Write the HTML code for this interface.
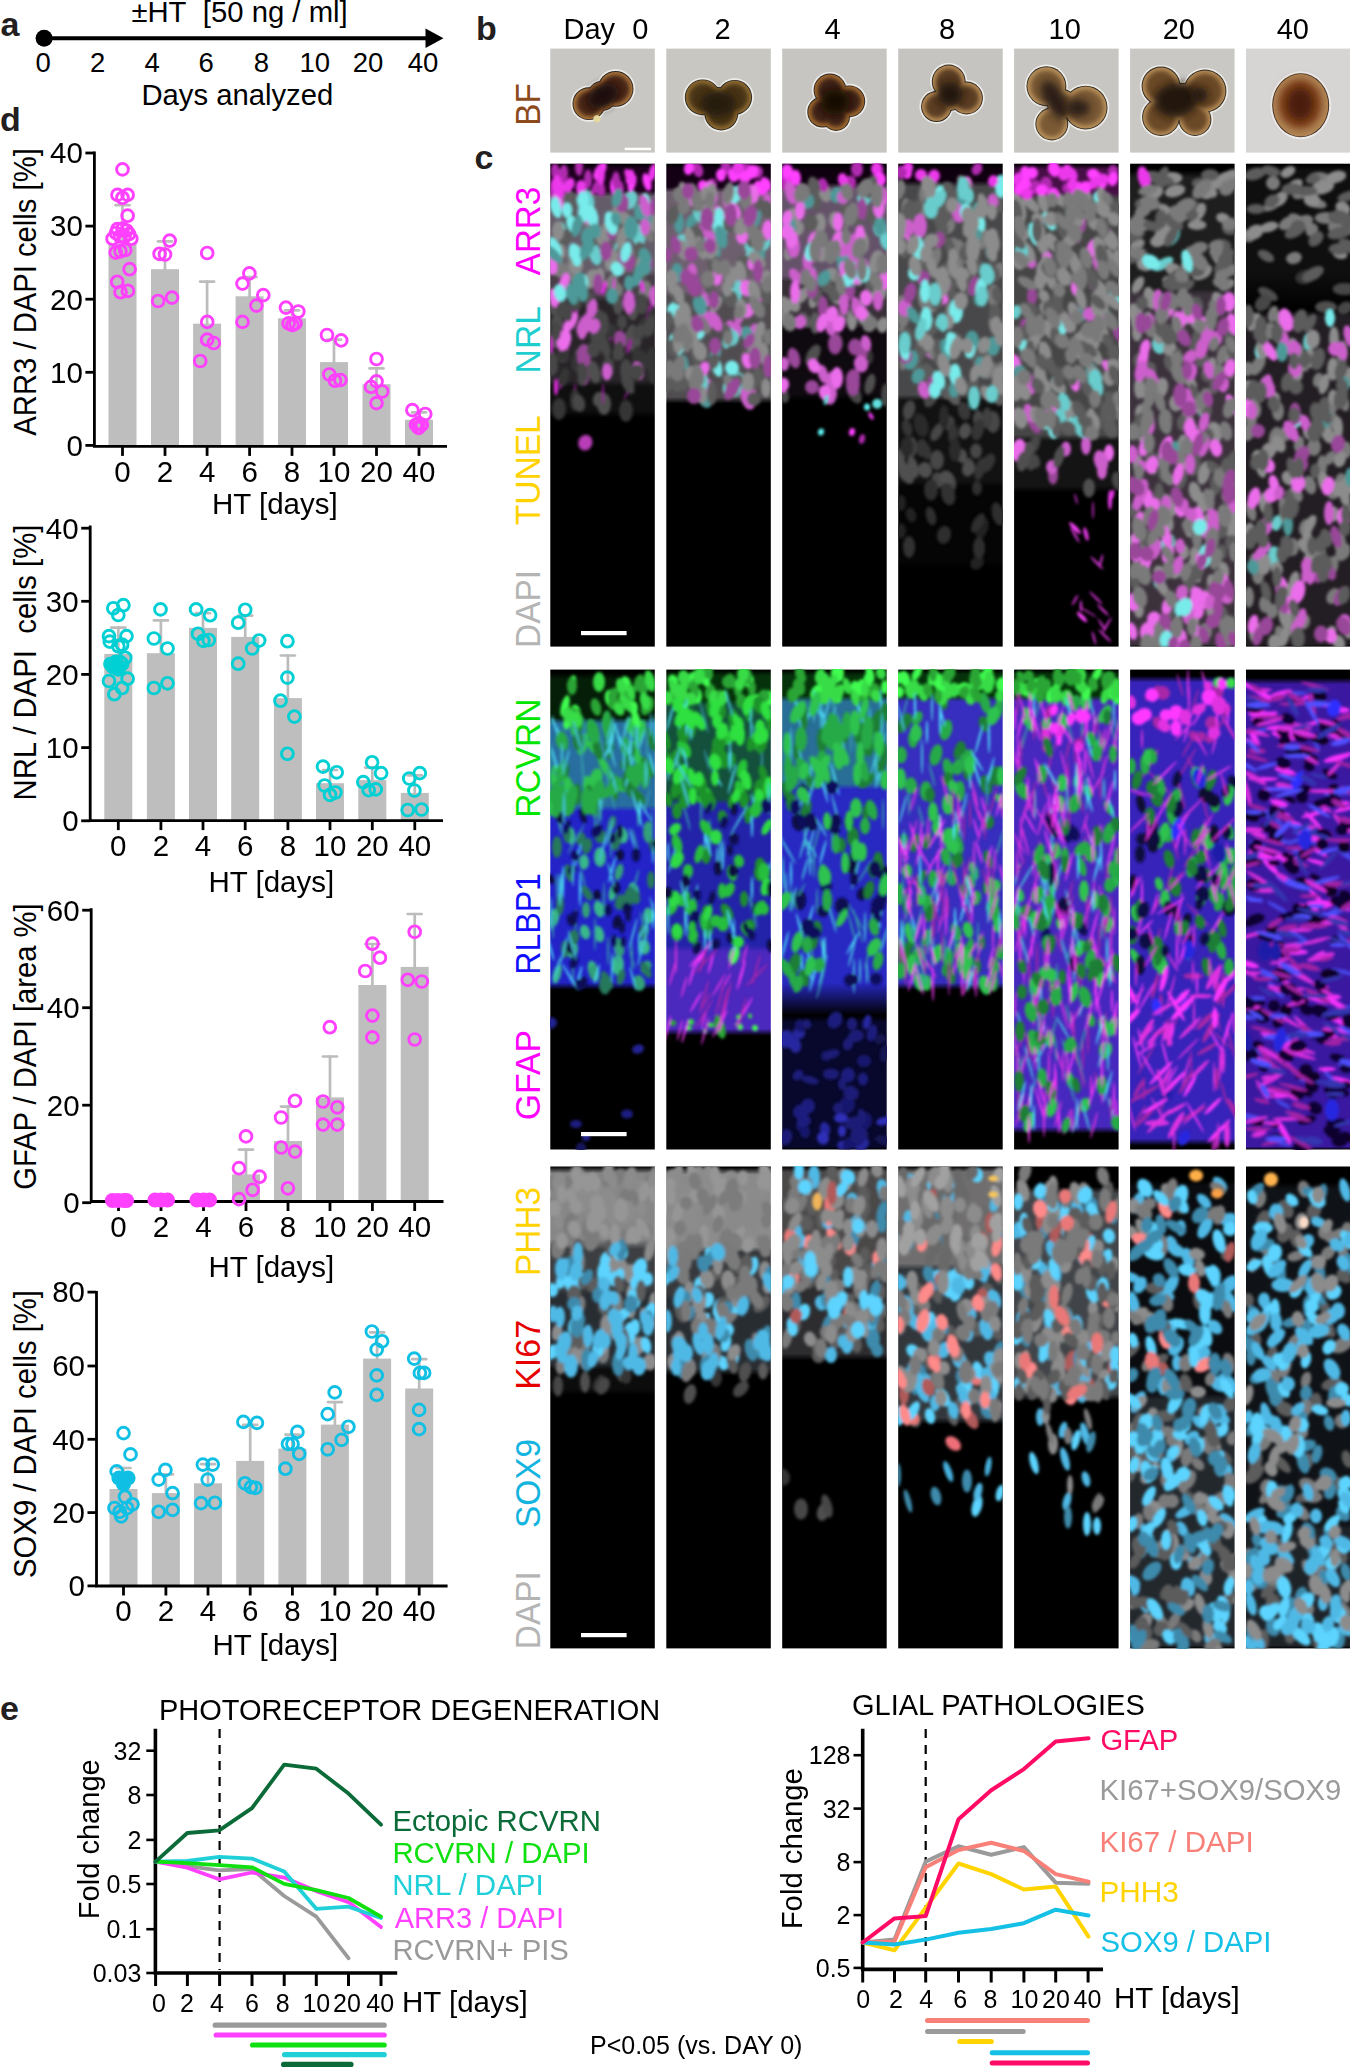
<!DOCTYPE html><html><head><meta charset="utf-8"><style>html,body{margin:0;padding:0;background:#fff;width:1350px;height:2068px;overflow:hidden}svg{display:block}text{font-family:"Liberation Sans",sans-serif}</style></head><body>
<svg width="1350" height="2068" viewBox="0 0 1350 2068" font-family="Liberation Sans, sans-serif">
<rect width="1350" height="2068" fill="#fff"/>
<text x="0.5" y="36.2" font-size="34" fill="#231f20" text-anchor="start" font-weight="bold" >a</text>
<text x="476.0" y="40.0" font-size="34" fill="#231f20" text-anchor="start" font-weight="bold" >b</text>
<text x="474.5" y="169.4" font-size="34" fill="#231f20" text-anchor="start" font-weight="bold" >c</text>
<text x="0.0" y="130.5" font-size="34" fill="#231f20" text-anchor="start" font-weight="bold" >d</text>
<text x="0.0" y="1720.0" font-size="34" fill="#231f20" text-anchor="start" font-weight="bold" >e</text>
<text x="131.4" y="22.2" font-size="29.7" fill="#000" textLength="216.3" lengthAdjust="spacingAndGlyphs">±HT&#160;&#160;[50 ng / ml]</text>
<line x1="44" y1="38.3" x2="428" y2="38.3" stroke="#000" stroke-width="4"/>
<circle cx="44.1" cy="38.2" r="8.5" fill="#000"/>
<polygon points="425.5,28.6 443.5,38.3 425.5,48" fill="#000"/>
<text x="43.2" y="72.4" font-size="27.5" fill="#000" text-anchor="middle" >0</text>
<text x="97.6" y="72.4" font-size="27.5" fill="#000" text-anchor="middle" >2</text>
<text x="152.2" y="72.4" font-size="27.5" fill="#000" text-anchor="middle" >4</text>
<text x="206.2" y="72.4" font-size="27.5" fill="#000" text-anchor="middle" >6</text>
<text x="261.3" y="72.4" font-size="27.5" fill="#000" text-anchor="middle" >8</text>
<text x="314.7" y="72.4" font-size="27.5" fill="#000" text-anchor="middle" >10</text>
<text x="368.0" y="72.4" font-size="27.5" fill="#000" text-anchor="middle" >20</text>
<text x="423.1" y="72.4" font-size="27.5" fill="#000" text-anchor="middle" >40</text>
<text x="141.4" y="104.9" font-size="29.9" fill="#000" textLength="191.9" lengthAdjust="spacingAndGlyphs">Days analyzed</text>
<defs><filter id="bl1" x="-20%" y="-20%" width="140%" height="140%"><feGaussianBlur stdDeviation="1.8"/></filter><filter id="bl2" x="-30%" y="-30%" width="160%" height="160%"><feGaussianBlur stdDeviation="2"/></filter><filter id="bl3" x="-10%" y="-10%" width="120%" height="120%"><feGaussianBlur stdDeviation="4"/></filter><filter id="bl4" x="-50%" y="-50%" width="200%" height="200%"><feGaussianBlur stdDeviation="4"/></filter></defs>
<rect x="550.3" y="48.6" width="104.5" height="104.0" fill="#c8c7c3"/>
<rect x="666.3" y="48.6" width="104.5" height="104.0" fill="#c9c7c2"/>
<rect x="782.2" y="48.6" width="104.5" height="104.0" fill="#c7c5c1"/>
<rect x="898.2" y="48.6" width="104.5" height="104.0" fill="#c6c4c0"/>
<rect x="1014.1" y="48.6" width="104.5" height="104.0" fill="#c8c6c2"/>
<rect x="1130.1" y="48.6" width="104.5" height="104.0" fill="#cac8c4"/>
<rect x="1246.0" y="48.6" width="104.0" height="104.0" fill="#d6d5d4"/>
<circle cx="588.9" cy="103.7" r="18.1" fill="#efeee9"/>
<circle cx="602" cy="96" r="16.6" fill="#efeee9"/>
<circle cx="615.6" cy="88.9" r="19.6" fill="#efeee9"/>
<circle cx="588.9" cy="103.7" r="16.4" fill="#2b2826"/>
<circle cx="602" cy="96" r="14.9" fill="#2b2826"/>
<circle cx="615.6" cy="88.9" r="17.9" fill="#2b2826"/>
<circle cx="588.9" cy="103.7" r="15.5" fill="#a8743c"/>
<circle cx="602" cy="96" r="14" fill="#a8743c"/>
<circle cx="615.6" cy="88.9" r="17" fill="#a8743c"/>
<circle cx="588.9" cy="103.7" r="12.3" fill="#4a2716" filter="url(#bl2)"/>
<circle cx="602" cy="96" r="10.8" fill="#4a2716" filter="url(#bl2)"/>
<circle cx="615.6" cy="88.9" r="13.8" fill="#4a2716" filter="url(#bl2)"/>
<ellipse cx="603" cy="96" rx="17" ry="11" transform="rotate(-30 603 96)" fill="#1c0c08" filter="url(#bl4)"/>
<circle cx="597" cy="118.8" r="3.6" fill="#e6d9a0"/>
<circle cx="702.7" cy="97.3" r="19.6" fill="#efeee9"/>
<circle cx="734.7" cy="97.3" r="19.1" fill="#efeee9"/>
<circle cx="721.3" cy="113.5" r="18.6" fill="#efeee9"/>
<circle cx="718" cy="104" r="18.6" fill="#efeee9"/>
<circle cx="702.7" cy="97.3" r="17.9" fill="#2b2826"/>
<circle cx="734.7" cy="97.3" r="17.4" fill="#2b2826"/>
<circle cx="721.3" cy="113.5" r="16.9" fill="#2b2826"/>
<circle cx="718" cy="104" r="16.9" fill="#2b2826"/>
<circle cx="702.7" cy="97.3" r="17" fill="#8e6a32"/>
<circle cx="734.7" cy="97.3" r="16.5" fill="#8e6a32"/>
<circle cx="721.3" cy="113.5" r="16" fill="#8e6a32"/>
<circle cx="718" cy="104" r="16" fill="#8e6a32"/>
<circle cx="702.7" cy="97.3" r="13.8" fill="#4a3518" filter="url(#bl2)"/>
<circle cx="734.7" cy="97.3" r="13.3" fill="#4a3518" filter="url(#bl2)"/>
<circle cx="721.3" cy="113.5" r="12.8" fill="#4a3518" filter="url(#bl2)"/>
<circle cx="718" cy="104" r="12.8" fill="#4a3518" filter="url(#bl2)"/>
<ellipse cx="718" cy="104" rx="18" ry="13" transform="rotate(0 718 104)" fill="#261a10" filter="url(#bl4)"/>
<circle cx="830" cy="90" r="18.1" fill="#efeee9"/>
<circle cx="849.3" cy="101.3" r="17.6" fill="#efeee9"/>
<circle cx="822.7" cy="112" r="17.1" fill="#efeee9"/>
<circle cx="836" cy="117" r="15.6" fill="#efeee9"/>
<circle cx="836" cy="103" r="17.6" fill="#efeee9"/>
<circle cx="830" cy="90" r="16.4" fill="#2b2826"/>
<circle cx="849.3" cy="101.3" r="15.9" fill="#2b2826"/>
<circle cx="822.7" cy="112" r="15.4" fill="#2b2826"/>
<circle cx="836" cy="117" r="13.9" fill="#2b2826"/>
<circle cx="836" cy="103" r="15.9" fill="#2b2826"/>
<circle cx="830" cy="90" r="15.5" fill="#a06a30"/>
<circle cx="849.3" cy="101.3" r="15" fill="#a06a30"/>
<circle cx="822.7" cy="112" r="14.5" fill="#a06a30"/>
<circle cx="836" cy="117" r="13" fill="#a06a30"/>
<circle cx="836" cy="103" r="15" fill="#a06a30"/>
<circle cx="830" cy="90" r="12.3" fill="#3f2412" filter="url(#bl2)"/>
<circle cx="849.3" cy="101.3" r="11.8" fill="#3f2412" filter="url(#bl2)"/>
<circle cx="822.7" cy="112" r="11.3" fill="#3f2412" filter="url(#bl2)"/>
<circle cx="836" cy="117" r="9.8" fill="#3f2412" filter="url(#bl2)"/>
<circle cx="836" cy="103" r="11.8" fill="#3f2412" filter="url(#bl2)"/>
<ellipse cx="835" cy="102" rx="15" ry="13" transform="rotate(0 835 102)" fill="#150b06" filter="url(#bl4)"/>
<circle cx="948.7" cy="81.5" r="18.6" fill="#efeee9"/>
<circle cx="936.5" cy="106.5" r="17.1" fill="#efeee9"/>
<circle cx="966.5" cy="98" r="18.1" fill="#efeee9"/>
<circle cx="950" cy="96" r="16.6" fill="#efeee9"/>
<circle cx="948.7" cy="81.5" r="16.9" fill="#2b2826"/>
<circle cx="936.5" cy="106.5" r="15.4" fill="#2b2826"/>
<circle cx="966.5" cy="98" r="16.4" fill="#2b2826"/>
<circle cx="950" cy="96" r="14.9" fill="#2b2826"/>
<circle cx="948.7" cy="81.5" r="16" fill="#b68a55"/>
<circle cx="936.5" cy="106.5" r="14.5" fill="#b68a55"/>
<circle cx="966.5" cy="98" r="15.5" fill="#b68a55"/>
<circle cx="950" cy="96" r="14" fill="#b68a55"/>
<circle cx="948.7" cy="81.5" r="12.8" fill="#5a3c22" filter="url(#bl2)"/>
<circle cx="936.5" cy="106.5" r="11.3" fill="#5a3c22" filter="url(#bl2)"/>
<circle cx="966.5" cy="98" r="12.3" fill="#5a3c22" filter="url(#bl2)"/>
<circle cx="950" cy="96" r="10.8" fill="#5a3c22" filter="url(#bl2)"/>
<ellipse cx="950" cy="94" rx="13" ry="12" transform="rotate(0 950 94)" fill="#24170d" filter="url(#bl4)"/>
<circle cx="1046.4" cy="86.2" r="21.6" fill="#efeee9"/>
<circle cx="1085.6" cy="107.6" r="23.6" fill="#efeee9"/>
<circle cx="1051.8" cy="124" r="18.1" fill="#efeee9"/>
<circle cx="1062" cy="104" r="16.6" fill="#efeee9"/>
<circle cx="1046.4" cy="86.2" r="19.9" fill="#2b2826"/>
<circle cx="1085.6" cy="107.6" r="21.9" fill="#2b2826"/>
<circle cx="1051.8" cy="124" r="16.4" fill="#2b2826"/>
<circle cx="1062" cy="104" r="14.9" fill="#2b2826"/>
<circle cx="1046.4" cy="86.2" r="19" fill="#b8905a"/>
<circle cx="1085.6" cy="107.6" r="21" fill="#b8905a"/>
<circle cx="1051.8" cy="124" r="15.5" fill="#b8905a"/>
<circle cx="1062" cy="104" r="14" fill="#b8905a"/>
<circle cx="1046.4" cy="86.2" r="15.8" fill="#7a5a35" filter="url(#bl2)"/>
<circle cx="1085.6" cy="107.6" r="17.8" fill="#7a5a35" filter="url(#bl2)"/>
<circle cx="1051.8" cy="124" r="12.3" fill="#7a5a35" filter="url(#bl2)"/>
<circle cx="1062" cy="104" r="10.8" fill="#7a5a35" filter="url(#bl2)"/>
<ellipse cx="1055" cy="100" rx="10" ry="22" transform="rotate(-30 1055 100)" fill="#2a1d12" filter="url(#bl4)"/>
<ellipse cx="1078" cy="108" rx="12" ry="9" transform="rotate(0 1078 108)" fill="#2a1d12" filter="url(#bl4)"/>
<circle cx="1161" cy="86" r="21.1" fill="#efeee9"/>
<circle cx="1205" cy="91" r="23.1" fill="#efeee9"/>
<circle cx="1161" cy="117" r="20.6" fill="#efeee9"/>
<circle cx="1195" cy="119.5" r="18.1" fill="#efeee9"/>
<circle cx="1182" cy="102" r="20.6" fill="#efeee9"/>
<circle cx="1161" cy="86" r="19.4" fill="#2b2826"/>
<circle cx="1205" cy="91" r="21.4" fill="#2b2826"/>
<circle cx="1161" cy="117" r="18.9" fill="#2b2826"/>
<circle cx="1195" cy="119.5" r="16.4" fill="#2b2826"/>
<circle cx="1182" cy="102" r="18.9" fill="#2b2826"/>
<circle cx="1161" cy="86" r="18.5" fill="#b48a55"/>
<circle cx="1205" cy="91" r="20.5" fill="#b48a55"/>
<circle cx="1161" cy="117" r="18" fill="#b48a55"/>
<circle cx="1195" cy="119.5" r="15.5" fill="#b48a55"/>
<circle cx="1182" cy="102" r="18" fill="#b48a55"/>
<circle cx="1161" cy="86" r="15.3" fill="#6a4a28" filter="url(#bl2)"/>
<circle cx="1205" cy="91" r="17.3" fill="#6a4a28" filter="url(#bl2)"/>
<circle cx="1161" cy="117" r="14.8" fill="#6a4a28" filter="url(#bl2)"/>
<circle cx="1195" cy="119.5" r="12.3" fill="#6a4a28" filter="url(#bl2)"/>
<circle cx="1182" cy="102" r="14.8" fill="#6a4a28" filter="url(#bl2)"/>
<ellipse cx="1176" cy="100" rx="22" ry="17" transform="rotate(-10 1176 100)" fill="#20160e" filter="url(#bl4)"/>
<ellipse cx="1200" cy="95" rx="8" ry="8" transform="rotate(0 1200 95)" fill="#20160e" filter="url(#bl4)"/>
<ellipse cx="1300.7" cy="105.3" rx="30.5" ry="34" fill="#efeeed"/>
<ellipse cx="1300.7" cy="105.3" rx="28.5" ry="32" fill="#3a2a22"/>
<ellipse cx="1300.7" cy="105.3" rx="27.6" ry="31.2" fill="#b3885a"/>
<ellipse cx="1300" cy="104" rx="22" ry="25" fill="#7a3c18" filter="url(#bl4)"/>
<ellipse cx="1300" cy="104" rx="13" ry="16" fill="#4a1a08" filter="url(#bl4)"/>
<rect x="624.7" y="147.7" width="26.4" height="2.5" fill="#fff"/>
<linearGradient id="g00" x1="0" y1="0" x2="0" y2="1"><stop offset="0.000" stop-color="#000000"/><stop offset="0.010" stop-color="#1e001e"/><stop offset="0.056" stop-color="#1e001e"/><stop offset="0.068" stop-color="#645c69"/><stop offset="0.222" stop-color="#645c69"/><stop offset="0.234" stop-color="#483e48"/><stop offset="0.273" stop-color="#483e48"/><stop offset="0.286" stop-color="#282428"/><stop offset="0.449" stop-color="#282428"/><stop offset="0.462" stop-color="#0f0f0f"/><stop offset="0.511" stop-color="#0f0f0f"/><stop offset="0.526" stop-color="#000000"/></linearGradient>
<rect x="550.3" y="163.7" width="104.5" height="482.9" fill="url(#g00)"/>
<g clip-path="url(#c00)" filter="url(#bl1)">
<g fill="#69cdcd"><use href="#p29" x="560" y="229"/><use href="#p40" x="638" y="235"/><use href="#p46" x="627" y="202"/><use href="#p50" x="620" y="248"/><use href="#p39" x="588" y="200"/><use href="#p22" x="595" y="254"/><use href="#p33" x="642" y="270"/><use href="#p63" x="631" y="200"/></g>
<g fill="#5b5b5b"><use href="#p18" x="569" y="217"/><use href="#p30" x="620" y="227"/><use href="#p36" x="596" y="238"/><use href="#p41" x="617" y="260"/><use href="#p44" x="566" y="237"/><use href="#p54" x="622" y="212"/><use href="#p54" x="570" y="218"/><use href="#p42" x="641" y="251"/><use href="#p39" x="571" y="201"/><use href="#p50" x="634" y="261"/><use href="#p72" x="641" y="276"/></g>
<g fill="#ff3fff"><use href="#p0" x="630" y="177"/><use href="#p0" x="569" y="185"/><use href="#p9" x="600" y="171"/><use href="#p13" x="647" y="182"/><use href="#p5" x="632" y="183"/><use href="#p16" x="615" y="186"/></g>
<g fill="#7a7a7a"><use href="#p19" x="647" y="232"/><use href="#p20" x="627" y="258"/><use href="#p22" x="623" y="253"/><use href="#p32" x="575" y="255"/><use href="#p42" x="570" y="272"/><use href="#p60" x="589" y="218"/><use href="#p27" x="559" y="268"/><use href="#p63" x="645" y="290"/><use href="#p25" x="557" y="296"/><use href="#p74" x="612" y="282"/><use href="#p77" x="618" y="290"/></g>
<g fill="#8c8c8c"><use href="#p17" x="622" y="237"/><use href="#p16" x="607" y="230"/><use href="#p22" x="653" y="221"/><use href="#p34" x="576" y="266"/><use href="#p39" x="619" y="264"/><use href="#p48" x="560" y="252"/><use href="#p18" x="618" y="212"/><use href="#p49" x="558" y="231"/><use href="#p55" x="642" y="263"/><use href="#p55" x="611" y="260"/><use href="#p56" x="626" y="220"/><use href="#p61" x="603" y="237"/><use href="#p45" x="596" y="231"/><use href="#p67" x="600" y="277"/><use href="#p69" x="591" y="279"/></g>
<g fill="#505050"><use href="#p45" x="563" y="355"/><use href="#p45" x="557" y="323"/><use href="#p22" x="594" y="372"/><use href="#p50" x="593" y="317"/><use href="#p71" x="630" y="336"/><use href="#p47" x="619" y="353"/><use href="#p22" x="591" y="304"/><use href="#p16" x="618" y="305"/><use href="#p73" x="608" y="368"/><use href="#p67" x="633" y="311"/><use href="#p66" x="580" y="358"/><use href="#p89" x="635" y="342"/><use href="#p22" x="631" y="309"/><use href="#p91" x="583" y="355"/><use href="#p61" x="556" y="339"/><use href="#p42" x="555" y="308"/><use href="#p115" x="604" y="404"/><use href="#p117" x="598" y="399"/></g>
<g fill="#c828c8"><use href="#p100" x="632" y="306"/><use href="#p107" x="551" y="347"/></g>
<g fill="#e52ee5"><use href="#p94" x="604" y="288"/><use href="#p95" x="641" y="368"/><use href="#p104" x="568" y="339"/><use href="#p108" x="614" y="285"/><use href="#p109" x="642" y="286"/><use href="#p112" x="556" y="387"/><use href="#p111" x="577" y="308"/><use href="#p114" x="562" y="381"/></g>
<g fill="#b029b0"><use href="#p1" x="588" y="179"/><use href="#p3" x="553" y="189"/><use href="#p7" x="597" y="186"/><use href="#p8" x="616" y="180"/><use href="#p11" x="561" y="177"/><use href="#p12" x="555" y="171"/><use href="#p8" x="564" y="173"/><use href="#p3" x="579" y="166"/><use href="#p14" x="600" y="188"/><use href="#p15" x="619" y="189"/></g>
<g fill="#961e96"><use href="#p96" x="629" y="346"/><use href="#p97" x="625" y="370"/><use href="#p98" x="567" y="339"/><use href="#p99" x="603" y="394"/><use href="#p101" x="566" y="342"/><use href="#p102" x="573" y="314"/><use href="#p103" x="629" y="390"/><use href="#p105" x="573" y="302"/><use href="#p106" x="608" y="334"/><use href="#p110" x="649" y="313"/><use href="#p111" x="575" y="393"/><use href="#p113" x="579" y="362"/></g>
<g fill="#343434"><use href="#p45" x="611" y="331"/><use href="#p79" x="629" y="380"/><use href="#p73" x="644" y="328"/><use href="#p15" x="576" y="363"/><use href="#p42" x="650" y="363"/><use href="#p84" x="579" y="325"/><use href="#p84" x="589" y="322"/><use href="#p86" x="589" y="320"/><use href="#p26" x="564" y="377"/><use href="#p87" x="653" y="357"/><use href="#p45" x="563" y="354"/><use href="#p88" x="603" y="333"/><use href="#p41" x="654" y="373"/><use href="#p72" x="637" y="357"/><use href="#p90" x="644" y="360"/><use href="#p61" x="654" y="317"/><use href="#p115" x="626" y="411"/><use href="#p72" x="575" y="400"/><use href="#p115" x="559" y="409"/></g>
<g fill="#994799"><use href="#p23" x="625" y="258"/><use href="#p51" x="554" y="255"/><use href="#p53" x="622" y="203"/><use href="#p49" x="606" y="251"/><use href="#p58" x="652" y="208"/><use href="#p63" x="647" y="265"/><use href="#p64" x="630" y="263"/><use href="#p4" x="612" y="232"/><use href="#p75" x="598" y="284"/><use href="#p67" x="584" y="376"/><use href="#p27" x="620" y="340"/><use href="#p56" x="591" y="319"/><use href="#p21" x="584" y="356"/></g>
<g fill="#eb6deb"><use href="#p59" x="589" y="216"/><use href="#p62" x="551" y="265"/><use href="#p66" x="558" y="201"/><use href="#p66" x="554" y="298"/><use href="#p68" x="564" y="284"/><use href="#p20" x="564" y="340"/><use href="#p70" x="638" y="371"/><use href="#p92" x="570" y="323"/></g>
<g fill="#eb37eb"><use href="#p2" x="569" y="185"/><use href="#p4" x="581" y="188"/><use href="#p5" x="653" y="172"/><use href="#p6" x="601" y="174"/><use href="#p10" x="630" y="177"/><use href="#p16" x="557" y="185"/><use href="#p8" x="561" y="190"/></g>
<g fill="#78ebeb"><use href="#p25" x="583" y="200"/><use href="#p31" x="617" y="269"/><use href="#p35" x="556" y="208"/><use href="#p37" x="572" y="224"/><use href="#p38" x="611" y="223"/><use href="#p47" x="567" y="210"/><use href="#p22" x="592" y="216"/><use href="#p4" x="555" y="205"/><use href="#p15" x="645" y="202"/><use href="#p49" x="584" y="212"/><use href="#p11" x="577" y="258"/><use href="#p57" x="555" y="247"/><use href="#p46" x="626" y="252"/><use href="#p62" x="575" y="253"/><use href="#p70" x="560" y="293"/><use href="#p56" x="583" y="281"/></g>
<g fill="#464646"><use href="#p78" x="627" y="380"/><use href="#p34" x="594" y="349"/><use href="#p18" x="562" y="310"/><use href="#p76" x="550" y="364"/><use href="#p80" x="598" y="317"/><use href="#p82" x="637" y="372"/><use href="#p41" x="626" y="370"/><use href="#p83" x="639" y="332"/><use href="#p28" x="605" y="347"/><use href="#p39" x="566" y="311"/><use href="#p14" x="609" y="365"/><use href="#p11" x="582" y="371"/><use href="#p55" x="650" y="326"/><use href="#p49" x="552" y="366"/><use href="#p73" x="642" y="304"/><use href="#p27" x="576" y="302"/><use href="#p51" x="604" y="324"/><use href="#p85" x="618" y="351"/><use href="#p47" x="622" y="322"/><use href="#p16" x="556" y="331"/><use href="#p45" x="596" y="336"/><use href="#p93" x="583" y="377"/><use href="#p116" x="628" y="385"/><use href="#p70" x="579" y="403"/></g>
<g fill="#4e9999"><use href="#p17" x="577" y="226"/><use href="#p21" x="631" y="228"/><use href="#p24" x="553" y="254"/><use href="#p26" x="617" y="198"/><use href="#p27" x="587" y="237"/><use href="#p33" x="616" y="219"/><use href="#p43" x="646" y="218"/><use href="#p45" x="595" y="231"/><use href="#p26" x="585" y="251"/><use href="#p52" x="588" y="247"/><use href="#p42" x="645" y="257"/><use href="#p4" x="639" y="212"/><use href="#p65" x="644" y="268"/><use href="#p39" x="572" y="294"/><use href="#p16" x="583" y="292"/><use href="#p71" x="638" y="275"/><use href="#p4" x="629" y="283"/><use href="#p48" x="612" y="296"/><use href="#p76" x="578" y="284"/></g>
<g fill="#cd5fcd"><use href="#p28" x="645" y="206"/><use href="#p11" x="645" y="227"/><use href="#p73" x="655" y="296"/><use href="#p50" x="594" y="326"/><use href="#p11" x="607" y="372"/><use href="#p81" x="629" y="302"/><use href="#p55" x="585" y="325"/><use href="#p85" x="592" y="309"/><use href="#p67" x="582" y="330"/></g>
</g>
<clipPath id="c00"><rect x="550.3" y="163.7" width="104.5" height="482.9"/></clipPath>
<linearGradient id="g01" x1="0" y1="0" x2="0" y2="1"><stop offset="0.000" stop-color="#000000"/><stop offset="0.010" stop-color="#140014"/><stop offset="0.048" stop-color="#140014"/><stop offset="0.060" stop-color="#6e5f6e"/><stop offset="0.263" stop-color="#6e5f6e"/><stop offset="0.275" stop-color="#504c50"/><stop offset="0.483" stop-color="#504c50"/><stop offset="0.497" stop-color="#000000"/></linearGradient>
<rect x="666.3" y="163.7" width="104.5" height="482.9" fill="url(#g01)"/>
<g clip-path="url(#c01)" filter="url(#bl1)">
<g fill="#cd5fcd"><use href="#p62" x="719" y="215"/><use href="#p90" x="708" y="246"/><use href="#p18" x="710" y="239"/><use href="#p15" x="692" y="272"/><use href="#p35" x="769" y="204"/><use href="#p89" x="693" y="238"/><use href="#p75" x="727" y="198"/><use href="#p41" x="740" y="290"/><use href="#p143" x="704" y="234"/><use href="#p49" x="712" y="196"/><use href="#p35" x="768" y="366"/><use href="#p59" x="729" y="328"/><use href="#p17" x="740" y="314"/><use href="#p155" x="748" y="398"/><use href="#p62" x="705" y="297"/><use href="#p50" x="758" y="297"/><use href="#p43" x="736" y="330"/><use href="#p40" x="705" y="320"/><use href="#p160" x="715" y="321"/><use href="#p91" x="752" y="395"/><use href="#p73" x="755" y="334"/><use href="#p63" x="705" y="387"/></g>
<g fill="#78ebeb"><use href="#p129" x="720" y="228"/><use href="#p63" x="735" y="195"/><use href="#p32" x="753" y="256"/><use href="#p67" x="719" y="217"/><use href="#p140" x="674" y="310"/><use href="#p152" x="676" y="342"/><use href="#p141" x="699" y="328"/><use href="#p90" x="749" y="299"/><use href="#p91" x="717" y="367"/><use href="#p65" x="732" y="368"/><use href="#p117" x="681" y="339"/><use href="#p18" x="678" y="347"/><use href="#p16" x="729" y="295"/></g>
<g fill="#4e9999"><use href="#p42" x="759" y="253"/><use href="#p49" x="677" y="273"/><use href="#p93" x="691" y="223"/><use href="#p45" x="715" y="252"/><use href="#p45" x="721" y="236"/><use href="#p75" x="679" y="223"/><use href="#p76" x="754" y="218"/><use href="#p38" x="721" y="237"/><use href="#p79" x="683" y="367"/><use href="#p148" x="705" y="400"/><use href="#p43" x="747" y="334"/><use href="#p159" x="700" y="305"/><use href="#p47" x="674" y="377"/><use href="#p9" x="715" y="355"/></g>
<g fill="#b029b0"><use href="#p29" x="746" y="170"/><use href="#p121" x="698" y="170"/><use href="#p47" x="712" y="186"/><use href="#p121" x="726" y="167"/><use href="#p126" x="748" y="172"/><use href="#p45" x="748" y="172"/><use href="#p123" x="757" y="172"/></g>
<g fill="#ff3fff"><use href="#p29" x="734" y="175"/><use href="#p118" x="766" y="184"/><use href="#p119" x="760" y="188"/><use href="#p122" x="703" y="186"/><use href="#p123" x="745" y="177"/><use href="#p124" x="752" y="172"/><use href="#p125" x="721" y="175"/><use href="#p127" x="689" y="168"/><use href="#p128" x="764" y="187"/></g>
<g fill="#69cdcd"><use href="#p71" x="767" y="239"/><use href="#p53" x="705" y="248"/><use href="#p132" x="751" y="248"/><use href="#p88" x="698" y="212"/><use href="#p138" x="674" y="290"/><use href="#p72" x="738" y="291"/><use href="#p144" x="683" y="242"/><use href="#p26" x="728" y="386"/><use href="#p17" x="728" y="338"/><use href="#p56" x="740" y="380"/><use href="#p81" x="702" y="382"/><use href="#p157" x="732" y="338"/><use href="#p127" x="736" y="390"/></g>
<g fill="#5b5b5b"><use href="#p89" x="673" y="215"/><use href="#p18" x="729" y="224"/><use href="#p72" x="746" y="266"/><use href="#p49" x="742" y="266"/><use href="#p135" x="743" y="262"/><use href="#p37" x="750" y="239"/><use href="#p4" x="757" y="203"/><use href="#p139" x="696" y="203"/><use href="#p61" x="714" y="264"/><use href="#p145" x="768" y="230"/><use href="#p117" x="709" y="287"/><use href="#p40" x="697" y="236"/><use href="#p129" x="767" y="209"/><use href="#p82" x="696" y="290"/><use href="#p132" x="737" y="215"/><use href="#p133" x="713" y="362"/><use href="#p137" x="731" y="299"/><use href="#p149" x="766" y="295"/><use href="#p149" x="732" y="388"/><use href="#p91" x="727" y="333"/><use href="#p117" x="713" y="295"/><use href="#p14" x="746" y="301"/><use href="#p54" x="755" y="380"/><use href="#p127" x="738" y="381"/><use href="#p11" x="746" y="357"/><use href="#p28" x="686" y="339"/><use href="#p89" x="667" y="321"/><use href="#p25" x="760" y="310"/><use href="#p70" x="673" y="348"/><use href="#p57" x="761" y="377"/><use href="#p79" x="697" y="352"/><use href="#p51" x="712" y="393"/><use href="#p72" x="684" y="380"/><use href="#p43" x="733" y="386"/><use href="#p22" x="676" y="294"/><use href="#p49" x="678" y="335"/><use href="#p149" x="677" y="384"/><use href="#p161" x="754" y="399"/><use href="#p47" x="767" y="297"/><use href="#p63" x="668" y="383"/></g>
<g fill="#eb6deb"><use href="#p49" x="768" y="230"/><use href="#p73" x="709" y="191"/><use href="#p59" x="753" y="262"/><use href="#p87" x="752" y="194"/><use href="#p48" x="742" y="236"/><use href="#p11" x="717" y="277"/><use href="#p82" x="747" y="288"/><use href="#p50" x="694" y="199"/><use href="#p147" x="734" y="211"/><use href="#p56" x="747" y="361"/><use href="#p117" x="704" y="369"/><use href="#p151" x="684" y="326"/><use href="#p124" x="748" y="311"/></g>
<g fill="#eb37eb"><use href="#p120" x="738" y="168"/></g>
<g fill="#8c8c8c"><use href="#p35" x="684" y="192"/><use href="#p131" x="742" y="226"/><use href="#p63" x="712" y="250"/><use href="#p37" x="672" y="286"/><use href="#p53" x="708" y="212"/><use href="#p61" x="671" y="279"/><use href="#p26" x="684" y="198"/><use href="#p133" x="735" y="274"/><use href="#p121" x="727" y="289"/><use href="#p46" x="729" y="195"/><use href="#p84" x="683" y="250"/><use href="#p11" x="712" y="192"/><use href="#p136" x="757" y="260"/><use href="#p49" x="730" y="276"/><use href="#p117" x="705" y="194"/><use href="#p74" x="766" y="278"/><use href="#p146" x="701" y="248"/><use href="#p39" x="754" y="291"/><use href="#p88" x="690" y="238"/><use href="#p35" x="741" y="271"/><use href="#p91" x="679" y="295"/><use href="#p73" x="763" y="353"/><use href="#p62" x="685" y="311"/><use href="#p67" x="766" y="388"/><use href="#p30" x="716" y="304"/><use href="#p144" x="692" y="374"/><use href="#p25" x="692" y="330"/><use href="#p154" x="700" y="351"/><use href="#p76" x="755" y="344"/><use href="#p49" x="741" y="309"/><use href="#p18" x="684" y="329"/><use href="#p49" x="748" y="382"/><use href="#p72" x="679" y="319"/><use href="#p15" x="702" y="395"/><use href="#p152" x="691" y="338"/><use href="#p75" x="678" y="343"/><use href="#p93" x="760" y="330"/><use href="#p153" x="690" y="325"/></g>
<g fill="#7a7a7a"><use href="#p130" x="684" y="206"/><use href="#p43" x="679" y="195"/><use href="#p17" x="728" y="193"/><use href="#p39" x="697" y="201"/><use href="#p11" x="710" y="200"/><use href="#p14" x="717" y="267"/><use href="#p137" x="708" y="279"/><use href="#p18" x="725" y="268"/><use href="#p84" x="753" y="233"/><use href="#p52" x="768" y="284"/><use href="#p77" x="701" y="246"/><use href="#p141" x="758" y="241"/><use href="#p73" x="746" y="199"/><use href="#p47" x="732" y="218"/><use href="#p29" x="691" y="190"/><use href="#p85" x="688" y="343"/><use href="#p26" x="668" y="369"/><use href="#p117" x="739" y="312"/><use href="#p47" x="728" y="338"/><use href="#p143" x="685" y="334"/><use href="#p153" x="757" y="307"/><use href="#p39" x="695" y="385"/><use href="#p69" x="681" y="333"/><use href="#p158" x="730" y="384"/><use href="#p116" x="704" y="325"/><use href="#p63" x="679" y="365"/><use href="#p39" x="698" y="375"/><use href="#p82" x="770" y="337"/><use href="#p144" x="677" y="373"/></g>
<g fill="#994799"><use href="#p53" x="693" y="283"/><use href="#p81" x="731" y="215"/><use href="#p117" x="667" y="255"/><use href="#p134" x="710" y="246"/><use href="#p48" x="686" y="277"/><use href="#p48" x="688" y="191"/><use href="#p140" x="695" y="289"/><use href="#p141" x="707" y="219"/><use href="#p142" x="758" y="271"/><use href="#p23" x="691" y="254"/><use href="#p66" x="676" y="245"/><use href="#p20" x="750" y="216"/><use href="#p53" x="744" y="190"/><use href="#p4" x="696" y="323"/><use href="#p150" x="732" y="389"/><use href="#p156" x="749" y="341"/><use href="#p15" x="714" y="300"/><use href="#p18" x="715" y="346"/><use href="#p82" x="694" y="396"/><use href="#p45" x="698" y="325"/><use href="#p142" x="768" y="366"/><use href="#p41" x="755" y="358"/></g>
</g>
<clipPath id="c01"><rect x="666.3" y="163.7" width="104.5" height="482.9"/></clipPath>
<linearGradient id="g02" x1="0" y1="0" x2="0" y2="1"><stop offset="0.000" stop-color="#000000"/><stop offset="0.012" stop-color="#0f000f"/><stop offset="0.039" stop-color="#0f000f"/><stop offset="0.052" stop-color="#645269"/><stop offset="0.232" stop-color="#645269"/><stop offset="0.244" stop-color="#373037"/><stop offset="0.329" stop-color="#373037"/><stop offset="0.342" stop-color="#0f0a0f"/><stop offset="0.476" stop-color="#0f0a0f"/><stop offset="0.491" stop-color="#000000"/></linearGradient>
<rect x="782.2" y="163.7" width="104.5" height="482.9" fill="url(#g02)"/>
<g clip-path="url(#c02)" filter="url(#bl1)">
<g fill="#8c8c8c"><use href="#p41" x="863" y="243"/><use href="#p81" x="815" y="248"/><use href="#p167" x="854" y="265"/><use href="#p85" x="852" y="259"/><use href="#p152" x="836" y="221"/><use href="#p64" x="789" y="252"/><use href="#p168" x="831" y="275"/><use href="#p45" x="798" y="228"/><use href="#p42" x="825" y="193"/><use href="#p59" x="842" y="228"/><use href="#p67" x="853" y="212"/><use href="#p64" x="823" y="254"/><use href="#p27" x="845" y="249"/><use href="#p61" x="878" y="259"/><use href="#p67" x="874" y="265"/><use href="#p118" x="879" y="204"/><use href="#p31" x="810" y="275"/><use href="#p35" x="794" y="218"/><use href="#p49" x="820" y="223"/><use href="#p31" x="794" y="305"/><use href="#p74" x="883" y="325"/><use href="#p174" x="867" y="297"/><use href="#p176" x="880" y="292"/><use href="#p177" x="803" y="295"/><use href="#p139" x="837" y="296"/><use href="#p45" x="784" y="318"/><use href="#p26" x="814" y="299"/><use href="#p72" x="852" y="320"/><use href="#p118" x="857" y="279"/><use href="#p179" x="865" y="318"/><use href="#p70" x="785" y="305"/></g>
<g fill="#b029b0"><use href="#p120" x="793" y="180"/><use href="#p151" x="878" y="168"/><use href="#p48" x="857" y="169"/><use href="#p56" x="783" y="182"/><use href="#p33" x="823" y="185"/><use href="#p162" x="794" y="176"/><use href="#p50" x="850" y="183"/><use href="#p182" x="862" y="439"/></g>
<g fill="#69cdcd"><use href="#p44" x="849" y="270"/><use href="#p61" x="880" y="228"/><use href="#p42" x="886" y="241"/><use href="#p157" x="864" y="198"/></g>
<g fill="#505050"><use href="#p46" x="870" y="384"/><use href="#p171" x="813" y="355"/><use href="#p72" x="864" y="351"/></g>
<g fill="#eb37eb"><use href="#p125" x="876" y="169"/><use href="#p134" x="789" y="176"/><use href="#p33" x="843" y="180"/><use href="#p184" x="871" y="416"/></g>
<g fill="#ff3fff"><use href="#p29" x="787" y="171"/><use href="#p47" x="796" y="178"/><use href="#p135" x="880" y="179"/><use href="#p186" x="828" y="397"/><use href="#p187" x="852" y="432"/></g>
<g fill="#464646"><use href="#p142" x="886" y="395"/><use href="#p160" x="854" y="393"/><use href="#p33" x="784" y="396"/></g>
<g fill="#61f7f7"><use href="#p183" x="821" y="432"/><use href="#p188" x="867" y="407"/></g>
<g fill="#5b5b5b"><use href="#p88" x="859" y="223"/><use href="#p157" x="811" y="223"/><use href="#p166" x="846" y="209"/><use href="#p170" x="839" y="229"/><use href="#p42" x="815" y="201"/><use href="#p165" x="871" y="187"/><use href="#p19" x="871" y="216"/><use href="#p42" x="814" y="186"/><use href="#p59" x="843" y="316"/><use href="#p11" x="870" y="285"/><use href="#p117" x="817" y="296"/><use href="#p175" x="826" y="284"/><use href="#p18" x="856" y="309"/><use href="#p28" x="823" y="306"/><use href="#p72" x="815" y="323"/><use href="#p163" x="805" y="320"/><use href="#p43" x="819" y="280"/><use href="#p140" x="835" y="294"/></g>
<g fill="#343434"><use href="#p14" x="838" y="341"/><use href="#p37" x="868" y="355"/></g>
<g fill="#994799"><use href="#p59" x="885" y="277"/><use href="#p171" x="805" y="274"/><use href="#p72" x="862" y="209"/><use href="#p51" x="791" y="245"/><use href="#p72" x="823" y="307"/><use href="#p64" x="850" y="292"/><use href="#p81" x="812" y="287"/><use href="#p60" x="835" y="344"/><use href="#p26" x="862" y="354"/><use href="#p180" x="812" y="387"/><use href="#p137" x="855" y="347"/><use href="#p141" x="853" y="384"/><use href="#p181" x="853" y="378"/><use href="#p84" x="794" y="358"/></g>
<g fill="#4e9999"><use href="#p115" x="852" y="276"/><use href="#p82" x="807" y="201"/><use href="#p157" x="837" y="195"/><use href="#p21" x="789" y="228"/><use href="#p49" x="880" y="226"/><use href="#p169" x="844" y="261"/><use href="#p133" x="824" y="278"/><use href="#p11" x="842" y="264"/><use href="#p173" x="808" y="275"/></g>
<g fill="#cd5fcd"><use href="#p163" x="795" y="276"/><use href="#p165" x="809" y="257"/><use href="#p22" x="791" y="193"/><use href="#p22" x="815" y="248"/><use href="#p60" x="862" y="268"/><use href="#p57" x="884" y="195"/><use href="#p41" x="794" y="247"/><use href="#p70" x="853" y="253"/><use href="#p137" x="855" y="242"/><use href="#p142" x="859" y="241"/><use href="#p53" x="810" y="276"/><use href="#p29" x="843" y="197"/><use href="#p52" x="844" y="248"/><use href="#p28" x="857" y="308"/><use href="#p16" x="878" y="301"/><use href="#p72" x="844" y="304"/><use href="#p81" x="831" y="324"/><use href="#p120" x="800" y="322"/><use href="#p26" x="831" y="380"/><use href="#p66" x="823" y="374"/><use href="#p139" x="861" y="364"/><use href="#p141" x="830" y="393"/><use href="#p56" x="866" y="343"/><use href="#p77" x="784" y="364"/></g>
<g fill="#eb6deb"><use href="#p79" x="879" y="206"/><use href="#p59" x="787" y="218"/><use href="#p16" x="800" y="210"/><use href="#p76" x="886" y="278"/><use href="#p67" x="838" y="222"/><use href="#p140" x="787" y="232"/><use href="#p11" x="860" y="234"/><use href="#p65" x="856" y="277"/><use href="#p39" x="846" y="272"/><use href="#p130" x="792" y="240"/><use href="#p89" x="838" y="241"/><use href="#p34" x="815" y="240"/><use href="#p26" x="822" y="323"/><use href="#p134" x="862" y="313"/><use href="#p74" x="832" y="314"/><use href="#p130" x="839" y="324"/><use href="#p142" x="795" y="292"/><use href="#p43" x="866" y="298"/><use href="#p43" x="825" y="393"/><use href="#p41" x="837" y="378"/><use href="#p50" x="783" y="385"/><use href="#p31" x="814" y="366"/></g>
<g fill="#78ebeb"><use href="#p89" x="811" y="251"/><use href="#p53" x="863" y="273"/><use href="#p174" x="849" y="278"/></g>
<g fill="#55d7d7"><use href="#p185" x="826" y="400"/></g>
<g fill="#7a7a7a"><use href="#p60" x="883" y="264"/><use href="#p20" x="859" y="248"/><use href="#p69" x="865" y="188"/><use href="#p47" x="846" y="237"/><use href="#p164" x="803" y="192"/><use href="#p45" x="877" y="191"/><use href="#p84" x="850" y="269"/><use href="#p144" x="821" y="238"/><use href="#p41" x="877" y="197"/><use href="#p149" x="831" y="249"/><use href="#p33" x="799" y="196"/><use href="#p172" x="851" y="215"/><use href="#p74" x="831" y="256"/><use href="#p51" x="862" y="269"/><use href="#p70" x="847" y="192"/><use href="#p67" x="836" y="249"/><use href="#p79" x="815" y="250"/><use href="#p64" x="805" y="277"/><use href="#p152" x="789" y="322"/><use href="#p70" x="810" y="283"/><use href="#p146" x="840" y="284"/><use href="#p178" x="870" y="324"/><use href="#p143" x="876" y="281"/></g>
</g>
<clipPath id="c02"><rect x="782.2" y="163.7" width="104.5" height="482.9"/></clipPath>
<linearGradient id="g03" x1="0" y1="0" x2="0" y2="1"><stop offset="0.000" stop-color="#000000"/><stop offset="0.012" stop-color="#0f000f"/><stop offset="0.035" stop-color="#0f000f"/><stop offset="0.048" stop-color="#48484a"/><stop offset="0.478" stop-color="#48484a"/><stop offset="0.491" stop-color="#121212"/><stop offset="0.656" stop-color="#121212"/><stop offset="0.669" stop-color="#050505"/><stop offset="0.822" stop-color="#050505"/><stop offset="0.837" stop-color="#000000"/></linearGradient>
<rect x="898.2" y="163.7" width="104.5" height="482.9" fill="url(#g03)"/>
<g clip-path="url(#c03)" filter="url(#bl1)">
<g fill="#464646"><use href="#p115" x="993" y="422"/><use href="#p159" x="949" y="482"/><use href="#p45" x="976" y="451"/><use href="#p87" x="937" y="460"/><use href="#p43" x="938" y="480"/><use href="#p9" x="937" y="432"/><use href="#p16" x="912" y="447"/><use href="#p89" x="909" y="410"/><use href="#p44" x="931" y="398"/><use href="#p149" x="969" y="466"/><use href="#p15" x="978" y="419"/></g>
<g fill="#373737"><use href="#p42" x="964" y="411"/></g>
<g fill="#eb6deb"><use href="#p20" x="965" y="187"/><use href="#p52" x="944" y="296"/><use href="#p55" x="921" y="255"/><use href="#p18" x="905" y="235"/><use href="#p200" x="933" y="207"/><use href="#p66" x="927" y="252"/><use href="#p116" x="929" y="350"/></g>
<g fill="#212121"><use href="#p207" x="977" y="563"/><use href="#p55" x="982" y="528"/><use href="#p4" x="901" y="503"/><use href="#p121" x="911" y="515"/><use href="#p47" x="901" y="531"/></g>
<g fill="#7a7a7a"><use href="#p81" x="958" y="260"/><use href="#p11" x="959" y="248"/><use href="#p48" x="928" y="255"/><use href="#p68" x="905" y="359"/><use href="#p54" x="947" y="353"/><use href="#p153" x="965" y="186"/><use href="#p93" x="980" y="368"/><use href="#p180" x="1002" y="340"/><use href="#p48" x="929" y="192"/><use href="#p47" x="952" y="311"/><use href="#p197" x="986" y="372"/><use href="#p137" x="956" y="345"/><use href="#p11" x="984" y="237"/><use href="#p199" x="983" y="242"/><use href="#p81" x="994" y="296"/><use href="#p45" x="953" y="245"/><use href="#p47" x="920" y="219"/><use href="#p35" x="902" y="309"/><use href="#p82" x="991" y="370"/><use href="#p54" x="899" y="190"/><use href="#p27" x="903" y="318"/><use href="#p41" x="920" y="211"/><use href="#p66" x="932" y="303"/><use href="#p49" x="933" y="293"/><use href="#p91" x="903" y="336"/><use href="#p35" x="932" y="350"/><use href="#p82" x="970" y="281"/><use href="#p203" x="1001" y="371"/><use href="#p2" x="918" y="264"/><use href="#p66" x="994" y="325"/><use href="#p26" x="924" y="192"/><use href="#p72" x="906" y="209"/><use href="#p49" x="901" y="305"/><use href="#p74" x="949" y="226"/><use href="#p91" x="965" y="254"/><use href="#p4" x="927" y="310"/><use href="#p73" x="969" y="251"/><use href="#p85" x="905" y="306"/><use href="#p121" x="999" y="398"/><use href="#p85" x="936" y="257"/><use href="#p142" x="950" y="314"/><use href="#p142" x="923" y="297"/><use href="#p45" x="1000" y="270"/></g>
<g fill="#5b5b5b"><use href="#p79" x="945" y="275"/><use href="#p195" x="956" y="339"/><use href="#p117" x="980" y="294"/><use href="#p74" x="937" y="302"/><use href="#p140" x="991" y="251"/><use href="#p164" x="931" y="326"/><use href="#p40" x="911" y="216"/><use href="#p34" x="966" y="253"/><use href="#p143" x="953" y="396"/><use href="#p11" x="994" y="348"/><use href="#p18" x="950" y="287"/><use href="#p142" x="914" y="240"/><use href="#p175" x="920" y="373"/><use href="#p19" x="930" y="373"/><use href="#p177" x="949" y="391"/><use href="#p14" x="952" y="296"/><use href="#p198" x="940" y="349"/><use href="#p82" x="959" y="382"/><use href="#p69" x="922" y="263"/><use href="#p152" x="921" y="348"/><use href="#p20" x="909" y="211"/><use href="#p53" x="985" y="361"/><use href="#p91" x="950" y="247"/><use href="#p65" x="978" y="359"/><use href="#p71" x="921" y="336"/><use href="#p143" x="993" y="272"/><use href="#p74" x="914" y="222"/><use href="#p130" x="942" y="231"/><use href="#p164" x="952" y="197"/><use href="#p14" x="997" y="295"/><use href="#p88" x="997" y="395"/><use href="#p164" x="977" y="348"/><use href="#p52" x="999" y="380"/><use href="#p74" x="977" y="267"/><use href="#p33" x="999" y="372"/><use href="#p27" x="995" y="313"/><use href="#p202" x="998" y="202"/><use href="#p72" x="976" y="233"/><use href="#p53" x="947" y="191"/><use href="#p20" x="982" y="289"/><use href="#p72" x="904" y="248"/><use href="#p167" x="943" y="320"/><use href="#p18" x="917" y="357"/><use href="#p47" x="907" y="335"/><use href="#p137" x="899" y="339"/><use href="#p17" x="970" y="285"/><use href="#p45" x="940" y="359"/><use href="#p147" x="935" y="189"/><use href="#p49" x="941" y="203"/><use href="#p141" x="941" y="219"/><use href="#p45" x="973" y="386"/><use href="#p17" x="967" y="201"/><use href="#p93" x="917" y="208"/><use href="#p25" x="919" y="335"/><use href="#p79" x="947" y="210"/><use href="#p118" x="926" y="342"/></g>
<g fill="#cd5fcd"><use href="#p137" x="905" y="308"/><use href="#p149" x="924" y="390"/><use href="#p115" x="959" y="212"/><use href="#p33" x="993" y="201"/><use href="#p21" x="920" y="226"/><use href="#p18" x="908" y="228"/></g>
<g fill="#505050"><use href="#p205" x="907" y="475"/><use href="#p28" x="913" y="467"/><use href="#p77" x="962" y="456"/><use href="#p74" x="965" y="431"/><use href="#p144" x="925" y="470"/><use href="#p50" x="968" y="469"/><use href="#p65" x="946" y="478"/><use href="#p42" x="899" y="458"/><use href="#p62" x="904" y="471"/></g>
<g fill="#333333"><use href="#p41" x="909" y="547"/><use href="#p40" x="948" y="494"/></g>
<g fill="#4e9999"><use href="#p53" x="993" y="346"/><use href="#p138" x="913" y="315"/><use href="#p86" x="911" y="360"/><use href="#p159" x="982" y="367"/><use href="#p60" x="972" y="341"/><use href="#p4" x="991" y="252"/><use href="#p130" x="980" y="298"/><use href="#p26" x="976" y="211"/><use href="#p47" x="954" y="390"/><use href="#p21" x="975" y="231"/><use href="#p181" x="964" y="197"/><use href="#p83" x="918" y="376"/><use href="#p28" x="946" y="350"/></g>
<g fill="#3f3f3f"><use href="#p45" x="949" y="423"/><use href="#p75" x="987" y="418"/></g>
<g fill="#343434"><use href="#p37" x="907" y="428"/><use href="#p14" x="926" y="451"/><use href="#p68" x="980" y="469"/><use href="#p75" x="953" y="434"/><use href="#p25" x="922" y="448"/><use href="#p55" x="978" y="430"/><use href="#p206" x="988" y="463"/></g>
<g fill="#292929"><use href="#p87" x="907" y="447"/><use href="#p81" x="955" y="450"/><use href="#p51" x="944" y="417"/><use href="#p155" x="921" y="425"/></g>
<g fill="#2d2d2d"><use href="#p38" x="998" y="514"/><use href="#p208" x="978" y="523"/><use href="#p41" x="979" y="548"/><use href="#p181" x="944" y="535"/><use href="#p60" x="931" y="490"/><use href="#p47" x="977" y="488"/><use href="#p66" x="931" y="516"/></g>
<g fill="#994799"><use href="#p74" x="939" y="240"/><use href="#p25" x="945" y="284"/><use href="#p54" x="910" y="293"/><use href="#p140" x="923" y="278"/><use href="#p166" x="906" y="357"/><use href="#p87" x="934" y="385"/><use href="#p85" x="974" y="286"/></g>
<g fill="#ff3fff"><use href="#p77" x="907" y="172"/><use href="#p190" x="902" y="171"/></g>
<g fill="#78ebeb"><use href="#p117" x="970" y="351"/><use href="#p79" x="926" y="319"/><use href="#p35" x="980" y="221"/><use href="#p21" x="956" y="311"/><use href="#p81" x="918" y="248"/><use href="#p45" x="914" y="273"/><use href="#p42" x="939" y="380"/><use href="#p73" x="955" y="374"/><use href="#p71" x="938" y="197"/><use href="#p33" x="950" y="349"/><use href="#p18" x="966" y="212"/><use href="#p48" x="935" y="390"/><use href="#p35" x="904" y="350"/><use href="#p142" x="925" y="291"/><use href="#p42" x="952" y="341"/><use href="#p17" x="981" y="287"/><use href="#p81" x="1001" y="186"/></g>
<g fill="#eb37eb"><use href="#p189" x="921" y="175"/><use href="#p191" x="934" y="176"/><use href="#p192" x="993" y="181"/><use href="#p192" x="908" y="168"/></g>
<g fill="#8c8c8c"><use href="#p84" x="915" y="266"/><use href="#p48" x="999" y="374"/><use href="#p15" x="974" y="223"/><use href="#p53" x="942" y="276"/><use href="#p93" x="975" y="373"/><use href="#p86" x="991" y="238"/><use href="#p196" x="999" y="376"/><use href="#p47" x="949" y="322"/><use href="#p47" x="953" y="256"/><use href="#p48" x="927" y="184"/><use href="#p18" x="928" y="343"/><use href="#p16" x="972" y="239"/><use href="#p38" x="944" y="365"/><use href="#p115" x="993" y="244"/><use href="#p130" x="984" y="345"/><use href="#p88" x="961" y="281"/><use href="#p89" x="913" y="245"/><use href="#p79" x="930" y="190"/><use href="#p56" x="992" y="254"/><use href="#p88" x="983" y="204"/><use href="#p28" x="1000" y="384"/><use href="#p201" x="931" y="241"/><use href="#p61" x="961" y="301"/><use href="#p197" x="962" y="274"/><use href="#p159" x="969" y="217"/><use href="#p117" x="923" y="339"/><use href="#p145" x="969" y="226"/><use href="#p62" x="900" y="222"/><use href="#p145" x="986" y="366"/><use href="#p4" x="992" y="212"/><use href="#p148" x="974" y="243"/><use href="#p28" x="953" y="268"/><use href="#p172" x="1002" y="334"/><use href="#p23" x="981" y="211"/><use href="#p28" x="932" y="267"/><use href="#p138" x="987" y="394"/><use href="#p45" x="952" y="205"/><use href="#p165" x="956" y="348"/><use href="#p18" x="900" y="246"/><use href="#p27" x="996" y="326"/><use href="#p141" x="973" y="250"/><use href="#p43" x="967" y="346"/><use href="#p50" x="899" y="233"/><use href="#p150" x="943" y="288"/><use href="#p63" x="926" y="253"/><use href="#p37" x="972" y="266"/><use href="#p42" x="961" y="386"/></g>
<g fill="#b029b0"><use href="#p193" x="977" y="169"/><use href="#p194" x="901" y="173"/></g>
<g fill="#69cdcd"><use href="#p117" x="941" y="321"/><use href="#p44" x="939" y="199"/><use href="#p25" x="992" y="394"/><use href="#p81" x="935" y="294"/><use href="#p115" x="931" y="208"/><use href="#p68" x="921" y="329"/><use href="#p73" x="982" y="296"/><use href="#p81" x="963" y="188"/><use href="#p41" x="905" y="343"/><use href="#p81" x="974" y="398"/><use href="#p15" x="943" y="323"/><use href="#p204" x="987" y="274"/><use href="#p47" x="969" y="196"/></g>
</g>
<clipPath id="c03"><rect x="898.2" y="163.7" width="104.5" height="482.9"/></clipPath>
<linearGradient id="g04" x1="0" y1="0" x2="0" y2="1"><stop offset="0.000" stop-color="#000000"/><stop offset="0.012" stop-color="#460f46"/><stop offset="0.060" stop-color="#460f46"/><stop offset="0.072" stop-color="#464646"/><stop offset="0.561" stop-color="#464646"/><stop offset="0.574" stop-color="#141414"/><stop offset="0.667" stop-color="#141414"/><stop offset="0.681" stop-color="#000000"/></linearGradient>
<rect x="1014.1" y="163.7" width="104.5" height="482.9" fill="url(#g04)"/>
<g clip-path="url(#c04)" filter="url(#bl1)">
<g fill="#eb6deb"><use href="#p88" x="1074" y="381"/><use href="#p35" x="1071" y="213"/><use href="#p22" x="1079" y="221"/><use href="#p226" x="1109" y="367"/><use href="#p67" x="1053" y="404"/><use href="#p63" x="1093" y="248"/><use href="#p62" x="1015" y="364"/><use href="#p238" x="1067" y="326"/><use href="#p56" x="1076" y="289"/><use href="#p56" x="1047" y="258"/><use href="#p172" x="1018" y="450"/><use href="#p244" x="1019" y="448"/><use href="#p130" x="1018" y="449"/><use href="#p11" x="1109" y="453"/></g>
<g fill="#994799"><use href="#p158" x="1034" y="424"/><use href="#p67" x="1032" y="296"/><use href="#p22" x="1075" y="232"/><use href="#p147" x="1027" y="327"/><use href="#p37" x="1066" y="230"/><use href="#p236" x="1078" y="224"/><use href="#p149" x="1029" y="381"/><use href="#p224" x="1055" y="265"/><use href="#p57" x="1119" y="334"/><use href="#p67" x="1053" y="475"/></g>
<g fill="#4e9999"><use href="#p195" x="1085" y="347"/><use href="#p14" x="1108" y="318"/><use href="#p179" x="1020" y="373"/><use href="#p62" x="1092" y="372"/><use href="#p243" x="1078" y="314"/></g>
<g fill="#78ebeb"><use href="#p31" x="1025" y="347"/><use href="#p75" x="1068" y="423"/><use href="#p149" x="1060" y="328"/><use href="#p227" x="1101" y="198"/><use href="#p149" x="1057" y="384"/><use href="#p11" x="1069" y="206"/><use href="#p134" x="1060" y="254"/><use href="#p146" x="1034" y="234"/><use href="#p159" x="1116" y="294"/><use href="#p4" x="1044" y="270"/><use href="#p93" x="1062" y="326"/><use href="#p158" x="1049" y="221"/><use href="#p56" x="1044" y="422"/><use href="#p49" x="1054" y="429"/></g>
<g fill="#464646"><use href="#p121" x="1035" y="461"/><use href="#p46" x="1035" y="443"/><use href="#p42" x="1118" y="481"/><use href="#p47" x="1031" y="463"/></g>
<g fill="#cd5fcd"><use href="#p118" x="1016" y="416"/><use href="#p42" x="1099" y="263"/><use href="#p158" x="1028" y="385"/><use href="#p167" x="1099" y="312"/><use href="#p4" x="1093" y="282"/><use href="#p66" x="1029" y="413"/><use href="#p180" x="1090" y="314"/><use href="#p66" x="1074" y="312"/><use href="#p143" x="1029" y="259"/><use href="#p149" x="1050" y="417"/><use href="#p4" x="1108" y="236"/><use href="#p29" x="1052" y="467"/><use href="#p47" x="1066" y="449"/><use href="#p11" x="1102" y="471"/><use href="#p204" x="1101" y="461"/><use href="#p16" x="1086" y="445"/></g>
<g fill="#b029b0"><use href="#p211" x="1067" y="188"/><use href="#p162" x="1083" y="190"/><use href="#p212" x="1063" y="172"/><use href="#p120" x="1035" y="187"/><use href="#p121" x="1099" y="179"/><use href="#p215" x="1079" y="192"/><use href="#p77" x="1113" y="172"/><use href="#p45" x="1046" y="184"/><use href="#p50" x="1016" y="193"/><use href="#p247" x="1093" y="510"/><use href="#p254" x="1103" y="626"/><use href="#p256" x="1101" y="624"/><use href="#p257" x="1076" y="499"/><use href="#p261" x="1088" y="612"/></g>
<g fill="#8c8c8c"><use href="#p90" x="1076" y="217"/><use href="#p220" x="1114" y="366"/><use href="#p53" x="1108" y="410"/><use href="#p91" x="1074" y="261"/><use href="#p223" x="1034" y="338"/><use href="#p116" x="1098" y="301"/><use href="#p148" x="1098" y="310"/><use href="#p224" x="1042" y="420"/><use href="#p23" x="1051" y="219"/><use href="#p221" x="1113" y="302"/><use href="#p225" x="1095" y="224"/><use href="#p57" x="1097" y="285"/><use href="#p60" x="1085" y="199"/><use href="#p33" x="1116" y="409"/><use href="#p164" x="1038" y="330"/><use href="#p229" x="1020" y="243"/><use href="#p136" x="1088" y="336"/><use href="#p21" x="1043" y="272"/><use href="#p149" x="1076" y="266"/><use href="#p88" x="1039" y="231"/><use href="#p18" x="1046" y="264"/><use href="#p77" x="1108" y="256"/><use href="#p62" x="1040" y="375"/><use href="#p148" x="1018" y="262"/><use href="#p23" x="1100" y="325"/><use href="#p40" x="1014" y="390"/><use href="#p147" x="1024" y="392"/><use href="#p233" x="1059" y="199"/><use href="#p66" x="1102" y="196"/><use href="#p39" x="1045" y="352"/><use href="#p143" x="1044" y="385"/><use href="#p143" x="1052" y="242"/><use href="#p116" x="1075" y="350"/><use href="#p88" x="1081" y="299"/><use href="#p35" x="1103" y="304"/><use href="#p224" x="1022" y="233"/><use href="#p22" x="1042" y="243"/><use href="#p235" x="1038" y="219"/><use href="#p175" x="1111" y="240"/><use href="#p56" x="1084" y="421"/><use href="#p175" x="1101" y="332"/><use href="#p204" x="1020" y="418"/><use href="#p229" x="1069" y="407"/><use href="#p88" x="1043" y="202"/><use href="#p118" x="1045" y="309"/><use href="#p72" x="1091" y="419"/><use href="#p81" x="1032" y="341"/><use href="#p38" x="1060" y="264"/><use href="#p88" x="1119" y="410"/><use href="#p84" x="1017" y="386"/><use href="#p129" x="1103" y="209"/><use href="#p151" x="1044" y="296"/><use href="#p129" x="1064" y="277"/><use href="#p62" x="1094" y="422"/><use href="#p62" x="1099" y="246"/><use href="#p116" x="1096" y="356"/><use href="#p80" x="1077" y="345"/><use href="#p160" x="1028" y="252"/><use href="#p19" x="1066" y="320"/><use href="#p25" x="1040" y="281"/><use href="#p91" x="1051" y="280"/><use href="#p145" x="1020" y="217"/><use href="#p135" x="1066" y="413"/><use href="#p239" x="1017" y="201"/><use href="#p239" x="1031" y="204"/><use href="#p37" x="1040" y="230"/><use href="#p81" x="1100" y="252"/><use href="#p202" x="1051" y="330"/><use href="#p241" x="1100" y="289"/><use href="#p195" x="1070" y="326"/><use href="#p43" x="1109" y="378"/><use href="#p27" x="1094" y="341"/><use href="#p84" x="1119" y="260"/><use href="#p195" x="1080" y="339"/><use href="#p78" x="1106" y="257"/><use href="#p65" x="1070" y="239"/><use href="#p231" x="1058" y="386"/><use href="#p14" x="1073" y="310"/><use href="#p205" x="1098" y="307"/><use href="#p31" x="1114" y="219"/><use href="#p90" x="1095" y="375"/><use href="#p70" x="1036" y="415"/></g>
<g fill="#69cdcd"><use href="#p115" x="1095" y="380"/><use href="#p220" x="1078" y="424"/><use href="#p127" x="1016" y="312"/><use href="#p224" x="1082" y="431"/><use href="#p37" x="1061" y="417"/><use href="#p40" x="1096" y="386"/><use href="#p42" x="1064" y="402"/><use href="#p34" x="1021" y="252"/></g>
<g fill="#505050"><use href="#p27" x="1089" y="488"/><use href="#p47" x="1029" y="449"/><use href="#p54" x="1023" y="461"/><use href="#p68" x="1059" y="457"/></g>
<g fill="#ff3fff"><use href="#p209" x="1078" y="187"/><use href="#p210" x="1020" y="189"/><use href="#p127" x="1113" y="179"/><use href="#p121" x="1102" y="181"/><use href="#p215" x="1075" y="194"/><use href="#p29" x="1025" y="183"/><use href="#p216" x="1042" y="190"/><use href="#p217" x="1032" y="173"/><use href="#p77" x="1025" y="173"/><use href="#p50" x="1053" y="195"/><use href="#p43" x="1054" y="169"/><use href="#p218" x="1067" y="170"/><use href="#p219" x="1086" y="187"/><use href="#p214" x="1093" y="174"/><use href="#p249" x="1103" y="610"/><use href="#p250" x="1081" y="606"/><use href="#p251" x="1075" y="528"/><use href="#p253" x="1075" y="535"/><use href="#p255" x="1097" y="563"/><use href="#p259" x="1082" y="617"/></g>
<g fill="#eb37eb"><use href="#p162" x="1017" y="179"/><use href="#p118" x="1072" y="174"/><use href="#p213" x="1072" y="184"/><use href="#p29" x="1064" y="174"/><use href="#p192" x="1094" y="183"/><use href="#p214" x="1027" y="194"/><use href="#p214" x="1103" y="179"/><use href="#p245" x="1107" y="625"/><use href="#p246" x="1112" y="495"/><use href="#p248" x="1094" y="638"/><use href="#p252" x="1101" y="561"/><use href="#p255" x="1096" y="598"/><use href="#p109" x="1086" y="534"/><use href="#p255" x="1105" y="636"/><use href="#p258" x="1075" y="600"/><use href="#p260" x="1110" y="500"/></g>
<g fill="#5b5b5b"><use href="#p221" x="1116" y="207"/><use href="#p61" x="1103" y="228"/><use href="#p81" x="1057" y="301"/><use href="#p119" x="1108" y="341"/><use href="#p143" x="1079" y="410"/><use href="#p19" x="1088" y="390"/><use href="#p46" x="1087" y="427"/><use href="#p16" x="1030" y="350"/><use href="#p228" x="1068" y="428"/><use href="#p230" x="1090" y="350"/><use href="#p49" x="1057" y="260"/><use href="#p88" x="1017" y="210"/><use href="#p62" x="1071" y="376"/><use href="#p22" x="1092" y="279"/><use href="#p88" x="1112" y="411"/><use href="#p148" x="1070" y="207"/><use href="#p160" x="1116" y="376"/><use href="#p51" x="1037" y="230"/><use href="#p73" x="1059" y="377"/><use href="#p142" x="1105" y="413"/><use href="#p132" x="1018" y="228"/><use href="#p23" x="1114" y="352"/><use href="#p35" x="1062" y="228"/><use href="#p78" x="1072" y="204"/><use href="#p14" x="1042" y="362"/><use href="#p56" x="1060" y="219"/><use href="#p231" x="1049" y="270"/><use href="#p78" x="1060" y="248"/><use href="#p221" x="1017" y="241"/><use href="#p224" x="1031" y="309"/><use href="#p240" x="1098" y="302"/><use href="#p37" x="1051" y="366"/><use href="#p142" x="1056" y="426"/><use href="#p42" x="1049" y="310"/><use href="#p138" x="1085" y="349"/><use href="#p242" x="1055" y="309"/><use href="#p198" x="1110" y="428"/><use href="#p148" x="1038" y="386"/><use href="#p243" x="1085" y="422"/><use href="#p91" x="1110" y="401"/><use href="#p67" x="1055" y="335"/><use href="#p38" x="1102" y="256"/><use href="#p11" x="1026" y="332"/><use href="#p14" x="1104" y="226"/></g>
<g fill="#7a7a7a"><use href="#p222" x="1088" y="206"/><use href="#p70" x="1099" y="324"/><use href="#p220" x="1062" y="341"/><use href="#p143" x="1111" y="321"/><use href="#p151" x="1107" y="198"/><use href="#p118" x="1031" y="361"/><use href="#p62" x="1050" y="267"/><use href="#p51" x="1082" y="278"/><use href="#p142" x="1040" y="325"/><use href="#p25" x="1071" y="355"/><use href="#p149" x="1032" y="322"/><use href="#p175" x="1065" y="251"/><use href="#p56" x="1118" y="399"/><use href="#p160" x="1053" y="318"/><use href="#p231" x="1081" y="197"/><use href="#p79" x="1096" y="330"/><use href="#p232" x="1028" y="356"/><use href="#p39" x="1063" y="258"/><use href="#p164" x="1047" y="401"/><use href="#p198" x="1042" y="417"/><use href="#p143" x="1080" y="374"/><use href="#p167" x="1092" y="433"/><use href="#p234" x="1027" y="283"/><use href="#p75" x="1051" y="419"/><use href="#p137" x="1088" y="330"/><use href="#p45" x="1052" y="200"/><use href="#p158" x="1054" y="400"/><use href="#p158" x="1114" y="268"/><use href="#p152" x="1075" y="233"/><use href="#p22" x="1020" y="227"/><use href="#p31" x="1069" y="372"/><use href="#p135" x="1090" y="215"/><use href="#p35" x="1102" y="228"/><use href="#p41" x="1017" y="337"/><use href="#p237" x="1021" y="259"/><use href="#p43" x="1032" y="329"/><use href="#p136" x="1114" y="289"/><use href="#p233" x="1063" y="222"/><use href="#p158" x="1077" y="346"/><use href="#p144" x="1024" y="377"/><use href="#p18" x="1071" y="215"/><use href="#p39" x="1086" y="258"/><use href="#p31" x="1059" y="290"/><use href="#p233" x="1076" y="211"/><use href="#p167" x="1086" y="360"/><use href="#p78" x="1026" y="311"/><use href="#p134" x="1077" y="317"/><use href="#p16" x="1073" y="349"/><use href="#p116" x="1078" y="281"/><use href="#p62" x="1103" y="270"/><use href="#p25" x="1095" y="399"/><use href="#p149" x="1041" y="421"/><use href="#p198" x="1071" y="202"/></g>
</g>
<clipPath id="c04"><rect x="1014.1" y="163.7" width="104.5" height="482.9"/></clipPath>
<linearGradient id="g05" x1="0" y1="0" x2="0" y2="1"><stop offset="0.014" stop-color="#000000"/><stop offset="0.029" stop-color="#1e1e1e"/><stop offset="0.259" stop-color="#1e1e1e"/><stop offset="0.271" stop-color="#3c323c"/><stop offset="0.996" stop-color="#3c323c"/><stop offset="1.000" stop-color="#000000"/></linearGradient>
<rect x="1130.1" y="163.7" width="104.5" height="482.9" fill="url(#g05)"/>
<g clip-path="url(#c05)" filter="url(#bl1)">
<g fill="#4e9999"><use href="#p267" x="1169" y="221"/><use href="#p30" x="1174" y="237"/><use href="#p315" x="1202" y="408"/><use href="#p157" x="1176" y="449"/></g>
<g fill="#69cdcd"><use href="#p301" x="1163" y="264"/><use href="#p203" x="1168" y="543"/><use href="#p164" x="1159" y="345"/><use href="#p55" x="1160" y="578"/></g>
<g fill="#8c8c8c"><use href="#p262" x="1223" y="218"/><use href="#p265" x="1223" y="180"/><use href="#p268" x="1218" y="249"/><use href="#p274" x="1148" y="264"/><use href="#p276" x="1155" y="193"/><use href="#p272" x="1218" y="183"/><use href="#p44" x="1199" y="212"/><use href="#p277" x="1227" y="285"/><use href="#p30" x="1138" y="285"/><use href="#p282" x="1197" y="225"/><use href="#p283" x="1205" y="194"/><use href="#p287" x="1163" y="234"/><use href="#p288" x="1164" y="223"/><use href="#p277" x="1137" y="245"/><use href="#p295" x="1172" y="282"/><use href="#p297" x="1175" y="191"/><use href="#p300" x="1222" y="182"/><use href="#p302" x="1231" y="177"/><use href="#p303" x="1145" y="264"/><use href="#p286" x="1188" y="264"/><use href="#p307" x="1173" y="269"/><use href="#p290" x="1209" y="191"/><use href="#p230" x="1166" y="211"/><use href="#p309" x="1143" y="225"/><use href="#p237" x="1220" y="259"/><use href="#p312" x="1202" y="272"/><use href="#p298" x="1208" y="189"/><use href="#p280" x="1158" y="241"/><use href="#p313" x="1172" y="178"/><use href="#p42" x="1196" y="556"/><use href="#p60" x="1148" y="638"/><use href="#p84" x="1195" y="492"/><use href="#p208" x="1190" y="315"/><use href="#p72" x="1139" y="388"/><use href="#p15" x="1174" y="570"/><use href="#p19" x="1190" y="381"/><use href="#p11" x="1183" y="443"/><use href="#p87" x="1136" y="314"/><use href="#p16" x="1138" y="465"/><use href="#p4" x="1139" y="610"/><use href="#p45" x="1204" y="504"/><use href="#p163" x="1186" y="446"/><use href="#p51" x="1176" y="638"/><use href="#p139" x="1170" y="349"/><use href="#p75" x="1233" y="517"/><use href="#p87" x="1232" y="529"/><use href="#p28" x="1150" y="543"/><use href="#p91" x="1196" y="573"/><use href="#p41" x="1151" y="463"/><use href="#p42" x="1167" y="503"/><use href="#p180" x="1139" y="487"/><use href="#p134" x="1144" y="391"/><use href="#p169" x="1193" y="432"/><use href="#p72" x="1202" y="503"/><use href="#p42" x="1217" y="525"/><use href="#p25" x="1141" y="413"/><use href="#p22" x="1150" y="298"/><use href="#p44" x="1171" y="510"/><use href="#p180" x="1160" y="337"/><use href="#p37" x="1182" y="465"/><use href="#p153" x="1196" y="322"/><use href="#p41" x="1153" y="541"/><use href="#p23" x="1195" y="564"/><use href="#p47" x="1175" y="627"/><use href="#p27" x="1190" y="528"/><use href="#p67" x="1199" y="524"/><use href="#p28" x="1168" y="520"/><use href="#p47" x="1184" y="552"/><use href="#p59" x="1229" y="355"/><use href="#p43" x="1166" y="514"/><use href="#p39" x="1137" y="324"/><use href="#p132" x="1160" y="573"/><use href="#p164" x="1192" y="526"/><use href="#p11" x="1148" y="320"/><use href="#p11" x="1137" y="333"/><use href="#p72" x="1228" y="481"/><use href="#p42" x="1188" y="421"/><use href="#p66" x="1142" y="435"/><use href="#p81" x="1223" y="516"/><use href="#p39" x="1146" y="543"/><use href="#p119" x="1151" y="467"/><use href="#p19" x="1162" y="587"/><use href="#p159" x="1215" y="432"/><use href="#p121" x="1187" y="416"/><use href="#p91" x="1133" y="545"/><use href="#p62" x="1213" y="584"/><use href="#p18" x="1176" y="570"/><use href="#p22" x="1218" y="303"/><use href="#p65" x="1226" y="471"/><use href="#p115" x="1213" y="609"/><use href="#p15" x="1133" y="312"/><use href="#p165" x="1204" y="473"/><use href="#p176" x="1161" y="388"/><use href="#p93" x="1211" y="366"/><use href="#p45" x="1144" y="568"/><use href="#p137" x="1176" y="403"/><use href="#p127" x="1208" y="520"/><use href="#p81" x="1193" y="621"/><use href="#p146" x="1231" y="339"/><use href="#p22" x="1199" y="403"/><use href="#p11" x="1219" y="302"/><use href="#p14" x="1224" y="570"/></g>
<g fill="#5b5b5b"><use href="#p263" x="1161" y="181"/><use href="#p264" x="1221" y="244"/><use href="#p269" x="1152" y="226"/><use href="#p27" x="1161" y="219"/><use href="#p271" x="1140" y="253"/><use href="#p272" x="1196" y="271"/><use href="#p273" x="1224" y="265"/><use href="#p272" x="1210" y="175"/><use href="#p208" x="1171" y="237"/><use href="#p279" x="1150" y="177"/><use href="#p268" x="1186" y="286"/><use href="#p285" x="1164" y="180"/><use href="#p289" x="1143" y="204"/><use href="#p290" x="1175" y="224"/><use href="#p291" x="1200" y="183"/><use href="#p292" x="1175" y="214"/><use href="#p296" x="1174" y="286"/><use href="#p294" x="1224" y="247"/><use href="#p298" x="1203" y="189"/><use href="#p304" x="1133" y="256"/><use href="#p265" x="1226" y="257"/><use href="#p305" x="1187" y="213"/><use href="#p306" x="1169" y="282"/><use href="#p170" x="1162" y="176"/><use href="#p268" x="1176" y="275"/><use href="#p308" x="1133" y="235"/><use href="#p310" x="1230" y="228"/><use href="#p288" x="1190" y="209"/><use href="#p51" x="1231" y="368"/><use href="#p29" x="1149" y="500"/><use href="#p15" x="1178" y="359"/><use href="#p59" x="1177" y="356"/><use href="#p130" x="1140" y="421"/><use href="#p84" x="1189" y="582"/><use href="#p138" x="1199" y="435"/><use href="#p15" x="1160" y="328"/><use href="#p56" x="1230" y="349"/><use href="#p88" x="1230" y="468"/><use href="#p172" x="1149" y="373"/><use href="#p176" x="1166" y="422"/><use href="#p89" x="1198" y="337"/><use href="#p130" x="1230" y="596"/><use href="#p47" x="1209" y="436"/><use href="#p90" x="1135" y="513"/><use href="#p56" x="1177" y="319"/><use href="#p46" x="1195" y="466"/><use href="#p40" x="1167" y="334"/><use href="#p157" x="1140" y="360"/><use href="#p140" x="1202" y="360"/><use href="#p49" x="1146" y="538"/><use href="#p127" x="1201" y="449"/><use href="#p73" x="1216" y="484"/><use href="#p46" x="1143" y="427"/><use href="#p48" x="1207" y="374"/><use href="#p55" x="1233" y="461"/><use href="#p144" x="1232" y="543"/><use href="#p17" x="1169" y="612"/><use href="#p129" x="1205" y="440"/><use href="#p49" x="1195" y="349"/><use href="#p18" x="1220" y="530"/><use href="#p25" x="1227" y="466"/><use href="#p4" x="1214" y="386"/><use href="#p14" x="1169" y="363"/><use href="#p55" x="1181" y="479"/><use href="#p37" x="1153" y="525"/><use href="#p9" x="1198" y="342"/><use href="#p48" x="1222" y="614"/><use href="#p77" x="1231" y="622"/><use href="#p240" x="1214" y="468"/><use href="#p28" x="1134" y="580"/><use href="#p89" x="1198" y="571"/><use href="#p177" x="1229" y="499"/><use href="#p120" x="1142" y="303"/><use href="#p60" x="1231" y="340"/><use href="#p4" x="1182" y="423"/><use href="#p88" x="1155" y="514"/><use href="#p165" x="1208" y="596"/><use href="#p47" x="1222" y="552"/><use href="#p62" x="1162" y="460"/><use href="#p77" x="1168" y="540"/><use href="#p80" x="1139" y="428"/><use href="#p70" x="1151" y="459"/><use href="#p48" x="1182" y="335"/><use href="#p117" x="1207" y="412"/><use href="#p11" x="1196" y="535"/><use href="#p35" x="1194" y="394"/><use href="#p70" x="1173" y="334"/><use href="#p16" x="1223" y="528"/><use href="#p27" x="1164" y="473"/><use href="#p129" x="1195" y="451"/><use href="#p160" x="1170" y="305"/><use href="#p149" x="1197" y="305"/><use href="#p142" x="1159" y="494"/><use href="#p130" x="1187" y="571"/><use href="#p45" x="1176" y="567"/></g>
<g fill="#eb37eb"><use href="#p38" x="1144" y="178"/></g>
<g fill="#eb6deb"><use href="#p118" x="1199" y="594"/><use href="#p49" x="1190" y="428"/><use href="#p46" x="1139" y="522"/><use href="#p64" x="1137" y="536"/><use href="#p169" x="1206" y="326"/><use href="#p16" x="1148" y="499"/><use href="#p37" x="1132" y="631"/><use href="#p314" x="1233" y="405"/><use href="#p42" x="1135" y="553"/><use href="#p138" x="1188" y="315"/><use href="#p131" x="1167" y="309"/><use href="#p61" x="1133" y="602"/><use href="#p241" x="1197" y="633"/><use href="#p9" x="1166" y="445"/><use href="#p41" x="1146" y="558"/><use href="#p18" x="1223" y="582"/><use href="#p145" x="1180" y="645"/><use href="#p87" x="1229" y="302"/><use href="#p52" x="1230" y="368"/><use href="#p35" x="1147" y="435"/><use href="#p47" x="1164" y="457"/><use href="#p68" x="1178" y="474"/><use href="#p121" x="1180" y="510"/><use href="#p35" x="1199" y="517"/><use href="#p70" x="1216" y="448"/><use href="#p154" x="1199" y="443"/><use href="#p26" x="1144" y="447"/><use href="#p48" x="1198" y="611"/><use href="#p93" x="1145" y="348"/><use href="#p35" x="1164" y="310"/><use href="#p14" x="1201" y="561"/><use href="#p93" x="1167" y="606"/><use href="#p142" x="1195" y="598"/><use href="#p39" x="1233" y="324"/><use href="#p63" x="1168" y="554"/><use href="#p88" x="1166" y="536"/><use href="#p140" x="1154" y="619"/><use href="#p152" x="1196" y="438"/><use href="#p139" x="1179" y="320"/><use href="#p74" x="1154" y="506"/><use href="#p25" x="1205" y="600"/><use href="#p203" x="1147" y="631"/><use href="#p68" x="1143" y="359"/><use href="#p52" x="1152" y="465"/><use href="#p81" x="1181" y="640"/></g>
<g fill="#cd5fcd"><use href="#p117" x="1224" y="385"/><use href="#p120" x="1227" y="597"/><use href="#p65" x="1208" y="336"/><use href="#p55" x="1185" y="399"/><use href="#p55" x="1202" y="348"/><use href="#p25" x="1132" y="454"/><use href="#p75" x="1190" y="464"/><use href="#p119" x="1213" y="515"/><use href="#p149" x="1164" y="632"/><use href="#p55" x="1155" y="549"/><use href="#p91" x="1233" y="636"/><use href="#p67" x="1150" y="425"/><use href="#p51" x="1158" y="301"/><use href="#p145" x="1142" y="490"/><use href="#p47" x="1180" y="546"/><use href="#p29" x="1183" y="505"/><use href="#p45" x="1191" y="515"/><use href="#p81" x="1213" y="526"/><use href="#p138" x="1152" y="377"/><use href="#p52" x="1191" y="372"/><use href="#p73" x="1188" y="614"/><use href="#p82" x="1207" y="531"/><use href="#p55" x="1141" y="371"/><use href="#p48" x="1182" y="593"/><use href="#p33" x="1217" y="338"/><use href="#p37" x="1209" y="370"/><use href="#p59" x="1210" y="602"/><use href="#p11" x="1166" y="504"/><use href="#p67" x="1150" y="323"/><use href="#p207" x="1190" y="357"/><use href="#p35" x="1191" y="405"/><use href="#p26" x="1204" y="422"/><use href="#p14" x="1149" y="417"/><use href="#p26" x="1178" y="565"/><use href="#p64" x="1138" y="502"/><use href="#p127" x="1141" y="467"/><use href="#p77" x="1233" y="506"/><use href="#p17" x="1204" y="446"/></g>
<g fill="#7a7a7a"><use href="#p266" x="1178" y="214"/><use href="#p232" x="1193" y="254"/><use href="#p270" x="1199" y="248"/><use href="#p275" x="1227" y="188"/><use href="#p273" x="1202" y="189"/><use href="#p278" x="1199" y="261"/><use href="#p280" x="1230" y="224"/><use href="#p281" x="1233" y="270"/><use href="#p225" x="1182" y="276"/><use href="#p284" x="1150" y="203"/><use href="#p286" x="1231" y="185"/><use href="#p293" x="1148" y="190"/><use href="#p294" x="1216" y="245"/><use href="#p44" x="1137" y="221"/><use href="#p299" x="1185" y="206"/><use href="#p266" x="1135" y="227"/><use href="#p263" x="1137" y="253"/><use href="#p276" x="1143" y="211"/><use href="#p300" x="1222" y="283"/><use href="#p293" x="1224" y="274"/><use href="#p177" x="1217" y="251"/><use href="#p52" x="1135" y="570"/><use href="#p159" x="1144" y="575"/><use href="#p155" x="1139" y="529"/><use href="#p52" x="1231" y="634"/><use href="#p72" x="1149" y="391"/><use href="#p145" x="1160" y="639"/><use href="#p115" x="1225" y="516"/><use href="#p15" x="1192" y="627"/><use href="#p29" x="1228" y="640"/><use href="#p135" x="1148" y="420"/><use href="#p93" x="1145" y="428"/><use href="#p202" x="1179" y="374"/><use href="#p81" x="1177" y="627"/><use href="#p49" x="1219" y="374"/><use href="#p45" x="1177" y="359"/><use href="#p119" x="1185" y="300"/><use href="#p61" x="1205" y="632"/><use href="#p2" x="1202" y="439"/><use href="#p66" x="1177" y="325"/><use href="#p16" x="1234" y="552"/><use href="#p117" x="1214" y="344"/><use href="#p26" x="1186" y="572"/><use href="#p78" x="1168" y="554"/><use href="#p89" x="1149" y="516"/><use href="#p78" x="1232" y="345"/><use href="#p118" x="1229" y="622"/><use href="#p204" x="1140" y="597"/><use href="#p49" x="1196" y="645"/><use href="#p79" x="1213" y="539"/><use href="#p81" x="1211" y="319"/><use href="#p63" x="1229" y="409"/><use href="#p9" x="1154" y="536"/><use href="#p22" x="1165" y="423"/><use href="#p38" x="1149" y="326"/><use href="#p62" x="1226" y="431"/><use href="#p70" x="1171" y="599"/><use href="#p42" x="1220" y="478"/><use href="#p164" x="1171" y="301"/><use href="#p35" x="1160" y="402"/><use href="#p63" x="1218" y="578"/><use href="#p89" x="1160" y="629"/><use href="#p48" x="1201" y="402"/><use href="#p45" x="1164" y="464"/><use href="#p134" x="1188" y="526"/><use href="#p77" x="1210" y="496"/><use href="#p142" x="1197" y="538"/><use href="#p154" x="1164" y="515"/><use href="#p74" x="1165" y="417"/><use href="#p181" x="1162" y="315"/><use href="#p49" x="1149" y="443"/><use href="#p197" x="1179" y="457"/><use href="#p48" x="1206" y="396"/><use href="#p25" x="1168" y="570"/><use href="#p138" x="1167" y="477"/><use href="#p88" x="1209" y="499"/><use href="#p89" x="1182" y="298"/><use href="#p137" x="1133" y="432"/><use href="#p165" x="1147" y="420"/><use href="#p39" x="1233" y="628"/><use href="#p157" x="1231" y="406"/><use href="#p49" x="1157" y="647"/><use href="#p4" x="1139" y="472"/><use href="#p70" x="1152" y="386"/><use href="#p29" x="1200" y="326"/><use href="#p137" x="1187" y="447"/><use href="#p66" x="1214" y="309"/><use href="#p85" x="1222" y="355"/><use href="#p171" x="1229" y="491"/><use href="#p141" x="1147" y="645"/><use href="#p37" x="1160" y="529"/><use href="#p54" x="1163" y="517"/><use href="#p81" x="1188" y="305"/><use href="#p27" x="1164" y="303"/><use href="#p66" x="1224" y="628"/><use href="#p55" x="1216" y="559"/><use href="#p208" x="1148" y="403"/><use href="#p142" x="1210" y="542"/></g>
<g fill="#78ebeb"><use href="#p28" x="1187" y="261"/><use href="#p311" x="1151" y="262"/><use href="#p64" x="1180" y="608"/><use href="#p81" x="1205" y="556"/><use href="#p203" x="1185" y="607"/><use href="#p157" x="1200" y="527"/><use href="#p130" x="1166" y="639"/></g>
<g fill="#994799"><use href="#p71" x="1198" y="444"/><use href="#p63" x="1223" y="327"/><use href="#p80" x="1133" y="485"/><use href="#p66" x="1229" y="589"/><use href="#p165" x="1229" y="481"/><use href="#p67" x="1187" y="370"/><use href="#p129" x="1137" y="487"/><use href="#p16" x="1221" y="306"/><use href="#p65" x="1147" y="554"/><use href="#p117" x="1202" y="561"/><use href="#p14" x="1204" y="635"/><use href="#p127" x="1173" y="643"/><use href="#p47" x="1147" y="323"/><use href="#p244" x="1213" y="621"/><use href="#p43" x="1165" y="621"/><use href="#p70" x="1172" y="456"/><use href="#p139" x="1135" y="551"/><use href="#p47" x="1214" y="589"/><use href="#p73" x="1141" y="323"/><use href="#p56" x="1208" y="399"/><use href="#p85" x="1210" y="548"/><use href="#p85" x="1166" y="301"/><use href="#p73" x="1167" y="451"/><use href="#p21" x="1180" y="395"/><use href="#p197" x="1159" y="577"/><use href="#p17" x="1153" y="520"/><use href="#p21" x="1229" y="492"/><use href="#p14" x="1197" y="312"/><use href="#p170" x="1219" y="381"/><use href="#p147" x="1184" y="338"/><use href="#p75" x="1218" y="608"/><use href="#p84" x="1177" y="497"/><use href="#p157" x="1189" y="409"/><use href="#p121" x="1233" y="639"/><use href="#p179" x="1218" y="591"/><use href="#p146" x="1221" y="644"/><use href="#p74" x="1184" y="647"/></g>
</g>
<clipPath id="c05"><rect x="1130.1" y="163.7" width="104.5" height="482.9"/></clipPath>
<linearGradient id="g06" x1="0" y1="0" x2="0" y2="1"><stop offset="0.000" stop-color="#000000"/><stop offset="0.014" stop-color="#0f0f0f"/><stop offset="0.222" stop-color="#0f0f0f"/><stop offset="0.302" stop-color="#000000"/><stop offset="0.317" stop-color="#231e23"/><stop offset="0.996" stop-color="#231e23"/><stop offset="1.000" stop-color="#000000"/></linearGradient>
<rect x="1246.0" y="163.7" width="104.0" height="482.9" fill="url(#g06)"/>
<g clip-path="url(#c06)" filter="url(#bl1)">
<g fill="#505050"><use href="#p340" x="1268" y="294"/><use href="#p341" x="1326" y="307"/></g>
<g fill="#69cdcd"><use href="#p41" x="1274" y="557"/><use href="#p66" x="1283" y="341"/><use href="#p27" x="1309" y="342"/><use href="#p59" x="1277" y="523"/></g>
<g fill="#7a7a7a"><use href="#p166" x="1312" y="230"/><use href="#p317" x="1288" y="223"/><use href="#p312" x="1303" y="223"/><use href="#p320" x="1346" y="230"/><use href="#p323" x="1273" y="183"/><use href="#p324" x="1272" y="205"/><use href="#p263" x="1247" y="236"/><use href="#p325" x="1326" y="218"/><use href="#p328" x="1335" y="226"/><use href="#p280" x="1294" y="258"/><use href="#p325" x="1319" y="178"/><use href="#p234" x="1298" y="220"/><use href="#p296" x="1300" y="194"/><use href="#p337" x="1316" y="203"/><use href="#p18" x="1346" y="450"/><use href="#p206" x="1280" y="639"/><use href="#p42" x="1310" y="485"/><use href="#p160" x="1334" y="421"/><use href="#p61" x="1297" y="352"/><use href="#p15" x="1254" y="562"/><use href="#p93" x="1277" y="641"/><use href="#p80" x="1286" y="506"/><use href="#p53" x="1333" y="490"/><use href="#p44" x="1291" y="380"/><use href="#p27" x="1258" y="575"/><use href="#p200" x="1343" y="552"/><use href="#p75" x="1333" y="403"/><use href="#p72" x="1322" y="466"/><use href="#p81" x="1253" y="402"/><use href="#p130" x="1327" y="426"/><use href="#p60" x="1293" y="617"/><use href="#p75" x="1249" y="597"/><use href="#p35" x="1251" y="511"/><use href="#p39" x="1303" y="361"/><use href="#p73" x="1340" y="543"/><use href="#p159" x="1254" y="408"/><use href="#p145" x="1332" y="567"/><use href="#p181" x="1306" y="528"/><use href="#p4" x="1291" y="628"/><use href="#p140" x="1282" y="588"/><use href="#p45" x="1272" y="611"/><use href="#p34" x="1270" y="331"/><use href="#p81" x="1342" y="352"/><use href="#p25" x="1265" y="604"/><use href="#p2" x="1330" y="458"/><use href="#p14" x="1280" y="634"/><use href="#p117" x="1305" y="622"/><use href="#p199" x="1247" y="369"/><use href="#p171" x="1258" y="365"/><use href="#p59" x="1299" y="444"/><use href="#p54" x="1275" y="437"/><use href="#p198" x="1281" y="337"/><use href="#p81" x="1251" y="418"/><use href="#p145" x="1247" y="391"/><use href="#p25" x="1293" y="547"/><use href="#p68" x="1263" y="387"/><use href="#p117" x="1318" y="380"/><use href="#p81" x="1285" y="512"/><use href="#p133" x="1333" y="596"/><use href="#p25" x="1341" y="482"/><use href="#p87" x="1319" y="551"/><use href="#p45" x="1285" y="434"/><use href="#p64" x="1273" y="314"/><use href="#p49" x="1278" y="411"/><use href="#p45" x="1281" y="319"/><use href="#p66" x="1344" y="402"/><use href="#p91" x="1298" y="469"/><use href="#p61" x="1314" y="447"/><use href="#p91" x="1322" y="420"/><use href="#p157" x="1247" y="433"/><use href="#p64" x="1342" y="376"/><use href="#p147" x="1296" y="494"/></g>
<g fill="#464646"><use href="#p338" x="1263" y="303"/><use href="#p309" x="1347" y="289"/><use href="#p313" x="1343" y="289"/><use href="#p318" x="1345" y="308"/></g>
<g fill="#78ebeb"><use href="#p15" x="1330" y="318"/><use href="#p59" x="1297" y="420"/><use href="#p93" x="1260" y="349"/></g>
<g fill="#8c8c8c"><use href="#p283" x="1340" y="254"/><use href="#p319" x="1269" y="227"/><use href="#p321" x="1323" y="187"/><use href="#p322" x="1343" y="208"/><use href="#p281" x="1288" y="172"/><use href="#p327" x="1280" y="199"/><use href="#p297" x="1336" y="177"/><use href="#p303" x="1312" y="200"/><use href="#p334" x="1255" y="232"/><use href="#p277" x="1295" y="185"/><use href="#p46" x="1284" y="637"/><use href="#p47" x="1334" y="514"/><use href="#p81" x="1333" y="369"/><use href="#p163" x="1304" y="546"/><use href="#p16" x="1310" y="358"/><use href="#p37" x="1345" y="498"/><use href="#p32" x="1349" y="483"/><use href="#p39" x="1324" y="482"/><use href="#p179" x="1259" y="458"/><use href="#p64" x="1323" y="409"/><use href="#p244" x="1253" y="535"/><use href="#p127" x="1348" y="489"/><use href="#p31" x="1288" y="478"/><use href="#p145" x="1266" y="454"/><use href="#p278" x="1251" y="390"/><use href="#p147" x="1279" y="444"/><use href="#p83" x="1310" y="558"/><use href="#p9" x="1310" y="524"/><use href="#p52" x="1274" y="401"/><use href="#p41" x="1255" y="632"/><use href="#p130" x="1340" y="459"/><use href="#p81" x="1261" y="531"/><use href="#p117" x="1331" y="633"/><use href="#p115" x="1264" y="564"/><use href="#p53" x="1313" y="339"/><use href="#p91" x="1261" y="468"/><use href="#p52" x="1300" y="364"/><use href="#p87" x="1349" y="377"/><use href="#p15" x="1303" y="454"/><use href="#p142" x="1338" y="428"/><use href="#p144" x="1265" y="388"/><use href="#p82" x="1339" y="489"/><use href="#p54" x="1248" y="533"/><use href="#p9" x="1254" y="322"/><use href="#p70" x="1288" y="592"/><use href="#p43" x="1339" y="643"/><use href="#p196" x="1271" y="451"/><use href="#p49" x="1349" y="629"/><use href="#p46" x="1324" y="384"/><use href="#p134" x="1277" y="569"/><use href="#p18" x="1274" y="643"/><use href="#p85" x="1294" y="581"/><use href="#p142" x="1334" y="338"/><use href="#p47" x="1333" y="397"/><use href="#p50" x="1288" y="611"/><use href="#p77" x="1307" y="537"/><use href="#p77" x="1347" y="510"/><use href="#p38" x="1285" y="618"/><use href="#p41" x="1265" y="503"/><use href="#p149" x="1250" y="318"/><use href="#p27" x="1285" y="598"/><use href="#p11" x="1298" y="373"/><use href="#p139" x="1310" y="432"/><use href="#p66" x="1294" y="347"/><use href="#p147" x="1328" y="435"/><use href="#p60" x="1263" y="348"/></g>
<g fill="#eb6deb"><use href="#p155" x="1286" y="320"/><use href="#p26" x="1253" y="624"/><use href="#p63" x="1328" y="486"/><use href="#p55" x="1254" y="498"/><use href="#p18" x="1289" y="605"/><use href="#p23" x="1271" y="495"/><use href="#p45" x="1331" y="636"/><use href="#p60" x="1344" y="517"/><use href="#p76" x="1298" y="592"/><use href="#p66" x="1274" y="484"/><use href="#p135" x="1269" y="466"/><use href="#p181" x="1247" y="408"/><use href="#p53" x="1298" y="483"/><use href="#p57" x="1270" y="351"/><use href="#p27" x="1281" y="586"/></g>
<g fill="#343434"><use href="#p339" x="1305" y="277"/></g>
<g fill="#cd5fcd"><use href="#p56" x="1284" y="339"/><use href="#p118" x="1297" y="466"/><use href="#p17" x="1312" y="574"/><use href="#p71" x="1307" y="571"/><use href="#p51" x="1329" y="513"/><use href="#p127" x="1279" y="493"/><use href="#p66" x="1342" y="351"/><use href="#p53" x="1295" y="368"/><use href="#p17" x="1301" y="619"/><use href="#p174" x="1265" y="385"/><use href="#p197" x="1335" y="349"/><use href="#p342" x="1297" y="626"/><use href="#p160" x="1291" y="431"/><use href="#p181" x="1265" y="527"/><use href="#p18" x="1307" y="566"/><use href="#p37" x="1270" y="388"/><use href="#p51" x="1268" y="386"/><use href="#p137" x="1294" y="349"/><use href="#p14" x="1305" y="423"/><use href="#p343" x="1262" y="551"/><use href="#p88" x="1349" y="336"/><use href="#p11" x="1252" y="411"/><use href="#p135" x="1345" y="621"/></g>
<g fill="#994799"><use href="#p181" x="1338" y="444"/><use href="#p28" x="1336" y="537"/><use href="#p169" x="1344" y="626"/><use href="#p58" x="1341" y="596"/><use href="#p203" x="1266" y="626"/><use href="#p137" x="1321" y="634"/><use href="#p37" x="1283" y="605"/><use href="#p161" x="1258" y="431"/><use href="#p28" x="1281" y="598"/><use href="#p200" x="1302" y="455"/><use href="#p85" x="1258" y="636"/><use href="#p127" x="1303" y="465"/><use href="#p47" x="1326" y="563"/><use href="#p121" x="1331" y="573"/><use href="#p81" x="1295" y="414"/><use href="#p9" x="1321" y="574"/></g>
<g fill="#4e9999"><use href="#p67" x="1350" y="477"/><use href="#p130" x="1344" y="385"/><use href="#p134" x="1253" y="567"/><use href="#p49" x="1282" y="352"/><use href="#p203" x="1325" y="419"/><use href="#p72" x="1288" y="525"/></g>
<g fill="#5b5b5b"><use href="#p313" x="1292" y="189"/><use href="#p316" x="1348" y="246"/><use href="#p282" x="1256" y="209"/><use href="#p274" x="1255" y="174"/><use href="#p269" x="1271" y="171"/><use href="#p318" x="1272" y="201"/><use href="#p326" x="1266" y="256"/><use href="#p329" x="1338" y="217"/><use href="#p294" x="1313" y="179"/><use href="#p327" x="1316" y="239"/><use href="#p330" x="1313" y="274"/><use href="#p305" x="1349" y="221"/><use href="#p331" x="1306" y="191"/><use href="#p332" x="1349" y="196"/><use href="#p333" x="1339" y="233"/><use href="#p313" x="1339" y="249"/><use href="#p335" x="1295" y="231"/><use href="#p336" x="1298" y="227"/><use href="#p33" x="1327" y="417"/><use href="#p115" x="1260" y="392"/><use href="#p26" x="1316" y="564"/><use href="#p52" x="1251" y="392"/><use href="#p41" x="1263" y="460"/><use href="#p47" x="1315" y="471"/><use href="#p145" x="1323" y="408"/><use href="#p75" x="1299" y="468"/><use href="#p172" x="1318" y="359"/><use href="#p172" x="1341" y="398"/><use href="#p27" x="1323" y="573"/><use href="#p93" x="1252" y="388"/><use href="#p139" x="1249" y="541"/><use href="#p11" x="1294" y="361"/><use href="#p115" x="1298" y="638"/><use href="#p48" x="1345" y="528"/><use href="#p54" x="1341" y="370"/><use href="#p154" x="1325" y="563"/><use href="#p9" x="1310" y="323"/><use href="#p37" x="1294" y="608"/><use href="#p48" x="1263" y="540"/><use href="#p25" x="1282" y="554"/><use href="#p93" x="1286" y="510"/><use href="#p67" x="1312" y="546"/><use href="#p49" x="1277" y="333"/><use href="#p61" x="1314" y="433"/><use href="#p49" x="1261" y="326"/><use href="#p148" x="1314" y="433"/><use href="#p45" x="1294" y="415"/><use href="#p72" x="1268" y="513"/><use href="#p89" x="1287" y="382"/><use href="#p27" x="1261" y="529"/><use href="#p16" x="1346" y="514"/><use href="#p42" x="1326" y="538"/><use href="#p74" x="1305" y="360"/><use href="#p45" x="1286" y="543"/><use href="#p227" x="1255" y="535"/><use href="#p204" x="1317" y="413"/><use href="#p147" x="1318" y="426"/><use href="#p134" x="1342" y="386"/><use href="#p63" x="1344" y="595"/><use href="#p149" x="1274" y="404"/><use href="#p74" x="1256" y="462"/><use href="#p25" x="1321" y="544"/><use href="#p76" x="1300" y="321"/><use href="#p145" x="1281" y="597"/><use href="#p20" x="1292" y="509"/><use href="#p23" x="1296" y="387"/><use href="#p91" x="1266" y="591"/><use href="#p35" x="1290" y="500"/><use href="#p73" x="1288" y="547"/><use href="#p75" x="1277" y="577"/><use href="#p88" x="1292" y="468"/><use href="#p205" x="1260" y="336"/><use href="#p81" x="1248" y="316"/></g>
</g>
<clipPath id="c06"><rect x="1246.0" y="163.7" width="104.0" height="482.9"/></clipPath>
<linearGradient id="g10" x1="0" y1="0" x2="0" y2="1"><stop offset="0.006" stop-color="#000000"/><stop offset="0.021" stop-color="#051e08"/><stop offset="0.100" stop-color="#051e08"/><stop offset="0.113" stop-color="#286ea0"/><stop offset="0.283" stop-color="#286ea0"/><stop offset="0.296" stop-color="#2323c8"/><stop offset="0.652" stop-color="#2323c8"/><stop offset="0.667" stop-color="#000000"/></linearGradient>
<rect x="550.3" y="669.6" width="104.5" height="479.9" fill="url(#g10)"/>
<g clip-path="url(#c10)" filter="url(#bl1)">
<g fill="#2ec350"><use href="#p351" x="642" y="768"/><use href="#p68" x="641" y="769"/><use href="#p352" x="616" y="782"/><use href="#p353" x="552" y="803"/><use href="#p360" x="605" y="767"/><use href="#p62" x="634" y="751"/><use href="#p22" x="589" y="787"/><use href="#p355" x="574" y="723"/><use href="#p89" x="596" y="778"/><use href="#p364" x="640" y="733"/><use href="#p51" x="555" y="777"/><use href="#p366" x="569" y="788"/><use href="#p240" x="595" y="748"/><use href="#p68" x="583" y="744"/><use href="#p91" x="631" y="727"/><use href="#p26" x="588" y="802"/><use href="#p371" x="607" y="723"/></g>
<g fill="#39b88a"><use href="#p49" x="600" y="857"/><use href="#p121" x="585" y="932"/><use href="#p66" x="593" y="970"/><use href="#p25" x="572" y="949"/><use href="#p37" x="634" y="891"/><use href="#p14" x="599" y="934"/><use href="#p344" x="557" y="974"/><use href="#p149" x="622" y="835"/><use href="#p85" x="554" y="918"/><use href="#p8" x="571" y="836"/><use href="#p14" x="599" y="909"/><use href="#p5" x="613" y="892"/><use href="#p73" x="618" y="965"/><use href="#p47" x="584" y="862"/><use href="#p11" x="648" y="916"/><use href="#p134" x="644" y="947"/></g>
<g fill="#3ffc50"><use href="#p42" x="611" y="699"/><use href="#p344" x="568" y="720"/><use href="#p73" x="575" y="715"/><use href="#p345" x="565" y="706"/><use href="#p346" x="634" y="708"/><use href="#p56" x="626" y="684"/><use href="#p347" x="631" y="707"/><use href="#p348" x="572" y="683"/><use href="#p349" x="636" y="719"/></g>
<g fill="#1e7f34"><use href="#p88" x="598" y="749"/><use href="#p170" x="627" y="760"/><use href="#p354" x="614" y="788"/><use href="#p357" x="577" y="794"/><use href="#p239" x="637" y="796"/><use href="#p357" x="589" y="795"/><use href="#p361" x="651" y="739"/><use href="#p26" x="579" y="724"/><use href="#p363" x="600" y="796"/><use href="#p367" x="610" y="724"/><use href="#p26" x="630" y="752"/><use href="#p15" x="578" y="741"/><use href="#p368" x="627" y="777"/><use href="#p369" x="609" y="745"/><use href="#p19" x="648" y="767"/><use href="#p28" x="630" y="787"/><use href="#p16" x="564" y="769"/></g>
<g fill="#32a078"><use href="#p162" x="646" y="967"/><use href="#p72" x="648" y="832"/><use href="#p66" x="619" y="947"/><use href="#p407" x="619" y="872"/><use href="#p12" x="586" y="910"/><use href="#p43" x="639" y="983"/><use href="#p37" x="594" y="973"/></g>
<g fill="#29a534"><use href="#p117" x="613" y="695"/><use href="#p6" x="578" y="720"/><use href="#p77" x="613" y="703"/><use href="#p59" x="644" y="687"/><use href="#p15" x="572" y="686"/><use href="#p84" x="574" y="717"/><use href="#p47" x="621" y="704"/><use href="#p93" x="639" y="683"/><use href="#p64" x="646" y="707"/><use href="#p37" x="596" y="707"/><use href="#p91" x="624" y="696"/><use href="#p52" x="648" y="705"/><use href="#p14" x="571" y="715"/></g>
<g fill="#161661"><use href="#p440" x="581" y="1148"/></g>
<g fill="#25785a"><use href="#p59" x="644" y="931"/><use href="#p6" x="560" y="904"/><use href="#p89" x="630" y="896"/><use href="#p121" x="635" y="897"/><use href="#p405" x="565" y="949"/><use href="#p121" x="654" y="846"/><use href="#p10" x="646" y="970"/><use href="#p0" x="612" y="823"/><use href="#p26" x="616" y="841"/><use href="#p405" x="567" y="834"/><use href="#p350" x="607" y="980"/><use href="#p72" x="557" y="847"/><use href="#p70" x="595" y="809"/><use href="#p27" x="605" y="985"/><use href="#p406" x="587" y="893"/><use href="#p77" x="581" y="839"/><use href="#p59" x="587" y="846"/><use href="#p134" x="600" y="836"/><use href="#p47" x="574" y="937"/><use href="#p13" x="569" y="873"/><use href="#p348" x="621" y="977"/><use href="#p59" x="620" y="902"/><use href="#p405" x="651" y="880"/></g>
<g fill="#3496a8"><use href="#p372" x="584" y="733"/><use href="#p377" x="637" y="740"/><use href="#p378" x="583" y="773"/><use href="#p380" x="582" y="756"/><use href="#p372" x="608" y="780"/><use href="#p382" x="647" y="744"/><use href="#p380" x="601" y="806"/><use href="#p389" x="560" y="782"/><use href="#p374" x="602" y="746"/><use href="#p390" x="608" y="729"/><use href="#p384" x="647" y="801"/><use href="#p393" x="601" y="806"/><use href="#p395" x="631" y="767"/><use href="#p398" x="551" y="754"/><use href="#p402" x="612" y="798"/><use href="#p374" x="627" y="737"/><use href="#p372" x="608" y="951"/><use href="#p377" x="615" y="950"/><use href="#p409" x="595" y="934"/><use href="#p410" x="583" y="878"/><use href="#p383" x="562" y="884"/><use href="#p388" x="635" y="839"/><use href="#p380" x="604" y="899"/><use href="#p380" x="573" y="968"/><use href="#p409" x="652" y="825"/><use href="#p378" x="561" y="822"/><use href="#p386" x="600" y="815"/><use href="#p372" x="611" y="844"/><use href="#p398" x="638" y="814"/><use href="#p414" x="576" y="839"/><use href="#p413" x="632" y="959"/><use href="#p417" x="608" y="829"/><use href="#p378" x="553" y="927"/><use href="#p372" x="632" y="956"/><use href="#p375" x="557" y="886"/><use href="#p379" x="644" y="928"/><use href="#p105" x="636" y="880"/><use href="#p378" x="595" y="819"/><use href="#p104" x="576" y="920"/><use href="#p413" x="559" y="824"/></g>
<g fill="#222295"><use href="#p436" x="638" y="1049"/><use href="#p437" x="586" y="1137"/><use href="#p210" x="551" y="1023"/></g>
<g fill="#50e5ff"><use href="#p376" x="611" y="744"/><use href="#p379" x="556" y="764"/><use href="#p385" x="600" y="795"/><use href="#p386" x="611" y="739"/><use href="#p387" x="619" y="739"/><use href="#p391" x="629" y="773"/><use href="#p394" x="652" y="764"/><use href="#p396" x="567" y="800"/><use href="#p400" x="557" y="729"/><use href="#p104" x="630" y="752"/><use href="#p384" x="612" y="870"/><use href="#p390" x="563" y="882"/><use href="#p390" x="560" y="890"/><use href="#p375" x="640" y="812"/><use href="#p395" x="578" y="855"/><use href="#p376" x="597" y="974"/><use href="#p389" x="570" y="977"/><use href="#p395" x="579" y="977"/><use href="#p388" x="551" y="950"/><use href="#p380" x="580" y="889"/><use href="#p398" x="653" y="916"/></g>
<g fill="#07073c"><use href="#p422" x="597" y="895"/><use href="#p423" x="620" y="832"/><use href="#p426" x="560" y="818"/><use href="#p427" x="620" y="855"/><use href="#p430" x="654" y="847"/><use href="#p431" x="583" y="816"/><use href="#p432" x="570" y="948"/><use href="#p433" x="616" y="888"/><use href="#p434" x="551" y="879"/><use href="#p435" x="617" y="922"/></g>
<g fill="#37dc46"><use href="#p151" x="619" y="709"/><use href="#p88" x="650" y="681"/><use href="#p56" x="621" y="686"/><use href="#p49" x="599" y="682"/><use href="#p148" x="569" y="716"/><use href="#p13" x="631" y="692"/><use href="#p347" x="626" y="703"/><use href="#p56" x="577" y="719"/><use href="#p37" x="645" y="701"/></g>
<g fill="#28aa46"><use href="#p350" x="564" y="808"/><use href="#p355" x="607" y="725"/><use href="#p356" x="571" y="798"/><use href="#p358" x="612" y="788"/><use href="#p359" x="645" y="775"/><use href="#p49" x="560" y="794"/><use href="#p67" x="561" y="773"/><use href="#p85" x="615" y="786"/><use href="#p15" x="631" y="774"/><use href="#p62" x="562" y="741"/><use href="#p145" x="598" y="791"/><use href="#p71" x="555" y="792"/><use href="#p362" x="638" y="774"/><use href="#p357" x="625" y="747"/><use href="#p365" x="593" y="731"/><use href="#p17" x="557" y="807"/><use href="#p67" x="570" y="805"/><use href="#p51" x="636" y="776"/><use href="#p370" x="591" y="802"/><use href="#p356" x="592" y="802"/><use href="#p359" x="586" y="801"/></g>
<g fill="#0a0a50"><use href="#p420" x="583" y="983"/><use href="#p346" x="636" y="855"/><use href="#p128" x="572" y="920"/><use href="#p425" x="622" y="927"/><use href="#p215" x="627" y="908"/><use href="#p428" x="572" y="870"/><use href="#p429" x="612" y="838"/><use href="#p423" x="628" y="915"/></g>
<g fill="#1e1e82"><use href="#p438" x="576" y="1124"/><use href="#p439" x="627" y="1114"/></g>
<g fill="#0b0b5c"><use href="#p419" x="608" y="910"/><use href="#p182" x="575" y="915"/><use href="#p421" x="567" y="827"/><use href="#p424" x="623" y="942"/><use href="#p426" x="579" y="985"/><use href="#p429" x="575" y="856"/><use href="#p162" x="597" y="831"/><use href="#p425" x="614" y="941"/><use href="#p0" x="574" y="962"/></g>
<g fill="#46c8e1"><use href="#p373" x="562" y="756"/><use href="#p374" x="635" y="803"/><use href="#p375" x="637" y="737"/><use href="#p381" x="555" y="726"/><use href="#p383" x="624" y="760"/><use href="#p384" x="566" y="762"/><use href="#p374" x="612" y="754"/><use href="#p382" x="655" y="730"/><use href="#p104" x="651" y="725"/><use href="#p388" x="614" y="782"/><use href="#p385" x="564" y="808"/><use href="#p392" x="610" y="731"/><use href="#p376" x="642" y="739"/><use href="#p397" x="608" y="750"/><use href="#p399" x="626" y="727"/><use href="#p383" x="631" y="741"/><use href="#p401" x="577" y="735"/><use href="#p403" x="626" y="748"/><use href="#p404" x="646" y="773"/><use href="#p386" x="642" y="949"/><use href="#p111" x="653" y="854"/><use href="#p104" x="639" y="944"/><use href="#p408" x="646" y="812"/><use href="#p392" x="564" y="950"/><use href="#p402" x="611" y="875"/><use href="#p380" x="551" y="914"/><use href="#p411" x="639" y="815"/><use href="#p412" x="633" y="934"/><use href="#p393" x="557" y="969"/><use href="#p413" x="632" y="838"/><use href="#p392" x="603" y="848"/><use href="#p415" x="610" y="832"/><use href="#p387" x="654" y="912"/><use href="#p382" x="612" y="968"/><use href="#p416" x="633" y="979"/><use href="#p418" x="572" y="945"/><use href="#p103" x="643" y="931"/><use href="#p398" x="573" y="873"/><use href="#p104" x="647" y="924"/></g>
</g>
<clipPath id="c10"><rect x="550.3" y="669.6" width="104.5" height="479.9"/></clipPath>
<linearGradient id="g11" x1="0" y1="0" x2="0" y2="1"><stop offset="0.000" stop-color="#000000"/><stop offset="0.013" stop-color="#05320a"/><stop offset="0.063" stop-color="#05320a"/><stop offset="0.075" stop-color="#14503c"/><stop offset="0.269" stop-color="#14503c"/><stop offset="0.281" stop-color="#2323aa"/><stop offset="0.575" stop-color="#2323aa"/><stop offset="0.588" stop-color="#4b28be"/><stop offset="0.748" stop-color="#4b28be"/><stop offset="0.763" stop-color="#000000"/></linearGradient>
<rect x="666.3" y="669.6" width="104.5" height="479.9" fill="url(#g11)"/>
<g clip-path="url(#c11)" filter="url(#bl1)">
<g fill="#3496a8"><use href="#p381" x="707" y="760"/><use href="#p387" x="713" y="708"/><use href="#p402" x="755" y="735"/><use href="#p379" x="704" y="717"/><use href="#p380" x="762" y="763"/><use href="#p373" x="685" y="914"/><use href="#p99" x="694" y="939"/><use href="#p396" x="763" y="881"/><use href="#p383" x="701" y="810"/><use href="#p382" x="710" y="834"/><use href="#p394" x="753" y="909"/><use href="#p379" x="753" y="912"/><use href="#p457" x="709" y="838"/><use href="#p458" x="686" y="814"/></g>
<g fill="#3ffc50"><use href="#p4" x="697" y="696"/><use href="#p33" x="749" y="680"/><use href="#p47" x="699" y="677"/><use href="#p47" x="708" y="673"/><use href="#p406" x="705" y="680"/><use href="#p128" x="673" y="681"/><use href="#p43" x="757" y="702"/><use href="#p134" x="769" y="698"/><use href="#p47" x="685" y="701"/><use href="#p14" x="749" y="681"/><use href="#p45" x="694" y="679"/><use href="#p26" x="734" y="955"/><use href="#p478" x="740" y="1027"/><use href="#p475" x="755" y="1028"/><use href="#p481" x="705" y="1031"/></g>
<g fill="#29a534"><use href="#p59" x="710" y="692"/><use href="#p78" x="675" y="697"/><use href="#p12" x="738" y="689"/><use href="#p433" x="684" y="677"/><use href="#p93" x="694" y="694"/><use href="#p18" x="746" y="676"/><use href="#p121" x="731" y="681"/><use href="#p441" x="752" y="688"/><use href="#p126" x="728" y="682"/><use href="#p47" x="741" y="701"/><use href="#p123" x="764" y="696"/><use href="#p348" x="694" y="685"/><use href="#p119" x="685" y="682"/><use href="#p122" x="708" y="673"/><use href="#p12" x="685" y="697"/><use href="#p443" x="720" y="696"/><use href="#p146" x="720" y="1027"/><use href="#p476" x="737" y="1024"/><use href="#p482" x="673" y="1023"/></g>
<g fill="#e132e1"><use href="#p465" x="719" y="985"/><use href="#p376" x="704" y="1019"/><use href="#p376" x="745" y="954"/><use href="#p471" x="680" y="1030"/><use href="#p397" x="726" y="982"/><use href="#p390" x="676" y="957"/><use href="#p415" x="705" y="1031"/><use href="#p393" x="742" y="973"/><use href="#p415" x="673" y="972"/><use href="#p105" x="684" y="987"/><use href="#p474" x="720" y="1024"/><use href="#p386" x="733" y="953"/></g>
<g fill="#28c337"><use href="#p88" x="740" y="791"/><use href="#p49" x="707" y="798"/><use href="#p405" x="740" y="726"/><use href="#p446" x="736" y="734"/><use href="#p29" x="728" y="738"/><use href="#p25" x="713" y="709"/><use href="#p445" x="734" y="728"/><use href="#p1" x="749" y="712"/><use href="#p93" x="684" y="784"/><use href="#p143" x="684" y="749"/><use href="#p4" x="685" y="730"/><use href="#p449" x="703" y="795"/><use href="#p85" x="742" y="769"/><use href="#p121" x="759" y="745"/></g>
<g fill="#1e9229"><use href="#p117" x="717" y="743"/><use href="#p15" x="676" y="758"/><use href="#p75" x="667" y="762"/><use href="#p444" x="746" y="709"/><use href="#p56" x="771" y="724"/><use href="#p50" x="712" y="706"/><use href="#p15" x="687" y="717"/><use href="#p445" x="668" y="800"/><use href="#p93" x="690" y="718"/><use href="#p350" x="687" y="725"/><use href="#p11" x="716" y="753"/><use href="#p3" x="710" y="801"/><use href="#p52" x="720" y="713"/><use href="#p447" x="721" y="746"/><use href="#p405" x="747" y="781"/><use href="#p0" x="732" y="801"/><use href="#p85" x="752" y="742"/><use href="#p18" x="765" y="793"/><use href="#p52" x="685" y="800"/><use href="#p66" x="706" y="801"/><use href="#p15" x="733" y="718"/><use href="#p3" x="692" y="728"/><use href="#p448" x="666" y="740"/><use href="#p407" x="690" y="718"/><use href="#p12" x="761" y="739"/><use href="#p26" x="676" y="789"/><use href="#p4" x="731" y="760"/><use href="#p25" x="701" y="785"/><use href="#p11" x="687" y="793"/><use href="#p442" x="763" y="773"/><use href="#p93" x="759" y="787"/><use href="#p62" x="723" y="759"/><use href="#p8" x="703" y="793"/><use href="#p55" x="685" y="785"/><use href="#p70" x="759" y="705"/><use href="#p11" x="744" y="800"/><use href="#p70" x="683" y="734"/><use href="#p48" x="759" y="704"/><use href="#p85" x="762" y="744"/><use href="#p25" x="718" y="757"/><use href="#p47" x="717" y="752"/></g>
<g fill="#37dc46"><use href="#p123" x="691" y="699"/><use href="#p48" x="699" y="676"/><use href="#p43" x="684" y="678"/><use href="#p12" x="684" y="685"/><use href="#p47" x="678" y="691"/><use href="#p45" x="743" y="674"/><use href="#p59" x="723" y="698"/><use href="#p121" x="682" y="693"/><use href="#p12" x="700" y="673"/><use href="#p0" x="713" y="697"/><use href="#p135" x="667" y="698"/><use href="#p442" x="673" y="687"/><use href="#p125" x="740" y="684"/><use href="#p475" x="691" y="1022"/><use href="#p477" x="739" y="1017"/><use href="#p479" x="711" y="1025"/><use href="#p480" x="750" y="1016"/><use href="#p483" x="689" y="1028"/></g>
<g fill="#1e8e2d"><use href="#p405" x="766" y="885"/><use href="#p405" x="748" y="815"/><use href="#p426" x="706" y="922"/><use href="#p12" x="706" y="913"/><use href="#p93" x="708" y="930"/><use href="#p15" x="706" y="855"/><use href="#p56" x="723" y="818"/><use href="#p12" x="744" y="899"/><use href="#p121" x="759" y="874"/><use href="#p47" x="760" y="865"/><use href="#p52" x="749" y="928"/><use href="#p435" x="712" y="804"/><use href="#p11" x="677" y="811"/><use href="#p138" x="727" y="912"/><use href="#p433" x="697" y="947"/></g>
<g fill="#50e5ff"><use href="#p396" x="687" y="725"/><use href="#p391" x="683" y="714"/><use href="#p404" x="691" y="726"/><use href="#p378" x="668" y="769"/><use href="#p413" x="685" y="758"/><use href="#p393" x="670" y="718"/><use href="#p451" x="717" y="778"/><use href="#p452" x="732" y="779"/><use href="#p385" x="730" y="757"/><use href="#p452" x="694" y="899"/><use href="#p111" x="668" y="852"/><use href="#p390" x="734" y="935"/><use href="#p396" x="710" y="940"/><use href="#p375" x="705" y="837"/><use href="#p390" x="686" y="920"/><use href="#p373" x="705" y="937"/><use href="#p402" x="708" y="844"/><use href="#p388" x="754" y="804"/><use href="#p383" x="752" y="888"/><use href="#p398" x="752" y="824"/><use href="#p456" x="767" y="877"/><use href="#p404" x="723" y="855"/><use href="#p416" x="730" y="921"/></g>
<g fill="#0a0a50"><use href="#p420" x="697" y="948"/><use href="#p455" x="734" y="839"/><use href="#p424" x="730" y="850"/><use href="#p420" x="756" y="908"/><use href="#p433" x="693" y="924"/><use href="#p445" x="686" y="895"/><use href="#p462" x="716" y="944"/><use href="#p421" x="712" y="898"/></g>
<g fill="#2ee03f"><use href="#p0" x="736" y="796"/><use href="#p10" x="738" y="722"/><use href="#p158" x="699" y="721"/><use href="#p12" x="715" y="778"/><use href="#p47" x="717" y="721"/><use href="#p37" x="689" y="717"/><use href="#p149" x="715" y="762"/><use href="#p4" x="759" y="797"/><use href="#p26" x="715" y="708"/><use href="#p14" x="690" y="721"/><use href="#p46" x="748" y="705"/><use href="#p47" x="760" y="727"/><use href="#p35" x="746" y="780"/><use href="#p47" x="699" y="779"/><use href="#p130" x="722" y="731"/><use href="#p349" x="692" y="777"/><use href="#p58" x="682" y="717"/><use href="#p405" x="693" y="796"/><use href="#p75" x="769" y="787"/><use href="#p72" x="740" y="735"/><use href="#p14" x="669" y="766"/><use href="#p47" x="764" y="735"/><use href="#p66" x="766" y="711"/><use href="#p52" x="736" y="732"/><use href="#p58" x="680" y="774"/><use href="#p45" x="678" y="705"/><use href="#p45" x="759" y="737"/></g>
<g fill="#28be3c"><use href="#p12" x="722" y="891"/><use href="#p52" x="756" y="809"/><use href="#p128" x="739" y="861"/><use href="#p342" x="684" y="899"/><use href="#p25" x="677" y="932"/><use href="#p454" x="699" y="854"/><use href="#p74" x="691" y="907"/><use href="#p128" x="746" y="928"/><use href="#p156" x="729" y="890"/><use href="#p433" x="692" y="928"/><use href="#p77" x="688" y="871"/><use href="#p45" x="723" y="924"/><use href="#p27" x="764" y="872"/><use href="#p219" x="716" y="921"/><use href="#p127" x="693" y="936"/><use href="#p91" x="677" y="844"/><use href="#p342" x="760" y="908"/><use href="#p138" x="706" y="828"/><use href="#p1" x="704" y="921"/><use href="#p455" x="764" y="909"/><use href="#p56" x="732" y="873"/><use href="#p306" x="671" y="909"/></g>
<g fill="#46c8e1"><use href="#p450" x="685" y="792"/><use href="#p409" x="769" y="798"/><use href="#p403" x="683" y="773"/><use href="#p382" x="751" y="723"/><use href="#p374" x="729" y="703"/><use href="#p105" x="677" y="758"/><use href="#p385" x="668" y="919"/><use href="#p401" x="684" y="895"/><use href="#p399" x="687" y="888"/><use href="#p384" x="672" y="860"/><use href="#p459" x="739" y="820"/><use href="#p398" x="717" y="860"/><use href="#p372" x="720" y="853"/></g>
<g fill="#ff39ff"><use href="#p466" x="698" y="958"/><use href="#p391" x="741" y="975"/><use href="#p465" x="704" y="953"/><use href="#p105" x="711" y="963"/><use href="#p469" x="700" y="958"/><use href="#p386" x="723" y="1016"/><use href="#p399" x="685" y="1031"/><use href="#p472" x="696" y="1002"/><use href="#p399" x="692" y="974"/><use href="#p392" x="667" y="1030"/><use href="#p459" x="744" y="1012"/></g>
<g fill="#2eda45"><use href="#p45" x="716" y="837"/><use href="#p453" x="675" y="829"/><use href="#p348" x="708" y="913"/><use href="#p267" x="677" y="860"/><use href="#p194" x="738" y="942"/><use href="#p449" x="767" y="827"/><use href="#p93" x="766" y="887"/><use href="#p130" x="674" y="899"/><use href="#p33" x="677" y="931"/></g>
<g fill="#07073c"><use href="#p12" x="771" y="889"/><use href="#p441" x="718" y="868"/><use href="#p425" x="734" y="809"/><use href="#p461" x="771" y="946"/><use href="#p125" x="733" y="871"/><use href="#p433" x="686" y="881"/><use href="#p455" x="668" y="893"/><use href="#p463" x="746" y="928"/><use href="#p463" x="730" y="938"/></g>
<g fill="#0b0b5c"><use href="#p122" x="695" y="916"/><use href="#p460" x="709" y="808"/><use href="#p121" x="766" y="806"/><use href="#p419" x="697" y="895"/><use href="#p420" x="724" y="822"/><use href="#p464" x="751" y="934"/></g>
<g fill="#a825a8"><use href="#p467" x="757" y="975"/><use href="#p468" x="720" y="999"/><use href="#p386" x="727" y="998"/><use href="#p468" x="704" y="997"/><use href="#p415" x="703" y="960"/><use href="#p412" x="756" y="970"/><use href="#p470" x="706" y="1001"/><use href="#p459" x="704" y="1014"/><use href="#p456" x="742" y="1013"/><use href="#p473" x="705" y="962"/><use href="#p386" x="724" y="1004"/></g>
</g>
<clipPath id="c11"><rect x="666.3" y="669.6" width="104.5" height="479.9"/></clipPath>
<linearGradient id="g12" x1="0" y1="0" x2="0" y2="1"><stop offset="0.000" stop-color="#000000"/><stop offset="0.013" stop-color="#05320a"/><stop offset="0.054" stop-color="#05320a"/><stop offset="0.067" stop-color="#286e96"/><stop offset="0.238" stop-color="#286e96"/><stop offset="0.250" stop-color="#2828c3"/><stop offset="0.652" stop-color="#2828c3"/><stop offset="0.721" stop-color="#000000"/><stop offset="0.736" stop-color="#08082d"/><stop offset="0.994" stop-color="#08082d"/><stop offset="1.000" stop-color="#000000"/></linearGradient>
<rect x="782.2" y="669.6" width="104.5" height="479.9" fill="url(#g12)"/>
<g clip-path="url(#c12)" filter="url(#bl1)">
<g fill="#2828a0"><use href="#p506" x="842" y="1145"/><use href="#p512" x="792" y="1043"/><use href="#p43" x="795" y="1045"/><use href="#p33" x="825" y="1129"/><use href="#p523" x="799" y="1033"/><use href="#p0" x="867" y="1022"/><use href="#p524" x="861" y="1143"/><use href="#p514" x="786" y="1039"/></g>
<g fill="#121252"><use href="#p93" x="885" y="1053"/><use href="#p521" x="883" y="1140"/><use href="#p436" x="880" y="1039"/></g>
<g fill="#19196e"><use href="#p510" x="826" y="1056"/><use href="#p511" x="864" y="1061"/><use href="#p513" x="847" y="1105"/><use href="#p514" x="864" y="1121"/><use href="#p455" x="805" y="1132"/><use href="#p213" x="848" y="1144"/><use href="#p192" x="801" y="1125"/><use href="#p522" x="853" y="1144"/><use href="#p128" x="800" y="1026"/><use href="#p134" x="858" y="1138"/></g>
<g fill="#07073c"><use href="#p77" x="802" y="942"/><use href="#p191" x="852" y="867"/><use href="#p14" x="876" y="914"/><use href="#p445" x="788" y="797"/><use href="#p49" x="800" y="900"/><use href="#p26" x="805" y="820"/><use href="#p18" x="884" y="874"/><use href="#p87" x="799" y="821"/><use href="#p213" x="862" y="894"/></g>
<g fill="#3496a8"><use href="#p414" x="813" y="701"/><use href="#p374" x="832" y="702"/><use href="#p398" x="855" y="735"/><use href="#p388" x="840" y="723"/><use href="#p378" x="851" y="741"/><use href="#p383" x="806" y="775"/><use href="#p380" x="785" y="772"/><use href="#p104" x="837" y="755"/><use href="#p395" x="874" y="744"/><use href="#p386" x="842" y="747"/><use href="#p392" x="881" y="886"/><use href="#p416" x="793" y="898"/><use href="#p378" x="832" y="840"/><use href="#p104" x="877" y="915"/><use href="#p418" x="799" y="971"/><use href="#p401" x="852" y="928"/><use href="#p499" x="824" y="884"/><use href="#p502" x="865" y="871"/><use href="#p99" x="792" y="902"/><use href="#p381" x="823" y="949"/><use href="#p389" x="856" y="917"/><use href="#p384" x="817" y="837"/><use href="#p504" x="798" y="896"/><use href="#p386" x="821" y="982"/><use href="#p458" x="858" y="926"/><use href="#p417" x="868" y="956"/><use href="#p380" x="814" y="861"/><use href="#p375" x="817" y="901"/><use href="#p104" x="812" y="955"/><use href="#p456" x="883" y="899"/><use href="#p383" x="805" y="836"/><use href="#p385" x="883" y="814"/></g>
<g fill="#1e1e78"><use href="#p218" x="838" y="1108"/><use href="#p74" x="786" y="1137"/><use href="#p445" x="862" y="1116"/><use href="#p125" x="852" y="1024"/><use href="#p508" x="832" y="1054"/><use href="#p509" x="856" y="1036"/><use href="#p515" x="831" y="1074"/><use href="#p516" x="807" y="1024"/><use href="#p517" x="810" y="1080"/><use href="#p419" x="842" y="1084"/><use href="#p519" x="854" y="1123"/><use href="#p525" x="851" y="1093"/><use href="#p213" x="848" y="1044"/><use href="#p528" x="859" y="1135"/></g>
<g fill="#50e5ff"><use href="#p409" x="881" y="706"/><use href="#p417" x="879" y="775"/><use href="#p100" x="800" y="737"/><use href="#p412" x="811" y="707"/><use href="#p382" x="823" y="740"/><use href="#p377" x="816" y="702"/><use href="#p499" x="858" y="706"/><use href="#p394" x="800" y="722"/><use href="#p377" x="824" y="719"/><use href="#p379" x="835" y="779"/><use href="#p390" x="838" y="740"/><use href="#p396" x="796" y="700"/><use href="#p393" x="823" y="852"/><use href="#p377" x="800" y="927"/><use href="#p386" x="814" y="975"/><use href="#p398" x="802" y="966"/><use href="#p416" x="809" y="969"/><use href="#p399" x="880" y="917"/><use href="#p413" x="878" y="918"/><use href="#p387" x="809" y="957"/><use href="#p465" x="853" y="943"/><use href="#p398" x="791" y="874"/><use href="#p417" x="810" y="918"/><use href="#p104" x="823" y="949"/><use href="#p418" x="824" y="788"/><use href="#p410" x="797" y="805"/><use href="#p415" x="785" y="945"/></g>
<g fill="#29a534"><use href="#p56" x="824" y="688"/><use href="#p11" x="862" y="693"/><use href="#p484" x="802" y="679"/><use href="#p45" x="793" y="695"/><use href="#p74" x="874" y="691"/><use href="#p15" x="837" y="673"/><use href="#p419" x="865" y="698"/><use href="#p70" x="799" y="687"/><use href="#p77" x="826" y="690"/><use href="#p33" x="800" y="673"/></g>
<g fill="#1e7f34"><use href="#p486" x="878" y="721"/><use href="#p364" x="799" y="746"/><use href="#p66" x="886" y="712"/><use href="#p165" x="877" y="722"/><use href="#p489" x="844" y="735"/><use href="#p39" x="881" y="749"/><use href="#p68" x="860" y="733"/><use href="#p363" x="804" y="717"/><use href="#p73" x="868" y="746"/><use href="#p165" x="881" y="761"/><use href="#p288" x="867" y="780"/><use href="#p354" x="822" y="740"/><use href="#p497" x="810" y="781"/><use href="#p344" x="867" y="810"/><use href="#p449" x="878" y="869"/><use href="#p26" x="869" y="890"/><use href="#p49" x="853" y="837"/><use href="#p89" x="795" y="963"/><use href="#p72" x="813" y="939"/><use href="#p11" x="817" y="929"/><use href="#p47" x="841" y="845"/><use href="#p47" x="792" y="973"/><use href="#p75" x="878" y="862"/><use href="#p67" x="791" y="802"/><use href="#p37" x="804" y="978"/><use href="#p13" x="786" y="790"/><use href="#p445" x="872" y="871"/><use href="#p17" x="806" y="810"/></g>
<g fill="#1c1c7e"><use href="#p125" x="863" y="1079"/><use href="#p140" x="848" y="1075"/><use href="#p505" x="804" y="1121"/><use href="#p518" x="798" y="1075"/><use href="#p64" x="872" y="1033"/><use href="#p526" x="801" y="1112"/><use href="#p527" x="835" y="1020"/><use href="#p23" x="808" y="1106"/></g>
<g fill="#3ffc50"><use href="#p464" x="868" y="680"/><use href="#p149" x="836" y="695"/><use href="#p56" x="836" y="675"/><use href="#p121" x="856" y="688"/><use href="#p346" x="885" y="687"/><use href="#p8" x="840" y="673"/><use href="#p156" x="816" y="692"/><use href="#p433" x="859" y="689"/><use href="#p4" x="862" y="687"/><use href="#p213" x="824" y="692"/><use href="#p13" x="870" y="674"/><use href="#p485" x="823" y="680"/></g>
<g fill="#46c8e1"><use href="#p409" x="814" y="706"/><use href="#p391" x="826" y="713"/><use href="#p412" x="832" y="721"/><use href="#p372" x="821" y="714"/><use href="#p398" x="870" y="721"/><use href="#p111" x="811" y="768"/><use href="#p379" x="841" y="736"/><use href="#p402" x="864" y="724"/><use href="#p390" x="882" y="728"/><use href="#p452" x="882" y="747"/><use href="#p412" x="875" y="759"/><use href="#p379" x="802" y="761"/><use href="#p373" x="876" y="767"/><use href="#p380" x="791" y="745"/><use href="#p450" x="832" y="917"/><use href="#p457" x="854" y="976"/><use href="#p501" x="812" y="849"/><use href="#p412" x="823" y="970"/><use href="#p403" x="787" y="849"/><use href="#p409" x="783" y="873"/><use href="#p404" x="825" y="951"/><use href="#p387" x="808" y="848"/><use href="#p412" x="811" y="841"/><use href="#p395" x="805" y="869"/><use href="#p382" x="865" y="927"/><use href="#p503" x="821" y="827"/><use href="#p386" x="856" y="873"/><use href="#p396" x="872" y="924"/><use href="#p386" x="804" y="842"/><use href="#p390" x="786" y="888"/><use href="#p393" x="793" y="899"/><use href="#p384" x="884" y="940"/><use href="#p469" x="800" y="805"/><use href="#p415" x="852" y="953"/><use href="#p375" x="860" y="971"/><use href="#p415" x="811" y="792"/><use href="#p379" x="836" y="811"/><use href="#p396" x="867" y="973"/><use href="#p375" x="810" y="863"/></g>
<g fill="#0b0b5c"><use href="#p47" x="795" y="807"/><use href="#p137" x="808" y="927"/><use href="#p16" x="882" y="897"/><use href="#p189" x="876" y="979"/><use href="#p56" x="802" y="822"/><use href="#p3" x="877" y="915"/><use href="#p120" x="832" y="787"/><use href="#p123" x="826" y="886"/><use href="#p505" x="814" y="933"/><use href="#p82" x="878" y="905"/></g>
<g fill="#0a0a50"><use href="#p118" x="834" y="828"/><use href="#p505" x="851" y="980"/><use href="#p455" x="800" y="901"/><use href="#p4" x="849" y="822"/><use href="#p194" x="823" y="911"/><use href="#p124" x="855" y="856"/><use href="#p48" x="875" y="869"/><use href="#p137" x="842" y="906"/><use href="#p4" x="803" y="792"/><use href="#p346" x="854" y="879"/><use href="#p11" x="836" y="822"/><use href="#p42" x="811" y="822"/></g>
<g fill="#37dc46"><use href="#p50" x="826" y="683"/><use href="#p348" x="833" y="682"/><use href="#p128" x="876" y="696"/><use href="#p8" x="865" y="689"/><use href="#p59" x="839" y="692"/><use href="#p464" x="833" y="694"/><use href="#p442" x="855" y="698"/><use href="#p59" x="820" y="676"/><use href="#p127" x="827" y="692"/><use href="#p433" x="835" y="697"/><use href="#p45" x="824" y="697"/><use href="#p442" x="847" y="686"/><use href="#p128" x="881" y="673"/></g>
<g fill="#28aa46"><use href="#p22" x="834" y="724"/><use href="#p28" x="829" y="739"/><use href="#p79" x="801" y="739"/><use href="#p490" x="792" y="779"/><use href="#p359" x="847" y="725"/><use href="#p370" x="863" y="769"/><use href="#p349" x="878" y="741"/><use href="#p492" x="867" y="736"/><use href="#p492" x="822" y="764"/><use href="#p355" x="788" y="768"/><use href="#p22" x="835" y="741"/><use href="#p67" x="868" y="725"/><use href="#p489" x="827" y="731"/><use href="#p13" x="838" y="745"/><use href="#p75" x="840" y="734"/><use href="#p158" x="803" y="767"/><use href="#p349" x="793" y="980"/><use href="#p26" x="878" y="961"/><use href="#p57" x="786" y="968"/><use href="#p11" x="807" y="945"/><use href="#p35" x="872" y="810"/><use href="#p50" x="819" y="965"/><use href="#p37" x="874" y="927"/><use href="#p93" x="798" y="984"/><use href="#p11" x="865" y="826"/><use href="#p3" x="836" y="844"/><use href="#p72" x="827" y="900"/></g>
<g fill="#2e2eb8"><use href="#p507" x="841" y="1118"/><use href="#p520" x="884" y="1121"/><use href="#p419" x="842" y="1131"/><use href="#p126" x="823" y="1138"/></g>
<g fill="#2ec350"><use href="#p354" x="855" y="723"/><use href="#p487" x="857" y="774"/><use href="#p488" x="860" y="754"/><use href="#p93" x="804" y="771"/><use href="#p71" x="820" y="777"/><use href="#p371" x="879" y="744"/><use href="#p16" x="885" y="780"/><use href="#p345" x="864" y="709"/><use href="#p491" x="798" y="712"/><use href="#p493" x="823" y="766"/><use href="#p488" x="787" y="744"/><use href="#p494" x="815" y="704"/><use href="#p495" x="841" y="754"/><use href="#p361" x="825" y="771"/><use href="#p496" x="817" y="767"/><use href="#p498" x="839" y="757"/><use href="#p405" x="827" y="821"/><use href="#p500" x="842" y="918"/><use href="#p206" x="784" y="901"/><use href="#p148" x="803" y="795"/><use href="#p55" x="885" y="885"/><use href="#p357" x="849" y="821"/><use href="#p49" x="856" y="808"/><use href="#p17" x="797" y="942"/><use href="#p67" x="862" y="852"/><use href="#p72" x="856" y="850"/><use href="#p6" x="845" y="863"/><use href="#p72" x="823" y="875"/><use href="#p85" x="810" y="966"/><use href="#p44" x="874" y="947"/><use href="#p42" x="825" y="875"/></g>
</g>
<clipPath id="c12"><rect x="782.2" y="669.6" width="104.5" height="479.9"/></clipPath>
<linearGradient id="g13" x1="0" y1="0" x2="0" y2="1"><stop offset="0.000" stop-color="#000000"/><stop offset="0.010" stop-color="#05320a"/><stop offset="0.054" stop-color="#05320a"/><stop offset="0.067" stop-color="#372dbe"/><stop offset="0.652" stop-color="#372dbe"/><stop offset="0.667" stop-color="#000000"/></linearGradient>
<rect x="898.2" y="669.6" width="104.5" height="479.9" fill="url(#g13)"/>
<g clip-path="url(#c13)" filter="url(#bl1)">
<g fill="#28aa46"><use href="#p4" x="910" y="786"/><use href="#p37" x="946" y="857"/><use href="#p75" x="960" y="791"/><use href="#p56" x="912" y="785"/><use href="#p497" x="959" y="844"/><use href="#p3" x="968" y="760"/><use href="#p1" x="994" y="982"/><use href="#p45" x="1001" y="952"/><use href="#p56" x="951" y="878"/><use href="#p12" x="904" y="841"/><use href="#p41" x="899" y="894"/><use href="#p91" x="948" y="768"/><use href="#p117" x="976" y="898"/><use href="#p15" x="995" y="913"/><use href="#p74" x="958" y="767"/><use href="#p72" x="948" y="958"/><use href="#p18" x="900" y="971"/><use href="#p56" x="991" y="909"/><use href="#p0" x="937" y="822"/><use href="#p66" x="956" y="932"/><use href="#p89" x="899" y="947"/><use href="#p15" x="933" y="879"/><use href="#p16" x="931" y="909"/><use href="#p121" x="970" y="882"/><use href="#p344" x="969" y="759"/><use href="#p55" x="936" y="755"/><use href="#p441" x="981" y="942"/><use href="#p15" x="913" y="739"/><use href="#p49" x="926" y="791"/><use href="#p2" x="917" y="718"/><use href="#p345" x="969" y="949"/><use href="#p18" x="901" y="755"/><use href="#p16" x="994" y="967"/><use href="#p88" x="985" y="703"/><use href="#p54" x="946" y="730"/><use href="#p75" x="928" y="905"/><use href="#p17" x="998" y="710"/><use href="#p127" x="965" y="756"/><use href="#p93" x="927" y="938"/><use href="#p66" x="963" y="969"/><use href="#p117" x="947" y="969"/><use href="#p27" x="918" y="956"/></g>
<g fill="#3ffc50"><use href="#p64" x="933" y="677"/><use href="#p162" x="975" y="677"/><use href="#p14" x="905" y="679"/><use href="#p455" x="955" y="689"/><use href="#p213" x="940" y="692"/><use href="#p455" x="899" y="692"/><use href="#p48" x="1002" y="685"/><use href="#p455" x="942" y="685"/><use href="#p77" x="988" y="672"/><use href="#p43" x="979" y="682"/><use href="#p529" x="917" y="673"/><use href="#p207" x="963" y="689"/><use href="#p4" x="938" y="681"/><use href="#p59" x="984" y="678"/><use href="#p194" x="898" y="678"/></g>
<g fill="#1e7f34"><use href="#p407" x="927" y="841"/><use href="#p407" x="958" y="751"/><use href="#p17" x="902" y="953"/><use href="#p49" x="996" y="776"/><use href="#p449" x="921" y="878"/><use href="#p13" x="988" y="859"/><use href="#p461" x="981" y="942"/><use href="#p74" x="957" y="860"/><use href="#p346" x="944" y="703"/><use href="#p454" x="915" y="843"/><use href="#p37" x="899" y="777"/><use href="#p442" x="941" y="878"/><use href="#p121" x="964" y="892"/><use href="#p93" x="930" y="913"/><use href="#p8" x="977" y="966"/><use href="#p11" x="968" y="772"/><use href="#p56" x="984" y="724"/><use href="#p35" x="950" y="974"/><use href="#p47" x="930" y="795"/><use href="#p77" x="948" y="779"/><use href="#p435" x="911" y="943"/><use href="#p58" x="904" y="723"/><use href="#p75" x="907" y="957"/><use href="#p77" x="961" y="748"/><use href="#p77" x="989" y="822"/><use href="#p62" x="986" y="785"/><use href="#p64" x="988" y="886"/><use href="#p16" x="907" y="904"/></g>
<g fill="#46c8e1"><use href="#p417" x="964" y="806"/><use href="#p372" x="933" y="952"/><use href="#p379" x="967" y="970"/><use href="#p390" x="903" y="936"/><use href="#p392" x="903" y="809"/><use href="#p409" x="901" y="936"/><use href="#p385" x="988" y="908"/><use href="#p374" x="958" y="824"/><use href="#p452" x="935" y="887"/><use href="#p380" x="922" y="757"/><use href="#p99" x="966" y="979"/><use href="#p418" x="901" y="718"/><use href="#p456" x="953" y="936"/><use href="#p396" x="931" y="936"/><use href="#p387" x="967" y="898"/><use href="#p99" x="970" y="779"/><use href="#p390" x="904" y="846"/><use href="#p373" x="960" y="958"/><use href="#p382" x="932" y="706"/><use href="#p376" x="986" y="821"/></g>
<g fill="#2ec350"><use href="#p16" x="968" y="960"/><use href="#p13" x="974" y="871"/><use href="#p346" x="968" y="975"/><use href="#p3" x="1001" y="776"/><use href="#p267" x="994" y="888"/><use href="#p1" x="962" y="964"/><use href="#p18" x="991" y="886"/><use href="#p41" x="960" y="953"/><use href="#p530" x="1002" y="801"/><use href="#p72" x="901" y="779"/><use href="#p121" x="937" y="829"/><use href="#p8" x="898" y="778"/><use href="#p12" x="927" y="983"/><use href="#p25" x="916" y="733"/><use href="#p56" x="950" y="844"/><use href="#p130" x="948" y="836"/><use href="#p47" x="954" y="847"/><use href="#p73" x="948" y="804"/><use href="#p35" x="910" y="933"/><use href="#p77" x="907" y="871"/><use href="#p75" x="912" y="965"/><use href="#p72" x="921" y="895"/><use href="#p62" x="985" y="985"/><use href="#p33" x="953" y="787"/><use href="#p4" x="994" y="900"/><use href="#p42" x="920" y="982"/><use href="#p0" x="955" y="831"/><use href="#p14" x="968" y="930"/><use href="#p47" x="998" y="925"/><use href="#p63" x="993" y="716"/><use href="#p27" x="970" y="765"/><use href="#p441" x="1002" y="801"/><use href="#p16" x="933" y="812"/><use href="#p85" x="937" y="954"/></g>
<g fill="#37dc46"><use href="#p48" x="970" y="691"/><use href="#p12" x="949" y="691"/><use href="#p0" x="925" y="692"/><use href="#p47" x="954" y="690"/><use href="#p56" x="915" y="687"/><use href="#p56" x="990" y="679"/><use href="#p50" x="942" y="698"/><use href="#p64" x="946" y="679"/><use href="#p33" x="970" y="698"/><use href="#p455" x="1000" y="696"/><use href="#p43" x="911" y="691"/><use href="#p14" x="923" y="693"/><use href="#p18" x="988" y="685"/></g>
<g fill="#50e5ff"><use href="#p404" x="920" y="870"/><use href="#p378" x="937" y="900"/><use href="#p396" x="940" y="825"/><use href="#p395" x="963" y="911"/><use href="#p382" x="1000" y="927"/><use href="#p458" x="968" y="884"/><use href="#p404" x="940" y="720"/><use href="#p531" x="977" y="761"/><use href="#p383" x="955" y="919"/><use href="#p373" x="915" y="706"/><use href="#p402" x="977" y="774"/><use href="#p415" x="971" y="978"/><use href="#p377" x="913" y="922"/><use href="#p381" x="942" y="716"/><use href="#p456" x="990" y="773"/><use href="#p104" x="954" y="829"/><use href="#p383" x="927" y="732"/><use href="#p392" x="979" y="739"/><use href="#p382" x="989" y="738"/></g>
<g fill="#e132e1"><use href="#p385" x="1001" y="937"/><use href="#p390" x="976" y="981"/><use href="#p471" x="937" y="907"/><use href="#p375" x="928" y="831"/><use href="#p468" x="942" y="888"/><use href="#p418" x="945" y="790"/><use href="#p400" x="930" y="967"/><use href="#p412" x="913" y="835"/><use href="#p383" x="993" y="937"/><use href="#p387" x="976" y="806"/><use href="#p374" x="975" y="794"/><use href="#p398" x="1002" y="805"/><use href="#p393" x="993" y="982"/><use href="#p390" x="900" y="858"/><use href="#p372" x="958" y="808"/><use href="#p383" x="995" y="860"/><use href="#p410" x="1002" y="971"/><use href="#p395" x="914" y="799"/><use href="#p383" x="946" y="899"/><use href="#p416" x="982" y="821"/><use href="#p409" x="974" y="857"/><use href="#p377" x="903" y="853"/><use href="#p474" x="976" y="945"/><use href="#p399" x="941" y="921"/><use href="#p398" x="960" y="819"/><use href="#p468" x="994" y="904"/><use href="#p384" x="908" y="905"/><use href="#p384" x="981" y="829"/><use href="#p401" x="921" y="958"/><use href="#p376" x="979" y="952"/><use href="#p105" x="964" y="897"/></g>
<g fill="#ff39ff"><use href="#p378" x="921" y="834"/><use href="#p399" x="989" y="857"/><use href="#p396" x="907" y="851"/><use href="#p395" x="999" y="805"/><use href="#p456" x="957" y="959"/><use href="#p392" x="912" y="977"/><use href="#p391" x="990" y="973"/><use href="#p409" x="941" y="832"/><use href="#p457" x="988" y="885"/><use href="#p458" x="903" y="954"/><use href="#p385" x="962" y="952"/><use href="#p413" x="976" y="828"/><use href="#p385" x="910" y="896"/><use href="#p532" x="935" y="859"/><use href="#p372" x="962" y="982"/><use href="#p413" x="933" y="956"/><use href="#p382" x="972" y="908"/><use href="#p381" x="984" y="807"/><use href="#p416" x="913" y="834"/><use href="#p379" x="919" y="979"/><use href="#p399" x="952" y="936"/><use href="#p387" x="908" y="879"/><use href="#p392" x="919" y="928"/><use href="#p383" x="924" y="929"/><use href="#p450" x="908" y="904"/><use href="#p411" x="962" y="899"/><use href="#p415" x="967" y="982"/><use href="#p456" x="920" y="849"/><use href="#p459" x="937" y="834"/><use href="#p394" x="979" y="852"/><use href="#p533" x="923" y="856"/><use href="#p380" x="933" y="984"/><use href="#p531" x="917" y="887"/><use href="#p413" x="1002" y="874"/><use href="#p392" x="940" y="879"/><use href="#p535" x="902" y="847"/><use href="#p382" x="946" y="921"/><use href="#p377" x="972" y="889"/><use href="#p395" x="991" y="957"/><use href="#p404" x="938" y="864"/></g>
<g fill="#a825a8"><use href="#p457" x="949" y="978"/><use href="#p104" x="948" y="907"/><use href="#p404" x="989" y="872"/><use href="#p378" x="906" y="974"/><use href="#p380" x="942" y="946"/><use href="#p383" x="974" y="979"/><use href="#p409" x="993" y="882"/><use href="#p412" x="993" y="802"/><use href="#p404" x="964" y="826"/><use href="#p401" x="935" y="910"/><use href="#p411" x="986" y="881"/><use href="#p111" x="900" y="954"/><use href="#p373" x="932" y="933"/><use href="#p382" x="985" y="825"/><use href="#p382" x="964" y="877"/><use href="#p410" x="968" y="914"/><use href="#p409" x="917" y="891"/><use href="#p418" x="956" y="876"/><use href="#p404" x="970" y="814"/><use href="#p415" x="967" y="870"/><use href="#p386" x="996" y="953"/><use href="#p382" x="942" y="887"/><use href="#p409" x="953" y="809"/><use href="#p404" x="987" y="797"/><use href="#p534" x="909" y="887"/><use href="#p404" x="978" y="948"/><use href="#p375" x="943" y="909"/><use href="#p380" x="925" y="959"/><use href="#p385" x="953" y="804"/><use href="#p396" x="956" y="956"/><use href="#p404" x="934" y="924"/></g>
<g fill="#29a534"><use href="#p346" x="938" y="696"/><use href="#p121" x="928" y="690"/><use href="#p77" x="977" y="682"/><use href="#p163" x="976" y="695"/><use href="#p64" x="975" y="674"/><use href="#p133" x="949" y="674"/><use href="#p213" x="964" y="692"/><use href="#p12" x="933" y="674"/></g>
<g fill="#3496a8"><use href="#p372" x="950" y="871"/><use href="#p393" x="905" y="708"/><use href="#p409" x="978" y="938"/><use href="#p373" x="903" y="890"/><use href="#p458" x="913" y="936"/><use href="#p381" x="921" y="816"/><use href="#p394" x="932" y="775"/><use href="#p412" x="918" y="923"/><use href="#p401" x="923" y="971"/><use href="#p378" x="975" y="874"/><use href="#p398" x="955" y="939"/><use href="#p99" x="922" y="889"/><use href="#p379" x="919" y="974"/><use href="#p409" x="987" y="789"/><use href="#p372" x="906" y="907"/><use href="#p378" x="928" y="943"/><use href="#p383" x="945" y="949"/><use href="#p399" x="1000" y="842"/><use href="#p398" x="909" y="802"/><use href="#p374" x="924" y="955"/></g>
</g>
<clipPath id="c13"><rect x="898.2" y="669.6" width="104.5" height="479.9"/></clipPath>
<linearGradient id="g14" x1="0" y1="0" x2="0" y2="1"><stop offset="0.000" stop-color="#000000"/><stop offset="0.010" stop-color="#05320a"/><stop offset="0.054" stop-color="#05320a"/><stop offset="0.067" stop-color="#4628be"/><stop offset="0.952" stop-color="#4628be"/><stop offset="0.967" stop-color="#000000"/></linearGradient>
<rect x="1014.1" y="669.6" width="104.5" height="479.9" fill="url(#g14)"/>
<g clip-path="url(#c14)" filter="url(#bl1)">
<g fill="#2ec350"><use href="#p70" x="1034" y="1046"/><use href="#p4" x="1056" y="851"/><use href="#p357" x="1118" y="858"/><use href="#p46" x="1015" y="914"/><use href="#p11" x="1050" y="1039"/><use href="#p15" x="1062" y="783"/><use href="#p130" x="1106" y="1050"/><use href="#p447" x="1074" y="992"/><use href="#p405" x="1103" y="1051"/><use href="#p158" x="1029" y="722"/><use href="#p208" x="1098" y="747"/><use href="#p346" x="1043" y="974"/><use href="#p72" x="1084" y="891"/><use href="#p127" x="1115" y="881"/><use href="#p67" x="1035" y="920"/><use href="#p405" x="1026" y="716"/><use href="#p18" x="1086" y="702"/><use href="#p497" x="1070" y="1080"/><use href="#p9" x="1105" y="714"/><use href="#p445" x="1088" y="792"/><use href="#p47" x="1045" y="875"/><use href="#p46" x="1113" y="1026"/><use href="#p1" x="1095" y="900"/><use href="#p46" x="1052" y="1107"/><use href="#p75" x="1062" y="723"/><use href="#p117" x="1046" y="724"/><use href="#p345" x="1054" y="885"/><use href="#p195" x="1055" y="989"/><use href="#p344" x="1078" y="778"/><use href="#p118" x="1026" y="913"/><use href="#p117" x="1085" y="1105"/><use href="#p91" x="1104" y="1026"/><use href="#p441" x="1060" y="922"/><use href="#p64" x="1080" y="948"/><use href="#p445" x="1110" y="974"/><use href="#p15" x="1051" y="903"/><use href="#p11" x="1047" y="862"/><use href="#p0" x="1046" y="970"/><use href="#p135" x="1051" y="975"/><use href="#p72" x="1034" y="987"/><use href="#p46" x="1029" y="1122"/><use href="#p405" x="1061" y="804"/><use href="#p11" x="1108" y="924"/><use href="#p1" x="1100" y="978"/><use href="#p461" x="1020" y="895"/></g>
<g fill="#46c8e1"><use href="#p380" x="1039" y="1065"/><use href="#p372" x="1035" y="804"/><use href="#p387" x="1024" y="948"/><use href="#p396" x="1104" y="789"/><use href="#p382" x="1074" y="967"/><use href="#p450" x="1076" y="934"/><use href="#p457" x="1073" y="940"/><use href="#p395" x="1017" y="875"/><use href="#p416" x="1031" y="925"/><use href="#p391" x="1061" y="866"/><use href="#p541" x="1063" y="1028"/><use href="#p452" x="1054" y="802"/><use href="#p380" x="1087" y="793"/><use href="#p540" x="1026" y="877"/><use href="#p373" x="1054" y="890"/><use href="#p375" x="1094" y="849"/><use href="#p409" x="1052" y="837"/><use href="#p465" x="1041" y="1053"/><use href="#p398" x="1041" y="994"/><use href="#p380" x="1048" y="876"/><use href="#p457" x="1067" y="795"/><use href="#p393" x="1052" y="914"/><use href="#p372" x="1108" y="1057"/><use href="#p468" x="1077" y="1116"/><use href="#p377" x="1069" y="903"/><use href="#p377" x="1086" y="1117"/><use href="#p104" x="1107" y="907"/><use href="#p387" x="1094" y="850"/><use href="#p381" x="1020" y="1022"/><use href="#p499" x="1029" y="1063"/><use href="#p383" x="1039" y="1025"/><use href="#p456" x="1031" y="1095"/><use href="#p409" x="1114" y="711"/><use href="#p381" x="1111" y="1108"/><use href="#p404" x="1042" y="874"/><use href="#p377" x="1065" y="952"/><use href="#p373" x="1018" y="903"/><use href="#p105" x="1082" y="1006"/><use href="#p383" x="1044" y="1021"/><use href="#p411" x="1093" y="712"/><use href="#p105" x="1101" y="1057"/></g>
<g fill="#07073c"><use href="#p488" x="1051" y="874"/><use href="#p165" x="1062" y="909"/><use href="#p13" x="1054" y="829"/><use href="#p15" x="1074" y="963"/></g>
<g fill="#3ffc50"><use href="#p536" x="1058" y="684"/><use href="#p537" x="1110" y="692"/><use href="#p125" x="1118" y="698"/><use href="#p64" x="1051" y="695"/><use href="#p127" x="1086" y="693"/><use href="#p433" x="1037" y="684"/><use href="#p529" x="1097" y="674"/><use href="#p348" x="1105" y="696"/><use href="#p126" x="1026" y="690"/><use href="#p419" x="1116" y="697"/></g>
<g fill="#3496a8"><use href="#p458" x="1113" y="732"/><use href="#p99" x="1048" y="877"/><use href="#p398" x="1102" y="926"/><use href="#p381" x="1072" y="1091"/><use href="#p396" x="1034" y="805"/><use href="#p401" x="1069" y="727"/><use href="#p471" x="1054" y="1028"/><use href="#p468" x="1040" y="701"/><use href="#p395" x="1070" y="950"/><use href="#p373" x="1057" y="977"/><use href="#p456" x="1024" y="739"/><use href="#p452" x="1083" y="1038"/><use href="#p376" x="1059" y="824"/><use href="#p416" x="1069" y="1016"/><use href="#p416" x="1065" y="1050"/><use href="#p458" x="1080" y="1066"/><use href="#p396" x="1056" y="1050"/><use href="#p99" x="1041" y="1019"/><use href="#p384" x="1020" y="1068"/><use href="#p393" x="1107" y="1041"/><use href="#p410" x="1069" y="803"/><use href="#p393" x="1082" y="791"/><use href="#p382" x="1099" y="747"/><use href="#p380" x="1082" y="730"/><use href="#p377" x="1017" y="1053"/><use href="#p378" x="1117" y="730"/><use href="#p398" x="1032" y="999"/></g>
<g fill="#0b0b5c"><use href="#p148" x="1073" y="833"/><use href="#p142" x="1046" y="938"/><use href="#p72" x="1068" y="832"/></g>
<g fill="#0a0a50"><use href="#p28" x="1051" y="823"/><use href="#p138" x="1081" y="927"/></g>
<g fill="#a825a8"><use href="#p380" x="1040" y="1023"/><use href="#p398" x="1107" y="877"/><use href="#p410" x="1022" y="1104"/><use href="#p386" x="1023" y="927"/><use href="#p504" x="1053" y="733"/><use href="#p417" x="1081" y="742"/><use href="#p377" x="1098" y="1085"/><use href="#p390" x="1018" y="1100"/><use href="#p104" x="1111" y="1108"/><use href="#p411" x="1044" y="785"/><use href="#p457" x="1029" y="968"/><use href="#p411" x="1054" y="786"/><use href="#p388" x="1082" y="1077"/><use href="#p373" x="1021" y="750"/><use href="#p404" x="1083" y="1055"/><use href="#p398" x="1081" y="975"/><use href="#p392" x="1049" y="766"/><use href="#p470" x="1020" y="867"/><use href="#p390" x="1101" y="746"/><use href="#p399" x="1070" y="892"/><use href="#p399" x="1108" y="919"/><use href="#p111" x="1097" y="724"/><use href="#p412" x="1047" y="1008"/><use href="#p375" x="1085" y="848"/><use href="#p409" x="1087" y="912"/><use href="#p398" x="1105" y="924"/><use href="#p396" x="1034" y="730"/><use href="#p418" x="1047" y="1091"/><use href="#p398" x="1053" y="1005"/><use href="#p393" x="1058" y="738"/><use href="#p395" x="1053" y="991"/><use href="#p401" x="1080" y="799"/><use href="#p380" x="1069" y="813"/><use href="#p381" x="1053" y="822"/><use href="#p471" x="1055" y="851"/><use href="#p411" x="1074" y="1052"/><use href="#p384" x="1070" y="907"/><use href="#p375" x="1028" y="1046"/><use href="#p456" x="1029" y="1103"/><use href="#p393" x="1078" y="1114"/><use href="#p383" x="1100" y="788"/><use href="#p385" x="1034" y="797"/><use href="#p383" x="1047" y="901"/><use href="#p398" x="1017" y="703"/><use href="#p382" x="1088" y="1039"/><use href="#p376" x="1104" y="1022"/><use href="#p395" x="1068" y="749"/><use href="#p542" x="1016" y="1051"/><use href="#p383" x="1042" y="732"/><use href="#p409" x="1099" y="940"/><use href="#p450" x="1095" y="957"/><use href="#p382" x="1078" y="971"/><use href="#p413" x="1034" y="720"/><use href="#p394" x="1042" y="851"/><use href="#p418" x="1029" y="1047"/><use href="#p457" x="1037" y="960"/><use href="#p381" x="1036" y="1004"/><use href="#p111" x="1111" y="905"/><use href="#p375" x="1079" y="769"/><use href="#p413" x="1059" y="943"/><use href="#p385" x="1119" y="865"/><use href="#p416" x="1051" y="990"/><use href="#p404" x="1118" y="858"/><use href="#p457" x="1068" y="776"/><use href="#p398" x="1075" y="751"/><use href="#p380" x="1074" y="1036"/><use href="#p127" x="1079" y="745"/><use href="#p435" x="1049" y="712"/><use href="#p462" x="1046" y="747"/></g>
<g fill="#37dc46"><use href="#p126" x="1116" y="693"/><use href="#p420" x="1105" y="695"/><use href="#p346" x="1117" y="685"/><use href="#p127" x="1034" y="691"/><use href="#p125" x="1114" y="685"/><use href="#p48" x="1056" y="695"/><use href="#p18" x="1067" y="698"/><use href="#p56" x="1081" y="674"/><use href="#p128" x="1021" y="688"/><use href="#p31" x="1081" y="686"/><use href="#p346" x="1031" y="694"/></g>
<g fill="#e132e1"><use href="#p105" x="1030" y="801"/><use href="#p376" x="1056" y="803"/><use href="#p385" x="1035" y="1054"/><use href="#p380" x="1044" y="1120"/><use href="#p450" x="1025" y="840"/><use href="#p384" x="1045" y="1039"/><use href="#p391" x="1066" y="925"/><use href="#p382" x="1094" y="727"/><use href="#p103" x="1041" y="1009"/><use href="#p404" x="1021" y="831"/><use href="#p404" x="1056" y="875"/><use href="#p418" x="1090" y="765"/><use href="#p380" x="1034" y="1010"/><use href="#p99" x="1094" y="955"/><use href="#p398" x="1034" y="864"/><use href="#p378" x="1018" y="928"/><use href="#p378" x="1078" y="764"/><use href="#p380" x="1111" y="963"/><use href="#p390" x="1111" y="942"/><use href="#p375" x="1095" y="982"/><use href="#p540" x="1075" y="1017"/><use href="#p541" x="1019" y="843"/><use href="#p375" x="1117" y="1112"/><use href="#p412" x="1108" y="736"/><use href="#p418" x="1064" y="1013"/><use href="#p415" x="1088" y="910"/><use href="#p376" x="1085" y="823"/><use href="#p381" x="1088" y="833"/><use href="#p377" x="1016" y="762"/><use href="#p378" x="1051" y="1041"/><use href="#p105" x="1104" y="766"/><use href="#p382" x="1017" y="865"/><use href="#p402" x="1105" y="1033"/><use href="#p377" x="1051" y="852"/><use href="#p374" x="1110" y="969"/><use href="#p395" x="1018" y="941"/><use href="#p384" x="1103" y="740"/><use href="#p385" x="1102" y="1088"/><use href="#p386" x="1020" y="1110"/><use href="#p399" x="1037" y="877"/><use href="#p409" x="1116" y="1021"/><use href="#p409" x="1067" y="1060"/><use href="#p417" x="1058" y="1114"/><use href="#p373" x="1106" y="909"/><use href="#p398" x="1114" y="752"/><use href="#p382" x="1053" y="809"/><use href="#p413" x="1020" y="766"/><use href="#p99" x="1022" y="922"/><use href="#p456" x="1025" y="811"/><use href="#p111" x="1116" y="751"/><use href="#p374" x="1059" y="805"/><use href="#p413" x="1059" y="1059"/><use href="#p499" x="1065" y="768"/><use href="#p392" x="1105" y="916"/><use href="#p372" x="1094" y="893"/><use href="#p373" x="1103" y="1042"/><use href="#p384" x="1067" y="1122"/><use href="#p372" x="1114" y="921"/><use href="#p376" x="1033" y="891"/><use href="#p105" x="1029" y="1100"/><use href="#p465" x="1098" y="782"/><use href="#p382" x="1045" y="1105"/><use href="#p452" x="1118" y="731"/><use href="#p383" x="1032" y="947"/><use href="#p386" x="1042" y="819"/><use href="#p393" x="1023" y="1067"/><use href="#p378" x="1024" y="972"/><use href="#p383" x="1094" y="961"/><use href="#p396" x="1091" y="1086"/><use href="#p543" x="1108" y="969"/><use href="#p417" x="1094" y="1125"/><use href="#p410" x="1020" y="852"/><use href="#p401" x="1022" y="706"/><use href="#p104" x="1017" y="1066"/><use href="#p394" x="1019" y="1076"/><use href="#p384" x="1057" y="986"/><use href="#p104" x="1072" y="1022"/><use href="#p104" x="1045" y="960"/><use href="#p543" x="1044" y="822"/><use href="#p390" x="1056" y="1087"/><use href="#p458" x="1015" y="1043"/><use href="#p383" x="1072" y="1120"/><use href="#p375" x="1015" y="1005"/><use href="#p380" x="1049" y="1068"/><use href="#p378" x="1038" y="774"/><use href="#p387" x="1103" y="900"/><use href="#p373" x="1101" y="837"/><use href="#p382" x="1063" y="1066"/><use href="#p374" x="1031" y="807"/><use href="#p424" x="1073" y="702"/><use href="#p433" x="1046" y="734"/><use href="#p0" x="1060" y="732"/><use href="#p218" x="1079" y="747"/></g>
<g fill="#28aa46"><use href="#p134" x="1117" y="1123"/><use href="#p55" x="1109" y="833"/><use href="#p41" x="1046" y="917"/><use href="#p461" x="1091" y="1020"/><use href="#p90" x="1022" y="790"/><use href="#p348" x="1066" y="1125"/><use href="#p64" x="1075" y="703"/><use href="#p90" x="1035" y="1039"/><use href="#p67" x="1042" y="774"/><use href="#p327" x="1082" y="849"/><use href="#p405" x="1113" y="754"/><use href="#p35" x="1014" y="920"/><use href="#p3" x="1065" y="857"/><use href="#p117" x="1069" y="1045"/><use href="#p25" x="1056" y="997"/><use href="#p52" x="1038" y="895"/><use href="#p64" x="1097" y="753"/><use href="#p497" x="1082" y="867"/><use href="#p89" x="1075" y="803"/><use href="#p16" x="1102" y="1085"/><use href="#p11" x="1113" y="869"/><use href="#p15" x="1118" y="872"/><use href="#p85" x="1090" y="959"/><use href="#p18" x="1091" y="854"/><use href="#p14" x="1072" y="1045"/><use href="#p39" x="1085" y="997"/><use href="#p539" x="1109" y="808"/><use href="#p16" x="1042" y="1078"/><use href="#p46" x="1039" y="854"/><use href="#p84" x="1031" y="1012"/><use href="#p121" x="1091" y="739"/><use href="#p11" x="1075" y="920"/><use href="#p18" x="1048" y="944"/><use href="#p1" x="1106" y="908"/><use href="#p50" x="1110" y="885"/><use href="#p149" x="1043" y="868"/><use href="#p130" x="1049" y="903"/></g>
<g fill="#50e5ff"><use href="#p544" x="1051" y="775"/><use href="#p374" x="1089" y="799"/><use href="#p396" x="1115" y="780"/><use href="#p382" x="1034" y="710"/><use href="#p394" x="1089" y="746"/><use href="#p385" x="1077" y="1114"/><use href="#p373" x="1078" y="866"/><use href="#p375" x="1031" y="1097"/><use href="#p391" x="1108" y="1086"/><use href="#p385" x="1110" y="971"/><use href="#p452" x="1022" y="1096"/><use href="#p382" x="1045" y="884"/><use href="#p377" x="1112" y="811"/><use href="#p375" x="1034" y="1118"/><use href="#p452" x="1100" y="1030"/><use href="#p417" x="1097" y="868"/><use href="#p409" x="1076" y="780"/><use href="#p416" x="1045" y="909"/><use href="#p385" x="1101" y="856"/><use href="#p374" x="1069" y="710"/><use href="#p383" x="1093" y="901"/><use href="#p375" x="1107" y="950"/></g>
<g fill="#1e7f34"><use href="#p121" x="1116" y="824"/><use href="#p72" x="1019" y="1081"/><use href="#p454" x="1092" y="972"/><use href="#p118" x="1040" y="1038"/><use href="#p75" x="1097" y="836"/><use href="#p46" x="1050" y="945"/><use href="#p441" x="1062" y="977"/><use href="#p25" x="1041" y="922"/><use href="#p48" x="1043" y="1007"/><use href="#p66" x="1094" y="969"/><use href="#p56" x="1081" y="971"/><use href="#p78" x="1038" y="980"/><use href="#p35" x="1044" y="870"/><use href="#p75" x="1020" y="1031"/><use href="#p8" x="1065" y="827"/><use href="#p448" x="1048" y="747"/><use href="#p170" x="1020" y="776"/><use href="#p66" x="1051" y="1090"/><use href="#p64" x="1024" y="1113"/><use href="#p77" x="1027" y="911"/><use href="#p12" x="1107" y="717"/><use href="#p47" x="1022" y="992"/><use href="#p529" x="1088" y="945"/><use href="#p537" x="1076" y="1085"/><use href="#p407" x="1079" y="921"/><use href="#p48" x="1098" y="966"/><use href="#p537" x="1022" y="966"/><use href="#p66" x="1117" y="963"/><use href="#p67" x="1103" y="903"/><use href="#p405" x="1065" y="864"/></g>
<g fill="#ff39ff"><use href="#p411" x="1044" y="713"/><use href="#p104" x="1025" y="926"/><use href="#p456" x="1111" y="851"/><use href="#p413" x="1097" y="1000"/><use href="#p391" x="1056" y="813"/><use href="#p383" x="1036" y="894"/><use href="#p378" x="1028" y="789"/><use href="#p402" x="1038" y="770"/><use href="#p390" x="1102" y="1071"/><use href="#p379" x="1040" y="1104"/><use href="#p392" x="1089" y="1016"/><use href="#p375" x="1018" y="752"/><use href="#p384" x="1027" y="911"/><use href="#p452" x="1109" y="796"/><use href="#p396" x="1020" y="952"/><use href="#p393" x="1052" y="1088"/><use href="#p412" x="1015" y="901"/><use href="#p390" x="1087" y="716"/><use href="#p503" x="1067" y="734"/><use href="#p378" x="1075" y="962"/><use href="#p372" x="1029" y="1129"/><use href="#p388" x="1058" y="912"/><use href="#p394" x="1041" y="1091"/><use href="#p386" x="1102" y="986"/><use href="#p104" x="1072" y="948"/><use href="#p468" x="1071" y="1064"/><use href="#p391" x="1059" y="722"/><use href="#p386" x="1094" y="927"/><use href="#p402" x="1058" y="830"/><use href="#p398" x="1085" y="762"/><use href="#p373" x="1064" y="814"/><use href="#p378" x="1033" y="721"/><use href="#p417" x="1055" y="795"/><use href="#p409" x="1048" y="954"/><use href="#p382" x="1096" y="997"/><use href="#p385" x="1061" y="924"/><use href="#p387" x="1102" y="1021"/><use href="#p402" x="1048" y="842"/><use href="#p402" x="1095" y="946"/><use href="#p541" x="1030" y="823"/><use href="#p392" x="1020" y="727"/><use href="#p111" x="1064" y="920"/><use href="#p104" x="1059" y="1122"/><use href="#p378" x="1049" y="805"/><use href="#p382" x="1030" y="707"/><use href="#p388" x="1071" y="703"/><use href="#p383" x="1015" y="719"/><use href="#p105" x="1042" y="1031"/><use href="#p409" x="1081" y="777"/><use href="#p399" x="1115" y="1012"/><use href="#p393" x="1037" y="917"/><use href="#p452" x="1032" y="945"/><use href="#p410" x="1091" y="786"/><use href="#p104" x="1112" y="1001"/><use href="#p392" x="1093" y="1091"/><use href="#p409" x="1114" y="1099"/><use href="#p372" x="1070" y="991"/><use href="#p392" x="1069" y="867"/><use href="#p404" x="1056" y="808"/><use href="#p409" x="1093" y="847"/><use href="#p380" x="1079" y="787"/><use href="#p380" x="1086" y="722"/><use href="#p377" x="1061" y="834"/><use href="#p373" x="1073" y="918"/><use href="#p391" x="1109" y="965"/><use href="#p404" x="1055" y="1077"/><use href="#p415" x="1039" y="991"/><use href="#p416" x="1079" y="757"/><use href="#p382" x="1069" y="978"/><use href="#p450" x="1036" y="725"/><use href="#p424" x="1059" y="740"/><use href="#p216" x="1085" y="717"/><use href="#p484" x="1054" y="710"/><use href="#p420" x="1071" y="719"/><use href="#p29" x="1081" y="716"/><use href="#p440" x="1054" y="728"/></g>
<g fill="#29a534"><use href="#p59" x="1041" y="683"/><use href="#p77" x="1040" y="696"/><use href="#p121" x="1093" y="684"/><use href="#p43" x="1070" y="678"/><use href="#p47" x="1071" y="672"/><use href="#p8" x="1016" y="687"/><use href="#p29" x="1059" y="679"/><use href="#p117" x="1046" y="686"/><use href="#p538" x="1021" y="677"/><use href="#p120" x="1109" y="678"/><use href="#p127" x="1031" y="686"/><use href="#p346" x="1078" y="678"/><use href="#p407" x="1057" y="674"/><use href="#p15" x="1106" y="681"/><use href="#p122" x="1029" y="676"/></g>
</g>
<clipPath id="c14"><rect x="1014.1" y="669.6" width="104.5" height="479.9"/></clipPath>
<linearGradient id="g15" x1="0" y1="0" x2="0" y2="1"><stop offset="0.013" stop-color="#000000"/><stop offset="0.027" stop-color="#3723b9"/><stop offset="0.977" stop-color="#3723b9"/><stop offset="0.992" stop-color="#000000"/></linearGradient>
<rect x="1130.1" y="669.6" width="104.5" height="479.9" fill="url(#g15)"/>
<g clip-path="url(#c15)" filter="url(#bl1)">
<g fill="#a825a8"><use href="#p547" x="1194" y="736"/><use href="#p550" x="1213" y="727"/><use href="#p323" x="1212" y="723"/><use href="#p555" x="1159" y="691"/><use href="#p548" x="1200" y="737"/><use href="#p558" x="1158" y="723"/><use href="#p564" x="1163" y="693"/><use href="#p281" x="1152" y="695"/><use href="#p565" x="1210" y="739"/><use href="#p568" x="1225" y="709"/><use href="#p569" x="1218" y="691"/><use href="#p456" x="1170" y="877"/><use href="#p576" x="1194" y="769"/><use href="#p382" x="1207" y="846"/><use href="#p416" x="1224" y="1093"/><use href="#p472" x="1140" y="1115"/><use href="#p399" x="1178" y="1014"/><use href="#p450" x="1231" y="1043"/><use href="#p451" x="1159" y="946"/><use href="#p387" x="1205" y="808"/><use href="#p396" x="1191" y="1061"/><use href="#p412" x="1164" y="1099"/><use href="#p414" x="1188" y="762"/><use href="#p377" x="1217" y="1018"/><use href="#p582" x="1177" y="878"/><use href="#p459" x="1146" y="1060"/><use href="#p465" x="1190" y="857"/><use href="#p389" x="1227" y="726"/><use href="#p584" x="1222" y="1040"/><use href="#p386" x="1194" y="705"/><use href="#p504" x="1158" y="903"/><use href="#p586" x="1159" y="782"/><use href="#p587" x="1198" y="915"/><use href="#p378" x="1144" y="1089"/><use href="#p105" x="1158" y="938"/><use href="#p542" x="1222" y="722"/><use href="#p414" x="1151" y="763"/><use href="#p103" x="1187" y="748"/><use href="#p401" x="1175" y="846"/><use href="#p499" x="1181" y="792"/><use href="#p394" x="1180" y="685"/><use href="#p591" x="1161" y="1005"/><use href="#p592" x="1232" y="989"/><use href="#p596" x="1155" y="986"/><use href="#p599" x="1186" y="1082"/><use href="#p601" x="1211" y="1028"/><use href="#p602" x="1139" y="1088"/><use href="#p605" x="1147" y="1115"/><use href="#p606" x="1216" y="1140"/><use href="#p607" x="1193" y="976"/><use href="#p609" x="1223" y="990"/><use href="#p610" x="1163" y="1030"/><use href="#p612" x="1144" y="1094"/><use href="#p613" x="1205" y="1021"/><use href="#p597" x="1234" y="1110"/><use href="#p627" x="1193" y="1114"/><use href="#p630" x="1218" y="993"/><use href="#p631" x="1168" y="1033"/><use href="#p632" x="1207" y="1049"/><use href="#p591" x="1217" y="1079"/></g>
<g fill="#28aa46"><use href="#p17" x="1192" y="867"/><use href="#p91" x="1172" y="816"/><use href="#p75" x="1214" y="893"/><use href="#p3" x="1178" y="926"/><use href="#p88" x="1160" y="786"/><use href="#p50" x="1168" y="835"/><use href="#p64" x="1225" y="882"/><use href="#p1" x="1234" y="874"/><use href="#p75" x="1204" y="835"/><use href="#p15" x="1229" y="967"/><use href="#p8" x="1176" y="830"/><use href="#p5" x="1201" y="775"/><use href="#p91" x="1221" y="950"/><use href="#p407" x="1161" y="840"/><use href="#p56" x="1152" y="756"/><use href="#p26" x="1219" y="902"/><use href="#p49" x="1233" y="892"/><use href="#p442" x="1135" y="914"/><use href="#p445" x="1156" y="963"/><use href="#p4" x="1131" y="766"/><use href="#p18" x="1228" y="856"/><use href="#p75" x="1145" y="764"/><use href="#p85" x="1220" y="876"/><use href="#p117" x="1176" y="796"/><use href="#p11" x="1215" y="804"/></g>
<g fill="#2ec350"><use href="#p29" x="1160" y="953"/><use href="#p67" x="1201" y="897"/><use href="#p537" x="1230" y="832"/><use href="#p127" x="1188" y="953"/><use href="#p445" x="1224" y="869"/><use href="#p12" x="1147" y="757"/><use href="#p45" x="1208" y="842"/><use href="#p85" x="1164" y="832"/><use href="#p149" x="1197" y="775"/><use href="#p570" x="1136" y="958"/><use href="#p461" x="1159" y="884"/><use href="#p43" x="1137" y="912"/><use href="#p18" x="1162" y="966"/><use href="#p17" x="1229" y="795"/><use href="#p67" x="1165" y="899"/><use href="#p8" x="1232" y="856"/></g>
<g fill="#2e2eff"><use href="#p14" x="1157" y="1007"/><use href="#p145" x="1178" y="829"/></g>
<g fill="#1e1ea8"><use href="#p154" x="1219" y="853"/><use href="#p165" x="1167" y="1091"/></g>
<g fill="#07072d"><use href="#p135" x="1214" y="801"/><use href="#p349" x="1141" y="804"/><use href="#p16" x="1140" y="965"/><use href="#p220" x="1206" y="795"/><use href="#p82" x="1229" y="908"/><use href="#p435" x="1187" y="920"/><use href="#p27" x="1153" y="843"/><use href="#p8" x="1133" y="883"/><use href="#p67" x="1214" y="834"/><use href="#p119" x="1199" y="875"/></g>
<g fill="#0a0a3c"><use href="#p93" x="1178" y="809"/><use href="#p407" x="1200" y="902"/><use href="#p77" x="1227" y="832"/><use href="#p47" x="1168" y="908"/><use href="#p189" x="1142" y="839"/><use href="#p223" x="1234" y="782"/><use href="#p420" x="1226" y="791"/><use href="#p11" x="1189" y="942"/><use href="#p15" x="1140" y="854"/><use href="#p13" x="1176" y="913"/><use href="#p407" x="1177" y="779"/><use href="#p169" x="1153" y="837"/><use href="#p49" x="1152" y="827"/></g>
<g fill="#1e7f34"><use href="#p497" x="1222" y="928"/><use href="#p15" x="1150" y="816"/><use href="#p12" x="1212" y="945"/><use href="#p117" x="1184" y="928"/><use href="#p56" x="1158" y="944"/><use href="#p75" x="1196" y="839"/><use href="#p66" x="1169" y="859"/><use href="#p59" x="1154" y="950"/><use href="#p344" x="1211" y="938"/><use href="#p66" x="1207" y="967"/><use href="#p14" x="1197" y="780"/><use href="#p14" x="1192" y="867"/><use href="#p46" x="1211" y="780"/><use href="#p62" x="1175" y="887"/><use href="#p117" x="1206" y="876"/><use href="#p85" x="1137" y="780"/><use href="#p27" x="1132" y="935"/><use href="#p117" x="1230" y="904"/><use href="#p120" x="1152" y="787"/><use href="#p407" x="1159" y="958"/><use href="#p120" x="1201" y="857"/><use href="#p72" x="1140" y="910"/><use href="#p43" x="1157" y="799"/><use href="#p121" x="1200" y="922"/><use href="#p45" x="1215" y="939"/><use href="#p67" x="1171" y="804"/><use href="#p435" x="1200" y="778"/></g>
<g fill="#37dc46"><use href="#p440" x="1231" y="683"/><use href="#p545" x="1219" y="682"/></g>
<g fill="#2828e1"><use href="#p86" x="1188" y="950"/><use href="#p156" x="1184" y="1138"/><use href="#p62" x="1199" y="778"/><use href="#p91" x="1184" y="1002"/></g>
<g fill="#ff39ff"><use href="#p548" x="1176" y="715"/><use href="#p549" x="1222" y="684"/><use href="#p551" x="1166" y="715"/><use href="#p552" x="1176" y="728"/><use href="#p557" x="1144" y="715"/><use href="#p559" x="1152" y="695"/><use href="#p561" x="1208" y="698"/><use href="#p546" x="1176" y="711"/><use href="#p563" x="1209" y="697"/><use href="#p336" x="1139" y="718"/><use href="#p416" x="1141" y="1040"/><use href="#p542" x="1147" y="996"/><use href="#p105" x="1155" y="904"/><use href="#p414" x="1163" y="808"/><use href="#p572" x="1145" y="1036"/><use href="#p543" x="1217" y="1043"/><use href="#p401" x="1165" y="1054"/><use href="#p573" x="1147" y="1049"/><use href="#p392" x="1229" y="1026"/><use href="#p574" x="1219" y="773"/><use href="#p575" x="1165" y="773"/><use href="#p104" x="1228" y="714"/><use href="#p502" x="1217" y="923"/><use href="#p577" x="1171" y="906"/><use href="#p576" x="1148" y="1065"/><use href="#p380" x="1177" y="951"/><use href="#p412" x="1179" y="909"/><use href="#p404" x="1142" y="894"/><use href="#p504" x="1200" y="713"/><use href="#p450" x="1137" y="1052"/><use href="#p579" x="1156" y="1034"/><use href="#p473" x="1208" y="876"/><use href="#p384" x="1226" y="1033"/><use href="#p413" x="1229" y="853"/><use href="#p395" x="1139" y="928"/><use href="#p581" x="1195" y="1117"/><use href="#p376" x="1182" y="955"/><use href="#p391" x="1139" y="998"/><use href="#p383" x="1197" y="983"/><use href="#p472" x="1185" y="819"/><use href="#p376" x="1135" y="887"/><use href="#p412" x="1188" y="727"/><use href="#p394" x="1214" y="891"/><use href="#p458" x="1206" y="687"/><use href="#p415" x="1168" y="926"/><use href="#p100" x="1178" y="841"/><use href="#p585" x="1146" y="927"/><use href="#p465" x="1171" y="1077"/><use href="#p404" x="1217" y="717"/><use href="#p588" x="1201" y="838"/><use href="#p589" x="1161" y="1073"/><use href="#p593" x="1176" y="1006"/><use href="#p592" x="1219" y="1131"/><use href="#p597" x="1130" y="992"/><use href="#p598" x="1155" y="1106"/><use href="#p594" x="1175" y="1082"/><use href="#p603" x="1190" y="1086"/><use href="#p614" x="1213" y="1106"/><use href="#p617" x="1131" y="1018"/><use href="#p618" x="1182" y="997"/><use href="#p620" x="1221" y="989"/><use href="#p623" x="1215" y="1018"/><use href="#p625" x="1234" y="974"/><use href="#p626" x="1183" y="1008"/><use href="#p110" x="1171" y="1035"/><use href="#p633" x="1164" y="979"/></g>
<g fill="#0b0b45"><use href="#p130" x="1143" y="910"/><use href="#p82" x="1146" y="941"/><use href="#p191" x="1132" y="934"/><use href="#p37" x="1203" y="874"/><use href="#p65" x="1203" y="894"/><use href="#p128" x="1216" y="880"/><use href="#p213" x="1205" y="939"/><use href="#p419" x="1165" y="951"/></g>
<g fill="#e132e1"><use href="#p546" x="1214" y="733"/><use href="#p553" x="1208" y="686"/><use href="#p554" x="1131" y="702"/><use href="#p556" x="1185" y="717"/><use href="#p560" x="1164" y="726"/><use href="#p562" x="1219" y="704"/><use href="#p566" x="1219" y="708"/><use href="#p567" x="1199" y="709"/><use href="#p373" x="1218" y="1136"/><use href="#p392" x="1218" y="882"/><use href="#p383" x="1194" y="936"/><use href="#p375" x="1136" y="974"/><use href="#p533" x="1159" y="1111"/><use href="#p100" x="1199" y="844"/><use href="#p373" x="1185" y="842"/><use href="#p571" x="1194" y="1114"/><use href="#p388" x="1151" y="935"/><use href="#p499" x="1206" y="852"/><use href="#p402" x="1224" y="785"/><use href="#p385" x="1180" y="928"/><use href="#p396" x="1234" y="1023"/><use href="#p382" x="1189" y="701"/><use href="#p572" x="1139" y="823"/><use href="#p111" x="1142" y="739"/><use href="#p535" x="1184" y="835"/><use href="#p104" x="1210" y="968"/><use href="#p540" x="1152" y="829"/><use href="#p471" x="1200" y="774"/><use href="#p376" x="1219" y="975"/><use href="#p456" x="1171" y="991"/><use href="#p578" x="1140" y="793"/><use href="#p389" x="1230" y="729"/><use href="#p404" x="1188" y="684"/><use href="#p379" x="1131" y="1115"/><use href="#p469" x="1151" y="956"/><use href="#p382" x="1220" y="1065"/><use href="#p385" x="1214" y="1077"/><use href="#p393" x="1215" y="742"/><use href="#p473" x="1223" y="830"/><use href="#p451" x="1173" y="963"/><use href="#p580" x="1188" y="1049"/><use href="#p466" x="1184" y="731"/><use href="#p534" x="1206" y="826"/><use href="#p99" x="1148" y="828"/><use href="#p459" x="1230" y="879"/><use href="#p383" x="1193" y="972"/><use href="#p390" x="1174" y="1139"/><use href="#p404" x="1194" y="1015"/><use href="#p415" x="1186" y="1071"/><use href="#p583" x="1187" y="936"/><use href="#p571" x="1192" y="809"/><use href="#p542" x="1134" y="889"/><use href="#p396" x="1205" y="830"/><use href="#p400" x="1201" y="745"/><use href="#p466" x="1176" y="882"/><use href="#p458" x="1232" y="892"/><use href="#p104" x="1222" y="1056"/><use href="#p572" x="1135" y="998"/><use href="#p590" x="1168" y="1034"/><use href="#p594" x="1159" y="1121"/><use href="#p595" x="1167" y="1076"/><use href="#p596" x="1217" y="977"/><use href="#p600" x="1223" y="1060"/><use href="#p604" x="1157" y="1123"/><use href="#p608" x="1176" y="1109"/><use href="#p611" x="1201" y="996"/><use href="#p615" x="1161" y="1083"/><use href="#p602" x="1153" y="1040"/><use href="#p616" x="1200" y="1069"/><use href="#p619" x="1168" y="1031"/><use href="#p621" x="1176" y="1125"/><use href="#p621" x="1146" y="1032"/><use href="#p622" x="1227" y="1134"/><use href="#p624" x="1213" y="978"/><use href="#p628" x="1190" y="1028"/><use href="#p629" x="1163" y="1009"/></g>
</g>
<clipPath id="c15"><rect x="1130.1" y="669.6" width="104.5" height="479.9"/></clipPath>
<linearGradient id="g16" x1="0" y1="0" x2="0" y2="1"><stop offset="0.017" stop-color="#000000"/><stop offset="0.031" stop-color="#3a19a0"/><stop offset="0.994" stop-color="#3a19a0"/><stop offset="1.000" stop-color="#000000"/></linearGradient>
<rect x="1246.0" y="669.6" width="104.0" height="479.9" fill="url(#g16)"/>
<g clip-path="url(#c16)" filter="url(#bl1)">
<g fill="#4646eb"><use href="#p650" x="1283" y="1104"/><use href="#p717" x="1277" y="907"/><use href="#p724" x="1259" y="731"/><use href="#p744" x="1348" y="856"/><use href="#p745" x="1346" y="1063"/><use href="#p746" x="1330" y="1077"/><use href="#p738" x="1332" y="796"/><use href="#p645" x="1265" y="815"/><use href="#p747" x="1269" y="850"/><use href="#p734" x="1259" y="1051"/><use href="#p723" x="1253" y="899"/><use href="#p742" x="1341" y="1031"/><use href="#p663" x="1344" y="972"/><use href="#p636" x="1283" y="841"/><use href="#p691" x="1257" y="998"/><use href="#p696" x="1345" y="1122"/><use href="#p698" x="1302" y="849"/><use href="#p742" x="1293" y="693"/><use href="#p685" x="1260" y="860"/><use href="#p666" x="1254" y="1118"/><use href="#p680" x="1342" y="909"/><use href="#p649" x="1296" y="1052"/><use href="#p754" x="1309" y="1080"/><use href="#p684" x="1286" y="947"/><use href="#p755" x="1246" y="1017"/><use href="#p757" x="1276" y="990"/><use href="#p644" x="1273" y="810"/><use href="#p685" x="1281" y="1143"/><use href="#p745" x="1303" y="1031"/><use href="#p733" x="1276" y="819"/><use href="#p636" x="1289" y="1041"/><use href="#p760" x="1301" y="1023"/><use href="#p645" x="1296" y="1115"/><use href="#p678" x="1296" y="944"/><use href="#p761" x="1314" y="741"/><use href="#p762" x="1345" y="1009"/><use href="#p744" x="1285" y="881"/><use href="#p747" x="1298" y="936"/><use href="#p660" x="1270" y="975"/><use href="#p764" x="1276" y="936"/><use href="#p647" x="1342" y="793"/><use href="#p767" x="1256" y="847"/><use href="#p739" x="1305" y="838"/><use href="#p644" x="1298" y="840"/></g>
<g fill="#f733fc"><use href="#p635" x="1340" y="905"/><use href="#p638" x="1282" y="856"/><use href="#p640" x="1277" y="1096"/><use href="#p643" x="1337" y="1020"/><use href="#p649" x="1311" y="724"/><use href="#p650" x="1343" y="733"/><use href="#p653" x="1345" y="809"/><use href="#p655" x="1312" y="696"/><use href="#p660" x="1314" y="838"/><use href="#p611" x="1323" y="705"/><use href="#p661" x="1268" y="1035"/><use href="#p665" x="1281" y="728"/><use href="#p666" x="1318" y="999"/><use href="#p667" x="1279" y="803"/><use href="#p661" x="1294" y="823"/><use href="#p668" x="1261" y="714"/><use href="#p646" x="1337" y="1004"/><use href="#p672" x="1342" y="756"/><use href="#p675" x="1315" y="830"/><use href="#p678" x="1314" y="814"/><use href="#p680" x="1337" y="758"/><use href="#p645" x="1343" y="1080"/><use href="#p682" x="1321" y="986"/><use href="#p656" x="1263" y="694"/><use href="#p673" x="1341" y="710"/><use href="#p686" x="1261" y="855"/><use href="#p645" x="1326" y="1012"/><use href="#p645" x="1308" y="907"/><use href="#p636" x="1317" y="862"/><use href="#p655" x="1281" y="693"/><use href="#p688" x="1320" y="903"/><use href="#p702" x="1318" y="955"/><use href="#p703" x="1284" y="1132"/><use href="#p704" x="1284" y="736"/><use href="#p691" x="1292" y="859"/><use href="#p707" x="1334" y="733"/><use href="#p691" x="1327" y="1069"/><use href="#p710" x="1281" y="813"/><use href="#p598" x="1335" y="902"/><use href="#p664" x="1344" y="1031"/><use href="#p652" x="1319" y="852"/><use href="#p715" x="1330" y="997"/><use href="#p629" x="1287" y="1045"/><use href="#p693" x="1324" y="834"/><use href="#p713" x="1343" y="803"/><use href="#p707" x="1285" y="771"/><use href="#p708" x="1248" y="964"/><use href="#p682" x="1330" y="1035"/><use href="#p728" x="1250" y="687"/><use href="#p680" x="1264" y="716"/><use href="#p671" x="1263" y="779"/><use href="#p729" x="1271" y="867"/><use href="#p730" x="1254" y="737"/><use href="#p727" x="1287" y="983"/><use href="#p733" x="1316" y="896"/><use href="#p734" x="1291" y="732"/><use href="#p691" x="1272" y="789"/><use href="#p736" x="1313" y="820"/><use href="#p637" x="1281" y="789"/><use href="#p740" x="1296" y="1051"/><use href="#p668" x="1295" y="952"/><use href="#p646" x="1287" y="861"/></g>
<g fill="#0b0321"><use href="#p776" x="1277" y="812"/><use href="#p779" x="1348" y="1137"/><use href="#p700" x="1344" y="1013"/><use href="#p775" x="1272" y="930"/><use href="#p782" x="1311" y="760"/><use href="#p788" x="1276" y="836"/><use href="#p280" x="1312" y="1078"/><use href="#p769" x="1255" y="1011"/><use href="#p794" x="1334" y="790"/><use href="#p796" x="1326" y="922"/><use href="#p794" x="1286" y="1010"/><use href="#p781" x="1287" y="1052"/><use href="#p799" x="1300" y="1002"/><use href="#p801" x="1300" y="1075"/><use href="#p779" x="1323" y="724"/><use href="#p782" x="1328" y="1033"/><use href="#p807" x="1273" y="1124"/><use href="#p801" x="1342" y="922"/><use href="#p808" x="1332" y="1133"/><use href="#p775" x="1306" y="751"/><use href="#p810" x="1332" y="1123"/><use href="#p282" x="1330" y="974"/><use href="#p812" x="1295" y="1093"/><use href="#p225" x="1330" y="890"/><use href="#p775" x="1344" y="847"/><use href="#p784" x="1251" y="817"/><use href="#p817" x="1319" y="739"/><use href="#p781" x="1270" y="851"/><use href="#p824" x="1253" y="862"/><use href="#p322" x="1319" y="695"/><use href="#p225" x="1313" y="918"/><use href="#p789" x="1326" y="730"/></g>
<g fill="#0f052d"><use href="#p667" x="1258" y="813"/><use href="#p773" x="1251" y="922"/><use href="#p775" x="1302" y="797"/><use href="#p303" x="1301" y="735"/><use href="#p291" x="1332" y="1130"/><use href="#p780" x="1301" y="1147"/><use href="#p775" x="1304" y="854"/><use href="#p778" x="1346" y="896"/><use href="#p785" x="1277" y="812"/><use href="#p786" x="1292" y="703"/><use href="#p775" x="1285" y="740"/><use href="#p791" x="1306" y="1070"/><use href="#p792" x="1291" y="864"/><use href="#p793" x="1302" y="884"/><use href="#p795" x="1263" y="1067"/><use href="#p243" x="1300" y="911"/><use href="#p797" x="1256" y="846"/><use href="#p224" x="1292" y="867"/><use href="#p791" x="1264" y="795"/><use href="#p692" x="1288" y="798"/><use href="#p802" x="1342" y="904"/><use href="#p559" x="1312" y="1086"/><use href="#p803" x="1333" y="727"/><use href="#p804" x="1274" y="863"/><use href="#p805" x="1288" y="856"/><use href="#p806" x="1340" y="1140"/><use href="#p309" x="1263" y="1017"/><use href="#p808" x="1279" y="945"/><use href="#p722" x="1305" y="1092"/><use href="#p813" x="1258" y="1122"/><use href="#p269" x="1323" y="834"/><use href="#p816" x="1258" y="1045"/><use href="#p262" x="1259" y="722"/><use href="#p809" x="1308" y="849"/><use href="#p820" x="1283" y="732"/><use href="#p779" x="1330" y="774"/><use href="#p813" x="1332" y="1016"/><use href="#p771" x="1322" y="844"/><use href="#p822" x="1324" y="991"/><use href="#p809" x="1299" y="1094"/><use href="#p823" x="1307" y="1120"/><use href="#p825" x="1316" y="878"/><use href="#p785" x="1269" y="828"/></g>
<g fill="#2e2eff"><use href="#p208" x="1297" y="781"/><use href="#p34" x="1334" y="708"/></g>
<g fill="#d72ddc"><use href="#p634" x="1303" y="1025"/><use href="#p637" x="1331" y="1029"/><use href="#p642" x="1281" y="990"/><use href="#p646" x="1316" y="886"/><use href="#p648" x="1339" y="923"/><use href="#p651" x="1295" y="1071"/><use href="#p652" x="1284" y="1048"/><use href="#p657" x="1296" y="1003"/><use href="#p658" x="1316" y="941"/><use href="#p659" x="1286" y="728"/><use href="#p662" x="1304" y="1056"/><use href="#p652" x="1290" y="1096"/><use href="#p636" x="1338" y="738"/><use href="#p664" x="1268" y="850"/><use href="#p669" x="1335" y="768"/><use href="#p670" x="1272" y="1079"/><use href="#p679" x="1293" y="989"/><use href="#p681" x="1262" y="1090"/><use href="#p649" x="1280" y="961"/><use href="#p672" x="1255" y="1120"/><use href="#p662" x="1249" y="741"/><use href="#p676" x="1255" y="1058"/><use href="#p647" x="1301" y="930"/><use href="#p684" x="1308" y="758"/><use href="#p684" x="1289" y="1021"/><use href="#p685" x="1306" y="1051"/><use href="#p634" x="1349" y="829"/><use href="#p687" x="1270" y="722"/><use href="#p639" x="1323" y="990"/><use href="#p604" x="1248" y="1007"/><use href="#p690" x="1321" y="957"/><use href="#p691" x="1252" y="973"/><use href="#p693" x="1269" y="1078"/><use href="#p694" x="1262" y="690"/><use href="#p695" x="1247" y="792"/><use href="#p698" x="1308" y="829"/><use href="#p645" x="1301" y="726"/><use href="#p696" x="1271" y="1123"/><use href="#p708" x="1288" y="967"/><use href="#p640" x="1286" y="1119"/><use href="#p709" x="1259" y="1134"/><use href="#p711" x="1300" y="1055"/><use href="#p712" x="1330" y="922"/><use href="#p672" x="1252" y="935"/><use href="#p716" x="1343" y="824"/><use href="#p717" x="1267" y="885"/><use href="#p719" x="1259" y="835"/><use href="#p720" x="1301" y="976"/><use href="#p636" x="1326" y="722"/><use href="#p721" x="1255" y="778"/><use href="#p642" x="1303" y="733"/><use href="#p639" x="1273" y="1066"/><use href="#p725" x="1338" y="920"/><use href="#p726" x="1266" y="890"/><use href="#p731" x="1252" y="830"/><use href="#p700" x="1284" y="786"/><use href="#p732" x="1271" y="1054"/><use href="#p714" x="1258" y="733"/><use href="#p735" x="1258" y="878"/><use href="#p738" x="1284" y="878"/><use href="#p663" x="1272" y="1091"/><use href="#p652" x="1249" y="973"/><use href="#p659" x="1293" y="946"/><use href="#p741" x="1323" y="807"/><use href="#p742" x="1322" y="791"/></g>
<g fill="#110533"><use href="#p262" x="1307" y="1010"/><use href="#p769" x="1349" y="824"/><use href="#p770" x="1307" y="909"/><use href="#p771" x="1274" y="1006"/><use href="#p772" x="1339" y="1123"/><use href="#p774" x="1287" y="916"/><use href="#p777" x="1331" y="1089"/><use href="#p300" x="1320" y="1011"/><use href="#p291" x="1338" y="901"/><use href="#p778" x="1288" y="719"/><use href="#p772" x="1267" y="936"/><use href="#p781" x="1341" y="1092"/><use href="#p783" x="1268" y="937"/><use href="#p771" x="1297" y="997"/><use href="#p784" x="1338" y="1058"/><use href="#p787" x="1294" y="751"/><use href="#p789" x="1305" y="789"/><use href="#p289" x="1298" y="1046"/><use href="#p790" x="1274" y="812"/><use href="#p774" x="1275" y="1138"/><use href="#p798" x="1251" y="1055"/><use href="#p800" x="1255" y="707"/><use href="#p791" x="1333" y="1093"/><use href="#p307" x="1254" y="885"/><use href="#p271" x="1283" y="763"/><use href="#p809" x="1278" y="1022"/><use href="#p799" x="1256" y="919"/><use href="#p771" x="1322" y="1038"/><use href="#p811" x="1338" y="941"/><use href="#p225" x="1315" y="1108"/><use href="#p814" x="1320" y="803"/><use href="#p272" x="1288" y="989"/><use href="#p815" x="1286" y="1057"/><use href="#p792" x="1281" y="953"/><use href="#p818" x="1342" y="830"/><use href="#p818" x="1346" y="1068"/><use href="#p819" x="1341" y="733"/><use href="#p820" x="1320" y="985"/><use href="#p310" x="1350" y="1021"/><use href="#p821" x="1346" y="1085"/><use href="#p800" x="1332" y="801"/><use href="#p826" x="1281" y="975"/><use href="#p827" x="1309" y="767"/><use href="#p828" x="1314" y="1036"/><use href="#p242" x="1247" y="1003"/><use href="#p829" x="1260" y="1003"/></g>
<g fill="#a121a5"><use href="#p636" x="1257" y="807"/><use href="#p639" x="1302" y="1077"/><use href="#p635" x="1295" y="990"/><use href="#p641" x="1348" y="906"/><use href="#p644" x="1274" y="1142"/><use href="#p645" x="1300" y="1118"/><use href="#p647" x="1296" y="848"/><use href="#p654" x="1266" y="1092"/><use href="#p656" x="1296" y="698"/><use href="#p640" x="1270" y="717"/><use href="#p661" x="1301" y="864"/><use href="#p660" x="1310" y="967"/><use href="#p663" x="1347" y="765"/><use href="#p665" x="1313" y="926"/><use href="#p611" x="1288" y="746"/><use href="#p671" x="1344" y="1039"/><use href="#p673" x="1257" y="751"/><use href="#p674" x="1268" y="1059"/><use href="#p676" x="1264" y="1030"/><use href="#p650" x="1275" y="825"/><use href="#p677" x="1290" y="950"/><use href="#p656" x="1347" y="734"/><use href="#p660" x="1284" y="817"/><use href="#p683" x="1312" y="706"/><use href="#p679" x="1347" y="941"/><use href="#p639" x="1301" y="1143"/><use href="#p682" x="1262" y="1101"/><use href="#p688" x="1337" y="884"/><use href="#p689" x="1293" y="1087"/><use href="#p679" x="1292" y="704"/><use href="#p673" x="1333" y="1043"/><use href="#p611" x="1259" y="885"/><use href="#p692" x="1307" y="1030"/><use href="#p696" x="1302" y="966"/><use href="#p697" x="1349" y="716"/><use href="#p640" x="1258" y="1129"/><use href="#p699" x="1309" y="852"/><use href="#p700" x="1346" y="820"/><use href="#p701" x="1292" y="961"/><use href="#p651" x="1286" y="819"/><use href="#p663" x="1273" y="842"/><use href="#p705" x="1326" y="959"/><use href="#p694" x="1263" y="979"/><use href="#p706" x="1340" y="840"/><use href="#p689" x="1315" y="686"/><use href="#p655" x="1250" y="865"/><use href="#p647" x="1272" y="945"/><use href="#p636" x="1295" y="1114"/><use href="#p713" x="1348" y="791"/><use href="#p714" x="1280" y="1090"/><use href="#p662" x="1256" y="758"/><use href="#p718" x="1278" y="698"/><use href="#p667" x="1301" y="1106"/><use href="#p641" x="1275" y="923"/><use href="#p650" x="1348" y="791"/><use href="#p722" x="1339" y="804"/><use href="#p723" x="1282" y="975"/><use href="#p724" x="1246" y="732"/><use href="#p727" x="1256" y="688"/><use href="#p638" x="1249" y="1076"/><use href="#p712" x="1287" y="928"/><use href="#p720" x="1318" y="996"/><use href="#p737" x="1310" y="896"/><use href="#p739" x="1287" y="1066"/><use href="#p714" x="1260" y="699"/><use href="#p735" x="1273" y="1016"/><use href="#p664" x="1306" y="748"/></g>
<g fill="#5050ff"><use href="#p694" x="1329" y="914"/><use href="#p725" x="1349" y="1063"/><use href="#p665" x="1277" y="1037"/><use href="#p708" x="1261" y="1063"/><use href="#p696" x="1254" y="812"/><use href="#p646" x="1290" y="969"/><use href="#p687" x="1289" y="793"/><use href="#p749" x="1312" y="713"/><use href="#p644" x="1327" y="880"/><use href="#p747" x="1349" y="1032"/><use href="#p673" x="1292" y="747"/><use href="#p659" x="1302" y="917"/><use href="#p649" x="1328" y="851"/><use href="#p643" x="1294" y="884"/><use href="#p654" x="1269" y="974"/><use href="#p604" x="1258" y="705"/><use href="#p654" x="1248" y="766"/><use href="#p713" x="1255" y="900"/><use href="#p698" x="1341" y="742"/><use href="#p674" x="1348" y="944"/><use href="#p679" x="1297" y="756"/><use href="#p691" x="1278" y="1016"/><use href="#p759" x="1265" y="1091"/><use href="#p706" x="1279" y="789"/><use href="#p763" x="1301" y="828"/><use href="#p731" x="1276" y="1139"/><use href="#p685" x="1287" y="777"/><use href="#p696" x="1338" y="945"/><use href="#p766" x="1283" y="829"/><use href="#p698" x="1343" y="790"/><use href="#p686" x="1299" y="886"/><use href="#p649" x="1267" y="766"/><use href="#p684" x="1319" y="811"/><use href="#p676" x="1269" y="935"/><use href="#p696" x="1316" y="906"/><use href="#p668" x="1318" y="704"/><use href="#p768" x="1253" y="746"/><use href="#p650" x="1256" y="1015"/><use href="#p668" x="1311" y="1034"/></g>
<g fill="#1e1ea8"><use href="#p87" x="1265" y="951"/><use href="#p28" x="1246" y="1040"/><use href="#p16" x="1276" y="952"/></g>
<g fill="#3434b0"><use href="#p647" x="1296" y="919"/><use href="#p743" x="1331" y="1027"/><use href="#p676" x="1248" y="698"/><use href="#p650" x="1348" y="1038"/><use href="#p690" x="1347" y="1011"/><use href="#p704" x="1308" y="1141"/><use href="#p708" x="1338" y="922"/><use href="#p652" x="1267" y="992"/><use href="#p608" x="1302" y="828"/><use href="#p748" x="1277" y="891"/><use href="#p750" x="1309" y="836"/><use href="#p636" x="1321" y="836"/><use href="#p705" x="1347" y="883"/><use href="#p677" x="1262" y="886"/><use href="#p679" x="1327" y="1082"/><use href="#p731" x="1317" y="690"/><use href="#p667" x="1277" y="1071"/><use href="#p751" x="1301" y="864"/><use href="#p653" x="1332" y="979"/><use href="#p752" x="1293" y="707"/><use href="#p725" x="1285" y="934"/><use href="#p753" x="1251" y="856"/><use href="#p682" x="1319" y="776"/><use href="#p680" x="1335" y="1012"/><use href="#p756" x="1329" y="860"/><use href="#p706" x="1315" y="996"/><use href="#p670" x="1329" y="731"/><use href="#p723" x="1339" y="941"/><use href="#p758" x="1297" y="1035"/><use href="#p731" x="1335" y="1085"/><use href="#p643" x="1308" y="780"/><use href="#p664" x="1311" y="912"/><use href="#p724" x="1302" y="727"/><use href="#p637" x="1335" y="1094"/><use href="#p765" x="1315" y="1140"/><use href="#p667" x="1346" y="933"/><use href="#p614" x="1271" y="819"/><use href="#p657" x="1343" y="1124"/></g>
<g fill="#2828e1"><use href="#p115" x="1332" y="1110"/><use href="#p165" x="1280" y="1040"/><use href="#p87" x="1305" y="840"/></g>
</g>
<clipPath id="c16"><rect x="1246.0" y="669.6" width="104.0" height="479.9"/></clipPath>
<linearGradient id="g20" x1="0" y1="0" x2="0" y2="1"><stop offset="0.000" stop-color="#000000"/><stop offset="0.015" stop-color="#878787"/><stop offset="0.151" stop-color="#878787"/><stop offset="0.172" stop-color="#3c3e41"/><stop offset="0.253" stop-color="#3c3e41"/><stop offset="0.266" stop-color="#282d32"/><stop offset="0.409" stop-color="#282d32"/><stop offset="0.421" stop-color="#0c0c0c"/><stop offset="0.461" stop-color="#0c0c0c"/><stop offset="0.475" stop-color="#000000"/></linearGradient>
<rect x="550.3" y="1166.5" width="104.5" height="481.9" fill="url(#g20)"/>
<g clip-path="url(#c20)" filter="url(#bl1)">
<g fill="#505050"><use href="#p75" x="585" y="1382"/><use href="#p29" x="623" y="1375"/></g>
<g fill="#7a7a7a"><use href="#p47" x="575" y="1252"/><use href="#p52" x="633" y="1276"/><use href="#p72" x="580" y="1262"/><use href="#p86" x="558" y="1249"/><use href="#p156" x="618" y="1325"/><use href="#p54" x="562" y="1364"/><use href="#p79" x="617" y="1304"/><use href="#p152" x="616" y="1332"/><use href="#p172" x="583" y="1350"/><use href="#p67" x="574" y="1348"/><use href="#p18" x="603" y="1355"/><use href="#p54" x="579" y="1306"/><use href="#p82" x="650" y="1322"/><use href="#p170" x="572" y="1351"/></g>
<g fill="#343434"><use href="#p62" x="625" y="1374"/><use href="#p177" x="599" y="1383"/></g>
<g fill="#7b7b7b"><use href="#p151" x="626" y="1236"/><use href="#p118" x="651" y="1180"/><use href="#p137" x="632" y="1199"/><use href="#p44" x="618" y="1178"/><use href="#p91" x="593" y="1188"/><use href="#p89" x="571" y="1222"/><use href="#p172" x="592" y="1240"/><use href="#p27" x="625" y="1198"/><use href="#p72" x="587" y="1230"/><use href="#p145" x="567" y="1187"/><use href="#p67" x="568" y="1226"/><use href="#p43" x="552" y="1183"/><use href="#p45" x="551" y="1205"/><use href="#p48" x="646" y="1231"/><use href="#p83" x="625" y="1207"/><use href="#p121" x="605" y="1179"/><use href="#p16" x="570" y="1237"/><use href="#p127" x="573" y="1182"/></g>
<g fill="#8c8c8c"><use href="#p4" x="631" y="1212"/><use href="#p85" x="655" y="1174"/><use href="#p88" x="612" y="1179"/><use href="#p45" x="574" y="1191"/><use href="#p53" x="575" y="1197"/><use href="#p17" x="608" y="1171"/><use href="#p172" x="627" y="1212"/><use href="#p79" x="610" y="1202"/><use href="#p61" x="577" y="1174"/><use href="#p141" x="584" y="1201"/><use href="#p4" x="640" y="1187"/><use href="#p45" x="654" y="1180"/><use href="#p27" x="610" y="1212"/><use href="#p47" x="641" y="1209"/><use href="#p67" x="576" y="1229"/><use href="#p54" x="615" y="1213"/><use href="#p4" x="559" y="1221"/><use href="#p145" x="630" y="1178"/><use href="#p55" x="594" y="1198"/><use href="#p87" x="559" y="1183"/><use href="#p65" x="605" y="1196"/><use href="#p45" x="622" y="1267"/><use href="#p75" x="617" y="1268"/><use href="#p15" x="613" y="1263"/><use href="#p87" x="631" y="1274"/><use href="#p68" x="650" y="1250"/><use href="#p52" x="575" y="1267"/><use href="#p25" x="586" y="1362"/><use href="#p64" x="557" y="1332"/><use href="#p27" x="577" y="1355"/><use href="#p35" x="645" y="1318"/><use href="#p163" x="603" y="1346"/><use href="#p137" x="650" y="1362"/><use href="#p81" x="606" y="1326"/><use href="#p75" x="631" y="1295"/><use href="#p203" x="638" y="1346"/><use href="#p67" x="631" y="1309"/><use href="#p16" x="654" y="1302"/></g>
<g fill="#5cd4ff"><use href="#p86" x="640" y="1268"/><use href="#p135" x="552" y="1290"/><use href="#p141" x="604" y="1273"/><use href="#p93" x="619" y="1277"/><use href="#p117" x="575" y="1271"/><use href="#p47" x="614" y="1279"/><use href="#p59" x="561" y="1281"/><use href="#p267" x="637" y="1281"/><use href="#p64" x="605" y="1260"/><use href="#p29" x="647" y="1279"/><use href="#p51" x="569" y="1279"/><use href="#p244" x="621" y="1253"/><use href="#p17" x="578" y="1282"/><use href="#p54" x="650" y="1313"/><use href="#p32" x="576" y="1324"/><use href="#p54" x="578" y="1335"/><use href="#p62" x="634" y="1299"/><use href="#p4" x="635" y="1327"/><use href="#p830" x="623" y="1315"/><use href="#p83" x="552" y="1352"/><use href="#p41" x="630" y="1333"/><use href="#p48" x="598" y="1349"/><use href="#p14" x="646" y="1345"/></g>
<g fill="#464646"><use href="#p267" x="603" y="1386"/><use href="#p75" x="558" y="1386"/></g>
<g fill="#5b5b5b"><use href="#p25" x="611" y="1248"/><use href="#p127" x="583" y="1282"/><use href="#p11" x="578" y="1247"/><use href="#p72" x="641" y="1291"/><use href="#p14" x="619" y="1284"/><use href="#p65" x="593" y="1285"/><use href="#p61" x="574" y="1294"/><use href="#p142" x="579" y="1338"/><use href="#p46" x="574" y="1338"/><use href="#p27" x="604" y="1306"/><use href="#p28" x="624" y="1337"/></g>
<g fill="#3c8aac"><use href="#p342" x="587" y="1277"/><use href="#p46" x="569" y="1266"/><use href="#p119" x="622" y="1247"/><use href="#p72" x="621" y="1250"/><use href="#p130" x="579" y="1321"/><use href="#p79" x="618" y="1364"/><use href="#p61" x="631" y="1304"/><use href="#p60" x="577" y="1327"/><use href="#p180" x="574" y="1304"/><use href="#p41" x="648" y="1321"/><use href="#p81" x="587" y="1360"/><use href="#p157" x="599" y="1295"/></g>
<g fill="#969696"><use href="#p4" x="592" y="1220"/><use href="#p48" x="562" y="1241"/><use href="#p130" x="579" y="1183"/><use href="#p93" x="637" y="1235"/><use href="#p117" x="596" y="1184"/><use href="#p137" x="593" y="1224"/><use href="#p70" x="595" y="1219"/><use href="#p46" x="644" y="1192"/><use href="#p121" x="604" y="1231"/><use href="#p30" x="590" y="1181"/><use href="#p77" x="576" y="1175"/><use href="#p121" x="571" y="1196"/><use href="#p60" x="597" y="1205"/><use href="#p11" x="654" y="1194"/><use href="#p142" x="615" y="1235"/><use href="#p134" x="576" y="1207"/><use href="#p93" x="631" y="1235"/><use href="#p19" x="643" y="1228"/><use href="#p66" x="587" y="1183"/><use href="#p82" x="554" y="1208"/><use href="#p21" x="621" y="1210"/><use href="#p87" x="599" y="1213"/><use href="#p15" x="562" y="1194"/><use href="#p149" x="574" y="1229"/></g>
<g fill="#50b9e6"><use href="#p2" x="615" y="1249"/><use href="#p134" x="604" y="1284"/><use href="#p89" x="576" y="1271"/><use href="#p41" x="561" y="1269"/><use href="#p142" x="578" y="1254"/><use href="#p68" x="563" y="1269"/><use href="#p141" x="571" y="1366"/><use href="#p79" x="617" y="1328"/><use href="#p14" x="645" y="1319"/><use href="#p142" x="633" y="1354"/><use href="#p121" x="614" y="1298"/><use href="#p85" x="621" y="1350"/><use href="#p166" x="617" y="1319"/><use href="#p50" x="577" y="1313"/><use href="#p11" x="553" y="1314"/><use href="#p53" x="639" y="1366"/><use href="#p76" x="564" y="1343"/><use href="#p75" x="560" y="1317"/><use href="#p142" x="588" y="1336"/><use href="#p54" x="606" y="1300"/><use href="#p54" x="599" y="1339"/><use href="#p18" x="621" y="1341"/><use href="#p93" x="593" y="1359"/><use href="#p84" x="561" y="1353"/><use href="#p48" x="605" y="1341"/><use href="#p154" x="615" y="1318"/><use href="#p135" x="629" y="1363"/><use href="#p41" x="648" y="1325"/></g>
</g>
<clipPath id="c20"><rect x="550.3" y="1166.5" width="104.5" height="481.9"/></clipPath>
<linearGradient id="g21" x1="0" y1="0" x2="0" y2="1"><stop offset="0.002" stop-color="#000000"/><stop offset="0.017" stop-color="#8a8a8a"/><stop offset="0.166" stop-color="#8a8a8a"/><stop offset="0.178" stop-color="#37393c"/><stop offset="0.264" stop-color="#37393c"/><stop offset="0.276" stop-color="#282d32"/><stop offset="0.419" stop-color="#282d32"/><stop offset="0.434" stop-color="#000000"/></linearGradient>
<rect x="666.3" y="1166.5" width="104.5" height="481.9" fill="url(#g21)"/>
<g clip-path="url(#c21)" filter="url(#bl1)">
<g fill="#5cd4ff"><use href="#p68" x="667" y="1275"/><use href="#p26" x="753" y="1266"/><use href="#p37" x="710" y="1256"/><use href="#p18" x="700" y="1285"/><use href="#p93" x="726" y="1343"/><use href="#p288" x="702" y="1321"/><use href="#p44" x="732" y="1312"/><use href="#p54" x="719" y="1308"/><use href="#p121" x="723" y="1363"/><use href="#p22" x="720" y="1315"/><use href="#p74" x="708" y="1300"/><use href="#p68" x="734" y="1358"/><use href="#p140" x="727" y="1330"/></g>
<g fill="#5b5b5b"><use href="#p37" x="727" y="1286"/><use href="#p139" x="740" y="1267"/><use href="#p15" x="753" y="1288"/><use href="#p124" x="715" y="1274"/><use href="#p115" x="699" y="1296"/><use href="#p155" x="739" y="1288"/><use href="#p49" x="747" y="1264"/><use href="#p342" x="670" y="1266"/><use href="#p265" x="762" y="1304"/><use href="#p52" x="722" y="1305"/><use href="#p31" x="752" y="1346"/><use href="#p88" x="732" y="1363"/><use href="#p39" x="681" y="1312"/><use href="#p11" x="763" y="1371"/><use href="#p28" x="676" y="1346"/><use href="#p72" x="765" y="1348"/></g>
<g fill="#505050"><use href="#p89" x="745" y="1372"/><use href="#p89" x="690" y="1394"/></g>
<g fill="#8c8c8c"><use href="#p22" x="693" y="1205"/><use href="#p93" x="707" y="1173"/><use href="#p115" x="696" y="1187"/><use href="#p203" x="730" y="1180"/><use href="#p34" x="704" y="1186"/><use href="#p146" x="670" y="1246"/><use href="#p27" x="763" y="1228"/><use href="#p138" x="753" y="1238"/><use href="#p52" x="671" y="1178"/><use href="#p91" x="693" y="1176"/><use href="#p241" x="706" y="1237"/><use href="#p54" x="684" y="1220"/><use href="#p22" x="692" y="1219"/><use href="#p51" x="670" y="1224"/><use href="#p144" x="699" y="1192"/><use href="#p41" x="673" y="1186"/><use href="#p33" x="711" y="1192"/><use href="#p11" x="700" y="1192"/><use href="#p154" x="771" y="1238"/><use href="#p53" x="717" y="1233"/><use href="#p60" x="666" y="1190"/><use href="#p64" x="678" y="1173"/><use href="#p45" x="762" y="1193"/><use href="#p56" x="750" y="1194"/><use href="#p72" x="699" y="1176"/><use href="#p62" x="711" y="1236"/><use href="#p137" x="685" y="1209"/><use href="#p72" x="718" y="1264"/><use href="#p29" x="716" y="1259"/><use href="#p142" x="689" y="1292"/><use href="#p154" x="707" y="1279"/><use href="#p798" x="750" y="1283"/><use href="#p87" x="728" y="1280"/><use href="#p25" x="671" y="1256"/><use href="#p49" x="765" y="1271"/><use href="#p67" x="740" y="1293"/><use href="#p89" x="769" y="1284"/><use href="#p49" x="679" y="1341"/><use href="#p119" x="736" y="1301"/><use href="#p180" x="725" y="1309"/><use href="#p149" x="713" y="1329"/><use href="#p142" x="706" y="1362"/><use href="#p21" x="701" y="1322"/><use href="#p133" x="734" y="1352"/><use href="#p84" x="680" y="1359"/><use href="#p27" x="690" y="1368"/><use href="#p203" x="699" y="1304"/><use href="#p18" x="673" y="1362"/></g>
<g fill="#3c8aac"><use href="#p72" x="769" y="1277"/><use href="#p149" x="703" y="1264"/><use href="#p208" x="709" y="1259"/><use href="#p139" x="673" y="1271"/><use href="#p4" x="708" y="1331"/><use href="#p203" x="707" y="1364"/><use href="#p45" x="685" y="1298"/><use href="#p89" x="763" y="1350"/><use href="#p85" x="766" y="1335"/><use href="#p22" x="751" y="1350"/><use href="#p74" x="689" y="1313"/><use href="#p165" x="684" y="1367"/><use href="#p140" x="723" y="1335"/><use href="#p166" x="727" y="1308"/><use href="#p158" x="764" y="1339"/></g>
<g fill="#969696"><use href="#p27" x="667" y="1248"/><use href="#p17" x="678" y="1212"/><use href="#p205" x="718" y="1210"/><use href="#p121" x="741" y="1197"/><use href="#p63" x="669" y="1187"/><use href="#p74" x="748" y="1245"/><use href="#p16" x="715" y="1175"/><use href="#p14" x="692" y="1172"/><use href="#p55" x="720" y="1187"/><use href="#p18" x="770" y="1183"/><use href="#p22" x="718" y="1213"/><use href="#p42" x="765" y="1172"/><use href="#p4" x="671" y="1197"/><use href="#p45" x="696" y="1195"/><use href="#p48" x="670" y="1236"/><use href="#p48" x="686" y="1202"/><use href="#p45" x="763" y="1182"/><use href="#p92" x="738" y="1237"/><use href="#p47" x="743" y="1178"/><use href="#p75" x="704" y="1235"/></g>
<g fill="#7b7b7b"><use href="#p49" x="725" y="1243"/><use href="#p152" x="735" y="1242"/><use href="#p70" x="692" y="1243"/><use href="#p142" x="733" y="1189"/><use href="#p91" x="732" y="1248"/><use href="#p77" x="766" y="1221"/><use href="#p19" x="764" y="1246"/><use href="#p55" x="725" y="1239"/><use href="#p196" x="710" y="1205"/><use href="#p65" x="683" y="1249"/><use href="#p93" x="718" y="1224"/><use href="#p79" x="694" y="1248"/><use href="#p342" x="724" y="1198"/><use href="#p81" x="765" y="1246"/><use href="#p56" x="767" y="1209"/><use href="#p72" x="730" y="1191"/><use href="#p29" x="686" y="1203"/><use href="#p42" x="703" y="1197"/><use href="#p45" x="680" y="1228"/><use href="#p70" x="695" y="1181"/><use href="#p16" x="698" y="1243"/><use href="#p176" x="736" y="1201"/></g>
<g fill="#464646"><use href="#p831" x="741" y="1389"/></g>
<g fill="#7a7a7a"><use href="#p156" x="726" y="1255"/><use href="#p155" x="682" y="1273"/><use href="#p159" x="733" y="1260"/><use href="#p81" x="745" y="1277"/><use href="#p50" x="678" y="1262"/><use href="#p81" x="686" y="1260"/><use href="#p63" x="751" y="1287"/><use href="#p88" x="729" y="1252"/><use href="#p11" x="731" y="1293"/><use href="#p141" x="741" y="1293"/><use href="#p72" x="686" y="1311"/><use href="#p145" x="688" y="1371"/><use href="#p81" x="715" y="1355"/><use href="#p90" x="756" y="1299"/><use href="#p29" x="711" y="1331"/><use href="#p197" x="710" y="1325"/><use href="#p70" x="723" y="1311"/><use href="#p324" x="728" y="1319"/><use href="#p154" x="698" y="1328"/><use href="#p91" x="757" y="1342"/></g>
<g fill="#343434"><use href="#p25" x="716" y="1378"/></g>
<g fill="#50b9e6"><use href="#p75" x="673" y="1256"/><use href="#p56" x="697" y="1295"/><use href="#p177" x="673" y="1274"/><use href="#p164" x="718" y="1252"/><use href="#p160" x="770" y="1283"/><use href="#p11" x="714" y="1361"/><use href="#p72" x="683" y="1350"/><use href="#p28" x="698" y="1344"/><use href="#p130" x="759" y="1342"/><use href="#p141" x="763" y="1341"/><use href="#p89" x="743" y="1306"/><use href="#p142" x="667" y="1321"/><use href="#p176" x="708" y="1370"/><use href="#p11" x="703" y="1331"/><use href="#p152" x="766" y="1352"/><use href="#p17" x="679" y="1297"/><use href="#p71" x="721" y="1328"/><use href="#p41" x="708" y="1344"/><use href="#p25" x="687" y="1353"/><use href="#p52" x="679" y="1352"/><use href="#p164" x="679" y="1345"/><use href="#p15" x="676" y="1367"/></g>
</g>
<clipPath id="c21"><rect x="666.3" y="1166.5" width="104.5" height="481.9"/></clipPath>
<linearGradient id="g22" x1="0" y1="0" x2="0" y2="1"><stop offset="0.000" stop-color="#000000"/><stop offset="0.012" stop-color="#4b4848"/><stop offset="0.222" stop-color="#4b4848"/><stop offset="0.234" stop-color="#2d2d30"/><stop offset="0.388" stop-color="#2d2d30"/><stop offset="0.403" stop-color="#000000"/></linearGradient>
<rect x="782.2" y="1166.5" width="104.5" height="481.9" fill="url(#g22)"/>
<g clip-path="url(#c22)" filter="url(#bl1)">
<g fill="#5b5b5b"><use href="#p158" x="862" y="1221"/><use href="#p45" x="823" y="1273"/><use href="#p18" x="832" y="1173"/><use href="#p75" x="834" y="1189"/><use href="#p73" x="822" y="1219"/><use href="#p142" x="867" y="1274"/><use href="#p41" x="878" y="1271"/><use href="#p70" x="864" y="1194"/><use href="#p29" x="855" y="1276"/><use href="#p91" x="884" y="1266"/><use href="#p20" x="863" y="1210"/><use href="#p85" x="874" y="1270"/><use href="#p64" x="862" y="1182"/><use href="#p180" x="785" y="1205"/><use href="#p179" x="806" y="1223"/><use href="#p4" x="865" y="1255"/><use href="#p47" x="834" y="1276"/><use href="#p86" x="833" y="1231"/><use href="#p15" x="808" y="1260"/><use href="#p45" x="830" y="1260"/><use href="#p88" x="835" y="1221"/><use href="#p75" x="833" y="1186"/><use href="#p49" x="812" y="1206"/><use href="#p52" x="868" y="1272"/><use href="#p342" x="803" y="1224"/><use href="#p27" x="849" y="1323"/><use href="#p55" x="811" y="1278"/><use href="#p169" x="877" y="1323"/><use href="#p56" x="836" y="1340"/><use href="#p4" x="857" y="1345"/><use href="#p140" x="882" y="1311"/><use href="#p157" x="819" y="1355"/><use href="#p73" x="795" y="1324"/><use href="#p45" x="846" y="1338"/><use href="#p115" x="835" y="1338"/><use href="#p17" x="846" y="1331"/><use href="#p25" x="818" y="1347"/><use href="#p15" x="881" y="1292"/><use href="#p166" x="849" y="1300"/></g>
<g fill="#50b9e6"><use href="#p4" x="883" y="1192"/><use href="#p84" x="796" y="1232"/><use href="#p28" x="804" y="1262"/><use href="#p30" x="854" y="1223"/><use href="#p62" x="883" y="1189"/><use href="#p31" x="860" y="1227"/><use href="#p75" x="877" y="1266"/><use href="#p45" x="852" y="1200"/><use href="#p79" x="814" y="1177"/><use href="#p18" x="828" y="1221"/><use href="#p50" x="851" y="1244"/><use href="#p50" x="800" y="1241"/><use href="#p33" x="843" y="1342"/><use href="#p49" x="847" y="1344"/><use href="#p68" x="785" y="1290"/><use href="#p85" x="826" y="1300"/><use href="#p135" x="847" y="1321"/><use href="#p134" x="821" y="1303"/><use href="#p59" x="872" y="1324"/><use href="#p48" x="831" y="1355"/><use href="#p81" x="838" y="1301"/></g>
<g fill="#3c8aac"><use href="#p68" x="882" y="1212"/><use href="#p41" x="809" y="1272"/><use href="#p25" x="854" y="1236"/><use href="#p15" x="882" y="1224"/><use href="#p48" x="882" y="1264"/><use href="#p15" x="796" y="1301"/><use href="#p165" x="828" y="1326"/><use href="#p135" x="877" y="1350"/><use href="#p137" x="824" y="1282"/><use href="#p73" x="873" y="1316"/><use href="#p26" x="875" y="1290"/><use href="#p14" x="826" y="1301"/><use href="#p60" x="873" y="1339"/></g>
<g fill="#eb7878"><use href="#p79" x="830" y="1204"/><use href="#p25" x="790" y="1237"/><use href="#p91" x="849" y="1316"/></g>
<g fill="#505050"><use href="#p52" x="823" y="1512"/></g>
<g fill="#ff8a8a"><use href="#p75" x="809" y="1245"/><use href="#p56" x="828" y="1218"/><use href="#p45" x="850" y="1248"/><use href="#p314" x="834" y="1239"/><use href="#p88" x="878" y="1262"/><use href="#p63" x="793" y="1280"/></g>
<g fill="#464646"><use href="#p146" x="827" y="1506"/><use href="#p60" x="801" y="1509"/></g>
<g fill="#7a7a7a"><use href="#p62" x="794" y="1250"/><use href="#p48" x="851" y="1205"/><use href="#p9" x="877" y="1269"/><use href="#p127" x="818" y="1246"/><use href="#p124" x="799" y="1206"/><use href="#p55" x="794" y="1195"/><use href="#p85" x="786" y="1270"/><use href="#p50" x="806" y="1255"/><use href="#p41" x="811" y="1261"/><use href="#p16" x="808" y="1187"/><use href="#p72" x="885" y="1272"/><use href="#p137" x="827" y="1244"/><use href="#p27" x="806" y="1275"/><use href="#p45" x="885" y="1193"/><use href="#p177" x="801" y="1203"/><use href="#p31" x="784" y="1276"/><use href="#p163" x="857" y="1260"/><use href="#p4" x="784" y="1274"/><use href="#p527" x="797" y="1180"/><use href="#p54" x="834" y="1244"/><use href="#p17" x="787" y="1338"/><use href="#p134" x="826" y="1333"/><use href="#p52" x="836" y="1323"/><use href="#p37" x="870" y="1313"/><use href="#p154" x="786" y="1302"/><use href="#p832" x="853" y="1309"/><use href="#p26" x="870" y="1309"/><use href="#p29" x="840" y="1320"/><use href="#p88" x="861" y="1282"/><use href="#p833" x="803" y="1285"/><use href="#p79" x="859" y="1287"/><use href="#p16" x="830" y="1300"/><use href="#p180" x="838" y="1286"/><use href="#p27" x="821" y="1348"/><use href="#p121" x="863" y="1286"/><use href="#p49" x="850" y="1319"/></g>
<g fill="#8c8c8c"><use href="#p73" x="820" y="1257"/><use href="#p18" x="848" y="1243"/><use href="#p157" x="794" y="1242"/><use href="#p170" x="795" y="1222"/><use href="#p165" x="824" y="1189"/><use href="#p22" x="845" y="1179"/><use href="#p54" x="859" y="1206"/><use href="#p241" x="836" y="1220"/><use href="#p134" x="877" y="1170"/><use href="#p11" x="848" y="1227"/><use href="#p70" x="826" y="1268"/><use href="#p117" x="826" y="1216"/><use href="#p26" x="863" y="1177"/><use href="#p34" x="792" y="1206"/><use href="#p75" x="816" y="1240"/><use href="#p68" x="828" y="1254"/><use href="#p178" x="837" y="1201"/><use href="#p14" x="787" y="1256"/><use href="#p124" x="796" y="1268"/><use href="#p164" x="814" y="1247"/><use href="#p17" x="823" y="1190"/><use href="#p137" x="854" y="1275"/><use href="#p84" x="859" y="1227"/><use href="#p48" x="787" y="1248"/><use href="#p81" x="882" y="1249"/><use href="#p59" x="839" y="1217"/><use href="#p25" x="872" y="1229"/><use href="#p89" x="791" y="1285"/><use href="#p53" x="831" y="1290"/><use href="#p50" x="861" y="1277"/><use href="#p163" x="850" y="1309"/><use href="#p27" x="831" y="1334"/><use href="#p70" x="859" y="1281"/><use href="#p48" x="852" y="1334"/><use href="#p157" x="862" y="1317"/><use href="#p134" x="810" y="1339"/><use href="#p88" x="863" y="1327"/><use href="#p93" x="821" y="1282"/></g>
<g fill="#5cd4ff"><use href="#p156" x="842" y="1189"/><use href="#p16" x="799" y="1170"/><use href="#p25" x="810" y="1260"/><use href="#p82" x="811" y="1269"/><use href="#p220" x="848" y="1177"/><use href="#p45" x="858" y="1226"/><use href="#p23" x="805" y="1187"/><use href="#p59" x="842" y="1299"/><use href="#p120" x="788" y="1282"/><use href="#p137" x="858" y="1330"/><use href="#p115" x="834" y="1308"/><use href="#p87" x="876" y="1306"/><use href="#p75" x="848" y="1277"/><use href="#p66" x="792" y="1327"/><use href="#p130" x="804" y="1312"/><use href="#p16" x="864" y="1300"/><use href="#p28" x="873" y="1305"/></g>
<g fill="#343434"><use href="#p139" x="783" y="1477"/></g>
<g fill="#b05a5a"><use href="#p51" x="832" y="1193"/><use href="#p50" x="796" y="1316"/></g>
</g>
<clipPath id="c22"><rect x="782.2" y="1166.5" width="104.5" height="481.9"/></clipPath>
<linearGradient id="g23" x1="0" y1="0" x2="0" y2="1"><stop offset="0.000" stop-color="#000000"/><stop offset="0.012" stop-color="#706e6e"/><stop offset="0.201" stop-color="#706e6e"/><stop offset="0.214" stop-color="#32373c"/><stop offset="0.521" stop-color="#32373c"/><stop offset="0.535" stop-color="#000000"/></linearGradient>
<rect x="898.2" y="1166.5" width="104.5" height="481.9" fill="url(#g23)"/>
<g clip-path="url(#c23)" filter="url(#bl1)">
<g fill="#5b5b5b"><use href="#p157" x="998" y="1380"/><use href="#p197" x="930" y="1389"/><use href="#p142" x="995" y="1411"/><use href="#p41" x="1000" y="1274"/><use href="#p37" x="937" y="1295"/><use href="#p129" x="942" y="1398"/><use href="#p22" x="928" y="1359"/><use href="#p37" x="953" y="1417"/><use href="#p169" x="913" y="1418"/><use href="#p65" x="977" y="1329"/><use href="#p181" x="962" y="1273"/><use href="#p132" x="996" y="1404"/><use href="#p43" x="931" y="1381"/><use href="#p85" x="917" y="1293"/><use href="#p835" x="915" y="1309"/><use href="#p49" x="938" y="1393"/><use href="#p119" x="997" y="1333"/><use href="#p35" x="952" y="1335"/><use href="#p25" x="961" y="1405"/><use href="#p160" x="999" y="1368"/><use href="#p197" x="987" y="1290"/></g>
<g fill="#3c8aac"><use href="#p161" x="932" y="1217"/><use href="#p4" x="941" y="1237"/><use href="#p204" x="907" y="1239"/><use href="#p120" x="998" y="1234"/><use href="#p133" x="899" y="1306"/><use href="#p165" x="999" y="1353"/><use href="#p45" x="917" y="1323"/><use href="#p87" x="984" y="1398"/><use href="#p152" x="967" y="1379"/><use href="#p70" x="929" y="1274"/><use href="#p39" x="958" y="1357"/><use href="#p37" x="961" y="1378"/><use href="#p152" x="954" y="1291"/><use href="#p42" x="918" y="1376"/><use href="#p47" x="954" y="1280"/><use href="#p55" x="964" y="1387"/><use href="#p38" x="921" y="1374"/><use href="#p64" x="907" y="1315"/><use href="#p55" x="936" y="1280"/><use href="#p42" x="908" y="1377"/><use href="#p117" x="948" y="1280"/><use href="#p148" x="987" y="1411"/><use href="#p16" x="915" y="1385"/><use href="#p148" x="942" y="1327"/><use href="#p837" x="898" y="1475"/><use href="#p66" x="936" y="1496"/><use href="#p838" x="908" y="1501"/><use href="#p142" x="967" y="1481"/></g>
<g fill="#eb7878"><use href="#p41" x="978" y="1252"/><use href="#p134" x="976" y="1378"/><use href="#p48" x="935" y="1362"/><use href="#p33" x="996" y="1270"/><use href="#p195" x="913" y="1418"/><use href="#p91" x="912" y="1379"/></g>
<g fill="#5cd4ff"><use href="#p48" x="951" y="1186"/><use href="#p157" x="934" y="1184"/><use href="#p45" x="977" y="1175"/><use href="#p59" x="899" y="1235"/><use href="#p208" x="913" y="1411"/><use href="#p43" x="966" y="1387"/><use href="#p33" x="904" y="1308"/><use href="#p162" x="956" y="1295"/><use href="#p834" x="942" y="1279"/><use href="#p151" x="939" y="1330"/><use href="#p67" x="990" y="1323"/><use href="#p16" x="899" y="1416"/><use href="#p67" x="931" y="1321"/><use href="#p164" x="956" y="1285"/><use href="#p20" x="954" y="1279"/><use href="#p147" x="951" y="1279"/><use href="#p72" x="994" y="1387"/><use href="#p70" x="968" y="1281"/><use href="#p836" x="913" y="1351"/><use href="#p121" x="963" y="1363"/><use href="#p14" x="967" y="1398"/><use href="#p232" x="949" y="1290"/><use href="#p143" x="943" y="1397"/><use href="#p37" x="978" y="1370"/><use href="#p56" x="930" y="1416"/><use href="#p407" x="1000" y="1493"/><use href="#p17" x="977" y="1506"/></g>
<g fill="#50b9e6"><use href="#p93" x="995" y="1203"/><use href="#p41" x="948" y="1198"/><use href="#p51" x="908" y="1222"/><use href="#p203" x="909" y="1183"/><use href="#p91" x="908" y="1305"/><use href="#p159" x="994" y="1300"/><use href="#p179" x="899" y="1282"/><use href="#p164" x="958" y="1286"/><use href="#p154" x="959" y="1359"/><use href="#p119" x="982" y="1275"/><use href="#p144" x="918" y="1382"/><use href="#p80" x="969" y="1313"/><use href="#p57" x="912" y="1320"/><use href="#p197" x="987" y="1374"/><use href="#p91" x="963" y="1395"/><use href="#p79" x="990" y="1399"/><use href="#p198" x="992" y="1361"/><use href="#p62" x="927" y="1332"/><use href="#p138" x="923" y="1394"/><use href="#p74" x="925" y="1382"/><use href="#p160" x="916" y="1377"/><use href="#p142" x="936" y="1329"/><use href="#p41" x="985" y="1268"/><use href="#p4" x="935" y="1403"/><use href="#p22" x="986" y="1329"/><use href="#p37" x="953" y="1410"/><use href="#p35" x="913" y="1372"/><use href="#p78" x="962" y="1392"/><use href="#p70" x="967" y="1333"/><use href="#p130" x="944" y="1350"/><use href="#p454" x="978" y="1492"/></g>
<g fill="#696969"><use href="#p50" x="938" y="1230"/><use href="#p75" x="903" y="1177"/><use href="#p165" x="926" y="1220"/><use href="#p81" x="944" y="1265"/><use href="#p67" x="958" y="1179"/><use href="#p137" x="936" y="1246"/><use href="#p140" x="960" y="1190"/><use href="#p82" x="950" y="1250"/><use href="#p61" x="961" y="1266"/><use href="#p56" x="928" y="1230"/><use href="#p140" x="993" y="1230"/><use href="#p134" x="948" y="1219"/><use href="#p34" x="937" y="1194"/><use href="#p25" x="952" y="1212"/><use href="#p74" x="949" y="1224"/><use href="#p67" x="963" y="1244"/><use href="#p71" x="931" y="1256"/><use href="#p22" x="948" y="1238"/><use href="#p73" x="933" y="1226"/><use href="#p14" x="931" y="1208"/><use href="#p75" x="947" y="1213"/><use href="#p124" x="972" y="1173"/><use href="#p84" x="936" y="1192"/><use href="#p93" x="964" y="1199"/><use href="#p124" x="984" y="1213"/><use href="#p158" x="928" y="1237"/><use href="#p75" x="948" y="1188"/><use href="#p49" x="901" y="1228"/><use href="#p137" x="970" y="1252"/></g>
<g fill="#b05a5a"><use href="#p151" x="983" y="1238"/><use href="#p16" x="990" y="1223"/><use href="#p46" x="931" y="1199"/><use href="#p241" x="971" y="1419"/><use href="#p70" x="941" y="1281"/><use href="#p70" x="928" y="1387"/><use href="#p25" x="982" y="1297"/><use href="#p72" x="904" y="1394"/></g>
<g fill="#8c8c8c"><use href="#p75" x="948" y="1182"/><use href="#p139" x="942" y="1176"/><use href="#p52" x="976" y="1215"/><use href="#p26" x="972" y="1212"/><use href="#p45" x="960" y="1205"/><use href="#p137" x="972" y="1249"/><use href="#p89" x="934" y="1176"/><use href="#p81" x="911" y="1188"/><use href="#p117" x="975" y="1232"/><use href="#p28" x="927" y="1207"/><use href="#p31" x="980" y="1248"/><use href="#p35" x="973" y="1261"/><use href="#p66" x="901" y="1189"/><use href="#p63" x="947" y="1225"/><use href="#p28" x="963" y="1263"/><use href="#p29" x="937" y="1231"/><use href="#p203" x="933" y="1236"/><use href="#p63" x="959" y="1249"/><use href="#p54" x="939" y="1176"/><use href="#p79" x="917" y="1217"/><use href="#p45" x="914" y="1188"/><use href="#p67" x="913" y="1198"/><use href="#p141" x="947" y="1208"/><use href="#p74" x="901" y="1243"/><use href="#p163" x="987" y="1304"/><use href="#p135" x="944" y="1368"/><use href="#p23" x="920" y="1355"/><use href="#p79" x="943" y="1282"/><use href="#p121" x="906" y="1305"/><use href="#p41" x="986" y="1386"/><use href="#p27" x="934" y="1347"/><use href="#p73" x="912" y="1281"/><use href="#p66" x="915" y="1296"/><use href="#p23" x="966" y="1306"/><use href="#p76" x="910" y="1381"/><use href="#p48" x="941" y="1398"/><use href="#p19" x="997" y="1373"/><use href="#p149" x="995" y="1323"/><use href="#p85" x="997" y="1411"/><use href="#p121" x="940" y="1333"/><use href="#p139" x="900" y="1374"/><use href="#p115" x="1000" y="1359"/><use href="#p29" x="970" y="1374"/></g>
<g fill="#7a7a7a"><use href="#p135" x="969" y="1273"/><use href="#p137" x="992" y="1309"/><use href="#p43" x="899" y="1327"/><use href="#p35" x="901" y="1300"/><use href="#p39" x="995" y="1409"/><use href="#p31" x="924" y="1305"/><use href="#p121" x="971" y="1268"/><use href="#p21" x="966" y="1372"/><use href="#p244" x="999" y="1369"/><use href="#p179" x="963" y="1333"/><use href="#p61" x="904" y="1318"/><use href="#p238" x="976" y="1273"/><use href="#p135" x="938" y="1335"/><use href="#p14" x="964" y="1374"/><use href="#p91" x="985" y="1313"/><use href="#p35" x="962" y="1312"/><use href="#p73" x="915" y="1365"/><use href="#p82" x="957" y="1354"/><use href="#p48" x="974" y="1396"/><use href="#p84" x="938" y="1380"/><use href="#p63" x="969" y="1324"/></g>
<g fill="#ff8a8a"><use href="#p127" x="922" y="1245"/><use href="#p17" x="997" y="1246"/><use href="#p165" x="923" y="1321"/><use href="#p11" x="985" y="1400"/><use href="#p22" x="953" y="1346"/><use href="#p88" x="905" y="1415"/><use href="#p160" x="899" y="1378"/><use href="#p11" x="899" y="1325"/><use href="#p171" x="926" y="1293"/><use href="#p78" x="934" y="1364"/><use href="#p15" x="966" y="1410"/><use href="#p149" x="978" y="1303"/><use href="#p37" x="996" y="1272"/><use href="#p43" x="942" y="1322"/></g>
<g fill="#a1a1a1"><use href="#p149" x="997" y="1226"/><use href="#p47" x="983" y="1242"/><use href="#p4" x="957" y="1232"/><use href="#p37" x="955" y="1245"/><use href="#p142" x="945" y="1171"/><use href="#p67" x="915" y="1210"/><use href="#p88" x="996" y="1196"/><use href="#p153" x="931" y="1201"/><use href="#p18" x="920" y="1237"/><use href="#p41" x="909" y="1232"/><use href="#p127" x="908" y="1229"/><use href="#p34" x="978" y="1241"/><use href="#p74" x="999" y="1175"/><use href="#p22" x="899" y="1186"/><use href="#p196" x="918" y="1177"/><use href="#p267" x="996" y="1221"/><use href="#p90" x="982" y="1259"/><use href="#p25" x="908" y="1239"/><use href="#p134" x="976" y="1264"/><use href="#p89" x="956" y="1236"/><use href="#p64" x="997" y="1234"/><use href="#p18" x="904" y="1247"/><use href="#p83" x="941" y="1182"/></g>
</g>
<clipPath id="c23"><rect x="898.2" y="1166.5" width="104.5" height="481.9"/></clipPath>
<linearGradient id="g24" x1="0" y1="0" x2="0" y2="1"><stop offset="0.042" stop-color="#000000"/><stop offset="0.056" stop-color="#414448"/><stop offset="0.471" stop-color="#414448"/><stop offset="0.486" stop-color="#000000"/></linearGradient>
<rect x="1014.1" y="1166.5" width="104.5" height="481.9" fill="url(#g24)"/>
<g clip-path="url(#c24)" filter="url(#bl1)">
<g fill="#b05a5a"><use href="#p84" x="1042" y="1224"/><use href="#p17" x="1055" y="1234"/><use href="#p223" x="1081" y="1395"/><use href="#p11" x="1089" y="1385"/><use href="#p174" x="1086" y="1241"/><use href="#p17" x="1113" y="1366"/><use href="#p55" x="1071" y="1361"/></g>
<g fill="#50b9e6"><use href="#p93" x="1056" y="1278"/><use href="#p68" x="1086" y="1376"/><use href="#p138" x="1043" y="1269"/><use href="#p27" x="1022" y="1319"/><use href="#p78" x="1056" y="1387"/><use href="#p135" x="1014" y="1232"/><use href="#p41" x="1077" y="1326"/><use href="#p34" x="1079" y="1379"/><use href="#p145" x="1023" y="1317"/><use href="#p176" x="1087" y="1351"/><use href="#p14" x="1019" y="1230"/><use href="#p89" x="1104" y="1384"/><use href="#p18" x="1050" y="1322"/><use href="#p84" x="1076" y="1245"/><use href="#p180" x="1055" y="1216"/><use href="#p77" x="1082" y="1396"/><use href="#p205" x="1066" y="1314"/><use href="#p70" x="1077" y="1209"/><use href="#p37" x="1051" y="1249"/><use href="#p537" x="1086" y="1479"/><use href="#p407" x="1063" y="1430"/><use href="#p361" x="1065" y="1459"/><use href="#p361" x="1085" y="1434"/><use href="#p454" x="1067" y="1501"/><use href="#p405" x="1040" y="1417"/></g>
<g fill="#3c8aac"><use href="#p68" x="1079" y="1355"/><use href="#p80" x="1027" y="1291"/><use href="#p53" x="1091" y="1206"/><use href="#p67" x="1046" y="1299"/><use href="#p152" x="1015" y="1273"/><use href="#p40" x="1083" y="1255"/><use href="#p31" x="1061" y="1266"/><use href="#p91" x="1105" y="1200"/><use href="#p35" x="1025" y="1337"/><use href="#p59" x="1027" y="1324"/><use href="#p208" x="1044" y="1232"/><use href="#p25" x="1113" y="1215"/><use href="#p84" x="1092" y="1291"/><use href="#p63" x="1078" y="1336"/><use href="#p202" x="1046" y="1350"/><use href="#p4" x="1064" y="1209"/><use href="#p26" x="1045" y="1195"/><use href="#p23" x="1064" y="1212"/><use href="#p487" x="1068" y="1517"/><use href="#p345" x="1091" y="1442"/></g>
<g fill="#8c8c8c"><use href="#p75" x="1053" y="1186"/><use href="#p38" x="1023" y="1190"/><use href="#p64" x="1049" y="1188"/><use href="#p20" x="1107" y="1351"/><use href="#p60" x="1058" y="1369"/><use href="#p26" x="1049" y="1304"/><use href="#p41" x="1026" y="1272"/><use href="#p62" x="1085" y="1192"/><use href="#p130" x="1113" y="1265"/><use href="#p165" x="1049" y="1222"/><use href="#p82" x="1084" y="1388"/><use href="#p60" x="1058" y="1371"/><use href="#p53" x="1078" y="1245"/><use href="#p45" x="1098" y="1247"/><use href="#p50" x="1064" y="1335"/><use href="#p241" x="1102" y="1338"/><use href="#p34" x="1083" y="1338"/><use href="#p74" x="1025" y="1273"/><use href="#p68" x="1037" y="1321"/><use href="#p18" x="1030" y="1290"/><use href="#p63" x="1053" y="1313"/><use href="#p157" x="1090" y="1393"/><use href="#p204" x="1062" y="1249"/><use href="#p16" x="1060" y="1362"/><use href="#p67" x="1055" y="1348"/><use href="#p72" x="1058" y="1360"/><use href="#p15" x="1117" y="1303"/><use href="#p73" x="1096" y="1252"/><use href="#p82" x="1031" y="1380"/><use href="#p171" x="1053" y="1291"/><use href="#p68" x="1024" y="1361"/><use href="#p86" x="1048" y="1279"/><use href="#p130" x="1066" y="1265"/><use href="#p75" x="1081" y="1340"/><use href="#p11" x="1093" y="1309"/><use href="#p11" x="1099" y="1359"/><use href="#p22" x="1076" y="1193"/><use href="#p204" x="1040" y="1382"/><use href="#p72" x="1089" y="1248"/><use href="#p129" x="1049" y="1336"/><use href="#p70" x="1051" y="1394"/><use href="#p81" x="1028" y="1382"/><use href="#p74" x="1104" y="1377"/><use href="#p154" x="1021" y="1362"/><use href="#p90" x="1053" y="1209"/><use href="#p142" x="1094" y="1326"/><use href="#p314" x="1083" y="1367"/><use href="#p149" x="1067" y="1232"/><use href="#p65" x="1107" y="1353"/><use href="#p48" x="1015" y="1266"/><use href="#p47" x="1056" y="1340"/><use href="#p75" x="1053" y="1444"/><use href="#p1" x="1046" y="1415"/><use href="#p841" x="1070" y="1485"/></g>
<g fill="#5cd4ff"><use href="#p204" x="1016" y="1280"/><use href="#p72" x="1096" y="1353"/><use href="#p41" x="1035" y="1259"/><use href="#p88" x="1054" y="1269"/><use href="#p11" x="1018" y="1202"/><use href="#p74" x="1040" y="1191"/><use href="#p45" x="1019" y="1384"/><use href="#p38" x="1093" y="1214"/><use href="#p163" x="1087" y="1242"/><use href="#p62" x="1085" y="1357"/><use href="#p164" x="1015" y="1336"/><use href="#p48" x="1111" y="1382"/><use href="#p527" x="1085" y="1195"/><use href="#p134" x="1109" y="1236"/><use href="#p57" x="1117" y="1370"/><use href="#p163" x="1092" y="1295"/><use href="#p37" x="1049" y="1318"/><use href="#p92" x="1088" y="1246"/><use href="#p25" x="1103" y="1286"/><use href="#p45" x="1053" y="1204"/><use href="#p16" x="1065" y="1214"/><use href="#p142" x="1024" y="1224"/><use href="#p64" x="1107" y="1257"/><use href="#p17" x="1044" y="1352"/><use href="#p25" x="1116" y="1355"/><use href="#p157" x="1069" y="1232"/><use href="#p405" x="1097" y="1526"/><use href="#p488" x="1087" y="1524"/><use href="#p447" x="1076" y="1440"/><use href="#p842" x="1034" y="1463"/></g>
<g fill="#ff8a8a"><use href="#p155" x="1086" y="1258"/><use href="#p164" x="1070" y="1396"/><use href="#p164" x="1040" y="1209"/><use href="#p73" x="1068" y="1330"/><use href="#p120" x="1107" y="1300"/><use href="#p145" x="1083" y="1249"/><use href="#p74" x="1031" y="1370"/></g>
<g fill="#5b5b5b"><use href="#p171" x="1038" y="1311"/><use href="#p16" x="1111" y="1270"/><use href="#p72" x="1102" y="1265"/><use href="#p85" x="1091" y="1359"/><use href="#p14" x="1027" y="1225"/><use href="#p4" x="1087" y="1267"/><use href="#p18" x="1091" y="1283"/><use href="#p72" x="1102" y="1293"/><use href="#p52" x="1035" y="1283"/><use href="#p82" x="1075" y="1215"/><use href="#p243" x="1071" y="1340"/><use href="#p51" x="1037" y="1288"/><use href="#p23" x="1037" y="1390"/><use href="#p54" x="1098" y="1323"/><use href="#p21" x="1038" y="1381"/><use href="#p29" x="1096" y="1221"/><use href="#p117" x="1114" y="1376"/><use href="#p145" x="1034" y="1389"/><use href="#p50" x="1064" y="1386"/><use href="#p55" x="1107" y="1192"/><use href="#p42" x="1075" y="1249"/><use href="#p161" x="1058" y="1325"/><use href="#p134" x="1039" y="1292"/><use href="#p133" x="1054" y="1377"/><use href="#p52" x="1024" y="1319"/><use href="#p15" x="1019" y="1392"/><use href="#p142" x="1081" y="1241"/><use href="#p89" x="1029" y="1260"/><use href="#p20" x="1037" y="1293"/><use href="#p84" x="1112" y="1299"/><use href="#p27" x="1069" y="1234"/><use href="#p152" x="1016" y="1330"/><use href="#p67" x="1066" y="1391"/><use href="#p145" x="1084" y="1222"/><use href="#p177" x="1046" y="1394"/><use href="#p92" x="1089" y="1225"/><use href="#p28" x="1104" y="1389"/><use href="#p14" x="1022" y="1376"/><use href="#p447" x="1097" y="1503"/><use href="#p3" x="1047" y="1405"/></g>
<g fill="#7a7a7a"><use href="#p42" x="1103" y="1176"/><use href="#p54" x="1025" y="1172"/><use href="#p142" x="1098" y="1391"/><use href="#p45" x="1053" y="1221"/><use href="#p81" x="1093" y="1329"/><use href="#p38" x="1065" y="1315"/><use href="#p64" x="1080" y="1276"/><use href="#p121" x="1081" y="1241"/><use href="#p11" x="1039" y="1239"/><use href="#p51" x="1075" y="1379"/><use href="#p137" x="1096" y="1222"/><use href="#p81" x="1105" y="1200"/><use href="#p139" x="1073" y="1241"/><use href="#p79" x="1061" y="1250"/><use href="#p140" x="1033" y="1238"/><use href="#p143" x="1034" y="1250"/><use href="#p166" x="1104" y="1337"/><use href="#p172" x="1035" y="1253"/><use href="#p45" x="1075" y="1326"/><use href="#p204" x="1059" y="1255"/><use href="#p34" x="1073" y="1227"/><use href="#p68" x="1067" y="1294"/><use href="#p241" x="1037" y="1386"/><use href="#p180" x="1041" y="1340"/><use href="#p26" x="1067" y="1199"/><use href="#p23" x="1075" y="1373"/><use href="#p77" x="1116" y="1338"/><use href="#p47" x="1077" y="1328"/><use href="#p18" x="1026" y="1245"/><use href="#p41" x="1097" y="1364"/><use href="#p176" x="1070" y="1253"/><use href="#p41" x="1109" y="1318"/><use href="#p29" x="1069" y="1379"/><use href="#p166" x="1094" y="1319"/><use href="#p93" x="1023" y="1306"/><use href="#p75" x="1053" y="1199"/><use href="#p71" x="1051" y="1194"/><use href="#p72" x="1086" y="1277"/><use href="#p130" x="1027" y="1327"/><use href="#p137" x="1083" y="1352"/><use href="#p142" x="1017" y="1264"/><use href="#p11" x="1076" y="1231"/><use href="#p143" x="1090" y="1392"/><use href="#p27" x="1097" y="1259"/><use href="#p75" x="1044" y="1389"/><use href="#p76" x="1119" y="1208"/><use href="#p201" x="1082" y="1236"/><use href="#p29" x="1113" y="1299"/><use href="#p16" x="1028" y="1334"/><use href="#p75" x="1053" y="1351"/><use href="#p8" x="1068" y="1436"/><use href="#p840" x="1088" y="1419"/><use href="#p342" x="1098" y="1503"/><use href="#p683" x="1050" y="1434"/></g>
<g fill="#eb7878"><use href="#p241" x="1062" y="1316"/><use href="#p73" x="1097" y="1343"/><use href="#p68" x="1111" y="1212"/><use href="#p140" x="1067" y="1223"/><use href="#p51" x="1054" y="1297"/><use href="#p839" x="1077" y="1392"/><use href="#p29" x="1065" y="1196"/><use href="#p25" x="1025" y="1361"/></g>
</g>
<clipPath id="c24"><rect x="1014.1" y="1166.5" width="104.5" height="481.9"/></clipPath>
<linearGradient id="g25" x1="0" y1="0" x2="0" y2="1"><stop offset="0.027" stop-color="#000000"/><stop offset="0.042" stop-color="#0a0c0f"/><stop offset="0.471" stop-color="#0a0c0f"/><stop offset="0.484" stop-color="#23282d"/><stop offset="0.994" stop-color="#23282d"/><stop offset="1.000" stop-color="#000000"/></linearGradient>
<rect x="1130.1" y="1166.5" width="104.5" height="481.9" fill="url(#g25)"/>
<g clip-path="url(#c25)" filter="url(#bl1)">
<g fill="#50b9e6"><use href="#p230" x="1220" y="1184"/><use href="#p844" x="1228" y="1383"/><use href="#p803" x="1202" y="1353"/><use href="#p176" x="1165" y="1385"/><use href="#p69" x="1176" y="1346"/><use href="#p846" x="1230" y="1284"/><use href="#p153" x="1230" y="1301"/><use href="#p73" x="1215" y="1277"/><use href="#p55" x="1138" y="1203"/><use href="#p230" x="1204" y="1201"/><use href="#p119" x="1172" y="1243"/><use href="#p222" x="1219" y="1384"/><use href="#p84" x="1188" y="1258"/><use href="#p38" x="1133" y="1303"/><use href="#p30" x="1227" y="1303"/><use href="#p4" x="1177" y="1363"/><use href="#p851" x="1146" y="1235"/><use href="#p150" x="1171" y="1285"/><use href="#p853" x="1228" y="1219"/><use href="#p800" x="1165" y="1297"/><use href="#p138" x="1194" y="1355"/><use href="#p267" x="1140" y="1285"/><use href="#p4" x="1181" y="1228"/><use href="#p236" x="1215" y="1327"/><use href="#p171" x="1205" y="1228"/><use href="#p23" x="1170" y="1327"/><use href="#p856" x="1154" y="1243"/><use href="#p285" x="1130" y="1277"/><use href="#p74" x="1230" y="1225"/><use href="#p858" x="1176" y="1250"/><use href="#p843" x="1150" y="1245"/><use href="#p11" x="1215" y="1417"/><use href="#p56" x="1145" y="1605"/><use href="#p154" x="1188" y="1587"/><use href="#p27" x="1220" y="1467"/><use href="#p31" x="1154" y="1456"/><use href="#p74" x="1172" y="1454"/><use href="#p290" x="1132" y="1582"/><use href="#p314" x="1147" y="1534"/><use href="#p150" x="1138" y="1402"/><use href="#p132" x="1226" y="1469"/><use href="#p864" x="1192" y="1438"/><use href="#p866" x="1204" y="1538"/><use href="#p238" x="1199" y="1422"/><use href="#p163" x="1182" y="1529"/><use href="#p30" x="1220" y="1529"/><use href="#p117" x="1142" y="1551"/><use href="#p834" x="1228" y="1522"/><use href="#p173" x="1214" y="1434"/><use href="#p869" x="1220" y="1417"/><use href="#p221" x="1136" y="1641"/><use href="#p330" x="1177" y="1635"/><use href="#p169" x="1212" y="1640"/><use href="#p833" x="1204" y="1555"/><use href="#p177" x="1179" y="1595"/><use href="#p871" x="1186" y="1511"/><use href="#p263" x="1219" y="1410"/><use href="#p238" x="1194" y="1563"/><use href="#p47" x="1135" y="1588"/></g>
<g fill="#8c8c8c"><use href="#p307" x="1197" y="1254"/><use href="#p65" x="1133" y="1206"/><use href="#p89" x="1168" y="1384"/><use href="#p780" x="1198" y="1392"/><use href="#p205" x="1168" y="1192"/><use href="#p836" x="1131" y="1232"/><use href="#p37" x="1200" y="1268"/><use href="#p852" x="1140" y="1316"/><use href="#p132" x="1151" y="1319"/><use href="#p158" x="1142" y="1228"/><use href="#p132" x="1207" y="1444"/><use href="#p859" x="1151" y="1465"/><use href="#p61" x="1228" y="1530"/><use href="#p59" x="1225" y="1610"/><use href="#p88" x="1200" y="1604"/><use href="#p154" x="1212" y="1506"/><use href="#p276" x="1186" y="1605"/><use href="#p851" x="1228" y="1529"/><use href="#p223" x="1140" y="1440"/><use href="#p73" x="1181" y="1599"/><use href="#p18" x="1153" y="1416"/><use href="#p162" x="1198" y="1498"/><use href="#p850" x="1216" y="1520"/><use href="#p862" x="1179" y="1554"/><use href="#p860" x="1140" y="1403"/><use href="#p43" x="1148" y="1423"/><use href="#p238" x="1216" y="1647"/><use href="#p858" x="1155" y="1507"/><use href="#p15" x="1233" y="1577"/><use href="#p244" x="1138" y="1464"/><use href="#p45" x="1198" y="1446"/><use href="#p28" x="1216" y="1447"/><use href="#p85" x="1178" y="1449"/><use href="#p133" x="1147" y="1476"/><use href="#p149" x="1206" y="1577"/><use href="#p863" x="1200" y="1499"/><use href="#p66" x="1137" y="1463"/><use href="#p88" x="1133" y="1445"/><use href="#p69" x="1144" y="1623"/><use href="#p264" x="1230" y="1599"/><use href="#p286" x="1195" y="1563"/><use href="#p91" x="1208" y="1629"/><use href="#p175" x="1171" y="1539"/></g>
<g fill="#7a7a7a"><use href="#p127" x="1210" y="1379"/><use href="#p66" x="1227" y="1309"/><use href="#p845" x="1149" y="1204"/><use href="#p84" x="1229" y="1363"/><use href="#p340" x="1134" y="1317"/><use href="#p326" x="1218" y="1188"/><use href="#p265" x="1150" y="1363"/><use href="#p70" x="1167" y="1303"/><use href="#p849" x="1144" y="1212"/><use href="#p89" x="1219" y="1215"/><use href="#p81" x="1162" y="1246"/><use href="#p165" x="1171" y="1190"/><use href="#p306" x="1213" y="1213"/><use href="#p181" x="1186" y="1363"/><use href="#p149" x="1150" y="1325"/><use href="#p2" x="1178" y="1388"/><use href="#p158" x="1162" y="1622"/><use href="#p788" x="1172" y="1501"/><use href="#p151" x="1196" y="1636"/><use href="#p32" x="1174" y="1436"/><use href="#p9" x="1174" y="1621"/><use href="#p277" x="1164" y="1432"/><use href="#p89" x="1187" y="1457"/><use href="#p861" x="1131" y="1602"/><use href="#p567" x="1183" y="1550"/><use href="#p65" x="1221" y="1613"/><use href="#p324" x="1213" y="1644"/><use href="#p59" x="1205" y="1549"/><use href="#p862" x="1146" y="1436"/><use href="#p26" x="1160" y="1549"/><use href="#p88" x="1206" y="1563"/><use href="#p274" x="1208" y="1410"/><use href="#p865" x="1149" y="1646"/><use href="#p25" x="1158" y="1427"/><use href="#p799" x="1177" y="1480"/><use href="#p35" x="1142" y="1439"/><use href="#p295" x="1198" y="1509"/><use href="#p265" x="1232" y="1482"/><use href="#p72" x="1172" y="1600"/><use href="#p124" x="1233" y="1438"/><use href="#p118" x="1158" y="1451"/><use href="#p149" x="1149" y="1513"/><use href="#p223" x="1198" y="1464"/><use href="#p138" x="1206" y="1446"/><use href="#p224" x="1227" y="1566"/><use href="#p32" x="1188" y="1480"/><use href="#p168" x="1233" y="1561"/><use href="#p91" x="1182" y="1484"/><use href="#p847" x="1178" y="1603"/><use href="#p197" x="1165" y="1501"/><use href="#p59" x="1138" y="1521"/><use href="#p302" x="1221" y="1499"/><use href="#p152" x="1173" y="1597"/><use href="#p34" x="1134" y="1437"/><use href="#p849" x="1135" y="1431"/><use href="#p46" x="1166" y="1476"/><use href="#p91" x="1230" y="1482"/></g>
<g fill="#ff8a8a"><use href="#p143" x="1165" y="1209"/><use href="#p62" x="1165" y="1339"/><use href="#p847" x="1204" y="1365"/><use href="#p263" x="1140" y="1239"/></g>
<g fill="#5b5b5b"><use href="#p15" x="1166" y="1329"/><use href="#p288" x="1132" y="1350"/><use href="#p117" x="1226" y="1253"/><use href="#p268" x="1160" y="1360"/><use href="#p117" x="1213" y="1362"/><use href="#p42" x="1186" y="1383"/><use href="#p73" x="1199" y="1299"/><use href="#p800" x="1155" y="1288"/><use href="#p135" x="1181" y="1207"/><use href="#p140" x="1165" y="1553"/><use href="#p299" x="1233" y="1563"/><use href="#p41" x="1130" y="1471"/><use href="#p831" x="1132" y="1442"/><use href="#p22" x="1147" y="1459"/><use href="#p836" x="1157" y="1614"/><use href="#p86" x="1141" y="1626"/><use href="#p177" x="1202" y="1536"/><use href="#p313" x="1165" y="1416"/><use href="#p221" x="1185" y="1630"/><use href="#p119" x="1173" y="1527"/><use href="#p201" x="1161" y="1629"/><use href="#p202" x="1144" y="1629"/><use href="#p4" x="1223" y="1618"/><use href="#p280" x="1220" y="1527"/><use href="#p25" x="1131" y="1449"/><use href="#p275" x="1231" y="1404"/><use href="#p145" x="1138" y="1424"/><use href="#p241" x="1225" y="1555"/><use href="#p314" x="1132" y="1440"/><use href="#p121" x="1189" y="1498"/><use href="#p867" x="1221" y="1457"/><use href="#p868" x="1148" y="1604"/><use href="#p208" x="1228" y="1601"/><use href="#p342" x="1166" y="1592"/><use href="#p39" x="1215" y="1541"/><use href="#p322" x="1135" y="1602"/><use href="#p230" x="1149" y="1445"/><use href="#p342" x="1135" y="1561"/><use href="#p204" x="1139" y="1547"/><use href="#p204" x="1213" y="1437"/><use href="#p115" x="1173" y="1599"/><use href="#p142" x="1169" y="1543"/><use href="#p62" x="1210" y="1429"/><use href="#p158" x="1180" y="1595"/><use href="#p18" x="1169" y="1594"/><use href="#p864" x="1182" y="1597"/><use href="#p55" x="1146" y="1435"/></g>
<g fill="#5cd4ff"><use href="#p843" x="1161" y="1198"/><use href="#p301" x="1200" y="1343"/><use href="#p564" x="1230" y="1229"/><use href="#p57" x="1227" y="1388"/><use href="#p121" x="1133" y="1340"/><use href="#p79" x="1205" y="1313"/><use href="#p121" x="1214" y="1272"/><use href="#p38" x="1219" y="1241"/><use href="#p242" x="1187" y="1270"/><use href="#p39" x="1206" y="1336"/><use href="#p835" x="1205" y="1298"/><use href="#p28" x="1151" y="1347"/><use href="#p169" x="1145" y="1188"/><use href="#p286" x="1156" y="1247"/><use href="#p57" x="1212" y="1276"/><use href="#p119" x="1183" y="1206"/><use href="#p85" x="1209" y="1302"/><use href="#p22" x="1155" y="1233"/><use href="#p172" x="1181" y="1196"/><use href="#p855" x="1154" y="1254"/><use href="#p75" x="1194" y="1357"/><use href="#p337" x="1181" y="1324"/><use href="#p860" x="1217" y="1458"/><use href="#p240" x="1216" y="1503"/><use href="#p88" x="1228" y="1496"/><use href="#p843" x="1133" y="1401"/><use href="#p158" x="1204" y="1546"/><use href="#p59" x="1153" y="1473"/><use href="#p778" x="1216" y="1608"/><use href="#p2" x="1149" y="1529"/><use href="#p59" x="1134" y="1465"/><use href="#p199" x="1183" y="1474"/><use href="#p119" x="1230" y="1493"/><use href="#p59" x="1132" y="1524"/><use href="#p283" x="1180" y="1435"/><use href="#p168" x="1133" y="1439"/><use href="#p68" x="1205" y="1415"/><use href="#p16" x="1225" y="1613"/><use href="#p16" x="1166" y="1540"/><use href="#p25" x="1176" y="1561"/><use href="#p38" x="1167" y="1469"/><use href="#p63" x="1141" y="1445"/><use href="#p18" x="1185" y="1424"/><use href="#p153" x="1155" y="1609"/><use href="#p235" x="1215" y="1615"/><use href="#p208" x="1159" y="1518"/><use href="#p208" x="1149" y="1496"/><use href="#p26" x="1229" y="1586"/><use href="#p132" x="1169" y="1637"/><use href="#p2" x="1223" y="1430"/><use href="#p119" x="1223" y="1603"/><use href="#p14" x="1151" y="1453"/><use href="#p14" x="1202" y="1518"/><use href="#p162" x="1174" y="1452"/><use href="#p34" x="1146" y="1422"/><use href="#p141" x="1157" y="1440"/><use href="#p22" x="1147" y="1472"/><use href="#p171" x="1175" y="1403"/><use href="#p89" x="1198" y="1447"/><use href="#p36" x="1173" y="1482"/><use href="#p224" x="1220" y="1627"/></g>
<g fill="#b05a5a"><use href="#p46" x="1230" y="1252"/><use href="#p857" x="1162" y="1369"/></g>
<g fill="#eb7878"><use href="#p49" x="1194" y="1283"/><use href="#p152" x="1152" y="1361"/></g>
<g fill="#3c8aac"><use href="#p48" x="1152" y="1385"/><use href="#p171" x="1196" y="1336"/><use href="#p241" x="1171" y="1268"/><use href="#p74" x="1147" y="1225"/><use href="#p270" x="1158" y="1300"/><use href="#p195" x="1159" y="1280"/><use href="#p172" x="1159" y="1320"/><use href="#p124" x="1132" y="1375"/><use href="#p134" x="1161" y="1323"/><use href="#p847" x="1154" y="1237"/><use href="#p177" x="1219" y="1291"/><use href="#p330" x="1143" y="1247"/><use href="#p91" x="1161" y="1224"/><use href="#p63" x="1151" y="1324"/><use href="#p848" x="1172" y="1338"/><use href="#p42" x="1226" y="1368"/><use href="#p850" x="1176" y="1227"/><use href="#p240" x="1192" y="1327"/><use href="#p81" x="1215" y="1364"/><use href="#p165" x="1219" y="1299"/><use href="#p854" x="1175" y="1394"/><use href="#p338" x="1200" y="1215"/><use href="#p160" x="1172" y="1379"/><use href="#p133" x="1175" y="1204"/><use href="#p36" x="1137" y="1252"/><use href="#p172" x="1154" y="1378"/><use href="#p320" x="1151" y="1474"/><use href="#p55" x="1183" y="1647"/><use href="#p221" x="1200" y="1583"/><use href="#p19" x="1189" y="1504"/><use href="#p287" x="1152" y="1571"/><use href="#p88" x="1134" y="1635"/><use href="#p171" x="1139" y="1640"/><use href="#p863" x="1199" y="1537"/><use href="#p42" x="1143" y="1432"/><use href="#p78" x="1210" y="1535"/><use href="#p39" x="1152" y="1547"/><use href="#p74" x="1217" y="1531"/><use href="#p223" x="1153" y="1452"/><use href="#p49" x="1208" y="1614"/><use href="#p269" x="1222" y="1606"/><use href="#p68" x="1187" y="1419"/><use href="#p62" x="1195" y="1447"/><use href="#p176" x="1189" y="1408"/><use href="#p39" x="1190" y="1543"/><use href="#p134" x="1144" y="1539"/><use href="#p50" x="1160" y="1447"/><use href="#p4" x="1178" y="1636"/><use href="#p338" x="1145" y="1438"/><use href="#p870" x="1215" y="1458"/><use href="#p130" x="1208" y="1567"/><use href="#p872" x="1176" y="1609"/><use href="#p85" x="1179" y="1554"/><use href="#p269" x="1211" y="1535"/><use href="#p872" x="1223" y="1637"/><use href="#p63" x="1221" y="1466"/><use href="#p29" x="1179" y="1425"/><use href="#p205" x="1215" y="1411"/><use href="#p14" x="1157" y="1423"/></g>
</g>
<clipPath id="c25"><rect x="1130.1" y="1166.5" width="104.5" height="481.9"/></clipPath>
<linearGradient id="g26" x1="0" y1="0" x2="0" y2="1"><stop offset="0.033" stop-color="#000000"/><stop offset="0.048" stop-color="#0f1216"/><stop offset="0.741" stop-color="#0f1216"/><stop offset="0.753" stop-color="#1e2328"/><stop offset="0.994" stop-color="#1e2328"/><stop offset="1.000" stop-color="#000000"/></linearGradient>
<rect x="1246.0" y="1166.5" width="104.0" height="481.9" fill="url(#g26)"/>
<g clip-path="url(#c26)" filter="url(#bl1)">
<g fill="#5b5b5b"><use href="#p64" x="1272" y="1354"/><use href="#p78" x="1284" y="1499"/><use href="#p135" x="1248" y="1300"/><use href="#p76" x="1263" y="1222"/><use href="#p146" x="1256" y="1433"/><use href="#p22" x="1256" y="1455"/><use href="#p25" x="1260" y="1197"/><use href="#p273" x="1254" y="1474"/><use href="#p178" x="1314" y="1211"/><use href="#p237" x="1269" y="1265"/><use href="#p169" x="1286" y="1209"/><use href="#p33" x="1325" y="1308"/><use href="#p274" x="1332" y="1384"/><use href="#p163" x="1319" y="1264"/><use href="#p72" x="1254" y="1467"/><use href="#p882" x="1285" y="1409"/><use href="#p236" x="1344" y="1276"/><use href="#p154" x="1297" y="1239"/><use href="#p780" x="1316" y="1261"/><use href="#p885" x="1306" y="1497"/><use href="#p834" x="1340" y="1485"/><use href="#p233" x="1282" y="1464"/><use href="#p69" x="1285" y="1233"/><use href="#p4" x="1308" y="1461"/><use href="#p14" x="1256" y="1339"/><use href="#p138" x="1329" y="1329"/><use href="#p37" x="1324" y="1286"/><use href="#p197" x="1331" y="1293"/><use href="#p853" x="1303" y="1411"/><use href="#p146" x="1278" y="1393"/><use href="#p27" x="1316" y="1402"/><use href="#p73" x="1259" y="1432"/><use href="#p37" x="1347" y="1459"/><use href="#p124" x="1256" y="1576"/><use href="#p288" x="1269" y="1590"/><use href="#p25" x="1333" y="1549"/><use href="#p787" x="1339" y="1557"/><use href="#p89" x="1291" y="1634"/><use href="#p171" x="1270" y="1537"/><use href="#p855" x="1326" y="1631"/><use href="#p75" x="1318" y="1641"/><use href="#p164" x="1273" y="1602"/><use href="#p72" x="1264" y="1640"/><use href="#p893" x="1326" y="1567"/><use href="#p240" x="1279" y="1545"/></g>
<g fill="#7a7a7a"><use href="#p64" x="1306" y="1380"/><use href="#p846" x="1263" y="1443"/><use href="#p72" x="1314" y="1295"/><use href="#p343" x="1268" y="1495"/><use href="#p145" x="1285" y="1367"/><use href="#p799" x="1296" y="1256"/><use href="#p800" x="1313" y="1497"/><use href="#p286" x="1328" y="1253"/><use href="#p11" x="1283" y="1368"/><use href="#p877" x="1309" y="1486"/><use href="#p43" x="1302" y="1431"/><use href="#p849" x="1283" y="1443"/><use href="#p879" x="1322" y="1330"/><use href="#p136" x="1301" y="1512"/><use href="#p299" x="1342" y="1345"/><use href="#p43" x="1348" y="1230"/><use href="#p175" x="1264" y="1245"/><use href="#p62" x="1284" y="1362"/><use href="#p117" x="1253" y="1265"/><use href="#p871" x="1336" y="1235"/><use href="#p798" x="1342" y="1421"/><use href="#p168" x="1325" y="1232"/><use href="#p72" x="1343" y="1251"/><use href="#p52" x="1260" y="1199"/><use href="#p856" x="1317" y="1263"/><use href="#p89" x="1305" y="1408"/><use href="#p42" x="1274" y="1376"/><use href="#p76" x="1294" y="1346"/><use href="#p157" x="1267" y="1487"/><use href="#p137" x="1286" y="1494"/><use href="#p149" x="1304" y="1189"/><use href="#p888" x="1279" y="1573"/><use href="#p74" x="1308" y="1610"/><use href="#p119" x="1345" y="1621"/><use href="#p328" x="1316" y="1568"/><use href="#p138" x="1308" y="1568"/><use href="#p839" x="1260" y="1575"/><use href="#p79" x="1322" y="1580"/><use href="#p4" x="1248" y="1556"/><use href="#p177" x="1254" y="1584"/><use href="#p79" x="1310" y="1540"/><use href="#p221" x="1344" y="1609"/><use href="#p157" x="1273" y="1578"/></g>
<g fill="#3c8aac"><use href="#p64" x="1287" y="1512"/><use href="#p41" x="1334" y="1397"/><use href="#p50" x="1306" y="1283"/><use href="#p873" x="1283" y="1513"/><use href="#p267" x="1301" y="1420"/><use href="#p50" x="1306" y="1393"/><use href="#p26" x="1322" y="1193"/><use href="#p27" x="1275" y="1397"/><use href="#p90" x="1255" y="1315"/><use href="#p26" x="1317" y="1454"/><use href="#p130" x="1330" y="1491"/><use href="#p293" x="1292" y="1322"/><use href="#p288" x="1256" y="1191"/><use href="#p276" x="1258" y="1377"/><use href="#p35" x="1320" y="1272"/><use href="#p27" x="1309" y="1308"/><use href="#p88" x="1277" y="1392"/><use href="#p811" x="1310" y="1192"/><use href="#p181" x="1310" y="1303"/><use href="#p115" x="1281" y="1496"/><use href="#p883" x="1328" y="1475"/><use href="#p877" x="1246" y="1343"/><use href="#p233" x="1317" y="1296"/><use href="#p38" x="1303" y="1462"/><use href="#p16" x="1251" y="1356"/><use href="#p886" x="1305" y="1446"/><use href="#p56" x="1329" y="1423"/><use href="#p93" x="1289" y="1493"/><use href="#p333" x="1263" y="1245"/><use href="#p28" x="1350" y="1264"/><use href="#p156" x="1251" y="1429"/><use href="#p70" x="1277" y="1215"/><use href="#p38" x="1272" y="1389"/><use href="#p142" x="1281" y="1274"/><use href="#p236" x="1343" y="1514"/><use href="#p56" x="1307" y="1327"/><use href="#p63" x="1301" y="1596"/><use href="#p206" x="1331" y="1527"/><use href="#p172" x="1289" y="1608"/><use href="#p152" x="1273" y="1627"/><use href="#p236" x="1336" y="1634"/><use href="#p37" x="1346" y="1572"/><use href="#p121" x="1324" y="1577"/><use href="#p64" x="1280" y="1562"/><use href="#p144" x="1315" y="1552"/><use href="#p21" x="1253" y="1572"/><use href="#p862" x="1343" y="1619"/><use href="#p33" x="1257" y="1540"/><use href="#p117" x="1266" y="1553"/><use href="#p60" x="1338" y="1639"/><use href="#p891" x="1261" y="1582"/><use href="#p45" x="1336" y="1602"/><use href="#p22" x="1252" y="1634"/><use href="#p18" x="1284" y="1558"/><use href="#p154" x="1308" y="1532"/><use href="#p830" x="1251" y="1555"/></g>
<g fill="#5cd4ff"><use href="#p133" x="1296" y="1290"/><use href="#p161" x="1302" y="1425"/><use href="#p17" x="1255" y="1423"/><use href="#p239" x="1314" y="1319"/><use href="#p264" x="1348" y="1483"/><use href="#p118" x="1262" y="1520"/><use href="#p266" x="1346" y="1496"/><use href="#p322" x="1348" y="1400"/><use href="#p181" x="1275" y="1253"/><use href="#p163" x="1284" y="1390"/><use href="#p875" x="1342" y="1389"/><use href="#p119" x="1344" y="1506"/><use href="#p266" x="1317" y="1199"/><use href="#p59" x="1265" y="1317"/><use href="#p830" x="1332" y="1523"/><use href="#p118" x="1266" y="1305"/><use href="#p83" x="1329" y="1347"/><use href="#p881" x="1280" y="1360"/><use href="#p41" x="1315" y="1292"/><use href="#p180" x="1312" y="1306"/><use href="#p121" x="1252" y="1197"/><use href="#p28" x="1268" y="1266"/><use href="#p230" x="1305" y="1250"/><use href="#p567" x="1290" y="1518"/><use href="#p93" x="1257" y="1438"/><use href="#p854" x="1263" y="1228"/><use href="#p785" x="1320" y="1410"/><use href="#p158" x="1347" y="1240"/><use href="#p142" x="1275" y="1310"/><use href="#p313" x="1261" y="1431"/><use href="#p201" x="1334" y="1292"/><use href="#p196" x="1263" y="1419"/><use href="#p124" x="1345" y="1483"/><use href="#p130" x="1285" y="1434"/><use href="#p53" x="1283" y="1361"/><use href="#p223" x="1292" y="1200"/><use href="#p141" x="1298" y="1446"/><use href="#p64" x="1306" y="1360"/><use href="#p27" x="1272" y="1490"/><use href="#p163" x="1287" y="1433"/><use href="#p277" x="1254" y="1265"/><use href="#p298" x="1280" y="1623"/><use href="#p890" x="1271" y="1612"/><use href="#p861" x="1344" y="1546"/><use href="#p229" x="1301" y="1636"/><use href="#p195" x="1308" y="1620"/><use href="#p275" x="1333" y="1562"/><use href="#p40" x="1284" y="1587"/><use href="#p204" x="1319" y="1633"/><use href="#p846" x="1306" y="1601"/><use href="#p137" x="1339" y="1615"/><use href="#p46" x="1284" y="1607"/><use href="#p68" x="1287" y="1532"/><use href="#p176" x="1332" y="1637"/><use href="#p171" x="1323" y="1552"/><use href="#p894" x="1266" y="1612"/><use href="#p150" x="1325" y="1644"/></g>
<g fill="#50b9e6"><use href="#p239" x="1274" y="1422"/><use href="#p322" x="1337" y="1245"/><use href="#p37" x="1308" y="1492"/><use href="#p36" x="1276" y="1338"/><use href="#p93" x="1301" y="1346"/><use href="#p147" x="1344" y="1332"/><use href="#p137" x="1276" y="1212"/><use href="#p874" x="1304" y="1336"/><use href="#p132" x="1343" y="1263"/><use href="#p120" x="1308" y="1241"/><use href="#p876" x="1319" y="1331"/><use href="#p871" x="1254" y="1515"/><use href="#p202" x="1332" y="1369"/><use href="#p59" x="1349" y="1239"/><use href="#p231" x="1348" y="1500"/><use href="#p11" x="1346" y="1418"/><use href="#p878" x="1255" y="1326"/><use href="#p137" x="1338" y="1311"/><use href="#p55" x="1254" y="1453"/><use href="#p146" x="1266" y="1414"/><use href="#p27" x="1276" y="1322"/><use href="#p880" x="1262" y="1375"/><use href="#p240" x="1269" y="1363"/><use href="#p116" x="1258" y="1351"/><use href="#p283" x="1318" y="1222"/><use href="#p134" x="1297" y="1510"/><use href="#p45" x="1316" y="1516"/><use href="#p306" x="1298" y="1409"/><use href="#p884" x="1283" y="1285"/><use href="#p23" x="1288" y="1384"/><use href="#p146" x="1345" y="1190"/><use href="#p171" x="1262" y="1322"/><use href="#p866" x="1259" y="1239"/><use href="#p36" x="1277" y="1269"/><use href="#p338" x="1332" y="1316"/><use href="#p286" x="1253" y="1316"/><use href="#p887" x="1314" y="1284"/><use href="#p41" x="1276" y="1427"/><use href="#p20" x="1289" y="1353"/><use href="#p2" x="1247" y="1417"/><use href="#p873" x="1306" y="1340"/><use href="#p170" x="1305" y="1269"/><use href="#p45" x="1264" y="1300"/><use href="#p74" x="1328" y="1624"/><use href="#p69" x="1312" y="1565"/><use href="#p146" x="1251" y="1604"/><use href="#p527" x="1296" y="1615"/><use href="#p19" x="1250" y="1646"/><use href="#p889" x="1290" y="1626"/><use href="#p4" x="1323" y="1603"/><use href="#p297" x="1266" y="1527"/><use href="#p52" x="1336" y="1611"/><use href="#p70" x="1264" y="1557"/><use href="#p43" x="1258" y="1577"/><use href="#p93" x="1335" y="1603"/><use href="#p276" x="1297" y="1615"/><use href="#p143" x="1333" y="1578"/><use href="#p836" x="1326" y="1542"/><use href="#p868" x="1344" y="1543"/><use href="#p290" x="1276" y="1528"/><use href="#p118" x="1259" y="1643"/><use href="#p134" x="1248" y="1587"/><use href="#p179" x="1308" y="1626"/><use href="#p57" x="1318" y="1556"/><use href="#p24" x="1285" y="1555"/><use href="#p892" x="1348" y="1629"/><use href="#p143" x="1257" y="1564"/><use href="#p848" x="1269" y="1546"/></g>
<g fill="#8c8c8c"><use href="#p130" x="1301" y="1221"/><use href="#p68" x="1274" y="1457"/><use href="#p343" x="1298" y="1284"/><use href="#p43" x="1298" y="1319"/><use href="#p46" x="1248" y="1395"/><use href="#p306" x="1321" y="1483"/><use href="#p316" x="1276" y="1504"/><use href="#p118" x="1301" y="1242"/><use href="#p84" x="1280" y="1223"/><use href="#p159" x="1318" y="1283"/><use href="#p769" x="1336" y="1403"/><use href="#p29" x="1303" y="1351"/><use href="#p301" x="1284" y="1447"/><use href="#p130" x="1295" y="1424"/><use href="#p868" x="1273" y="1436"/><use href="#p265" x="1258" y="1322"/><use href="#p18" x="1318" y="1195"/><use href="#p55" x="1293" y="1444"/><use href="#p323" x="1319" y="1262"/><use href="#p132" x="1271" y="1469"/><use href="#p281" x="1278" y="1493"/><use href="#p275" x="1324" y="1483"/><use href="#p527" x="1331" y="1283"/><use href="#p277" x="1323" y="1318"/><use href="#p2" x="1327" y="1226"/><use href="#p66" x="1255" y="1526"/><use href="#p15" x="1335" y="1558"/><use href="#p286" x="1348" y="1587"/><use href="#p857" x="1304" y="1533"/><use href="#p338" x="1271" y="1574"/><use href="#p882" x="1284" y="1565"/><use href="#p179" x="1347" y="1623"/><use href="#p62" x="1325" y="1594"/><use href="#p160" x="1254" y="1630"/><use href="#p29" x="1271" y="1537"/><use href="#p147" x="1301" y="1606"/><use href="#p159" x="1316" y="1585"/><use href="#p322" x="1307" y="1542"/><use href="#p46" x="1278" y="1570"/><use href="#p48" x="1246" y="1571"/><use href="#p37" x="1345" y="1594"/><use href="#p166" x="1335" y="1532"/><use href="#p319" x="1287" y="1547"/></g>
</g>
<clipPath id="c26"><rect x="1246.0" y="1166.5" width="104.0" height="481.9"/></clipPath>
<ellipse cx="585.3" cy="442.7" rx="7" ry="8" transform="rotate(20 585.3 442.7)" fill="#b93cb9" filter="url(#bl1)"/>
<ellipse cx="877.2" cy="403.7" rx="5" ry="5" transform="rotate(0 877.2 403.7)" fill="#64e1e1" filter="url(#bl1)"/>
<ellipse cx="953.2" cy="1443.5" rx="6" ry="9" transform="rotate(-50 953.2 1443.5)" fill="#f06e78" filter="url(#bl1)"/>
<ellipse cx="948.2" cy="1471.5" rx="3.5" ry="11" transform="rotate(-20 948.2 1471.5)" fill="#46b4e1" filter="url(#bl1)"/>
<ellipse cx="988.2" cy="1466.5" rx="3" ry="10" transform="rotate(10 988.2 1466.5)" fill="#46b4e1" filter="url(#bl1)"/>
<ellipse cx="1196.1" cy="1175.5" rx="7" ry="6" transform="rotate(0 1196.1 1175.5)" fill="#ffaf46" filter="url(#bl1)"/>
<ellipse cx="1217.1" cy="1193.5" rx="6" ry="5" transform="rotate(0 1217.1 1193.5)" fill="#faa046" filter="url(#bl1)"/>
<ellipse cx="1271.0" cy="1179.5" rx="7" ry="7" transform="rotate(0 1271.0 1179.5)" fill="#ffb450" filter="url(#bl1)"/>
<ellipse cx="1304.0" cy="1222.5" rx="5" ry="6" transform="rotate(0 1304.0 1222.5)" fill="#fadcc8" filter="url(#bl1)"/>
<ellipse cx="817.2" cy="1201.5" rx="5" ry="9" transform="rotate(0 817.2 1201.5)" fill="#f0b45a" filter="url(#bl1)"/>
<ellipse cx="993.2" cy="1178.5" rx="5" ry="3" transform="rotate(0 993.2 1178.5)" fill="#fac85a" filter="url(#bl1)"/>
<ellipse cx="993.2" cy="1194.5" rx="5" ry="3" transform="rotate(0 993.2 1194.5)" fill="#fac85a" filter="url(#bl1)"/>
<defs><ellipse id="p0" rx="4" ry="7.5" transform="rotate(15)"/><ellipse id="p1" rx="4" ry="9.5" transform="rotate(0)"/><ellipse id="p2" rx="5" ry="7.5" transform="rotate(30)"/><ellipse id="p3" rx="4" ry="10" transform="rotate(0)"/><ellipse id="p4" rx="5" ry="8" transform="rotate(0)"/><ellipse id="p5" rx="4" ry="9" transform="rotate(15)"/><ellipse id="p6" rx="4" ry="11" transform="rotate(0)"/><ellipse id="p7" rx="4" ry="10.5" transform="rotate(30)"/><ellipse id="p8" rx="4" ry="8.5" transform="rotate(0)"/><ellipse id="p9" rx="5" ry="10" transform="rotate(30)"/><ellipse id="p10" rx="4" ry="9" transform="rotate(150)"/><ellipse id="p11" rx="5" ry="8.5" transform="rotate(0)"/><ellipse id="p12" rx="4" ry="8" transform="rotate(0)"/><ellipse id="p13" rx="4" ry="9" transform="rotate(165)"/><ellipse id="p14" rx="5" ry="8.5" transform="rotate(165)"/><ellipse id="p15" rx="5" ry="9" transform="rotate(0)"/><ellipse id="p16" rx="5" ry="10" transform="rotate(0)"/><ellipse id="p17" rx="5" ry="11" transform="rotate(15)"/><ellipse id="p18" rx="6" ry="8.5" transform="rotate(0)"/><ellipse id="p19" rx="5" ry="11.5" transform="rotate(150)"/><ellipse id="p20" rx="7" ry="11" transform="rotate(15)"/><ellipse id="p21" rx="7" ry="12" transform="rotate(0)"/><ellipse id="p22" rx="6" ry="11.5" transform="rotate(165)"/><ellipse id="p23" rx="7" ry="7.5" transform="rotate(0)"/><ellipse id="p24" rx="5" ry="12" transform="rotate(135)"/><ellipse id="p25" rx="6" ry="9" transform="rotate(0)"/><ellipse id="p26" rx="5" ry="9.5" transform="rotate(15)"/><ellipse id="p27" rx="6" ry="9.5" transform="rotate(0)"/><ellipse id="p28" rx="5" ry="11.5" transform="rotate(165)"/><ellipse id="p29" rx="6" ry="7" transform="rotate(0)"/><ellipse id="p30" rx="5" ry="9.5" transform="rotate(30)"/><ellipse id="p31" rx="6" ry="7.5" transform="rotate(150)"/><ellipse id="p32" rx="7" ry="11" transform="rotate(30)"/><ellipse id="p33" rx="5" ry="7" transform="rotate(165)"/><ellipse id="p34" rx="7" ry="8.5" transform="rotate(15)"/><ellipse id="p35" rx="5" ry="10.5" transform="rotate(165)"/><ellipse id="p36" rx="6" ry="11.5" transform="rotate(45)"/><ellipse id="p37" rx="5" ry="9" transform="rotate(165)"/><ellipse id="p38" rx="6" ry="12" transform="rotate(165)"/><ellipse id="p39" rx="6" ry="11" transform="rotate(165)"/><ellipse id="p40" rx="7" ry="11.5" transform="rotate(165)"/><ellipse id="p41" rx="6" ry="11" transform="rotate(0)"/><ellipse id="p42" rx="6" ry="9.5" transform="rotate(165)"/><ellipse id="p43" rx="6" ry="8" transform="rotate(165)"/><ellipse id="p44" rx="6" ry="10" transform="rotate(30)"/><ellipse id="p45" rx="6" ry="7.5" transform="rotate(0)"/><ellipse id="p46" rx="5" ry="10.5" transform="rotate(15)"/><ellipse id="p47" rx="5" ry="7.5" transform="rotate(0)"/><ellipse id="p48" rx="6" ry="8" transform="rotate(0)"/><ellipse id="p49" rx="6" ry="10" transform="rotate(0)"/><ellipse id="p50" rx="6" ry="7.5" transform="rotate(15)"/><ellipse id="p51" rx="5" ry="12" transform="rotate(0)"/><ellipse id="p52" rx="6" ry="9" transform="rotate(15)"/><ellipse id="p53" rx="7" ry="9.5" transform="rotate(0)"/><ellipse id="p54" rx="6" ry="10.5" transform="rotate(15)"/><ellipse id="p55" rx="6" ry="11" transform="rotate(15)"/><ellipse id="p56" rx="5" ry="8" transform="rotate(165)"/><ellipse id="p57" rx="5" ry="11" transform="rotate(150)"/><ellipse id="p58" rx="6" ry="11" transform="rotate(30)"/><ellipse id="p59" rx="5" ry="8" transform="rotate(15)"/><ellipse id="p60" rx="7" ry="10.5" transform="rotate(0)"/><ellipse id="p61" rx="7" ry="9" transform="rotate(0)"/><ellipse id="p62" rx="6" ry="10" transform="rotate(165)"/><ellipse id="p63" rx="6" ry="9.5" transform="rotate(15)"/><ellipse id="p64" rx="5" ry="8.5" transform="rotate(15)"/><ellipse id="p65" rx="7" ry="7.5" transform="rotate(165)"/><ellipse id="p66" rx="5" ry="9.5" transform="rotate(165)"/><ellipse id="p67" rx="5" ry="9.5" transform="rotate(0)"/><ellipse id="p68" rx="5" ry="11.5" transform="rotate(15)"/><ellipse id="p69" rx="7" ry="10.5" transform="rotate(30)"/><ellipse id="p70" rx="6" ry="9" transform="rotate(165)"/><ellipse id="p71" rx="5" ry="12" transform="rotate(15)"/><ellipse id="p72" rx="5" ry="11" transform="rotate(0)"/><ellipse id="p73" rx="6" ry="10.5" transform="rotate(0)"/><ellipse id="p74" rx="6" ry="8" transform="rotate(15)"/><ellipse id="p75" rx="5" ry="10.5" transform="rotate(0)"/><ellipse id="p76" rx="7" ry="12" transform="rotate(15)"/><ellipse id="p77" rx="5" ry="7" transform="rotate(0)"/><ellipse id="p78" rx="5" ry="9" transform="rotate(150)"/><ellipse id="p79" rx="6" ry="12" transform="rotate(0)"/><ellipse id="p80" rx="7" ry="9" transform="rotate(150)"/><ellipse id="p81" rx="6" ry="11.5" transform="rotate(0)"/><ellipse id="p82" rx="7" ry="8" transform="rotate(0)"/><ellipse id="p83" rx="6" ry="8" transform="rotate(30)"/><ellipse id="p84" rx="6" ry="10.5" transform="rotate(165)"/><ellipse id="p85" rx="5" ry="10" transform="rotate(15)"/><ellipse id="p86" rx="7" ry="10" transform="rotate(15)"/><ellipse id="p87" rx="7" ry="10" transform="rotate(0)"/><ellipse id="p88" rx="5" ry="11" transform="rotate(165)"/><ellipse id="p89" rx="6" ry="10" transform="rotate(15)"/><ellipse id="p90" rx="6" ry="10.5" transform="rotate(150)"/><ellipse id="p91" rx="5" ry="10" transform="rotate(165)"/><ellipse id="p92" rx="5" ry="12" transform="rotate(30)"/><ellipse id="p93" rx="5" ry="9" transform="rotate(15)"/><ellipse id="p94" rx="2" ry="7.5" transform="rotate(15)"/><ellipse id="p95" rx="2" ry="12" transform="rotate(0)"/><ellipse id="p96" rx="2" ry="8" transform="rotate(15)"/><ellipse id="p97" rx="1" ry="6.5" transform="rotate(15)"/><ellipse id="p98" rx="1" ry="7.5" transform="rotate(150)"/><ellipse id="p99" rx="1" ry="10.5" transform="rotate(0)"/><ellipse id="p100" rx="1" ry="10" transform="rotate(15)"/><ellipse id="p101" rx="1" ry="9.5" transform="rotate(0)"/><ellipse id="p102" rx="1" ry="8" transform="rotate(165)"/><ellipse id="p103" rx="1" ry="11" transform="rotate(30)"/><ellipse id="p104" rx="1" ry="11.5" transform="rotate(0)"/><ellipse id="p105" rx="1" ry="11.5" transform="rotate(15)"/><ellipse id="p106" rx="2" ry="8" transform="rotate(150)"/><ellipse id="p107" rx="2" ry="11" transform="rotate(0)"/><ellipse id="p108" rx="1" ry="7.5" transform="rotate(0)"/><ellipse id="p109" rx="2" ry="7" transform="rotate(165)"/><ellipse id="p110" rx="2" ry="11" transform="rotate(15)"/><ellipse id="p111" rx="1" ry="10" transform="rotate(0)"/><ellipse id="p112" rx="2" ry="8.5" transform="rotate(0)"/><ellipse id="p113" rx="1" ry="7" transform="rotate(150)"/><ellipse id="p114" rx="1" ry="9" transform="rotate(15)"/><ellipse id="p115" rx="7" ry="11" transform="rotate(0)"/><ellipse id="p116" rx="5" ry="10" transform="rotate(150)"/><ellipse id="p117" rx="5" ry="7.5" transform="rotate(15)"/><ellipse id="p118" rx="5" ry="7.5" transform="rotate(150)"/><ellipse id="p119" rx="5" ry="8" transform="rotate(150)"/><ellipse id="p120" rx="6" ry="7" transform="rotate(15)"/><ellipse id="p121" rx="5" ry="7.5" transform="rotate(165)"/><ellipse id="p122" rx="5" ry="6" transform="rotate(165)"/><ellipse id="p123" rx="6" ry="6.5" transform="rotate(0)"/><ellipse id="p124" rx="6" ry="7.5" transform="rotate(30)"/><ellipse id="p125" rx="5" ry="6.5" transform="rotate(0)"/><ellipse id="p126" rx="6" ry="6.5" transform="rotate(165)"/><ellipse id="p127" rx="5" ry="7" transform="rotate(15)"/><ellipse id="p128" rx="5" ry="6.5" transform="rotate(165)"/><ellipse id="p129" rx="7" ry="9.5" transform="rotate(150)"/><ellipse id="p130" rx="6" ry="8.5" transform="rotate(15)"/><ellipse id="p131" rx="7" ry="10" transform="rotate(30)"/><ellipse id="p132" rx="6" ry="8" transform="rotate(150)"/><ellipse id="p133" rx="6" ry="8.5" transform="rotate(30)"/><ellipse id="p134" rx="6" ry="7.5" transform="rotate(165)"/><ellipse id="p135" rx="6" ry="7" transform="rotate(165)"/><ellipse id="p136" rx="6" ry="10.5" transform="rotate(135)"/><ellipse id="p137" rx="7" ry="8.5" transform="rotate(0)"/><ellipse id="p138" rx="5" ry="9.5" transform="rotate(150)"/><ellipse id="p139" rx="7" ry="8.5" transform="rotate(165)"/><ellipse id="p140" rx="7" ry="7.5" transform="rotate(15)"/><ellipse id="p141" rx="7" ry="11.5" transform="rotate(0)"/><ellipse id="p142" rx="5" ry="11.5" transform="rotate(0)"/><ellipse id="p143" rx="6" ry="10" transform="rotate(150)"/><ellipse id="p144" rx="7" ry="8" transform="rotate(165)"/><ellipse id="p145" rx="6" ry="11.5" transform="rotate(15)"/><ellipse id="p146" rx="5" ry="12" transform="rotate(165)"/><ellipse id="p147" rx="6" ry="9" transform="rotate(150)"/><ellipse id="p148" rx="6" ry="8.5" transform="rotate(150)"/><ellipse id="p149" rx="6" ry="8.5" transform="rotate(165)"/><ellipse id="p150" rx="6" ry="12" transform="rotate(30)"/><ellipse id="p151" rx="5" ry="7" transform="rotate(150)"/><ellipse id="p152" rx="7" ry="9.5" transform="rotate(165)"/><ellipse id="p153" rx="6" ry="12" transform="rotate(150)"/><ellipse id="p154" rx="7" ry="10" transform="rotate(165)"/><ellipse id="p155" rx="7" ry="12" transform="rotate(165)"/><ellipse id="p156" rx="5" ry="8" transform="rotate(30)"/><ellipse id="p157" rx="7" ry="8" transform="rotate(15)"/><ellipse id="p158" rx="5" ry="10.5" transform="rotate(150)"/><ellipse id="p159" rx="7" ry="10.5" transform="rotate(165)"/><ellipse id="p160" rx="6" ry="11.5" transform="rotate(150)"/><ellipse id="p161" rx="7" ry="7" transform="rotate(15)"/><ellipse id="p162" rx="5" ry="7" transform="rotate(30)"/><ellipse id="p163" rx="5" ry="8.5" transform="rotate(150)"/><ellipse id="p164" rx="7" ry="9" transform="rotate(165)"/><ellipse id="p165" rx="6" ry="12" transform="rotate(15)"/><ellipse id="p166" rx="6" ry="7" transform="rotate(30)"/><ellipse id="p167" rx="7" ry="7.5" transform="rotate(150)"/><ellipse id="p168" rx="7" ry="7.5" transform="rotate(30)"/><ellipse id="p169" rx="7" ry="10" transform="rotate(150)"/><ellipse id="p170" rx="5" ry="10.5" transform="rotate(30)"/><ellipse id="p171" rx="6" ry="11.5" transform="rotate(30)"/><ellipse id="p172" rx="7" ry="11.5" transform="rotate(15)"/><ellipse id="p173" rx="6" ry="10" transform="rotate(45)"/><ellipse id="p174" rx="6" ry="9.5" transform="rotate(30)"/><ellipse id="p175" rx="7" ry="11" transform="rotate(150)"/><ellipse id="p176" rx="7" ry="10.5" transform="rotate(15)"/><ellipse id="p177" rx="5" ry="9" transform="rotate(30)"/><ellipse id="p178" rx="7" ry="8.5" transform="rotate(30)"/><ellipse id="p179" rx="7" ry="8.5" transform="rotate(150)"/><ellipse id="p180" rx="7" ry="7" transform="rotate(0)"/><ellipse id="p181" rx="7" ry="9" transform="rotate(15)"/><ellipse id="p182" rx="3" ry="5" transform="rotate(15)"/><ellipse id="p183" rx="3" ry="3.5" transform="rotate(15)"/><ellipse id="p184" rx="2" ry="4" transform="rotate(150)"/><ellipse id="p185" rx="2" ry="5" transform="rotate(15)"/><ellipse id="p186" rx="3" ry="5" transform="rotate(0)"/><ellipse id="p187" rx="3" ry="4" transform="rotate(15)"/><ellipse id="p188" rx="3" ry="3.5" transform="rotate(0)"/><ellipse id="p189" rx="6" ry="6" transform="rotate(0)"/><ellipse id="p190" rx="6" ry="5" transform="rotate(0)"/><ellipse id="p191" rx="6" ry="6.5" transform="rotate(15)"/><ellipse id="p192" rx="5" ry="6" transform="rotate(15)"/><ellipse id="p193" rx="5" ry="6.5" transform="rotate(30)"/><ellipse id="p194" rx="6" ry="6" transform="rotate(165)"/><ellipse id="p195" rx="6" ry="7" transform="rotate(150)"/><ellipse id="p196" rx="5" ry="11.5" transform="rotate(30)"/><ellipse id="p197" rx="7" ry="7" transform="rotate(165)"/><ellipse id="p198" rx="7" ry="10.5" transform="rotate(150)"/><ellipse id="p199" rx="7" ry="7.5" transform="rotate(45)"/><ellipse id="p200" rx="7" ry="9.5" transform="rotate(30)"/><ellipse id="p201" rx="7" ry="8" transform="rotate(45)"/><ellipse id="p202" rx="7" ry="11.5" transform="rotate(150)"/><ellipse id="p203" rx="7" ry="9.5" transform="rotate(15)"/><ellipse id="p204" rx="7" ry="11" transform="rotate(165)"/><ellipse id="p205" rx="6" ry="9.5" transform="rotate(150)"/><ellipse id="p206" rx="6" ry="10.5" transform="rotate(30)"/><ellipse id="p207" rx="6" ry="7.5" transform="rotate(45)"/><ellipse id="p208" rx="5" ry="11" transform="rotate(30)"/><ellipse id="p209" rx="6" ry="5.5" transform="rotate(15)"/><ellipse id="p210" rx="6" ry="5.5" transform="rotate(150)"/><ellipse id="p211" rx="5" ry="5" transform="rotate(15)"/><ellipse id="p212" rx="5" ry="5.5" transform="rotate(135)"/><ellipse id="p213" rx="5" ry="6.5" transform="rotate(15)"/><ellipse id="p214" rx="6" ry="5.5" transform="rotate(0)"/><ellipse id="p215" rx="5" ry="5.5" transform="rotate(165)"/><ellipse id="p216" rx="6" ry="5.5" transform="rotate(165)"/><ellipse id="p217" rx="6" ry="6" transform="rotate(30)"/><ellipse id="p218" rx="5" ry="5.5" transform="rotate(15)"/><ellipse id="p219" rx="6" ry="6" transform="rotate(15)"/><ellipse id="p220" rx="7" ry="8" transform="rotate(150)"/><ellipse id="p221" rx="5" ry="10.5" transform="rotate(135)"/><ellipse id="p222" rx="7" ry="10.5" transform="rotate(120)"/><ellipse id="p223" rx="5" ry="7.5" transform="rotate(135)"/><ellipse id="p224" rx="6" ry="8" transform="rotate(135)"/><ellipse id="p225" rx="6" ry="7.5" transform="rotate(120)"/><ellipse id="p226" rx="5" ry="8.5" transform="rotate(135)"/><ellipse id="p227" rx="7" ry="8.5" transform="rotate(135)"/><ellipse id="p228" rx="7" ry="8.5" transform="rotate(120)"/><ellipse id="p229" rx="6" ry="12" transform="rotate(135)"/><ellipse id="p230" rx="5" ry="9" transform="rotate(135)"/><ellipse id="p231" rx="6" ry="9.5" transform="rotate(135)"/><ellipse id="p232" rx="7" ry="9" transform="rotate(135)"/><ellipse id="p233" rx="5" ry="11.5" transform="rotate(135)"/><ellipse id="p234" rx="5" ry="10.5" transform="rotate(120)"/><ellipse id="p235" rx="6" ry="7" transform="rotate(135)"/><ellipse id="p236" rx="6" ry="8.5" transform="rotate(135)"/><ellipse id="p237" rx="6" ry="10" transform="rotate(135)"/><ellipse id="p238" rx="5" ry="8" transform="rotate(135)"/><ellipse id="p239" rx="5" ry="11" transform="rotate(135)"/><ellipse id="p240" rx="5" ry="9.5" transform="rotate(135)"/><ellipse id="p241" rx="6" ry="11" transform="rotate(150)"/><ellipse id="p242" rx="6" ry="9" transform="rotate(105)"/><ellipse id="p243" rx="6" ry="9" transform="rotate(135)"/><ellipse id="p244" rx="7" ry="8" transform="rotate(30)"/><ellipse id="p245" rx="1" ry="9" transform="rotate(30)"/><ellipse id="p246" rx="2" ry="5.5" transform="rotate(15)"/><ellipse id="p247" rx="1" ry="9" transform="rotate(0)"/><ellipse id="p248" rx="1" ry="7" transform="rotate(165)"/><ellipse id="p249" rx="1" ry="8" transform="rotate(135)"/><ellipse id="p250" rx="1" ry="6" transform="rotate(0)"/><ellipse id="p251" rx="2" ry="8" transform="rotate(135)"/><ellipse id="p252" rx="1" ry="7" transform="rotate(15)"/><ellipse id="p253" rx="1" ry="9" transform="rotate(150)"/><ellipse id="p254" rx="1" ry="5" transform="rotate(150)"/><ellipse id="p255" rx="1" ry="9" transform="rotate(135)"/><ellipse id="p256" rx="1" ry="6.5" transform="rotate(150)"/><ellipse id="p257" rx="1" ry="5.5" transform="rotate(165)"/><ellipse id="p258" rx="1" ry="6" transform="rotate(30)"/><ellipse id="p259" rx="2" ry="7" transform="rotate(135)"/><ellipse id="p260" rx="2" ry="10" transform="rotate(0)"/><ellipse id="p261" rx="1" ry="10" transform="rotate(120)"/><ellipse id="p262" rx="5" ry="7" transform="rotate(105)"/><ellipse id="p263" rx="6" ry="8.5" transform="rotate(105)"/><ellipse id="p264" rx="5" ry="9" transform="rotate(90)"/><ellipse id="p265" rx="6" ry="10.5" transform="rotate(45)"/><ellipse id="p266" rx="7" ry="10" transform="rotate(135)"/><ellipse id="p267" rx="6" ry="9" transform="rotate(30)"/><ellipse id="p268" rx="5" ry="9.5" transform="rotate(60)"/><ellipse id="p269" rx="5" ry="9.5" transform="rotate(105)"/><ellipse id="p270" rx="6" ry="9" transform="rotate(75)"/><ellipse id="p271" rx="6" ry="7.5" transform="rotate(105)"/><ellipse id="p272" rx="6" ry="9" transform="rotate(90)"/><ellipse id="p273" rx="7" ry="12" transform="rotate(45)"/><ellipse id="p274" rx="6" ry="11" transform="rotate(75)"/><ellipse id="p275" rx="7" ry="8.5" transform="rotate(45)"/><ellipse id="p276" rx="6" ry="9" transform="rotate(60)"/><ellipse id="p277" rx="5" ry="8.5" transform="rotate(60)"/><ellipse id="p278" rx="7" ry="11.5" transform="rotate(135)"/><ellipse id="p279" rx="6" ry="10" transform="rotate(75)"/><ellipse id="p280" rx="6" ry="8" transform="rotate(75)"/><ellipse id="p281" rx="5" ry="8" transform="rotate(60)"/><ellipse id="p282" rx="5" ry="9.5" transform="rotate(90)"/><ellipse id="p283" rx="5" ry="7.5" transform="rotate(105)"/><ellipse id="p284" rx="7" ry="10.5" transform="rotate(105)"/><ellipse id="p285" rx="5" ry="10.5" transform="rotate(105)"/><ellipse id="p286" rx="6" ry="8" transform="rotate(45)"/><ellipse id="p287" rx="7" ry="11.5" transform="rotate(45)"/><ellipse id="p288" rx="5" ry="10.5" transform="rotate(45)"/><ellipse id="p289" rx="6" ry="8.5" transform="rotate(90)"/><ellipse id="p290" rx="6" ry="9" transform="rotate(120)"/><ellipse id="p291" rx="5" ry="8.5" transform="rotate(90)"/><ellipse id="p292" rx="5" ry="10.5" transform="rotate(60)"/><ellipse id="p293" rx="5" ry="10" transform="rotate(75)"/><ellipse id="p294" rx="5" ry="7.5" transform="rotate(75)"/><ellipse id="p295" rx="6" ry="10" transform="rotate(105)"/><ellipse id="p296" rx="5" ry="8" transform="rotate(75)"/><ellipse id="p297" rx="6" ry="10.5" transform="rotate(75)"/><ellipse id="p298" rx="5" ry="8.5" transform="rotate(45)"/><ellipse id="p299" rx="7" ry="11.5" transform="rotate(60)"/><ellipse id="p300" rx="6" ry="9.5" transform="rotate(105)"/><ellipse id="p301" rx="5" ry="11.5" transform="rotate(60)"/><ellipse id="p302" rx="7" ry="10" transform="rotate(60)"/><ellipse id="p303" rx="7" ry="8.5" transform="rotate(105)"/><ellipse id="p304" rx="7" ry="9.5" transform="rotate(60)"/><ellipse id="p305" rx="7" ry="11.5" transform="rotate(105)"/><ellipse id="p306" rx="5" ry="8" transform="rotate(45)"/><ellipse id="p307" rx="6" ry="8" transform="rotate(105)"/><ellipse id="p308" rx="7" ry="12" transform="rotate(75)"/><ellipse id="p309" rx="6" ry="7.5" transform="rotate(90)"/><ellipse id="p310" rx="7" ry="8" transform="rotate(90)"/><ellipse id="p311" rx="7" ry="9.5" transform="rotate(120)"/><ellipse id="p312" rx="7" ry="11" transform="rotate(60)"/><ellipse id="p313" rx="6" ry="10.5" transform="rotate(90)"/><ellipse id="p314" rx="5" ry="12" transform="rotate(150)"/><ellipse id="p315" rx="7" ry="12" transform="rotate(150)"/><ellipse id="p316" rx="6" ry="10.5" transform="rotate(120)"/><ellipse id="p317" rx="6" ry="10" transform="rotate(60)"/><ellipse id="p318" rx="6" ry="8" transform="rotate(60)"/><ellipse id="p319" rx="5" ry="9.5" transform="rotate(75)"/><ellipse id="p320" rx="6" ry="8.5" transform="rotate(60)"/><ellipse id="p321" rx="7" ry="11.5" transform="rotate(75)"/><ellipse id="p322" rx="6" ry="8" transform="rotate(120)"/><ellipse id="p323" rx="7" ry="7" transform="rotate(75)"/><ellipse id="p324" rx="5" ry="10" transform="rotate(60)"/><ellipse id="p325" rx="6" ry="11.5" transform="rotate(90)"/><ellipse id="p326" rx="5" ry="9" transform="rotate(120)"/><ellipse id="p327" rx="6" ry="9" transform="rotate(45)"/><ellipse id="p328" rx="6" ry="7.5" transform="rotate(60)"/><ellipse id="p329" rx="7" ry="10" transform="rotate(90)"/><ellipse id="p330" rx="6" ry="12" transform="rotate(60)"/><ellipse id="p331" rx="5" ry="11.5" transform="rotate(90)"/><ellipse id="p332" rx="5" ry="12" transform="rotate(75)"/><ellipse id="p333" rx="6" ry="12" transform="rotate(75)"/><ellipse id="p334" rx="7" ry="9" transform="rotate(60)"/><ellipse id="p335" rx="6" ry="11.5" transform="rotate(60)"/><ellipse id="p336" rx="7" ry="7.5" transform="rotate(75)"/><ellipse id="p337" rx="5" ry="11" transform="rotate(105)"/><ellipse id="p338" rx="7" ry="9.5" transform="rotate(45)"/><ellipse id="p339" rx="7" ry="10" transform="rotate(75)"/><ellipse id="p340" rx="5" ry="11" transform="rotate(120)"/><ellipse id="p341" rx="6" ry="11" transform="rotate(90)"/><ellipse id="p342" rx="5" ry="8.5" transform="rotate(30)"/><ellipse id="p343" rx="5" ry="11.5" transform="rotate(45)"/><ellipse id="p344" rx="4" ry="10" transform="rotate(15)"/><ellipse id="p345" rx="4" ry="11" transform="rotate(15)"/><ellipse id="p346" rx="4" ry="7" transform="rotate(0)"/><ellipse id="p347" rx="4" ry="10.5" transform="rotate(150)"/><ellipse id="p348" rx="4" ry="8" transform="rotate(15)"/><ellipse id="p349" rx="4" ry="9.5" transform="rotate(165)"/><ellipse id="p350" rx="4" ry="10" transform="rotate(150)"/><ellipse id="p351" rx="6" ry="13" transform="rotate(165)"/><ellipse id="p352" rx="5" ry="13" transform="rotate(135)"/><ellipse id="p353" rx="6" ry="13" transform="rotate(0)"/><ellipse id="p354" rx="5" ry="13" transform="rotate(0)"/><ellipse id="p355" rx="4" ry="13.5" transform="rotate(0)"/><ellipse id="p356" rx="6" ry="13" transform="rotate(15)"/><ellipse id="p357" rx="4" ry="10.5" transform="rotate(0)"/><ellipse id="p358" rx="5" ry="13.5" transform="rotate(45)"/><ellipse id="p359" rx="5" ry="13.5" transform="rotate(0)"/><ellipse id="p360" rx="4" ry="13" transform="rotate(150)"/><ellipse id="p361" rx="4" ry="12" transform="rotate(165)"/><ellipse id="p362" rx="4" ry="13" transform="rotate(15)"/><ellipse id="p363" rx="4" ry="13" transform="rotate(0)"/><ellipse id="p364" rx="5" ry="13.5" transform="rotate(15)"/><ellipse id="p365" rx="6" ry="12.5" transform="rotate(165)"/><ellipse id="p366" rx="5" ry="12.5" transform="rotate(165)"/><ellipse id="p367" rx="4" ry="12.5" transform="rotate(165)"/><ellipse id="p368" rx="4" ry="13.5" transform="rotate(15)"/><ellipse id="p369" rx="5" ry="14" transform="rotate(0)"/><ellipse id="p370" rx="5" ry="13" transform="rotate(165)"/><ellipse id="p371" rx="5" ry="12.5" transform="rotate(0)"/><ellipse id="p372" rx="1" ry="14.5" transform="rotate(0)"/><ellipse id="p373" rx="1" ry="14" transform="rotate(0)"/><ellipse id="p374" rx="1" ry="14" transform="rotate(165)"/><ellipse id="p375" rx="1" ry="13" transform="rotate(0)"/><ellipse id="p376" rx="1" ry="10.5" transform="rotate(15)"/><ellipse id="p377" rx="1" ry="14.5" transform="rotate(165)"/><ellipse id="p378" rx="1" ry="12.5" transform="rotate(0)"/><ellipse id="p379" rx="1" ry="17" transform="rotate(165)"/><ellipse id="p380" rx="1" ry="17.5" transform="rotate(0)"/><ellipse id="p381" rx="1" ry="11" transform="rotate(165)"/><ellipse id="p382" rx="1" ry="15.5" transform="rotate(0)"/><ellipse id="p383" rx="1" ry="12" transform="rotate(0)"/><ellipse id="p384" rx="1" ry="13.5" transform="rotate(15)"/><ellipse id="p385" rx="1" ry="16" transform="rotate(0)"/><ellipse id="p386" rx="1" ry="17.5" transform="rotate(15)"/><ellipse id="p387" rx="1" ry="16" transform="rotate(165)"/><ellipse id="p388" rx="1" ry="11.5" transform="rotate(165)"/><ellipse id="p389" rx="1" ry="15.5" transform="rotate(150)"/><ellipse id="p390" rx="1" ry="16.5" transform="rotate(0)"/><ellipse id="p391" rx="1" ry="16" transform="rotate(15)"/><ellipse id="p392" rx="1" ry="15" transform="rotate(15)"/><ellipse id="p393" rx="1" ry="13" transform="rotate(15)"/><ellipse id="p394" rx="1" ry="12" transform="rotate(165)"/><ellipse id="p395" rx="1" ry="12" transform="rotate(15)"/><ellipse id="p396" rx="1" ry="11" transform="rotate(0)"/><ellipse id="p397" rx="1" ry="10.5" transform="rotate(30)"/><ellipse id="p398" rx="1" ry="13.5" transform="rotate(0)"/><ellipse id="p399" rx="1" ry="12.5" transform="rotate(15)"/><ellipse id="p400" rx="1" ry="13" transform="rotate(150)"/><ellipse id="p401" rx="1" ry="15" transform="rotate(165)"/><ellipse id="p402" rx="1" ry="13" transform="rotate(165)"/><ellipse id="p403" rx="1" ry="17.5" transform="rotate(150)"/><ellipse id="p404" rx="1" ry="15" transform="rotate(0)"/><ellipse id="p405" rx="4" ry="9" transform="rotate(0)"/><ellipse id="p406" rx="4" ry="8.5" transform="rotate(150)"/><ellipse id="p407" rx="4" ry="8.5" transform="rotate(15)"/><ellipse id="p408" rx="1" ry="11" transform="rotate(150)"/><ellipse id="p409" rx="1" ry="17" transform="rotate(0)"/><ellipse id="p410" rx="1" ry="10" transform="rotate(165)"/><ellipse id="p411" rx="1" ry="13.5" transform="rotate(165)"/><ellipse id="p412" rx="1" ry="16.5" transform="rotate(15)"/><ellipse id="p413" rx="1" ry="10.5" transform="rotate(165)"/><ellipse id="p414" rx="1" ry="17" transform="rotate(30)"/><ellipse id="p415" rx="1" ry="14.5" transform="rotate(15)"/><ellipse id="p416" rx="1" ry="12.5" transform="rotate(165)"/><ellipse id="p417" rx="1" ry="14" transform="rotate(15)"/><ellipse id="p418" rx="1" ry="15.5" transform="rotate(165)"/><ellipse id="p419" rx="4" ry="6" transform="rotate(0)"/><ellipse id="p420" rx="4" ry="6.5" transform="rotate(15)"/><ellipse id="p421" rx="3" ry="7.5" transform="rotate(15)"/><ellipse id="p422" rx="4" ry="5" transform="rotate(0)"/><ellipse id="p423" rx="3" ry="7" transform="rotate(0)"/><ellipse id="p424" rx="3" ry="5.5" transform="rotate(0)"/><ellipse id="p425" rx="3" ry="6.5" transform="rotate(0)"/><ellipse id="p426" rx="4" ry="6" transform="rotate(165)"/><ellipse id="p427" rx="4" ry="5.5" transform="rotate(0)"/><ellipse id="p428" rx="4" ry="5" transform="rotate(30)"/><ellipse id="p429" rx="4" ry="5.5" transform="rotate(165)"/><ellipse id="p430" rx="3" ry="6.5" transform="rotate(15)"/><ellipse id="p431" rx="3" ry="8" transform="rotate(165)"/><ellipse id="p432" rx="4" ry="7.5" transform="rotate(150)"/><ellipse id="p433" rx="4" ry="6.5" transform="rotate(0)"/><ellipse id="p434" rx="3" ry="5.5" transform="rotate(150)"/><ellipse id="p435" rx="4" ry="7" transform="rotate(15)"/><ellipse id="p436" rx="6" ry="4.5" transform="rotate(165)"/><ellipse id="p437" rx="4" ry="4" transform="rotate(0)"/><ellipse id="p438" rx="6" ry="4" transform="rotate(0)"/><ellipse id="p439" rx="6" ry="4.5" transform="rotate(0)"/><ellipse id="p440" rx="5" ry="5.5" transform="rotate(0)"/><ellipse id="p441" rx="4" ry="7.5" transform="rotate(0)"/><ellipse id="p442" rx="4" ry="8.5" transform="rotate(165)"/><ellipse id="p443" rx="5" ry="6.5" transform="rotate(150)"/><ellipse id="p444" rx="4" ry="11" transform="rotate(165)"/><ellipse id="p445" rx="4" ry="7.5" transform="rotate(165)"/><ellipse id="p446" rx="4" ry="7" transform="rotate(30)"/><ellipse id="p447" rx="4" ry="10.5" transform="rotate(15)"/><ellipse id="p448" rx="4" ry="10.5" transform="rotate(165)"/><ellipse id="p449" rx="4" ry="9" transform="rotate(30)"/><ellipse id="p450" rx="1" ry="16.5" transform="rotate(165)"/><ellipse id="p451" rx="1" ry="10.5" transform="rotate(150)"/><ellipse id="p452" rx="1" ry="15.5" transform="rotate(15)"/><ellipse id="p453" rx="5" ry="7" transform="rotate(45)"/><ellipse id="p454" rx="4" ry="9.5" transform="rotate(15)"/><ellipse id="p455" rx="5" ry="6" transform="rotate(0)"/><ellipse id="p456" rx="1" ry="17" transform="rotate(15)"/><ellipse id="p457" rx="1" ry="18" transform="rotate(0)"/><ellipse id="p458" rx="1" ry="17.5" transform="rotate(165)"/><ellipse id="p459" rx="1" ry="17.5" transform="rotate(30)"/><ellipse id="p460" rx="3" ry="6" transform="rotate(30)"/><ellipse id="p461" rx="4" ry="7" transform="rotate(165)"/><ellipse id="p462" rx="4" ry="5.5" transform="rotate(15)"/><ellipse id="p463" rx="3" ry="6" transform="rotate(165)"/><ellipse id="p464" rx="4" ry="6.5" transform="rotate(165)"/><ellipse id="p465" rx="1" ry="13.5" transform="rotate(30)"/><ellipse id="p466" rx="1" ry="13" transform="rotate(45)"/><ellipse id="p467" rx="1" ry="16" transform="rotate(45)"/><ellipse id="p468" rx="1" ry="18" transform="rotate(15)"/><ellipse id="p469" rx="1" ry="12.5" transform="rotate(30)"/><ellipse id="p470" rx="1" ry="10" transform="rotate(30)"/><ellipse id="p471" rx="1" ry="11" transform="rotate(15)"/><ellipse id="p472" rx="1" ry="12" transform="rotate(30)"/><ellipse id="p473" rx="1" ry="17.5" transform="rotate(45)"/><ellipse id="p474" rx="1" ry="16" transform="rotate(30)"/><ellipse id="p475" rx="3" ry="3" transform="rotate(165)"/><ellipse id="p476" rx="2" ry="2" transform="rotate(15)"/><ellipse id="p477" rx="3" ry="2.5" transform="rotate(15)"/><ellipse id="p478" rx="3" ry="3" transform="rotate(30)"/><ellipse id="p479" rx="3" ry="2.5" transform="rotate(0)"/><ellipse id="p480" rx="2" ry="2.5" transform="rotate(165)"/><ellipse id="p481" rx="2" ry="2.5" transform="rotate(0)"/><ellipse id="p482" rx="3" ry="3" transform="rotate(0)"/><ellipse id="p483" rx="3" ry="2.5" transform="rotate(165)"/><ellipse id="p484" rx="4" ry="6" transform="rotate(15)"/><ellipse id="p485" rx="4" ry="7.5" transform="rotate(30)"/><ellipse id="p486" rx="6" ry="13" transform="rotate(30)"/><ellipse id="p487" rx="4" ry="11.5" transform="rotate(0)"/><ellipse id="p488" rx="4" ry="12" transform="rotate(0)"/><ellipse id="p489" rx="5" ry="12.5" transform="rotate(15)"/><ellipse id="p490" rx="6" ry="13.5" transform="rotate(15)"/><ellipse id="p491" rx="6" ry="12.5" transform="rotate(30)"/><ellipse id="p492" rx="6" ry="13.5" transform="rotate(0)"/><ellipse id="p493" rx="5" ry="13" transform="rotate(30)"/><ellipse id="p494" rx="5" ry="13" transform="rotate(15)"/><ellipse id="p495" rx="6" ry="13" transform="rotate(150)"/><ellipse id="p496" rx="5" ry="12.5" transform="rotate(150)"/><ellipse id="p497" rx="4" ry="10" transform="rotate(165)"/><ellipse id="p498" rx="6" ry="12.5" transform="rotate(0)"/><ellipse id="p499" rx="1" ry="18" transform="rotate(165)"/><ellipse id="p500" rx="4" ry="10" transform="rotate(30)"/><ellipse id="p501" rx="1" ry="10" transform="rotate(150)"/><ellipse id="p502" rx="1" ry="13" transform="rotate(30)"/><ellipse id="p503" rx="1" ry="12" transform="rotate(150)"/><ellipse id="p504" rx="1" ry="15" transform="rotate(30)"/><ellipse id="p505" rx="7" ry="6" transform="rotate(165)"/><ellipse id="p506" rx="5" ry="4.5" transform="rotate(150)"/><ellipse id="p507" rx="7" ry="5" transform="rotate(0)"/><ellipse id="p508" rx="8" ry="4.5" transform="rotate(165)"/><ellipse id="p509" rx="8" ry="6" transform="rotate(165)"/><ellipse id="p510" rx="5" ry="5" transform="rotate(30)"/><ellipse id="p511" rx="7" ry="6" transform="rotate(0)"/><ellipse id="p512" rx="7" ry="5" transform="rotate(165)"/><ellipse id="p513" rx="8" ry="8.5" transform="rotate(15)"/><ellipse id="p514" rx="8" ry="9" transform="rotate(15)"/><ellipse id="p515" rx="8" ry="5.5" transform="rotate(0)"/><ellipse id="p516" rx="4" ry="5" transform="rotate(150)"/><ellipse id="p517" rx="9" ry="4" transform="rotate(15)"/><ellipse id="p518" rx="6" ry="4.5" transform="rotate(135)"/><ellipse id="p519" rx="9" ry="6.5" transform="rotate(165)"/><ellipse id="p520" rx="8" ry="4" transform="rotate(165)"/><ellipse id="p521" rx="8" ry="4.5" transform="rotate(15)"/><ellipse id="p522" rx="5" ry="4" transform="rotate(165)"/><ellipse id="p523" rx="6" ry="6" transform="rotate(150)"/><ellipse id="p524" rx="8" ry="7.5" transform="rotate(150)"/><ellipse id="p525" rx="8" ry="7" transform="rotate(30)"/><ellipse id="p526" rx="8" ry="7.5" transform="rotate(0)"/><ellipse id="p527" rx="7" ry="9" transform="rotate(30)"/><ellipse id="p528" rx="9" ry="8" transform="rotate(165)"/><ellipse id="p529" rx="4" ry="8" transform="rotate(30)"/><ellipse id="p530" rx="4" ry="8.5" transform="rotate(135)"/><ellipse id="p531" rx="1" ry="12.5" transform="rotate(150)"/><ellipse id="p532" rx="1" ry="18" transform="rotate(30)"/><ellipse id="p533" rx="1" ry="16" transform="rotate(150)"/><ellipse id="p534" rx="1" ry="14.5" transform="rotate(30)"/><ellipse id="p535" rx="1" ry="14" transform="rotate(150)"/><ellipse id="p536" rx="4" ry="6.5" transform="rotate(30)"/><ellipse id="p537" rx="4" ry="8" transform="rotate(165)"/><ellipse id="p538" rx="4" ry="6.5" transform="rotate(150)"/><ellipse id="p539" rx="4" ry="8" transform="rotate(150)"/><ellipse id="p540" rx="1" ry="14" transform="rotate(30)"/><ellipse id="p541" rx="1" ry="13.5" transform="rotate(150)"/><ellipse id="p542" rx="1" ry="16.5" transform="rotate(30)"/><ellipse id="p543" rx="1" ry="16.5" transform="rotate(150)"/><ellipse id="p544" rx="1" ry="14.5" transform="rotate(150)"/><ellipse id="p545" rx="6" ry="5" transform="rotate(165)"/><ellipse id="p546" rx="6" ry="6.5" transform="rotate(75)"/><ellipse id="p547" rx="6" ry="4.5" transform="rotate(45)"/><ellipse id="p548" rx="5" ry="6.5" transform="rotate(60)"/><ellipse id="p549" rx="6" ry="4.5" transform="rotate(75)"/><ellipse id="p550" rx="8" ry="4.5" transform="rotate(75)"/><ellipse id="p551" rx="6" ry="6.5" transform="rotate(90)"/><ellipse id="p552" rx="8" ry="5.5" transform="rotate(90)"/><ellipse id="p553" rx="5" ry="4.5" transform="rotate(90)"/><ellipse id="p554" rx="7" ry="5" transform="rotate(75)"/><ellipse id="p555" rx="6" ry="5" transform="rotate(45)"/><ellipse id="p556" rx="8" ry="6" transform="rotate(90)"/><ellipse id="p557" rx="7" ry="8" transform="rotate(75)"/><ellipse id="p558" rx="7" ry="5" transform="rotate(60)"/><ellipse id="p559" rx="7" ry="6.5" transform="rotate(60)"/><ellipse id="p560" rx="7" ry="5.5" transform="rotate(45)"/><ellipse id="p561" rx="8" ry="5" transform="rotate(60)"/><ellipse id="p562" rx="8" ry="7.5" transform="rotate(45)"/><ellipse id="p563" rx="8" ry="7.5" transform="rotate(90)"/><ellipse id="p564" rx="7" ry="7" transform="rotate(90)"/><ellipse id="p565" rx="4" ry="5" transform="rotate(60)"/><ellipse id="p566" rx="7" ry="6.5" transform="rotate(75)"/><ellipse id="p567" rx="5" ry="7.5" transform="rotate(60)"/><ellipse id="p568" rx="6" ry="6" transform="rotate(45)"/><ellipse id="p569" rx="7" ry="5.5" transform="rotate(75)"/><ellipse id="p570" rx="4" ry="11" transform="rotate(150)"/><ellipse id="p571" rx="1" ry="16.5" transform="rotate(45)"/><ellipse id="p572" rx="1" ry="14.5" transform="rotate(45)"/><ellipse id="p573" rx="1" ry="11.5" transform="rotate(60)"/><ellipse id="p574" rx="1" ry="15" transform="rotate(60)"/><ellipse id="p575" rx="1" ry="17" transform="rotate(45)"/><ellipse id="p576" rx="1" ry="15" transform="rotate(150)"/><ellipse id="p577" rx="1" ry="16.5" transform="rotate(60)"/><ellipse id="p578" rx="1" ry="14.5" transform="rotate(105)"/><ellipse id="p579" rx="1" ry="15" transform="rotate(45)"/><ellipse id="p580" rx="1" ry="15.5" transform="rotate(45)"/><ellipse id="p581" rx="1" ry="18" transform="rotate(150)"/><ellipse id="p582" rx="1" ry="11" transform="rotate(45)"/><ellipse id="p583" rx="1" ry="11.5" transform="rotate(30)"/><ellipse id="p584" rx="1" ry="12" transform="rotate(135)"/><ellipse id="p585" rx="1" ry="10.5" transform="rotate(45)"/><ellipse id="p586" rx="1" ry="17" transform="rotate(135)"/><ellipse id="p587" rx="1" ry="16.5" transform="rotate(135)"/><ellipse id="p588" rx="1" ry="13.5" transform="rotate(45)"/><ellipse id="p589" rx="2" ry="16.5" transform="rotate(45)"/><ellipse id="p590" rx="3" ry="12.5" transform="rotate(165)"/><ellipse id="p591" rx="2" ry="11.5" transform="rotate(0)"/><ellipse id="p592" rx="2" ry="16" transform="rotate(45)"/><ellipse id="p593" rx="2" ry="17.5" transform="rotate(150)"/><ellipse id="p594" rx="2" ry="17" transform="rotate(45)"/><ellipse id="p595" rx="2" ry="10" transform="rotate(30)"/><ellipse id="p596" rx="2" ry="13.5" transform="rotate(15)"/><ellipse id="p597" rx="3" ry="13.5" transform="rotate(150)"/><ellipse id="p598" rx="2" ry="14.5" transform="rotate(60)"/><ellipse id="p599" rx="2" ry="14" transform="rotate(30)"/><ellipse id="p600" rx="2" ry="13.5" transform="rotate(0)"/><ellipse id="p601" rx="3" ry="17" transform="rotate(30)"/><ellipse id="p602" rx="2" ry="11" transform="rotate(30)"/><ellipse id="p603" rx="2" ry="12.5" transform="rotate(30)"/><ellipse id="p604" rx="3" ry="12.5" transform="rotate(90)"/><ellipse id="p605" rx="2" ry="17.5" transform="rotate(45)"/><ellipse id="p606" rx="3" ry="11.5" transform="rotate(15)"/><ellipse id="p607" rx="3" ry="10" transform="rotate(90)"/><ellipse id="p608" rx="2" ry="11.5" transform="rotate(60)"/><ellipse id="p609" rx="2" ry="18" transform="rotate(0)"/><ellipse id="p610" rx="3" ry="12" transform="rotate(60)"/><ellipse id="p611" rx="2" ry="12" transform="rotate(90)"/><ellipse id="p612" rx="2" ry="17.5" transform="rotate(60)"/><ellipse id="p613" rx="3" ry="12" transform="rotate(45)"/><ellipse id="p614" rx="2" ry="12" transform="rotate(45)"/><ellipse id="p615" rx="2" ry="14.5" transform="rotate(165)"/><ellipse id="p616" rx="2" ry="13" transform="rotate(45)"/><ellipse id="p617" rx="3" ry="12.5" transform="rotate(45)"/><ellipse id="p618" rx="3" ry="10.5" transform="rotate(45)"/><ellipse id="p619" rx="3" ry="11" transform="rotate(30)"/><ellipse id="p620" rx="3" ry="14.5" transform="rotate(30)"/><ellipse id="p621" rx="3" ry="15.5" transform="rotate(30)"/><ellipse id="p622" rx="3" ry="13.5" transform="rotate(0)"/><ellipse id="p623" rx="3" ry="10.5" transform="rotate(0)"/><ellipse id="p624" rx="3" ry="13.5" transform="rotate(30)"/><ellipse id="p625" rx="2" ry="11.5" transform="rotate(45)"/><ellipse id="p626" rx="3" ry="17.5" transform="rotate(45)"/><ellipse id="p627" rx="2" ry="15.5" transform="rotate(60)"/><ellipse id="p628" rx="2" ry="15.5" transform="rotate(45)"/><ellipse id="p629" rx="2" ry="12.5" transform="rotate(60)"/><ellipse id="p630" rx="3" ry="11.5" transform="rotate(0)"/><ellipse id="p631" rx="2" ry="14.5" transform="rotate(0)"/><ellipse id="p632" rx="2" ry="12" transform="rotate(60)"/><ellipse id="p633" rx="3" ry="13.5" transform="rotate(15)"/><ellipse id="p634" rx="2" ry="12.5" transform="rotate(135)"/><ellipse id="p635" rx="2" ry="12.5" transform="rotate(120)"/><ellipse id="p636" rx="2" ry="10.5" transform="rotate(105)"/><ellipse id="p637" rx="2" ry="9.5" transform="rotate(90)"/><ellipse id="p638" rx="2" ry="10" transform="rotate(75)"/><ellipse id="p639" rx="2" ry="13.5" transform="rotate(120)"/><ellipse id="p640" rx="2" ry="13.5" transform="rotate(90)"/><ellipse id="p641" rx="3" ry="8.5" transform="rotate(60)"/><ellipse id="p642" rx="3" ry="14" transform="rotate(105)"/><ellipse id="p643" rx="3" ry="9.5" transform="rotate(120)"/><ellipse id="p644" rx="2" ry="13.5" transform="rotate(75)"/><ellipse id="p645" rx="2" ry="11.5" transform="rotate(105)"/><ellipse id="p646" rx="3" ry="12.5" transform="rotate(120)"/><ellipse id="p647" rx="2" ry="11.5" transform="rotate(90)"/><ellipse id="p648" rx="3" ry="13.5" transform="rotate(135)"/><ellipse id="p649" rx="2" ry="11" transform="rotate(75)"/><ellipse id="p650" rx="2" ry="9" transform="rotate(120)"/><ellipse id="p651" rx="2" ry="13" transform="rotate(135)"/><ellipse id="p652" rx="2" ry="9.5" transform="rotate(120)"/><ellipse id="p653" rx="2" ry="12" transform="rotate(75)"/><ellipse id="p654" rx="2" ry="11" transform="rotate(120)"/><ellipse id="p655" rx="2" ry="11.5" transform="rotate(75)"/><ellipse id="p656" rx="3" ry="12" transform="rotate(120)"/><ellipse id="p657" rx="2" ry="9.5" transform="rotate(75)"/><ellipse id="p658" rx="2" ry="15" transform="rotate(75)"/><ellipse id="p659" rx="3" ry="9.5" transform="rotate(90)"/><ellipse id="p660" rx="3" ry="10.5" transform="rotate(105)"/><ellipse id="p661" rx="2" ry="8" transform="rotate(105)"/><ellipse id="p662" rx="2" ry="12.5" transform="rotate(105)"/><ellipse id="p663" rx="2" ry="13" transform="rotate(105)"/><ellipse id="p664" rx="2" ry="14.5" transform="rotate(105)"/><ellipse id="p665" rx="3" ry="14.5" transform="rotate(90)"/><ellipse id="p666" rx="3" ry="14.5" transform="rotate(105)"/><ellipse id="p667" rx="3" ry="9.5" transform="rotate(105)"/><ellipse id="p668" rx="3" ry="13" transform="rotate(90)"/><ellipse id="p669" rx="2" ry="10.5" transform="rotate(45)"/><ellipse id="p670" rx="3" ry="14.5" transform="rotate(60)"/><ellipse id="p671" rx="2" ry="15" transform="rotate(90)"/><ellipse id="p672" rx="2" ry="14" transform="rotate(75)"/><ellipse id="p673" rx="3" ry="9" transform="rotate(90)"/><ellipse id="p674" rx="2" ry="14" transform="rotate(135)"/><ellipse id="p675" rx="3" ry="8.5" transform="rotate(90)"/><ellipse id="p676" rx="2" ry="14" transform="rotate(105)"/><ellipse id="p677" rx="3" ry="10.5" transform="rotate(90)"/><ellipse id="p678" rx="2" ry="13" transform="rotate(75)"/><ellipse id="p679" rx="2" ry="13" transform="rotate(90)"/><ellipse id="p680" rx="3" ry="14" transform="rotate(75)"/><ellipse id="p681" rx="2" ry="12" transform="rotate(150)"/><ellipse id="p682" rx="2" ry="8.5" transform="rotate(105)"/><ellipse id="p683" rx="3" ry="11.5" transform="rotate(165)"/><ellipse id="p684" rx="2" ry="13" transform="rotate(120)"/><ellipse id="p685" rx="2" ry="10" transform="rotate(105)"/><ellipse id="p686" rx="3" ry="13.5" transform="rotate(105)"/><ellipse id="p687" rx="2" ry="14.5" transform="rotate(75)"/><ellipse id="p688" rx="3" ry="14" transform="rotate(90)"/><ellipse id="p689" rx="2" ry="15" transform="rotate(105)"/><ellipse id="p690" rx="3" ry="14.5" transform="rotate(75)"/><ellipse id="p691" rx="2" ry="9" transform="rotate(90)"/><ellipse id="p692" rx="3" ry="9" transform="rotate(120)"/><ellipse id="p693" rx="3" ry="8" transform="rotate(90)"/><ellipse id="p694" rx="2" ry="10" transform="rotate(90)"/><ellipse id="p695" rx="3" ry="14" transform="rotate(165)"/><ellipse id="p696" rx="2" ry="8.5" transform="rotate(90)"/><ellipse id="p697" rx="3" ry="13" transform="rotate(75)"/><ellipse id="p698" rx="3" ry="10.5" transform="rotate(75)"/><ellipse id="p699" rx="2" ry="10" transform="rotate(60)"/><ellipse id="p700" rx="3" ry="9" transform="rotate(105)"/><ellipse id="p701" rx="2" ry="14.5" transform="rotate(135)"/><ellipse id="p702" rx="2" ry="8" transform="rotate(60)"/><ellipse id="p703" rx="3" ry="14" transform="rotate(150)"/><ellipse id="p704" rx="3" ry="13" transform="rotate(105)"/><ellipse id="p705" rx="2" ry="8" transform="rotate(75)"/><ellipse id="p706" rx="2" ry="14" transform="rotate(90)"/><ellipse id="p707" rx="3" ry="11" transform="rotate(105)"/><ellipse id="p708" rx="3" ry="11.5" transform="rotate(105)"/><ellipse id="p709" rx="3" ry="8" transform="rotate(75)"/><ellipse id="p710" rx="2" ry="9.5" transform="rotate(105)"/><ellipse id="p711" rx="2" ry="13.5" transform="rotate(105)"/><ellipse id="p712" rx="3" ry="11" transform="rotate(75)"/><ellipse id="p713" rx="2" ry="8" transform="rotate(90)"/><ellipse id="p714" rx="2" ry="12" transform="rotate(105)"/><ellipse id="p715" rx="3" ry="11.5" transform="rotate(90)"/><ellipse id="p716" rx="3" ry="14" transform="rotate(135)"/><ellipse id="p717" rx="2" ry="11.5" transform="rotate(120)"/><ellipse id="p718" rx="3" ry="8.5" transform="rotate(75)"/><ellipse id="p719" rx="3" ry="8" transform="rotate(105)"/><ellipse id="p720" rx="3" ry="14.5" transform="rotate(120)"/><ellipse id="p721" rx="3" ry="13" transform="rotate(120)"/><ellipse id="p722" rx="3" ry="8.5" transform="rotate(120)"/><ellipse id="p723" rx="2" ry="11" transform="rotate(105)"/><ellipse id="p724" rx="2" ry="10.5" transform="rotate(75)"/><ellipse id="p725" rx="3" ry="10" transform="rotate(105)"/><ellipse id="p726" rx="3" ry="13.5" transform="rotate(90)"/><ellipse id="p727" rx="2" ry="8" transform="rotate(120)"/><ellipse id="p728" rx="2" ry="15" transform="rotate(120)"/><ellipse id="p729" rx="3" ry="10.5" transform="rotate(135)"/><ellipse id="p730" rx="3" ry="10" transform="rotate(150)"/><ellipse id="p731" rx="3" ry="11" transform="rotate(90)"/><ellipse id="p732" rx="3" ry="15" transform="rotate(120)"/><ellipse id="p733" rx="2" ry="10.5" transform="rotate(135)"/><ellipse id="p734" rx="2" ry="8.5" transform="rotate(135)"/><ellipse id="p735" rx="2" ry="14" transform="rotate(120)"/><ellipse id="p736" rx="2" ry="12" transform="rotate(135)"/><ellipse id="p737" rx="2" ry="10.5" transform="rotate(90)"/><ellipse id="p738" rx="3" ry="10" transform="rotate(120)"/><ellipse id="p739" rx="2" ry="14.5" transform="rotate(120)"/><ellipse id="p740" rx="2" ry="12.5" transform="rotate(90)"/><ellipse id="p741" rx="2" ry="10.5" transform="rotate(120)"/><ellipse id="p742" rx="2" ry="14.5" transform="rotate(90)"/><ellipse id="p743" rx="2" ry="10" transform="rotate(120)"/><ellipse id="p744" rx="3" ry="10.5" transform="rotate(120)"/><ellipse id="p745" rx="2" ry="8.5" transform="rotate(75)"/><ellipse id="p746" rx="2" ry="10" transform="rotate(135)"/><ellipse id="p747" rx="2" ry="12" transform="rotate(120)"/><ellipse id="p748" rx="3" ry="15" transform="rotate(135)"/><ellipse id="p749" rx="2" ry="14" transform="rotate(150)"/><ellipse id="p750" rx="3" ry="13" transform="rotate(45)"/><ellipse id="p751" rx="2" ry="13" transform="rotate(150)"/><ellipse id="p752" rx="3" ry="10.5" transform="rotate(150)"/><ellipse id="p753" rx="3" ry="9" transform="rotate(75)"/><ellipse id="p754" rx="2" ry="11" transform="rotate(90)"/><ellipse id="p755" rx="3" ry="15" transform="rotate(90)"/><ellipse id="p756" rx="2" ry="14" transform="rotate(45)"/><ellipse id="p757" rx="3" ry="11" transform="rotate(135)"/><ellipse id="p758" rx="3" ry="12" transform="rotate(90)"/><ellipse id="p759" rx="3" ry="8" transform="rotate(150)"/><ellipse id="p760" rx="2" ry="11" transform="rotate(135)"/><ellipse id="p761" rx="2" ry="11.5" transform="rotate(150)"/><ellipse id="p762" rx="3" ry="12.5" transform="rotate(75)"/><ellipse id="p763" rx="3" ry="12" transform="rotate(105)"/><ellipse id="p764" rx="3" ry="9" transform="rotate(135)"/><ellipse id="p765" rx="3" ry="8.5" transform="rotate(105)"/><ellipse id="p766" rx="3" ry="11.5" transform="rotate(45)"/><ellipse id="p767" rx="2" ry="9" transform="rotate(135)"/><ellipse id="p768" rx="2" ry="9.5" transform="rotate(135)"/><ellipse id="p769" rx="5" ry="10" transform="rotate(90)"/><ellipse id="p770" rx="5" ry="5" transform="rotate(90)"/><ellipse id="p771" rx="6" ry="6" transform="rotate(120)"/><ellipse id="p772" rx="4" ry="9.5" transform="rotate(90)"/><ellipse id="p773" rx="4" ry="8" transform="rotate(75)"/><ellipse id="p774" rx="4" ry="9" transform="rotate(75)"/><ellipse id="p775" rx="6" ry="6" transform="rotate(105)"/><ellipse id="p776" rx="3" ry="7.5" transform="rotate(105)"/><ellipse id="p777" rx="6" ry="7" transform="rotate(75)"/><ellipse id="p778" rx="5" ry="7.5" transform="rotate(120)"/><ellipse id="p779" rx="4" ry="8" transform="rotate(120)"/><ellipse id="p780" rx="6" ry="8" transform="rotate(90)"/><ellipse id="p781" rx="4" ry="9" transform="rotate(105)"/><ellipse id="p782" rx="5" ry="7" transform="rotate(90)"/><ellipse id="p783" rx="5" ry="5.5" transform="rotate(105)"/><ellipse id="p784" rx="4" ry="8.5" transform="rotate(105)"/><ellipse id="p785" rx="5" ry="8.5" transform="rotate(105)"/><ellipse id="p786" rx="4" ry="6.5" transform="rotate(90)"/><ellipse id="p787" rx="7" ry="9" transform="rotate(105)"/><ellipse id="p788" rx="7" ry="7" transform="rotate(120)"/><ellipse id="p789" rx="4" ry="6" transform="rotate(90)"/><ellipse id="p790" rx="7" ry="5.5" transform="rotate(90)"/><ellipse id="p791" rx="6" ry="6.5" transform="rotate(105)"/><ellipse id="p792" rx="5" ry="8" transform="rotate(90)"/><ellipse id="p793" rx="7" ry="9.5" transform="rotate(90)"/><ellipse id="p794" rx="6" ry="6" transform="rotate(90)"/><ellipse id="p795" rx="4" ry="5.5" transform="rotate(135)"/><ellipse id="p796" rx="4" ry="9" transform="rotate(90)"/><ellipse id="p797" rx="7" ry="6" transform="rotate(135)"/><ellipse id="p798" rx="7" ry="7.5" transform="rotate(135)"/><ellipse id="p799" rx="5" ry="9" transform="rotate(75)"/><ellipse id="p800" rx="6" ry="9.5" transform="rotate(90)"/><ellipse id="p801" rx="5" ry="5" transform="rotate(105)"/><ellipse id="p802" rx="6" ry="6" transform="rotate(135)"/><ellipse id="p803" rx="7" ry="9" transform="rotate(75)"/><ellipse id="p804" rx="3" ry="6" transform="rotate(90)"/><ellipse id="p805" rx="3" ry="7" transform="rotate(105)"/><ellipse id="p806" rx="7" ry="8.5" transform="rotate(75)"/><ellipse id="p807" rx="3" ry="6.5" transform="rotate(105)"/><ellipse id="p808" rx="5" ry="5.5" transform="rotate(90)"/><ellipse id="p809" rx="6" ry="5.5" transform="rotate(120)"/><ellipse id="p810" rx="6" ry="5" transform="rotate(120)"/><ellipse id="p811" rx="5" ry="8" transform="rotate(105)"/><ellipse id="p812" rx="6" ry="5.5" transform="rotate(90)"/><ellipse id="p813" rx="4" ry="8" transform="rotate(90)"/><ellipse id="p814" rx="4" ry="7" transform="rotate(75)"/><ellipse id="p815" rx="4" ry="8" transform="rotate(105)"/><ellipse id="p816" rx="4" ry="6" transform="rotate(105)"/><ellipse id="p817" rx="5" ry="10" transform="rotate(105)"/><ellipse id="p818" rx="5" ry="6" transform="rotate(90)"/><ellipse id="p819" rx="4" ry="9.5" transform="rotate(120)"/><ellipse id="p820" rx="5" ry="6.5" transform="rotate(105)"/><ellipse id="p821" rx="4" ry="5.5" transform="rotate(90)"/><ellipse id="p822" rx="4" ry="7" transform="rotate(105)"/><ellipse id="p823" rx="4" ry="9.5" transform="rotate(75)"/><ellipse id="p824" rx="4" ry="10" transform="rotate(90)"/><ellipse id="p825" rx="3" ry="7" transform="rotate(120)"/><ellipse id="p826" rx="7" ry="9" transform="rotate(90)"/><ellipse id="p827" rx="4" ry="5.5" transform="rotate(105)"/><ellipse id="p828" rx="3" ry="6" transform="rotate(105)"/><ellipse id="p829" rx="3" ry="5.5" transform="rotate(90)"/><ellipse id="p830" rx="5" ry="10" transform="rotate(45)"/><ellipse id="p831" rx="6" ry="9.5" transform="rotate(45)"/><ellipse id="p832" rx="7" ry="8" transform="rotate(135)"/><ellipse id="p833" rx="5" ry="9.5" transform="rotate(45)"/><ellipse id="p834" rx="6" ry="11" transform="rotate(135)"/><ellipse id="p835" rx="7" ry="11" transform="rotate(135)"/><ellipse id="p836" rx="6" ry="7.5" transform="rotate(135)"/><ellipse id="p837" rx="3" ry="12" transform="rotate(0)"/><ellipse id="p838" rx="3" ry="12" transform="rotate(165)"/><ellipse id="p839" rx="6" ry="11" transform="rotate(60)"/><ellipse id="p840" rx="3" ry="11" transform="rotate(165)"/><ellipse id="p841" rx="3" ry="10" transform="rotate(0)"/><ellipse id="p842" rx="4" ry="11.5" transform="rotate(165)"/><ellipse id="p843" rx="5" ry="10" transform="rotate(135)"/><ellipse id="p844" rx="7" ry="12" transform="rotate(135)"/><ellipse id="p845" rx="6" ry="7.5" transform="rotate(75)"/><ellipse id="p846" rx="7" ry="10" transform="rotate(45)"/><ellipse id="p847" rx="6" ry="10.5" transform="rotate(60)"/><ellipse id="p848" rx="7" ry="10.5" transform="rotate(135)"/><ellipse id="p849" rx="7" ry="9.5" transform="rotate(135)"/><ellipse id="p850" rx="5" ry="11.5" transform="rotate(120)"/><ellipse id="p851" rx="5" ry="7.5" transform="rotate(90)"/><ellipse id="p852" rx="7" ry="10.5" transform="rotate(45)"/><ellipse id="p853" rx="6" ry="9.5" transform="rotate(75)"/><ellipse id="p854" rx="6" ry="10" transform="rotate(90)"/><ellipse id="p855" rx="6" ry="10.5" transform="rotate(105)"/><ellipse id="p856" rx="6" ry="7" transform="rotate(60)"/><ellipse id="p857" rx="6" ry="7" transform="rotate(45)"/><ellipse id="p858" rx="6" ry="9.5" transform="rotate(120)"/><ellipse id="p859" rx="5" ry="9" transform="rotate(105)"/><ellipse id="p860" rx="5" ry="9" transform="rotate(45)"/><ellipse id="p861" rx="7" ry="7.5" transform="rotate(120)"/><ellipse id="p862" rx="6" ry="11.5" transform="rotate(105)"/><ellipse id="p863" rx="6" ry="8.5" transform="rotate(75)"/><ellipse id="p864" rx="6" ry="8.5" transform="rotate(45)"/><ellipse id="p865" rx="7" ry="11" transform="rotate(75)"/><ellipse id="p866" rx="7" ry="11.5" transform="rotate(30)"/><ellipse id="p867" rx="7" ry="12" transform="rotate(120)"/><ellipse id="p868" rx="6" ry="11.5" transform="rotate(120)"/><ellipse id="p869" rx="6" ry="11" transform="rotate(120)"/><ellipse id="p870" rx="7" ry="7.5" transform="rotate(60)"/><ellipse id="p871" rx="5" ry="12" transform="rotate(60)"/><ellipse id="p872" rx="5" ry="10" transform="rotate(120)"/><ellipse id="p873" rx="5" ry="7" transform="rotate(75)"/><ellipse id="p874" rx="6" ry="11.5" transform="rotate(135)"/><ellipse id="p875" rx="7" ry="7" transform="rotate(105)"/><ellipse id="p876" rx="7" ry="10.5" transform="rotate(75)"/><ellipse id="p877" rx="7" ry="11" transform="rotate(120)"/><ellipse id="p878" rx="6" ry="12" transform="rotate(45)"/><ellipse id="p879" rx="6" ry="8.5" transform="rotate(120)"/><ellipse id="p880" rx="7" ry="9.5" transform="rotate(75)"/><ellipse id="p881" rx="7" ry="8" transform="rotate(105)"/><ellipse id="p882" rx="7" ry="10" transform="rotate(120)"/><ellipse id="p883" rx="7" ry="9" transform="rotate(120)"/><ellipse id="p884" rx="7" ry="11.5" transform="rotate(90)"/><ellipse id="p885" rx="5" ry="11" transform="rotate(75)"/><ellipse id="p886" rx="6" ry="11.5" transform="rotate(75)"/><ellipse id="p887" rx="7" ry="12" transform="rotate(30)"/><ellipse id="p888" rx="5" ry="11" transform="rotate(45)"/><ellipse id="p889" rx="7" ry="11" transform="rotate(45)"/><ellipse id="p890" rx="6" ry="11" transform="rotate(45)"/><ellipse id="p891" rx="7" ry="7" transform="rotate(150)"/><ellipse id="p892" rx="7" ry="10" transform="rotate(105)"/><ellipse id="p893" rx="6" ry="12" transform="rotate(120)"/><ellipse id="p894" rx="7" ry="7" transform="rotate(135)"/></defs>
<rect x="581" y="631" width="45.6" height="4.2" fill="#fff"/>
<rect x="581" y="1132" width="45.6" height="4.2" fill="#fff"/>
<rect x="581" y="1633" width="45.6" height="4.2" fill="#fff"/>
<text transform="translate(540.3,125.7) rotate(-90)" font-size="35.5" fill="#8c4a1c" textLength="42.6" lengthAdjust="spacingAndGlyphs">BF</text>
<text transform="translate(540.3,275.2) rotate(-90)" font-size="35.5" fill="#ff00ff" textLength="88.3" lengthAdjust="spacingAndGlyphs">ARR3</text>
<text transform="translate(540.3,373.4) rotate(-90)" font-size="35.5" fill="#1fcfcf" textLength="67.3" lengthAdjust="spacingAndGlyphs">NRL</text>
<text transform="translate(540.3,525.3) rotate(-90)" font-size="35.5" fill="#ffd200" textLength="110.0" lengthAdjust="spacingAndGlyphs">TUNEL</text>
<text transform="translate(540.3,648.0) rotate(-90)" font-size="35.5" fill="#b4b4b4" textLength="78.1" lengthAdjust="spacingAndGlyphs">DAPI</text>
<text transform="translate(540.3,817.7) rotate(-90)" font-size="35.5" fill="#00e600" textLength="119.1" lengthAdjust="spacingAndGlyphs">RCVRN</text>
<text transform="translate(540.3,974.8) rotate(-90)" font-size="35.5" fill="#1010ff" textLength="101.7" lengthAdjust="spacingAndGlyphs">RLBP1</text>
<text transform="translate(540.3,1120.2) rotate(-90)" font-size="35.5" fill="#ff00ff" textLength="90.2" lengthAdjust="spacingAndGlyphs">GFAP</text>
<text transform="translate(540.3,1275.9) rotate(-90)" font-size="35.5" fill="#ffd200" textLength="89.0" lengthAdjust="spacingAndGlyphs">PHH3</text>
<text transform="translate(540.3,1389.8) rotate(-90)" font-size="35.5" fill="#e60000" textLength="69.8" lengthAdjust="spacingAndGlyphs">KI67</text>
<text transform="translate(540.3,1527.9) rotate(-90)" font-size="35.5" fill="#14b4e0" textLength="89.1" lengthAdjust="spacingAndGlyphs">SOX9</text>
<text transform="translate(540.3,1649.2) rotate(-90)" font-size="35.5" fill="#b4b4b4" textLength="78.1" lengthAdjust="spacingAndGlyphs">DAPI</text>
<text x="563.5" y="39.2" font-size="29">Day</text>
<text x="640.3" y="39.2" font-size="29" text-anchor="middle">0</text>
<text x="722.6" y="39.2" font-size="29" text-anchor="middle">2</text>
<text x="832.5" y="39.2" font-size="29" text-anchor="middle">4</text>
<text x="947" y="39.2" font-size="29" text-anchor="middle">8</text>
<text x="1064.7" y="39.2" font-size="29" text-anchor="middle">10</text>
<text x="1178.8" y="39.2" font-size="29" text-anchor="middle">20</text>
<text x="1292.8" y="39.2" font-size="29" text-anchor="middle">40</text>
<rect x="108.5" y="244.0" width="28" height="202.4" fill="#bebebe"/>
<rect x="151.0" y="269.2" width="28" height="177.2" fill="#bebebe"/>
<rect x="193.1" y="323.7" width="28" height="122.7" fill="#bebebe"/>
<rect x="235.6" y="296.3" width="28" height="150.1" fill="#bebebe"/>
<rect x="278.0" y="318.3" width="28" height="128.1" fill="#bebebe"/>
<rect x="320.0" y="362.1" width="28" height="84.3" fill="#bebebe"/>
<rect x="362.5" y="384.2" width="28" height="62.2" fill="#bebebe"/>
<rect x="405.0" y="419.8" width="28" height="26.6" fill="#bebebe"/>
<line x1="122.5" y1="244.0" x2="122.5" y2="205.2" stroke="#bcbcbc" stroke-width="2.7" stroke-linecap="round"/>
<line x1="115.5" y1="205.2" x2="129.5" y2="205.2" stroke="#bcbcbc" stroke-width="2.7" stroke-linecap="round"/>
<line x1="165.0" y1="269.2" x2="165.0" y2="241.4" stroke="#bcbcbc" stroke-width="2.7" stroke-linecap="round"/>
<line x1="158.0" y1="241.4" x2="172.0" y2="241.4" stroke="#bcbcbc" stroke-width="2.7" stroke-linecap="round"/>
<line x1="207.1" y1="323.7" x2="207.1" y2="281.6" stroke="#bcbcbc" stroke-width="2.7" stroke-linecap="round"/>
<line x1="200.1" y1="281.6" x2="214.1" y2="281.6" stroke="#bcbcbc" stroke-width="2.7" stroke-linecap="round"/>
<line x1="249.6" y1="296.3" x2="249.6" y2="277.0" stroke="#bcbcbc" stroke-width="2.7" stroke-linecap="round"/>
<line x1="242.6" y1="277.0" x2="256.6" y2="277.0" stroke="#bcbcbc" stroke-width="2.7" stroke-linecap="round"/>
<line x1="292.0" y1="318.3" x2="292.0" y2="310.3" stroke="#bcbcbc" stroke-width="2.7" stroke-linecap="round"/>
<line x1="285.0" y1="310.3" x2="299.0" y2="310.3" stroke="#bcbcbc" stroke-width="2.7" stroke-linecap="round"/>
<line x1="334.0" y1="362.1" x2="334.0" y2="339.7" stroke="#bcbcbc" stroke-width="2.7" stroke-linecap="round"/>
<line x1="327.0" y1="339.7" x2="341.0" y2="339.7" stroke="#bcbcbc" stroke-width="2.7" stroke-linecap="round"/>
<line x1="376.5" y1="384.2" x2="376.5" y2="368.3" stroke="#bcbcbc" stroke-width="2.7" stroke-linecap="round"/>
<line x1="369.5" y1="368.3" x2="383.5" y2="368.3" stroke="#bcbcbc" stroke-width="2.7" stroke-linecap="round"/>
<line x1="419.0" y1="419.8" x2="419.0" y2="412.4" stroke="#bcbcbc" stroke-width="2.7" stroke-linecap="round"/>
<line x1="412.0" y1="412.4" x2="426.0" y2="412.4" stroke="#bcbcbc" stroke-width="2.7" stroke-linecap="round"/>
<path d="M94.4,151.5 V446.4 H447.0" fill="none" stroke="#000" stroke-width="2.8"/>
<line x1="85.4" y1="153.0" x2="94.4" y2="153.0" stroke="#000" stroke-width="2.8"/>
<text x="82.9" y="163.3" font-size="29.5" fill="#000" text-anchor="end" >40</text>
<line x1="85.4" y1="226.1" x2="94.4" y2="226.1" stroke="#000" stroke-width="2.8"/>
<text x="82.9" y="236.4" font-size="29.5" fill="#000" text-anchor="end" >30</text>
<line x1="85.4" y1="299.2" x2="94.4" y2="299.2" stroke="#000" stroke-width="2.8"/>
<text x="82.9" y="309.5" font-size="29.5" fill="#000" text-anchor="end" >20</text>
<line x1="85.4" y1="372.3" x2="94.4" y2="372.3" stroke="#000" stroke-width="2.8"/>
<text x="82.9" y="382.6" font-size="29.5" fill="#000" text-anchor="end" >10</text>
<line x1="85.4" y1="445.4" x2="94.4" y2="445.4" stroke="#000" stroke-width="2.8"/>
<text x="82.9" y="455.7" font-size="29.5" fill="#000" text-anchor="end" >0</text>
<line x1="122.5" y1="446.4" x2="122.5" y2="455.9" stroke="#000" stroke-width="2.8"/>
<text x="122.5" y="481.9" font-size="29.5" fill="#000" text-anchor="middle" >0</text>
<line x1="165.0" y1="446.4" x2="165.0" y2="455.9" stroke="#000" stroke-width="2.8"/>
<text x="165.0" y="481.9" font-size="29.5" fill="#000" text-anchor="middle" >2</text>
<line x1="207.1" y1="446.4" x2="207.1" y2="455.9" stroke="#000" stroke-width="2.8"/>
<text x="207.1" y="481.9" font-size="29.5" fill="#000" text-anchor="middle" >4</text>
<line x1="249.6" y1="446.4" x2="249.6" y2="455.9" stroke="#000" stroke-width="2.8"/>
<text x="249.6" y="481.9" font-size="29.5" fill="#000" text-anchor="middle" >6</text>
<line x1="292.0" y1="446.4" x2="292.0" y2="455.9" stroke="#000" stroke-width="2.8"/>
<text x="292.0" y="481.9" font-size="29.5" fill="#000" text-anchor="middle" >8</text>
<line x1="334.0" y1="446.4" x2="334.0" y2="455.9" stroke="#000" stroke-width="2.8"/>
<text x="334.0" y="481.9" font-size="29.5" fill="#000" text-anchor="middle" >10</text>
<line x1="376.5" y1="446.4" x2="376.5" y2="455.9" stroke="#000" stroke-width="2.8"/>
<text x="376.5" y="481.9" font-size="29.5" fill="#000" text-anchor="middle" >20</text>
<line x1="419.0" y1="446.4" x2="419.0" y2="455.9" stroke="#000" stroke-width="2.8"/>
<text x="419.0" y="481.9" font-size="29.5" fill="#000" text-anchor="middle" >40</text>
<text x="212.0" y="513.8" font-size="29.5" fill="#000" text-anchor="start" >HT [days]</text>
<text transform="translate(36.0,435.7) rotate(-90)" font-size="31" fill="#000" textLength="287.5" lengthAdjust="spacingAndGlyphs">ARR3 / DAPI cells [%]</text>
<circle cx="122.5" cy="169.4" r="5.9" fill="none" stroke="#ff40ff" stroke-width="2.9"/>
<circle cx="117.5" cy="194.9" r="5.9" fill="none" stroke="#ff40ff" stroke-width="2.9"/>
<circle cx="127.6" cy="194.9" r="5.9" fill="none" stroke="#ff40ff" stroke-width="2.9"/>
<circle cx="122.5" cy="197.8" r="5.9" fill="none" stroke="#ff40ff" stroke-width="2.9"/>
<circle cx="127.6" cy="215.7" r="5.9" fill="none" stroke="#ff40ff" stroke-width="2.9"/>
<circle cx="117.4" cy="229.1" r="5.9" fill="none" stroke="#ff40ff" stroke-width="2.9"/>
<circle cx="122.6" cy="228.7" r="5.9" fill="none" stroke="#ff40ff" stroke-width="2.9"/>
<circle cx="126.5" cy="230.5" r="5.9" fill="none" stroke="#ff40ff" stroke-width="2.9"/>
<circle cx="112.6" cy="238.7" r="5.9" fill="none" stroke="#ff40ff" stroke-width="2.9"/>
<circle cx="131.3" cy="238.7" r="5.9" fill="none" stroke="#ff40ff" stroke-width="2.9"/>
<circle cx="120.0" cy="236.5" r="5.9" fill="none" stroke="#ff40ff" stroke-width="2.9"/>
<circle cx="124.4" cy="237.0" r="5.9" fill="none" stroke="#ff40ff" stroke-width="2.9"/>
<circle cx="116.0" cy="233.0" r="5.9" fill="none" stroke="#ff40ff" stroke-width="2.9"/>
<circle cx="129.0" cy="234.0" r="5.9" fill="none" stroke="#ff40ff" stroke-width="2.9"/>
<circle cx="115.7" cy="252.6" r="5.9" fill="none" stroke="#ff40ff" stroke-width="2.9"/>
<circle cx="120.5" cy="251.3" r="5.9" fill="none" stroke="#ff40ff" stroke-width="2.9"/>
<circle cx="125.2" cy="250.0" r="5.9" fill="none" stroke="#ff40ff" stroke-width="2.9"/>
<circle cx="129.6" cy="269.2" r="5.9" fill="none" stroke="#ff40ff" stroke-width="2.9"/>
<circle cx="117.2" cy="281.8" r="5.9" fill="none" stroke="#ff40ff" stroke-width="2.9"/>
<circle cx="120.5" cy="292.2" r="5.9" fill="none" stroke="#ff40ff" stroke-width="2.9"/>
<circle cx="127.9" cy="290.9" r="5.9" fill="none" stroke="#ff40ff" stroke-width="2.9"/>
<circle cx="169.7" cy="240.6" r="5.9" fill="none" stroke="#ff40ff" stroke-width="2.9"/>
<circle cx="159.6" cy="253.8" r="5.9" fill="none" stroke="#ff40ff" stroke-width="2.9"/>
<circle cx="165.0" cy="254.5" r="5.9" fill="none" stroke="#ff40ff" stroke-width="2.9"/>
<circle cx="158.1" cy="301.0" r="5.9" fill="none" stroke="#ff40ff" stroke-width="2.9"/>
<circle cx="172.0" cy="297.6" r="5.9" fill="none" stroke="#ff40ff" stroke-width="2.9"/>
<circle cx="207.2" cy="253.0" r="5.9" fill="none" stroke="#ff40ff" stroke-width="2.9"/>
<circle cx="207.2" cy="321.9" r="5.9" fill="none" stroke="#ff40ff" stroke-width="2.9"/>
<circle cx="207.2" cy="339.7" r="5.9" fill="none" stroke="#ff40ff" stroke-width="2.9"/>
<circle cx="213.8" cy="343.0" r="5.9" fill="none" stroke="#ff40ff" stroke-width="2.9"/>
<circle cx="200.2" cy="361.0" r="5.9" fill="none" stroke="#ff40ff" stroke-width="2.9"/>
<circle cx="249.4" cy="273.4" r="5.9" fill="none" stroke="#ff40ff" stroke-width="2.9"/>
<circle cx="242.5" cy="283.6" r="5.9" fill="none" stroke="#ff40ff" stroke-width="2.9"/>
<circle cx="263.3" cy="295.1" r="5.9" fill="none" stroke="#ff40ff" stroke-width="2.9"/>
<circle cx="256.4" cy="305.6" r="5.9" fill="none" stroke="#ff40ff" stroke-width="2.9"/>
<circle cx="242.5" cy="321.9" r="5.9" fill="none" stroke="#ff40ff" stroke-width="2.9"/>
<circle cx="286.0" cy="307.6" r="5.9" fill="none" stroke="#ff40ff" stroke-width="2.9"/>
<circle cx="298.3" cy="311.5" r="5.9" fill="none" stroke="#ff40ff" stroke-width="2.9"/>
<circle cx="288.6" cy="323.4" r="5.9" fill="none" stroke="#ff40ff" stroke-width="2.9"/>
<circle cx="295.5" cy="323.4" r="5.9" fill="none" stroke="#ff40ff" stroke-width="2.9"/>
<circle cx="292.4" cy="325.0" r="5.9" fill="none" stroke="#ff40ff" stroke-width="2.9"/>
<circle cx="327.0" cy="335.0" r="5.9" fill="none" stroke="#ff40ff" stroke-width="2.9"/>
<circle cx="341.2" cy="340.4" r="5.9" fill="none" stroke="#ff40ff" stroke-width="2.9"/>
<circle cx="329.3" cy="374.5" r="5.9" fill="none" stroke="#ff40ff" stroke-width="2.9"/>
<circle cx="335.0" cy="380.7" r="5.9" fill="none" stroke="#ff40ff" stroke-width="2.9"/>
<circle cx="340.4" cy="380.0" r="5.9" fill="none" stroke="#ff40ff" stroke-width="2.9"/>
<circle cx="376.5" cy="359.0" r="5.9" fill="none" stroke="#ff40ff" stroke-width="2.9"/>
<circle cx="376.5" cy="381.4" r="5.9" fill="none" stroke="#ff40ff" stroke-width="2.9"/>
<circle cx="371.0" cy="386.9" r="5.9" fill="none" stroke="#ff40ff" stroke-width="2.9"/>
<circle cx="382.2" cy="391.5" r="5.9" fill="none" stroke="#ff40ff" stroke-width="2.9"/>
<circle cx="376.5" cy="403.1" r="5.9" fill="none" stroke="#ff40ff" stroke-width="2.9"/>
<circle cx="412.4" cy="410.1" r="5.9" fill="none" stroke="#ff40ff" stroke-width="2.9"/>
<circle cx="425.2" cy="414.0" r="5.9" fill="none" stroke="#ff40ff" stroke-width="2.9"/>
<circle cx="418.6" cy="423.2" r="5.9" fill="none" stroke="#ff40ff" stroke-width="2.9"/>
<circle cx="416.0" cy="424.8" r="5.9" fill="none" stroke="#ff40ff" stroke-width="2.9"/>
<circle cx="421.7" cy="424.8" r="5.9" fill="none" stroke="#ff40ff" stroke-width="2.9"/>
<circle cx="418.6" cy="427.9" r="5.9" fill="none" stroke="#ff40ff" stroke-width="2.9"/>
<rect x="104.3" y="653.9" width="28" height="166.7" fill="#bebebe"/>
<rect x="146.9" y="653.2" width="28" height="167.4" fill="#bebebe"/>
<rect x="189.0" y="627.9" width="28" height="192.7" fill="#bebebe"/>
<rect x="231.2" y="636.9" width="28" height="183.7" fill="#bebebe"/>
<rect x="273.9" y="698.1" width="28" height="122.5" fill="#bebebe"/>
<rect x="316.0" y="783.2" width="28" height="37.4" fill="#bebebe"/>
<rect x="358.3" y="780.1" width="28" height="40.5" fill="#bebebe"/>
<rect x="400.8" y="792.9" width="28" height="27.7" fill="#bebebe"/>
<line x1="118.3" y1="653.9" x2="118.3" y2="627.6" stroke="#bcbcbc" stroke-width="2.7" stroke-linecap="round"/>
<line x1="111.3" y1="627.6" x2="125.3" y2="627.6" stroke="#bcbcbc" stroke-width="2.7" stroke-linecap="round"/>
<line x1="160.9" y1="653.2" x2="160.9" y2="620.4" stroke="#bcbcbc" stroke-width="2.7" stroke-linecap="round"/>
<line x1="153.9" y1="620.4" x2="167.9" y2="620.4" stroke="#bcbcbc" stroke-width="2.7" stroke-linecap="round"/>
<line x1="203.0" y1="627.9" x2="203.0" y2="613.2" stroke="#bcbcbc" stroke-width="2.7" stroke-linecap="round"/>
<line x1="196.0" y1="613.2" x2="210.0" y2="613.2" stroke="#bcbcbc" stroke-width="2.7" stroke-linecap="round"/>
<line x1="245.2" y1="636.9" x2="245.2" y2="615.6" stroke="#bcbcbc" stroke-width="2.7" stroke-linecap="round"/>
<line x1="238.2" y1="615.6" x2="252.2" y2="615.6" stroke="#bcbcbc" stroke-width="2.7" stroke-linecap="round"/>
<line x1="287.9" y1="698.1" x2="287.9" y2="655.5" stroke="#bcbcbc" stroke-width="2.7" stroke-linecap="round"/>
<line x1="280.9" y1="655.5" x2="294.9" y2="655.5" stroke="#bcbcbc" stroke-width="2.7" stroke-linecap="round"/>
<line x1="330.0" y1="783.2" x2="330.0" y2="770.0" stroke="#bcbcbc" stroke-width="2.7" stroke-linecap="round"/>
<line x1="323.0" y1="770.0" x2="337.0" y2="770.0" stroke="#bcbcbc" stroke-width="2.7" stroke-linecap="round"/>
<line x1="372.3" y1="780.1" x2="372.3" y2="767.7" stroke="#bcbcbc" stroke-width="2.7" stroke-linecap="round"/>
<line x1="365.3" y1="767.7" x2="379.3" y2="767.7" stroke="#bcbcbc" stroke-width="2.7" stroke-linecap="round"/>
<line x1="414.8" y1="792.9" x2="414.8" y2="775.4" stroke="#bcbcbc" stroke-width="2.7" stroke-linecap="round"/>
<line x1="407.8" y1="775.4" x2="421.8" y2="775.4" stroke="#bcbcbc" stroke-width="2.7" stroke-linecap="round"/>
<path d="M90.2,525.5 V820.6 H443.0" fill="none" stroke="#000" stroke-width="2.8"/>
<line x1="81.2" y1="528.2" x2="90.2" y2="528.2" stroke="#000" stroke-width="2.8"/>
<text x="78.7" y="538.5" font-size="29.5" fill="#000" text-anchor="end" >40</text>
<line x1="81.2" y1="601.3" x2="90.2" y2="601.3" stroke="#000" stroke-width="2.8"/>
<text x="78.7" y="611.6" font-size="29.5" fill="#000" text-anchor="end" >30</text>
<line x1="81.2" y1="674.4" x2="90.2" y2="674.4" stroke="#000" stroke-width="2.8"/>
<text x="78.7" y="684.7" font-size="29.5" fill="#000" text-anchor="end" >20</text>
<line x1="81.2" y1="747.6" x2="90.2" y2="747.6" stroke="#000" stroke-width="2.8"/>
<text x="78.7" y="757.9" font-size="29.5" fill="#000" text-anchor="end" >10</text>
<line x1="81.2" y1="820.8" x2="90.2" y2="820.8" stroke="#000" stroke-width="2.8"/>
<text x="78.7" y="831.1" font-size="29.5" fill="#000" text-anchor="end" >0</text>
<line x1="118.3" y1="820.6" x2="118.3" y2="830.1" stroke="#000" stroke-width="2.8"/>
<text x="118.3" y="855.7" font-size="29.5" fill="#000" text-anchor="middle" >0</text>
<line x1="160.9" y1="820.6" x2="160.9" y2="830.1" stroke="#000" stroke-width="2.8"/>
<text x="160.9" y="855.7" font-size="29.5" fill="#000" text-anchor="middle" >2</text>
<line x1="203.0" y1="820.6" x2="203.0" y2="830.1" stroke="#000" stroke-width="2.8"/>
<text x="203.0" y="855.7" font-size="29.5" fill="#000" text-anchor="middle" >4</text>
<line x1="245.2" y1="820.6" x2="245.2" y2="830.1" stroke="#000" stroke-width="2.8"/>
<text x="245.2" y="855.7" font-size="29.5" fill="#000" text-anchor="middle" >6</text>
<line x1="287.9" y1="820.6" x2="287.9" y2="830.1" stroke="#000" stroke-width="2.8"/>
<text x="287.9" y="855.7" font-size="29.5" fill="#000" text-anchor="middle" >8</text>
<line x1="330.0" y1="820.6" x2="330.0" y2="830.1" stroke="#000" stroke-width="2.8"/>
<text x="330.0" y="855.7" font-size="29.5" fill="#000" text-anchor="middle" >10</text>
<line x1="372.3" y1="820.6" x2="372.3" y2="830.1" stroke="#000" stroke-width="2.8"/>
<text x="372.3" y="855.7" font-size="29.5" fill="#000" text-anchor="middle" >20</text>
<line x1="414.8" y1="820.6" x2="414.8" y2="830.1" stroke="#000" stroke-width="2.8"/>
<text x="414.8" y="855.7" font-size="29.5" fill="#000" text-anchor="middle" >40</text>
<text x="208.5" y="891.7" font-size="29.5" fill="#000" text-anchor="start" >HT [days]</text>
<text transform="translate(36.0,800.5) rotate(-90)" font-size="31" fill="#000" textLength="275.9" lengthAdjust="spacingAndGlyphs">NRL / DAPI&#160; cells [%]</text>
<circle cx="113.0" cy="665.0" r="7.6" fill="#00d0d4"/>
<circle cx="119.0" cy="667.0" r="7.6" fill="#00d0d4"/>
<circle cx="116.0" cy="662.0" r="7.6" fill="#00d0d4"/>
<circle cx="113.3" cy="608.3" r="5.9" fill="none" stroke="#00d0d4" stroke-width="2.9"/>
<circle cx="123.4" cy="605.2" r="5.9" fill="none" stroke="#00d0d4" stroke-width="2.9"/>
<circle cx="118.3" cy="615.0" r="5.9" fill="none" stroke="#00d0d4" stroke-width="2.9"/>
<circle cx="109.0" cy="636.1" r="5.9" fill="none" stroke="#00d0d4" stroke-width="2.9"/>
<circle cx="126.5" cy="636.1" r="5.9" fill="none" stroke="#00d0d4" stroke-width="2.9"/>
<circle cx="109.8" cy="641.6" r="5.9" fill="none" stroke="#00d0d4" stroke-width="2.9"/>
<circle cx="118.3" cy="646.2" r="5.9" fill="none" stroke="#00d0d4" stroke-width="2.9"/>
<circle cx="122.1" cy="644.7" r="5.9" fill="none" stroke="#00d0d4" stroke-width="2.9"/>
<circle cx="125.2" cy="657.8" r="5.9" fill="none" stroke="#00d0d4" stroke-width="2.9"/>
<circle cx="110.5" cy="664.0" r="5.9" fill="none" stroke="#00d0d4" stroke-width="2.9"/>
<circle cx="116.0" cy="666.3" r="5.9" fill="none" stroke="#00d0d4" stroke-width="2.9"/>
<circle cx="122.1" cy="664.0" r="5.9" fill="none" stroke="#00d0d4" stroke-width="2.9"/>
<circle cx="118.3" cy="669.4" r="5.9" fill="none" stroke="#00d0d4" stroke-width="2.9"/>
<circle cx="113.0" cy="667.0" r="5.9" fill="none" stroke="#00d0d4" stroke-width="2.9"/>
<circle cx="120.0" cy="662.0" r="5.9" fill="none" stroke="#00d0d4" stroke-width="2.9"/>
<circle cx="109.0" cy="681.0" r="5.9" fill="none" stroke="#00d0d4" stroke-width="2.9"/>
<circle cx="127.6" cy="678.7" r="5.9" fill="none" stroke="#00d0d4" stroke-width="2.9"/>
<circle cx="122.1" cy="688.0" r="5.9" fill="none" stroke="#00d0d4" stroke-width="2.9"/>
<circle cx="114.4" cy="694.2" r="5.9" fill="none" stroke="#00d0d4" stroke-width="2.9"/>
<circle cx="160.5" cy="609.4" r="5.9" fill="none" stroke="#00d0d4" stroke-width="2.9"/>
<circle cx="153.9" cy="638.5" r="5.9" fill="none" stroke="#00d0d4" stroke-width="2.9"/>
<circle cx="167.5" cy="648.5" r="5.9" fill="none" stroke="#00d0d4" stroke-width="2.9"/>
<circle cx="153.9" cy="688.0" r="5.9" fill="none" stroke="#00d0d4" stroke-width="2.9"/>
<circle cx="167.5" cy="683.3" r="5.9" fill="none" stroke="#00d0d4" stroke-width="2.9"/>
<circle cx="196.1" cy="609.4" r="5.9" fill="none" stroke="#00d0d4" stroke-width="2.9"/>
<circle cx="210.1" cy="615.2" r="5.9" fill="none" stroke="#00d0d4" stroke-width="2.9"/>
<circle cx="198.0" cy="633.8" r="5.9" fill="none" stroke="#00d0d4" stroke-width="2.9"/>
<circle cx="203.4" cy="640.8" r="5.9" fill="none" stroke="#00d0d4" stroke-width="2.9"/>
<circle cx="208.8" cy="640.0" r="5.9" fill="none" stroke="#00d0d4" stroke-width="2.9"/>
<circle cx="245.2" cy="609.8" r="5.9" fill="none" stroke="#00d0d4" stroke-width="2.9"/>
<circle cx="238.2" cy="622.7" r="5.9" fill="none" stroke="#00d0d4" stroke-width="2.9"/>
<circle cx="259.1" cy="640.5" r="5.9" fill="none" stroke="#00d0d4" stroke-width="2.9"/>
<circle cx="252.2" cy="648.5" r="5.9" fill="none" stroke="#00d0d4" stroke-width="2.9"/>
<circle cx="238.2" cy="663.7" r="5.9" fill="none" stroke="#00d0d4" stroke-width="2.9"/>
<circle cx="287.4" cy="641.2" r="5.9" fill="none" stroke="#00d0d4" stroke-width="2.9"/>
<circle cx="287.4" cy="677.6" r="5.9" fill="none" stroke="#00d0d4" stroke-width="2.9"/>
<circle cx="280.5" cy="700.7" r="5.9" fill="none" stroke="#00d0d4" stroke-width="2.9"/>
<circle cx="294.4" cy="716.6" r="5.9" fill="none" stroke="#00d0d4" stroke-width="2.9"/>
<circle cx="287.4" cy="753.8" r="5.9" fill="none" stroke="#00d0d4" stroke-width="2.9"/>
<circle cx="323.0" cy="766.6" r="5.9" fill="none" stroke="#00d0d4" stroke-width="2.9"/>
<circle cx="336.7" cy="772.3" r="5.9" fill="none" stroke="#00d0d4" stroke-width="2.9"/>
<circle cx="324.6" cy="785.5" r="5.9" fill="none" stroke="#00d0d4" stroke-width="2.9"/>
<circle cx="330.0" cy="794.8" r="5.9" fill="none" stroke="#00d0d4" stroke-width="2.9"/>
<circle cx="335.4" cy="792.5" r="5.9" fill="none" stroke="#00d0d4" stroke-width="2.9"/>
<circle cx="372.1" cy="762.3" r="5.9" fill="none" stroke="#00d0d4" stroke-width="2.9"/>
<circle cx="381.1" cy="773.1" r="5.9" fill="none" stroke="#00d0d4" stroke-width="2.9"/>
<circle cx="363.3" cy="782.1" r="5.9" fill="none" stroke="#00d0d4" stroke-width="2.9"/>
<circle cx="368.7" cy="790.1" r="5.9" fill="none" stroke="#00d0d4" stroke-width="2.9"/>
<circle cx="375.7" cy="789.4" r="5.9" fill="none" stroke="#00d0d4" stroke-width="2.9"/>
<circle cx="409.3" cy="778.5" r="5.9" fill="none" stroke="#00d0d4" stroke-width="2.9"/>
<circle cx="419.8" cy="773.1" r="5.9" fill="none" stroke="#00d0d4" stroke-width="2.9"/>
<circle cx="414.4" cy="790.5" r="5.9" fill="none" stroke="#00d0d4" stroke-width="2.9"/>
<circle cx="407.7" cy="810.0" r="5.9" fill="none" stroke="#00d0d4" stroke-width="2.9"/>
<circle cx="421.6" cy="809.5" r="5.9" fill="none" stroke="#00d0d4" stroke-width="2.9"/>
<rect x="104.5" y="1201.5" width="28" height="0.0" fill="#bebebe"/>
<rect x="147.0" y="1201.5" width="28" height="0.0" fill="#bebebe"/>
<rect x="189.5" y="1201.5" width="28" height="0.0" fill="#bebebe"/>
<rect x="232.0" y="1174.4" width="28" height="27.1" fill="#bebebe"/>
<rect x="274.0" y="1141.0" width="28" height="60.5" fill="#bebebe"/>
<rect x="316.0" y="1097.4" width="28" height="104.1" fill="#bebebe"/>
<rect x="358.4" y="985.0" width="28" height="216.5" fill="#bebebe"/>
<rect x="400.7" y="966.9" width="28" height="234.6" fill="#bebebe"/>
<line x1="118.5" y1="1201.5" x2="118.5" y2="1201.5" stroke="#bcbcbc" stroke-width="2.7" stroke-linecap="round"/>
<line x1="111.5" y1="1201.5" x2="125.5" y2="1201.5" stroke="#bcbcbc" stroke-width="2.7" stroke-linecap="round"/>
<line x1="161.0" y1="1201.5" x2="161.0" y2="1201.5" stroke="#bcbcbc" stroke-width="2.7" stroke-linecap="round"/>
<line x1="154.0" y1="1201.5" x2="168.0" y2="1201.5" stroke="#bcbcbc" stroke-width="2.7" stroke-linecap="round"/>
<line x1="203.5" y1="1201.5" x2="203.5" y2="1201.5" stroke="#bcbcbc" stroke-width="2.7" stroke-linecap="round"/>
<line x1="196.5" y1="1201.5" x2="210.5" y2="1201.5" stroke="#bcbcbc" stroke-width="2.7" stroke-linecap="round"/>
<line x1="246.0" y1="1174.4" x2="246.0" y2="1149.6" stroke="#bcbcbc" stroke-width="2.7" stroke-linecap="round"/>
<line x1="239.0" y1="1149.6" x2="253.0" y2="1149.6" stroke="#bcbcbc" stroke-width="2.7" stroke-linecap="round"/>
<line x1="288.0" y1="1141.0" x2="288.0" y2="1106.6" stroke="#bcbcbc" stroke-width="2.7" stroke-linecap="round"/>
<line x1="281.0" y1="1106.6" x2="295.0" y2="1106.6" stroke="#bcbcbc" stroke-width="2.7" stroke-linecap="round"/>
<line x1="330.0" y1="1097.4" x2="330.0" y2="1056.5" stroke="#bcbcbc" stroke-width="2.7" stroke-linecap="round"/>
<line x1="323.0" y1="1056.5" x2="337.0" y2="1056.5" stroke="#bcbcbc" stroke-width="2.7" stroke-linecap="round"/>
<line x1="372.4" y1="985.0" x2="372.4" y2="944.0" stroke="#bcbcbc" stroke-width="2.7" stroke-linecap="round"/>
<line x1="365.4" y1="944.0" x2="379.4" y2="944.0" stroke="#bcbcbc" stroke-width="2.7" stroke-linecap="round"/>
<line x1="414.7" y1="966.9" x2="414.7" y2="914.0" stroke="#bcbcbc" stroke-width="2.7" stroke-linecap="round"/>
<line x1="407.7" y1="914.0" x2="421.7" y2="914.0" stroke="#bcbcbc" stroke-width="2.7" stroke-linecap="round"/>
<path d="M91.2,908.2 V1201.5 H443.5" fill="none" stroke="#000" stroke-width="2.8"/>
<line x1="82.2" y1="910.2" x2="91.2" y2="910.2" stroke="#000" stroke-width="2.8"/>
<text x="79.7" y="920.5" font-size="29.5" fill="#000" text-anchor="end" >60</text>
<line x1="82.2" y1="1007.7" x2="91.2" y2="1007.7" stroke="#000" stroke-width="2.8"/>
<text x="79.7" y="1018.0" font-size="29.5" fill="#000" text-anchor="end" >40</text>
<line x1="82.2" y1="1105.2" x2="91.2" y2="1105.2" stroke="#000" stroke-width="2.8"/>
<text x="79.7" y="1115.5" font-size="29.5" fill="#000" text-anchor="end" >20</text>
<line x1="82.2" y1="1202.7" x2="91.2" y2="1202.7" stroke="#000" stroke-width="2.8"/>
<text x="79.7" y="1213.0" font-size="29.5" fill="#000" text-anchor="end" >0</text>
<line x1="118.5" y1="1201.5" x2="118.5" y2="1211.0" stroke="#000" stroke-width="2.8"/>
<text x="118.5" y="1237.0" font-size="29.5" fill="#000" text-anchor="middle" >0</text>
<line x1="161.0" y1="1201.5" x2="161.0" y2="1211.0" stroke="#000" stroke-width="2.8"/>
<text x="161.0" y="1237.0" font-size="29.5" fill="#000" text-anchor="middle" >2</text>
<line x1="203.5" y1="1201.5" x2="203.5" y2="1211.0" stroke="#000" stroke-width="2.8"/>
<text x="203.5" y="1237.0" font-size="29.5" fill="#000" text-anchor="middle" >4</text>
<line x1="246.0" y1="1201.5" x2="246.0" y2="1211.0" stroke="#000" stroke-width="2.8"/>
<text x="246.0" y="1237.0" font-size="29.5" fill="#000" text-anchor="middle" >6</text>
<line x1="288.0" y1="1201.5" x2="288.0" y2="1211.0" stroke="#000" stroke-width="2.8"/>
<text x="288.0" y="1237.0" font-size="29.5" fill="#000" text-anchor="middle" >8</text>
<line x1="330.0" y1="1201.5" x2="330.0" y2="1211.0" stroke="#000" stroke-width="2.8"/>
<text x="330.0" y="1237.0" font-size="29.5" fill="#000" text-anchor="middle" >10</text>
<line x1="372.4" y1="1201.5" x2="372.4" y2="1211.0" stroke="#000" stroke-width="2.8"/>
<text x="372.4" y="1237.0" font-size="29.5" fill="#000" text-anchor="middle" >20</text>
<line x1="414.7" y1="1201.5" x2="414.7" y2="1211.0" stroke="#000" stroke-width="2.8"/>
<text x="414.7" y="1237.0" font-size="29.5" fill="#000" text-anchor="middle" >40</text>
<text x="208.5" y="1276.8" font-size="29.5" fill="#000" text-anchor="start" >HT [days]</text>
<text transform="translate(36.0,1189.7) rotate(-90)" font-size="31" fill="#000" textLength="286.2" lengthAdjust="spacingAndGlyphs">GFAP / DAPI [area %]</text>
<circle cx="112.5" cy="1200.5" r="7.6" fill="#ff40ff"/>
<circle cx="118.0" cy="1200.5" r="7.6" fill="#ff40ff"/>
<circle cx="124.0" cy="1200.5" r="7.6" fill="#ff40ff"/>
<circle cx="126.5" cy="1200.5" r="7.6" fill="#ff40ff"/>
<circle cx="155.0" cy="1200.0" r="7.6" fill="#ff40ff"/>
<circle cx="161.0" cy="1200.0" r="7.6" fill="#ff40ff"/>
<circle cx="167.5" cy="1200.0" r="7.6" fill="#ff40ff"/>
<circle cx="197.0" cy="1200.0" r="7.6" fill="#ff40ff"/>
<circle cx="203.5" cy="1200.0" r="7.6" fill="#ff40ff"/>
<circle cx="209.5" cy="1200.0" r="7.6" fill="#ff40ff"/>
<circle cx="246.0" cy="1136.4" r="5.9" fill="none" stroke="#ff40ff" stroke-width="2.9"/>
<circle cx="239.0" cy="1168.2" r="5.9" fill="none" stroke="#ff40ff" stroke-width="2.9"/>
<circle cx="259.6" cy="1176.7" r="5.9" fill="none" stroke="#ff40ff" stroke-width="2.9"/>
<circle cx="252.6" cy="1189.8" r="5.9" fill="none" stroke="#ff40ff" stroke-width="2.9"/>
<circle cx="239.0" cy="1199.1" r="5.9" fill="none" stroke="#ff40ff" stroke-width="2.9"/>
<circle cx="281.1" cy="1117.5" r="5.9" fill="none" stroke="#ff40ff" stroke-width="2.9"/>
<circle cx="295.0" cy="1100.8" r="5.9" fill="none" stroke="#ff40ff" stroke-width="2.9"/>
<circle cx="281.1" cy="1147.5" r="5.9" fill="none" stroke="#ff40ff" stroke-width="2.9"/>
<circle cx="295.0" cy="1151.6" r="5.9" fill="none" stroke="#ff40ff" stroke-width="2.9"/>
<circle cx="287.9" cy="1188.3" r="5.9" fill="none" stroke="#ff40ff" stroke-width="2.9"/>
<circle cx="329.8" cy="1027.2" r="5.9" fill="none" stroke="#ff40ff" stroke-width="2.9"/>
<circle cx="323.0" cy="1101.5" r="5.9" fill="none" stroke="#ff40ff" stroke-width="2.9"/>
<circle cx="337.3" cy="1107.3" r="5.9" fill="none" stroke="#ff40ff" stroke-width="2.9"/>
<circle cx="323.0" cy="1124.6" r="5.9" fill="none" stroke="#ff40ff" stroke-width="2.9"/>
<circle cx="337.3" cy="1124.6" r="5.9" fill="none" stroke="#ff40ff" stroke-width="2.9"/>
<circle cx="372.4" cy="943.7" r="5.9" fill="none" stroke="#ff40ff" stroke-width="2.9"/>
<circle cx="379.9" cy="957.7" r="5.9" fill="none" stroke="#ff40ff" stroke-width="2.9"/>
<circle cx="365.2" cy="971.0" r="5.9" fill="none" stroke="#ff40ff" stroke-width="2.9"/>
<circle cx="372.4" cy="1015.6" r="5.9" fill="none" stroke="#ff40ff" stroke-width="2.9"/>
<circle cx="372.4" cy="1037.4" r="5.9" fill="none" stroke="#ff40ff" stroke-width="2.9"/>
<circle cx="414.7" cy="931.8" r="5.9" fill="none" stroke="#ff40ff" stroke-width="2.9"/>
<circle cx="407.8" cy="979.8" r="5.9" fill="none" stroke="#ff40ff" stroke-width="2.9"/>
<circle cx="421.8" cy="981.5" r="5.9" fill="none" stroke="#ff40ff" stroke-width="2.9"/>
<circle cx="414.7" cy="1039.5" r="5.9" fill="none" stroke="#ff40ff" stroke-width="2.9"/>
<rect x="109.5" y="1489.0" width="28" height="97.0" fill="#bebebe"/>
<rect x="151.9" y="1493.1" width="28" height="92.9" fill="#bebebe"/>
<rect x="194.0" y="1483.3" width="28" height="102.7" fill="#bebebe"/>
<rect x="236.2" y="1460.9" width="28" height="125.1" fill="#bebebe"/>
<rect x="278.4" y="1448.6" width="28" height="137.4" fill="#bebebe"/>
<rect x="320.9" y="1424.6" width="28" height="161.4" fill="#bebebe"/>
<rect x="363.1" y="1358.6" width="28" height="227.4" fill="#bebebe"/>
<rect x="405.2" y="1388.5" width="28" height="197.5" fill="#bebebe"/>
<line x1="123.5" y1="1489.0" x2="123.5" y2="1468.0" stroke="#bcbcbc" stroke-width="2.7" stroke-linecap="round"/>
<line x1="116.5" y1="1468.0" x2="130.5" y2="1468.0" stroke="#bcbcbc" stroke-width="2.7" stroke-linecap="round"/>
<line x1="165.9" y1="1493.1" x2="165.9" y2="1474.4" stroke="#bcbcbc" stroke-width="2.7" stroke-linecap="round"/>
<line x1="158.9" y1="1474.4" x2="172.9" y2="1474.4" stroke="#bcbcbc" stroke-width="2.7" stroke-linecap="round"/>
<line x1="208.0" y1="1483.3" x2="208.0" y2="1464.2" stroke="#bcbcbc" stroke-width="2.7" stroke-linecap="round"/>
<line x1="201.0" y1="1464.2" x2="215.0" y2="1464.2" stroke="#bcbcbc" stroke-width="2.7" stroke-linecap="round"/>
<line x1="250.2" y1="1460.9" x2="250.2" y2="1424.9" stroke="#bcbcbc" stroke-width="2.7" stroke-linecap="round"/>
<line x1="243.2" y1="1424.9" x2="257.2" y2="1424.9" stroke="#bcbcbc" stroke-width="2.7" stroke-linecap="round"/>
<line x1="292.4" y1="1448.6" x2="292.4" y2="1434.6" stroke="#bcbcbc" stroke-width="2.7" stroke-linecap="round"/>
<line x1="285.4" y1="1434.6" x2="299.4" y2="1434.6" stroke="#bcbcbc" stroke-width="2.7" stroke-linecap="round"/>
<line x1="334.9" y1="1424.6" x2="334.9" y2="1402.1" stroke="#bcbcbc" stroke-width="2.7" stroke-linecap="round"/>
<line x1="327.9" y1="1402.1" x2="341.9" y2="1402.1" stroke="#bcbcbc" stroke-width="2.7" stroke-linecap="round"/>
<line x1="377.1" y1="1358.6" x2="377.1" y2="1332.4" stroke="#bcbcbc" stroke-width="2.7" stroke-linecap="round"/>
<line x1="370.1" y1="1332.4" x2="384.1" y2="1332.4" stroke="#bcbcbc" stroke-width="2.7" stroke-linecap="round"/>
<line x1="419.2" y1="1388.5" x2="419.2" y2="1359.2" stroke="#bcbcbc" stroke-width="2.7" stroke-linecap="round"/>
<line x1="412.2" y1="1359.2" x2="426.2" y2="1359.2" stroke="#bcbcbc" stroke-width="2.7" stroke-linecap="round"/>
<path d="M96.5,1291.0 V1586.0 H447.6" fill="none" stroke="#000" stroke-width="2.8"/>
<line x1="87.5" y1="1292.1" x2="96.5" y2="1292.1" stroke="#000" stroke-width="2.8"/>
<text x="85.0" y="1302.4" font-size="29.5" fill="#000" text-anchor="end" >80</text>
<line x1="87.5" y1="1366.0" x2="96.5" y2="1366.0" stroke="#000" stroke-width="2.8"/>
<text x="85.0" y="1376.3" font-size="29.5" fill="#000" text-anchor="end" >60</text>
<line x1="87.5" y1="1439.3" x2="96.5" y2="1439.3" stroke="#000" stroke-width="2.8"/>
<text x="85.0" y="1449.6" font-size="29.5" fill="#000" text-anchor="end" >40</text>
<line x1="87.5" y1="1512.6" x2="96.5" y2="1512.6" stroke="#000" stroke-width="2.8"/>
<text x="85.0" y="1522.9" font-size="29.5" fill="#000" text-anchor="end" >20</text>
<line x1="87.5" y1="1585.9" x2="96.5" y2="1585.9" stroke="#000" stroke-width="2.8"/>
<text x="85.0" y="1596.2" font-size="29.5" fill="#000" text-anchor="end" >0</text>
<line x1="123.5" y1="1586.0" x2="123.5" y2="1595.5" stroke="#000" stroke-width="2.8"/>
<text x="123.5" y="1621.2" font-size="29.5" fill="#000" text-anchor="middle" >0</text>
<line x1="165.9" y1="1586.0" x2="165.9" y2="1595.5" stroke="#000" stroke-width="2.8"/>
<text x="165.9" y="1621.2" font-size="29.5" fill="#000" text-anchor="middle" >2</text>
<line x1="208.0" y1="1586.0" x2="208.0" y2="1595.5" stroke="#000" stroke-width="2.8"/>
<text x="208.0" y="1621.2" font-size="29.5" fill="#000" text-anchor="middle" >4</text>
<line x1="250.2" y1="1586.0" x2="250.2" y2="1595.5" stroke="#000" stroke-width="2.8"/>
<text x="250.2" y="1621.2" font-size="29.5" fill="#000" text-anchor="middle" >6</text>
<line x1="292.4" y1="1586.0" x2="292.4" y2="1595.5" stroke="#000" stroke-width="2.8"/>
<text x="292.4" y="1621.2" font-size="29.5" fill="#000" text-anchor="middle" >8</text>
<line x1="334.9" y1="1586.0" x2="334.9" y2="1595.5" stroke="#000" stroke-width="2.8"/>
<text x="334.9" y="1621.2" font-size="29.5" fill="#000" text-anchor="middle" >10</text>
<line x1="377.1" y1="1586.0" x2="377.1" y2="1595.5" stroke="#000" stroke-width="2.8"/>
<text x="377.1" y="1621.2" font-size="29.5" fill="#000" text-anchor="middle" >20</text>
<line x1="419.2" y1="1586.0" x2="419.2" y2="1595.5" stroke="#000" stroke-width="2.8"/>
<text x="419.2" y="1621.2" font-size="29.5" fill="#000" text-anchor="middle" >40</text>
<text x="212.5" y="1654.9" font-size="29.5" fill="#000" text-anchor="start" >HT [days]</text>
<text transform="translate(36.0,1577.9) rotate(-90)" font-size="31" fill="#000" textLength="287.9" lengthAdjust="spacingAndGlyphs">SOX9 / DAPI cells [%]</text>
<circle cx="119.0" cy="1478.0" r="7.6" fill="#10c0e4"/>
<circle cx="128.0" cy="1478.0" r="7.6" fill="#10c0e4"/>
<circle cx="123.5" cy="1484.0" r="7.6" fill="#10c0e4"/>
<circle cx="123.5" cy="1433.1" r="5.9" fill="none" stroke="#10c0e4" stroke-width="2.9"/>
<circle cx="130.5" cy="1454.4" r="5.9" fill="none" stroke="#10c0e4" stroke-width="2.9"/>
<circle cx="116.7" cy="1471.4" r="5.9" fill="none" stroke="#10c0e4" stroke-width="2.9"/>
<circle cx="125.0" cy="1496.8" r="5.9" fill="none" stroke="#10c0e4" stroke-width="2.9"/>
<circle cx="114.5" cy="1508.0" r="5.9" fill="none" stroke="#10c0e4" stroke-width="2.9"/>
<circle cx="119.7" cy="1511.8" r="5.9" fill="none" stroke="#10c0e4" stroke-width="2.9"/>
<circle cx="132.5" cy="1504.3" r="5.9" fill="none" stroke="#10c0e4" stroke-width="2.9"/>
<circle cx="121.2" cy="1516.3" r="5.9" fill="none" stroke="#10c0e4" stroke-width="2.9"/>
<circle cx="127.0" cy="1508.0" r="5.9" fill="none" stroke="#10c0e4" stroke-width="2.9"/>
<circle cx="165.4" cy="1469.9" r="5.9" fill="none" stroke="#10c0e4" stroke-width="2.9"/>
<circle cx="158.7" cy="1479.6" r="5.9" fill="none" stroke="#10c0e4" stroke-width="2.9"/>
<circle cx="172.6" cy="1493.1" r="5.9" fill="none" stroke="#10c0e4" stroke-width="2.9"/>
<circle cx="158.7" cy="1511.8" r="5.9" fill="none" stroke="#10c0e4" stroke-width="2.9"/>
<circle cx="172.6" cy="1509.9" r="5.9" fill="none" stroke="#10c0e4" stroke-width="2.9"/>
<circle cx="202.9" cy="1464.6" r="5.9" fill="none" stroke="#10c0e4" stroke-width="2.9"/>
<circle cx="212.7" cy="1464.6" r="5.9" fill="none" stroke="#10c0e4" stroke-width="2.9"/>
<circle cx="207.7" cy="1479.6" r="5.9" fill="none" stroke="#10c0e4" stroke-width="2.9"/>
<circle cx="201.1" cy="1503.1" r="5.9" fill="none" stroke="#10c0e4" stroke-width="2.9"/>
<circle cx="214.9" cy="1502.8" r="5.9" fill="none" stroke="#10c0e4" stroke-width="2.9"/>
<circle cx="243.4" cy="1421.9" r="5.9" fill="none" stroke="#10c0e4" stroke-width="2.9"/>
<circle cx="256.9" cy="1422.9" r="5.9" fill="none" stroke="#10c0e4" stroke-width="2.9"/>
<circle cx="244.9" cy="1483.3" r="5.9" fill="none" stroke="#10c0e4" stroke-width="2.9"/>
<circle cx="250.9" cy="1487.1" r="5.9" fill="none" stroke="#10c0e4" stroke-width="2.9"/>
<circle cx="255.4" cy="1487.8" r="5.9" fill="none" stroke="#10c0e4" stroke-width="2.9"/>
<circle cx="297.4" cy="1431.9" r="5.9" fill="none" stroke="#10c0e4" stroke-width="2.9"/>
<circle cx="288.0" cy="1443.9" r="5.9" fill="none" stroke="#10c0e4" stroke-width="2.9"/>
<circle cx="292.5" cy="1443.9" r="5.9" fill="none" stroke="#10c0e4" stroke-width="2.9"/>
<circle cx="299.2" cy="1453.8" r="5.9" fill="none" stroke="#10c0e4" stroke-width="2.9"/>
<circle cx="285.4" cy="1468.7" r="5.9" fill="none" stroke="#10c0e4" stroke-width="2.9"/>
<circle cx="334.7" cy="1392.4" r="5.9" fill="none" stroke="#10c0e4" stroke-width="2.9"/>
<circle cx="327.7" cy="1414.1" r="5.9" fill="none" stroke="#10c0e4" stroke-width="2.9"/>
<circle cx="348.4" cy="1426.8" r="5.9" fill="none" stroke="#10c0e4" stroke-width="2.9"/>
<circle cx="341.6" cy="1439.9" r="5.9" fill="none" stroke="#10c0e4" stroke-width="2.9"/>
<circle cx="327.7" cy="1449.3" r="5.9" fill="none" stroke="#10c0e4" stroke-width="2.9"/>
<circle cx="371.9" cy="1331.5" r="5.9" fill="none" stroke="#10c0e4" stroke-width="2.9"/>
<circle cx="382.1" cy="1341.3" r="5.9" fill="none" stroke="#10c0e4" stroke-width="2.9"/>
<circle cx="376.7" cy="1349.5" r="5.9" fill="none" stroke="#10c0e4" stroke-width="2.9"/>
<circle cx="376.7" cy="1375.4" r="5.9" fill="none" stroke="#10c0e4" stroke-width="2.9"/>
<circle cx="376.7" cy="1394.9" r="5.9" fill="none" stroke="#10c0e4" stroke-width="2.9"/>
<circle cx="414.2" cy="1358.6" r="5.9" fill="none" stroke="#10c0e4" stroke-width="2.9"/>
<circle cx="419.9" cy="1372.9" r="5.9" fill="none" stroke="#10c0e4" stroke-width="2.9"/>
<circle cx="424.1" cy="1372.9" r="5.9" fill="none" stroke="#10c0e4" stroke-width="2.9"/>
<circle cx="419.1" cy="1409.9" r="5.9" fill="none" stroke="#10c0e4" stroke-width="2.9"/>
<circle cx="419.1" cy="1429.1" r="5.9" fill="none" stroke="#10c0e4" stroke-width="2.9"/>
<text x="159.0" y="1720.3" font-size="29" fill="#000" text-anchor="start" >PHOTORECEPTOR DEGENERATION</text>
<path d="M155.4,1728.7 V1973 H397.2" fill="none" stroke="#000" stroke-width="3.6"/>
<line x1="146.3" y1="1750.7" x2="155.4" y2="1750.7" stroke="#000" stroke-width="2.6"/>
<text x="141.3" y="1759.9" font-size="25" fill="#000" text-anchor="end" >32</text>
<line x1="146.3" y1="1795" x2="155.4" y2="1795" stroke="#000" stroke-width="2.6"/>
<text x="141.3" y="1804.2" font-size="25" fill="#000" text-anchor="end" >8</text>
<line x1="146.3" y1="1839.9" x2="155.4" y2="1839.9" stroke="#000" stroke-width="2.6"/>
<text x="141.3" y="1849.1" font-size="25" fill="#000" text-anchor="end" >2</text>
<line x1="146.3" y1="1884" x2="155.4" y2="1884" stroke="#000" stroke-width="2.6"/>
<text x="141.3" y="1893.2" font-size="25" fill="#000" text-anchor="end" >0.5</text>
<line x1="146.3" y1="1929.2" x2="155.4" y2="1929.2" stroke="#000" stroke-width="2.6"/>
<text x="141.3" y="1938.4" font-size="25" fill="#000" text-anchor="end" >0.1</text>
<line x1="146.3" y1="1973" x2="155.4" y2="1973" stroke="#000" stroke-width="2.6"/>
<text x="141.3" y="1982.2" font-size="25" fill="#000" text-anchor="end" >0.03</text>
<line x1="155.6" y1="1973" x2="155.6" y2="1986" stroke="#000" stroke-width="3"/>
<line x1="187.4" y1="1973" x2="187.4" y2="1986" stroke="#000" stroke-width="3"/>
<line x1="219.6" y1="1973" x2="219.6" y2="1986" stroke="#000" stroke-width="3"/>
<line x1="252" y1="1973" x2="252" y2="1986" stroke="#000" stroke-width="3"/>
<line x1="284.2" y1="1973" x2="284.2" y2="1986" stroke="#000" stroke-width="3"/>
<line x1="316.3" y1="1973" x2="316.3" y2="1986" stroke="#000" stroke-width="3"/>
<line x1="348.5" y1="1973" x2="348.5" y2="1986" stroke="#000" stroke-width="3"/>
<line x1="381" y1="1973" x2="381" y2="1986" stroke="#000" stroke-width="3"/>
<text x="158.9" y="2012.3" font-size="25" fill="#000" text-anchor="middle" >0</text>
<text x="186.9" y="2012.3" font-size="25" fill="#000" text-anchor="middle" >2</text>
<text x="217.0" y="2012.3" font-size="25" fill="#000" text-anchor="middle" >4</text>
<text x="252.0" y="2012.3" font-size="25" fill="#000" text-anchor="middle" >6</text>
<text x="282.7" y="2012.3" font-size="25" fill="#000" text-anchor="middle" >8</text>
<text x="316.3" y="2012.3" font-size="25" fill="#000" text-anchor="middle" >10</text>
<text x="347.0" y="2012.3" font-size="25" fill="#000" text-anchor="middle" >20</text>
<text x="380.2" y="2012.3" font-size="25" fill="#000" text-anchor="middle" >40</text>
<text x="402.0" y="2011.5" font-size="29.5" fill="#000" text-anchor="start" >HT [days]</text>
<line x1="219.6" y1="1729" x2="219.6" y2="1970" stroke="#000" stroke-width="2.2" stroke-dasharray="9,7"/>
<text transform="translate(99.2,1919.2) rotate(-90)" font-size="30.3" fill="#000" textLength="160.0" lengthAdjust="spacingAndGlyphs">Fold change</text>
<path d="M155.6,1861.7 L187.3,1866.2 L219.2,1870.4 L252.0,1869.0 L284.2,1896.0 L316.3,1916.7 L348.5,1958.2" fill="none" stroke="#9a9a9a" stroke-width="3.8" stroke-linejoin="round" stroke-linecap="round"/>
<path d="M155.6,1861.7 L187.3,1867.7 L219.2,1879.3 L252.0,1872.5 L284.2,1877.6 L316.3,1891.1 L348.5,1902.1 L381.0,1927.1" fill="none" stroke="#ff40ff" stroke-width="3.8" stroke-linejoin="round" stroke-linecap="round"/>
<path d="M155.6,1861.7 L187.3,1861.0 L219.2,1856.9 L252.0,1858.6 L284.2,1871.4 L316.3,1908.8 L348.5,1906.7 L381.0,1918.0" fill="none" stroke="#1fd0d8" stroke-width="3.8" stroke-linejoin="round" stroke-linecap="round"/>
<path d="M155.6,1861.7 L187.3,1863.1 L219.2,1865.2 L252.0,1867.3 L284.2,1883.9 L316.3,1890.1 L348.5,1898.0 L381.0,1916.6" fill="none" stroke="#10e010" stroke-width="3.8" stroke-linejoin="round" stroke-linecap="round"/>
<path d="M155.6,1861.7 L187.3,1833.0 L219.2,1830.3 L252.0,1808.2 L284.2,1764.6 L316.3,1768.7 L348.5,1793.6 L381.0,1824.7" fill="none" stroke="#0a6a38" stroke-width="3.8" stroke-linejoin="round" stroke-linecap="round"/>
<text x="392.4" y="1830.5" font-size="28.8" fill="#0a6a38" textLength="208.4" lengthAdjust="spacingAndGlyphs">Ectopic RCVRN</text>
<text x="392.4" y="1863.1" font-size="28.8" fill="#10e010" textLength="197.3" lengthAdjust="spacingAndGlyphs">RCVRN / DAPI</text>
<text x="392.3" y="1895.3" font-size="28.8" fill="#1fd0d8" textLength="151.4" lengthAdjust="spacingAndGlyphs">NRL / DAPI</text>
<text x="394.7" y="1927.6" font-size="28.8" fill="#ff40ff" textLength="169.3" lengthAdjust="spacingAndGlyphs">ARR3 / DAPI</text>
<text x="392.4" y="1960.3" font-size="28.8" fill="#9a9a9a" textLength="176.5" lengthAdjust="spacingAndGlyphs">RCVRN+ PIS</text>
<line x1="215.2" y1="2025.2" x2="384.2" y2="2025.2" stroke="#9a9a9a" stroke-width="5.2" stroke-linecap="round"/>
<line x1="216.2" y1="2035.0" x2="384.2" y2="2035.0" stroke="#ff40ff" stroke-width="5.2" stroke-linecap="round"/>
<line x1="252.6" y1="2045.0" x2="384.2" y2="2045.0" stroke="#10e010" stroke-width="5.2" stroke-linecap="round"/>
<line x1="284.6" y1="2054.7" x2="384.2" y2="2054.7" stroke="#1fd0d8" stroke-width="5.2" stroke-linecap="round"/>
<line x1="283.6" y1="2064.4" x2="351.0" y2="2064.4" stroke="#0a6a38" stroke-width="5.2" stroke-linecap="round"/>
<text x="590.0" y="2054.4" font-size="25" fill="#000" text-anchor="start" >P&lt;0.05 (vs. DAY 0)</text>
<text x="852.0" y="1714.8" font-size="29" fill="#000" text-anchor="start" >GLIAL PATHOLOGIES</text>
<path d="M862.7,1728.7 V1969.4 H1103" fill="none" stroke="#000" stroke-width="3.6"/>
<line x1="853.5" y1="1755.2" x2="862.7" y2="1755.2" stroke="#000" stroke-width="2.6"/>
<text x="850.5" y="1764.4" font-size="25" fill="#000" text-anchor="end" >128</text>
<line x1="853.5" y1="1808.6" x2="862.7" y2="1808.6" stroke="#000" stroke-width="2.6"/>
<text x="850.5" y="1817.8" font-size="25" fill="#000" text-anchor="end" >32</text>
<line x1="853.5" y1="1862.1" x2="862.7" y2="1862.1" stroke="#000" stroke-width="2.6"/>
<text x="850.5" y="1871.3" font-size="25" fill="#000" text-anchor="end" >8</text>
<line x1="853.5" y1="1915.1" x2="862.7" y2="1915.1" stroke="#000" stroke-width="2.6"/>
<text x="850.5" y="1924.3" font-size="25" fill="#000" text-anchor="end" >2</text>
<line x1="853.5" y1="1967.9" x2="862.7" y2="1967.9" stroke="#000" stroke-width="2.6"/>
<text x="850.5" y="1977.1" font-size="25" fill="#000" text-anchor="end" >0.5</text>
<line x1="862.7" y1="1969.4" x2="862.7" y2="1982.5" stroke="#000" stroke-width="3"/>
<line x1="894.5" y1="1969.4" x2="894.5" y2="1982.5" stroke="#000" stroke-width="3"/>
<line x1="925.7" y1="1969.4" x2="925.7" y2="1982.5" stroke="#000" stroke-width="3"/>
<line x1="958.5" y1="1969.4" x2="958.5" y2="1982.5" stroke="#000" stroke-width="3"/>
<line x1="991.2" y1="1969.4" x2="991.2" y2="1982.5" stroke="#000" stroke-width="3"/>
<line x1="1023.9" y1="1969.4" x2="1023.9" y2="1982.5" stroke="#000" stroke-width="3"/>
<line x1="1055.7" y1="1969.4" x2="1055.7" y2="1982.5" stroke="#000" stroke-width="3"/>
<line x1="1088.1" y1="1969.4" x2="1088.1" y2="1982.5" stroke="#000" stroke-width="3"/>
<text x="863.3" y="2007.5" font-size="25" fill="#000" text-anchor="middle" >0</text>
<text x="896.0" y="2007.5" font-size="25" fill="#000" text-anchor="middle" >2</text>
<text x="926.2" y="2007.5" font-size="25" fill="#000" text-anchor="middle" >4</text>
<text x="960.3" y="2007.5" font-size="25" fill="#000" text-anchor="middle" >6</text>
<text x="990.5" y="2007.5" font-size="25" fill="#000" text-anchor="middle" >8</text>
<text x="1024.5" y="2007.5" font-size="25" fill="#000" text-anchor="middle" >10</text>
<text x="1056.0" y="2007.5" font-size="25" fill="#000" text-anchor="middle" >20</text>
<text x="1087.5" y="2007.5" font-size="25" fill="#000" text-anchor="middle" >40</text>
<text x="1114.0" y="2007.8" font-size="29.5" fill="#000" text-anchor="start" >HT [days]</text>
<line x1="925.7" y1="1729" x2="925.7" y2="1966" stroke="#000" stroke-width="2.2" stroke-dasharray="9,7"/>
<text transform="translate(802.3,1929.3) rotate(-90)" font-size="30.3" fill="#000" textLength="161.2" lengthAdjust="spacingAndGlyphs">Fold change</text>
<path d="M862.7,1942.5 L894.5,1939.6 L925.7,1861.6 L958.5,1846.2 L991.2,1854.8 L1023.9,1847.1 L1055.7,1882.7 L1088.5,1883.7" fill="none" stroke="#9a9a9a" stroke-width="4" stroke-linejoin="round" stroke-linecap="round"/>
<path d="M862.7,1942.5 L894.5,1941.5 L925.7,1867.3 L958.5,1850.0 L991.2,1842.7 L1023.9,1851.0 L1055.7,1874.1 L1088.5,1881.8" fill="none" stroke="#f88078" stroke-width="4" stroke-linejoin="round" stroke-linecap="round"/>
<path d="M862.7,1942.5 L894.5,1950.2 L925.7,1907.8 L958.5,1863.5 L991.2,1874.1 L1023.9,1889.5 L1055.7,1886.6 L1088.5,1936.7" fill="none" stroke="#ffd400" stroke-width="4" stroke-linejoin="round" stroke-linecap="round"/>
<path d="M862.7,1942.5 L894.5,1944.4 L925.7,1939.6 L958.5,1932.8 L991.2,1929.0 L1023.9,1923.2 L1055.7,1909.7 L1088.5,1915.5" fill="none" stroke="#14c0e6" stroke-width="4" stroke-linejoin="round" stroke-linecap="round"/>
<path d="M862.7,1942.5 L894.5,1918.4 L925.7,1916.1 L958.5,1819.2 L991.2,1790.3 L1023.9,1769.1 L1055.7,1741.6 L1088.5,1738.3" fill="none" stroke="#ff0a64" stroke-width="4" stroke-linejoin="round" stroke-linecap="round"/>
<text x="1100.4" y="1749.5" font-size="29.2" fill="#ff0a64" textLength="77.9" lengthAdjust="spacingAndGlyphs">GFAP</text>
<text x="1099.5" y="1799.6" font-size="29.2" fill="#9a9a9a" textLength="241.9" lengthAdjust="spacingAndGlyphs">KI67+SOX9/SOX9</text>
<text x="1099.5" y="1851.6" font-size="29.2" fill="#f88078" textLength="154.1" lengthAdjust="spacingAndGlyphs">KI67 / DAPI</text>
<text x="1099.5" y="1902.2" font-size="29.2" fill="#ffd400" textLength="79.4" lengthAdjust="spacingAndGlyphs">PHH3</text>
<text x="1100.6" y="1952.3" font-size="29.2" fill="#14c0e6" textLength="170.8" lengthAdjust="spacingAndGlyphs">SOX9 / DAPI</text>
<line x1="927.5" y1="2020.6" x2="1087.5" y2="2020.6" stroke="#f88078" stroke-width="5" stroke-linecap="round"/>
<line x1="927.5" y1="2031.4" x2="1023.2" y2="2031.4" stroke="#9a9a9a" stroke-width="5" stroke-linecap="round"/>
<line x1="959.7" y1="2041.5" x2="991.3" y2="2041.5" stroke="#ffd400" stroke-width="5" stroke-linecap="round"/>
<line x1="992.2" y1="2052.8" x2="1087.5" y2="2052.8" stroke="#14c0e6" stroke-width="5" stroke-linecap="round"/>
<line x1="992.2" y1="2062.9" x2="1087.5" y2="2062.9" stroke="#ff0a64" stroke-width="5" stroke-linecap="round"/>
</svg></body></html>
